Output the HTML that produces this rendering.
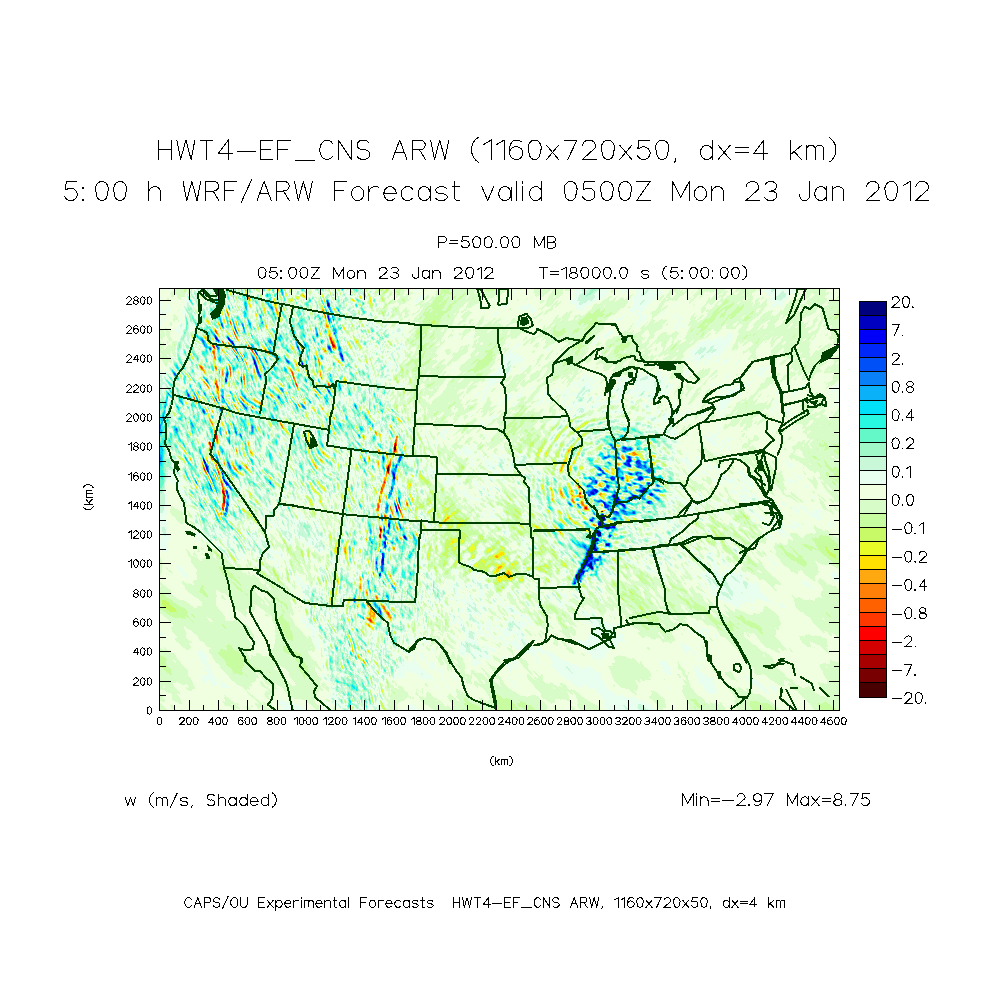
<!DOCTYPE html>
<html><head><meta charset="utf-8"><style>
html,body{margin:0;padding:0;background:#fff;width:1000px;height:1000px;overflow:hidden}
svg{display:block;position:absolute;left:0;top:0}
</style></head><body>
<canvas id="fld" width="680" height="422" style="position:absolute;left:160px;top:289px;width:680px;height:422px;background:#dcfcd0"></canvas>
<script>(function(){var c=document.getElementById('fld'),x=c.getContext('2d'),W=680,H=422;
var im=x.createImageData(W,H),d=im.data,P=[72,0,0,120,0,0,168,0,0,212,0,0,255,0,0,255,56,0,255,96,0,255,128,8,255,168,16,255,224,0,232,252,40,200,250,104,200,252,160,216,252,200,240,255,224,232,255,240,200,248,216,160,248,200,100,248,200,40,248,224,0,224,248,10,176,248,10,128,248,0,80,248,0,40,248,0,0,248,0,0,192,0,0,127],A='ABCDEFGHIJKLMNOPQRSTUVWXYZabcdefghijklmnopqrstuvwxyz0123456789+/',L={},i,p=0;for(i=0;i<64;i++)L[A.charAt(i)]=i;
var s='OGPBOAPAOCNJMCOANAMAOAQAOAPDQBPAQAPBOANBPARAQCPAQASAQAKBNCOERASAPAKBRASAQAPARASAPANAMBPASAQANAMAJANAPARATARANBQARAOALBMBNAPARASBPAOANAKAIALAPASATAQAOAPALAIAMASAWATAPALAMAPAQAOAMAKALANBOAQBOANBQASATASAQAPAOBNCOCPARBSARAPBRASARAOAMANAOAMBPAQAPAOANAOBMALAMAPASAUASAPAOANAMANAOBPARBSCRAQAPARBQAOANAMBNFOBQBNAMDLANCLBMANAODNDMCNCOBNAOIPCOFNAOLNCMINKMANNOBNBMBNDMINJOBNBOFPBOCNBOLNLOANDOCNIOBNFOBPIQDPBQCRFQBPJOBNAOBNAOGPEOHPLQBPEOBPEOJNBMCNDOGNAOJNaOENCOCNUOANCOEPEQEPTOKNTOHPAOLPAOENJMBNAOANBPAQAOAPAQAPCQAPDOBPAQARAQAPCQASAQAKAIANAOANAOANBPAOAQASARANAKAOARAQAPAQASAQAOAMANAPASARANBIALAQBSARAPAOAPAQAOAMCLAOAPAQASBPANALBJAMAPATBQAOAPALAIALASAWAUAPALBPCMALBNAPAOBPBOBPASATASARAQAPAOANDOAPBQBRAQBPAQARBPAMANBMBOAPAOANBPBNALAMAQARASAQAOBNAOCNBOARBSATASARAPAQAPAQAPAOANAMANAOCPBOAPBNAMALAMBLAMANBMALBMANAOCNDMCNFOCNAOFPBOFNAOLNDMHNZOBNIMGNMOHPBORNPOCNJOBNFODPGQBPAQERFQBPKOBNDOGPEOIPJQBPFOAPEOCPAOFNJOANBOCNBOJNZOFNBOCNUOBNBOEPFQDPUOJNTOHPAOQNLMBNAOANBQBOAPAQBPCQAOBPBOAQARAQBPAQAPBRAQALAHALAOAPBNAMAOBPASATAQALBQARAQAPAQBOANBQARBOBJAKAPAQASBQAPCOBNAMBOAPBQBPAOANBMAOAPARASAQAOAPANAKALATAVAUARAOALAOAPBMALAMANAPAOANAPARBOAPAQARAQARCPANAMBNAOAPEQBPBQBPANAOANBMANAOAPAOANAOAQAOANAMAOAPAQBPAOAPDNALAMAPARBSBQFOBMANAOAQARAQAOAPAOAMDNAOAMANAMBLBMANAOANBOCNAMDNEOCNBOEPBOSNDMINCMANVOBNKMANPOIPAOSNOOCNKOLPGQAPAQFRDQCPKOCNCOHPCOAPAOJPHQCPKOCPBOENNOBNBOJNHOANBOANEOCNFOANDOGNCOANPOIPGQBPIQBPLOINUOOPAOINOOAPAMANAQBOAPARAQBPAOBPAOAPAQCRAQBPAQBOAPBNAHAJAPARAQANALANAPBSATAQAMAKAPAQBOAPAQAPANAMAPARASAPAOAKBPAQARBQBOFNAOAPAOBPBQAPAQBPBQASAQAOAQARAMALARAUAVATAPALANAPBMBNAODPASARAPAOBNBPARBPANAMBNAOAPBOBPARAQBNAOAPBODNALAOAQAPANAOARAPBNAMAOBQAPFOAMBOARAQHRAQAPAOANAOAQBPBOANAMCNAOBNBMALAMBNAOBNCOBNAMDNDODNEOBPAOTNEMLNUOCNaOFPBOUNOODNKOKPIQFRDQCPKODNBOIPAONPGQCPKOBPCOFNDOBNKOFNAOCNHOFNAOFNEOANDOFNBODNNONPNQCPHOAPBOINVOANBOLPAOHNPPBNBQBPBRBQAPAOANAOCQARAPBQCRAPANBPAOAJAIAPARAQAOALAMAPBRASAQAOAKAMAQBOBQBOALANARATARAOAMAJANAPBQAPCOCPBOANBOBPBRASARASAQBOAQARAQATASANAKAOATAVATAOALBOCNAOAPAOAPBQARBPAOAMALAMAOAQBPANAMBNAPBOCPAQBPAMBOAQAOBPBOALAPAQBOBQARAPANALAOBQCPFNBOAQAOAPAQESBQAPANAMAOBPBNBMANBOAPAOANAMDOAPAOANAMBOCNBMCNDODNEOAPBOTNDMCNAMHNLMBNIOANZOGPBOCPAOTNLODNLOKPHQFRDQCPLOdPFQCPPOFNDODNIOJNHOMNEOBNCOFNBODNNOOPMQFPEOBPBOCNBOCNHOBNPOVNCOBNIOAPAQAOANAPARAQAPAQARAQBOANBOBRBPAOAPAQARAQAPAMBPAOAMAIANAQARAQAKAMAOAPARATARAOAKAMAQBPAOAPAQAPAMALARATBPAOAJAKAPANAQAPAOAPAOBPAQBOAMALANAOAPAQATAVATBSAPAMAOASATBRAOAKAMASAVATAOAMAKAMAOAQAOANAODQCPAMAJBKANAOBPAOAMANAOAPBNAOAPAOBQANAMALAOAPAOAPAQARAPALANAQARAQANAOARAPAOAMAOAPARBPAOBPAQDNAMANAOAPAQBPBQASBRAPAOALBOAPBOANCOAPBNBMANBOAPBOANAMANAODNAMCNCOCNEOCPAOFPAOMNDMCNBMBNDMANLMBNeOANDOHPAOCPAOUNEOANDOENLOLPFQGRDQCPLOZNAOCPFQCPPOFNDOENHOJNIOLNDOCNDODNDOCNFOANHOOPLQGPDOCPBOCNAODNHODNMOCPAOSNCOCNHOAPAQAPANBQBPBQCOANAMANAOAQARAPAOAPAQARAQAPANALAOAPAMAJAMAPARAQAKAMANAOAQASARAOAMALAQARAQANAOAQBOALAPASAUARAOAKAIAKANAQARAPBOBPARBOALBNAOAPASAUAVATASATAOAMAOATBRAPBLAMAQATBPAMAKAMAPAQAPANBOBMANAOCLAJBIAKANAOAPBNBPCOEPBOAKAMAOBQARBQANAMAQARAPAMANAQAPBNAOAQBRAPAOAPCRBQAOANAOAPAQAPAMBOAPARASBPANALBNAOAPAOBNBPAQAOAMBNAMANAPBOANCOCPAOANGOCNDOJPCODNBOGNCMBNBMBNQMBNDOBNYOBNCOENAOFPBOUNDOBNCOENLONPDQGRBQGPLOWNBOCPFQBPPOCNBOBNDOENGOKNEOCNBOKNCOBNFODNMOANIOANAOMPDOBPEQHPDOCPAOCNAODNHODNLODPBOSNCOCNHOAPAQARAOANAOARAQAPAQCPANAMANAOAPARAQAOBPAQBPAOALANAPANALBPAQAPAMALANAOBSBPAOAMAQASAQAMBQARBNBSATBQAOAIAHAMAOASARAPAOBQARBPAMBOAPBRATAUATARASAPANAOASBQAPBMALAOAPATARANAMANAQBPANCOAMALCMANALAKAJAIAMAOBPBOAPAQBPANAOCPARAOAKBOAQARBQBPAMAPCNBQARAQAOBQAPBQAPBOAPDOCPAQANALAKALAOAQASBQANBLAMANAPBNBOAPBOANAMBNAOAPAOANCOFNBOBNIOJPDOCNCOCNBOANCMFNJMBNDMCNDOBNQOANGOBNCOLPBOWNAODNBOFNEOANEOOPDQGRAQHPKOCNCODNAOKNCOCPXOCNCOBNDODNFONNCOCNBOKNCOBNFOCNZOSPCQKPDOKNIOCNLOEPAOGNBPBOJNAODNDOFPASARANBQARAQAPAQAPBOANCPAQBOBPAQARAQAPAMANARAQANAKAPAQBOAKAMAOBSATAQAPAOAPASAPAMALAPASARAPAOASARATASARAJAGAIAOARASAQAOBQASBQAMANAPBOAPARDSBQAOBQCPANALAMAOASBOBNAOCNAMAOAPAMAKCMAOBMALAKAMAOBQARAPBRBQANBOANAOARAPAMAJAOARCQAPBNAMANAOCQARAPAOBPAOAPARBPBNBOCPAQBPBLAJAKAOAQDPAOALAKANAPAQAOBPCOANAMALANCOANBOBPAODNAOCNHOBNAOGPEOBNDOBNEMHNDMANDMCNCMCNDOBNQOBNFOPPCOjNEOBNDOOPDQQPFOAPBODNCODNAOENAOENDOBPWODNCOBNFOBNFOLNAOBNBODNAOHNAOBNDOANCOANBOCNUOANEOINBOGPDQJPDOKNIOCNMOLNBOAPBOENBOINCOGRASAPAOBQDPAOCNBOAPBNBOAQASAQAOAMAOASBOAKAQARAQAPAKALAOBRATARAPCRAPANALAOARBSAPARAQATBRAMAGBMAPATARAPBQASARAPAMBPAQAPAOAPAQARATBRAPAMAKAMARCOAMALANAQATARAPAMDLBNAQAPALAJAKANAPAOCNAMANAOAQASAQBSARAPAOANAOANBRBOAKAMAQARBPAOAPAOAMANBPCRAPAOANAOAPAQARBQAPAOAMALAMAOBRCPANALBNAPCQAPANAKBNAPAQBPDOANALBMANBOBNAOAPAOBNBODNCMANEOANBOFPFOANDOCNDMHNDMBNDMBNCMCNEOANEMBNJOCNBOTPBOPNAOTNJOOPEQPPFOAPBODNCODNBODNDOBNDOCPVOENBOBNBOBNJOKNBOBNBODNAOHNBOANGOCNBOBNUOBNEOENBOANBOGPDQIPEOJNJOANROINBOBPAOFNBOKNAOCPBOBQATASAOCQDPAOAPAOANBPBNAMAOAQASAQANBPATBPAKAPARBOALAKAOAPAQASARAPAQAOAQBPAMANAPAQARAQARBSBRAPAJAGAKAPASBRAQARBQAPANAMAOARAQAPAQARBTAUARAOALAJAMARCPAMALANAQATASAPANALAKDMARBNALAMAOBNAOAQAOANBPARATASAQBPAQAPAOBNAMAPASAPAMALAPASATARAOAPBNAMANAQARAQARAQAPAMAOAQBRCQAOANAKAJAKAOAPASATARAQAOBPFNAKBMAOARASAQAODNAMALBMANAOFNCOCNDMCNEOFPFOANDOCNEMHNCMBNIMCNWOCNBOdNAOGNAOTNIOOPGQOPFOBPAOCNDODNCOCNEOANDOCPVOENBOBNCOANKOMNCONNIOCNFMANQOCNFOCNCOBNAODNAOBPFQGPEOINJOBNSOCNCOBNBOCPAOWPESAUARAOBPAQCPAODNAOAPAOAMAOAQARBOBPASAUAQAMAOAQATAQAOAKAMAPAOAQARAPBOAPARAQANAMANAPAQBRBSBRAQALAIAKAPARASARASARBQBPAMANAPARAQASAUASBTARAOALAKALAQBRAPANALANAQATARAPANAMALAKAJAKAMAPARAPDNAMAOAQAPAOBQARAUBQAOBQBPAOANAMANATASAPAJAOAVAXAUAPBQAOANAOAQARAQASARAOAMAPARAQARBQAPBNBKAJAKAOARATBRBQAPAOAPAOAPAOANAKAJAMAPASBQAOCNCLBMAOENBMANBOBNEMCNDOFPEOBNCODNEMHNBMCNHMCNWOjNAOWNDOBNHOBNAOMPFQKPBQBPFOENFOBNDOBNKOCPBOAPIQBPHOFNAOBNGOCNAOBNBOMNCONNIODNEMDNNOBNGOCNDOFNBOBPKQAPDOINKOBNKMANHOBNCOBNFPBOWPDQATBPAOBQARAQAPAOEPAQAPANBQARASAQAOBRAUASAPANAQATASAPAKALAPANAPARAQAOCRAPAOAMANAOAPBQBTAUASAPALAKAMAPARAQARATASARAQBOANAMAOARBTAVASAQASARAOAMAKALANAQARAQAOALAPARBQAPANAMBLAKAMAOANAQBPAQAPANAMANAPCQARASATBPAOBPARBOAMBOASATAOAJAMAVAZAVAPAQARAPAOBPAQARASARAOBPASARAQBPANAOAQAOANAKBOAPARASARBQARAPCOANAMAKAJALAPARASAQAOCNCMCODNAMBNDOANFMBNBOGPEOANDODNBOBNAMHNAMENGMCNWO7NDOBNHOBNBOBNAOIPJQGPIOFNMOANLOCPAOBPHQBPHOINEOXNBOONHOCNFMENJOANLOCNCOFNCOBPCOAPKOFNLOENJMANHOCNKPBOWPBQAPBRATARAOBPAQBPAODPAQARAQAOANAPARASARAOANAQAUAVASANAPATBPALAKAOAPANAPAQAPBOAQAPANDOBPAQAUAVATAPAKBOAPAQBPASATARAQBOANAMBOASAUBTARCOAMAKAJALAPARBPAMAOARAQARAQAPAMCNAOANAMAPASAQAPBOANAMAPAQARASCRBQAPAOAPARBOAMBOAPATAPAMALATAZAXASAPASAQAPAOBQARCPAQARBQAPAOBNBQBPAOBPAQBRAQARAQASBQBOANAMAKBLAOAPAQBPAODNAOANCOBNAMBNEOBNHOGPDOBNDOCNCOBNBMGNAMFNFMCNJOCNJOSNBOHPAOeNCOCNHOANBOBNBOIPIQGPGOHNaOFPGQBPHOJNDOXNBOONHOCNBOBNBMENEMANDOBNKOANAOBNEOCNCOGPKOENJOGNSOCNLPCOVPBQBOAPASATAQAOBQBPAODQARBQAPANAPARCOANAQAUAWATANAPATAUAPANAKAPAQAOBQBPANAPAOANAOFQAUAWAUAQAKAJANAOAQBPAQASBQBOAMALAMANARASAUAVASARBOAMAJAIAKAPARBQANAMAQARBQBOANFOASAQAOBPAOANAPARASATBRAPBQBPAOAPARAPANAMBOASBQALASAZAaAWAQCOCPAQARAQDRAQAOANAOCPAQBPBQARAPANAMANAPASAUARAPAOANAMALAKBMANAPAQBPCODNDMBNDOENFOHPAODNDOANIMGNBMENFMCNJOCNJOSNBOEPEOTPAOJNAOENGOANFOKPHQDPIODNAOCNaOFPGQBPGOKNDOKPBOLNAOPNBOANDOCNBOCNBMDNEMBNCOBNNOBNEOBNEOFPJOENJOHNRODNLPCOEPAONPAOBPAQBPAOAQASARAOBPARAPAOANAOBQARBQAOBPARAQBPAOAPAUAVASAOAQASAUAQAPALAOAQBNAPARAPAOBPANAOAPBOBNAQAUAVAUARAMAJAKAOAQBOAPAQARBQAPAMALBMAOARATAVATBSAPAMAJAIAKAOAQASAQAOALAPARCQAPAOAPBNAOANAOAQBOAPAQAPAOAPARASATBSAOBPAQAPAOBQARANALAMANAOASAQAMAQAYAbAXARAOAPANAPAQAPAQBRBQAPAQBOAMAOAPCQAPCTBPAMAKALAPASATAQAODMALAKALANAOAQARAPEOBNAMCNBOINBOHNAOFNOMHNAMENEMCNKOCNHOHPBOKNBODPGOSPDOMNGOANFOFPAOGPFQCPIOCNfOGPGQAPGOKNEOJPBORNAOJNBOCNBOCNBOCNBMCNEMDNIMANIOANEOBNFOEPKOCNLOCNEOBNNOGNKPBOFPBOMPBOAPAQCPBQBPAOAPAQBOANAOAPBQBPAOAPAQBPBQAPAQATAUASAPAOAQATARAQAMANAPATAPAOAQBOAPAQANBPAQAPBOAQATAVAUASAOAJBOAPAQAOAPAQBRAQAPAMALBMANAPAQAUAVAUATAQAOAJAIAKAOAQASAQAPALANARBQAPAOBQARAQAOANBOAPBQARBPAOAQBSATASAOAMAPAQAPANAOAQASAOAMBKALAPARAQAPAYAbAYARANAMAOAPAQBPARASBQAPAQBOAMAOAPDNBOASAUASAOAKALARBQAOBPCNALAKALANAPAQARAPAOAPCOBNAMBNAOKNAOONBOCNJMONDMCNLOCNGOEPAOBPBOQPGOPPHOLNGOANBOBNBOQPLOFNKOANUOGPNOLNDODNAOEPBORNAOJNBOINFMBNEMENIMBNHOANNODPEODPBODNSODNLOFNMPBOEPCOMPAQAPBQDPEOAQBPAOBPGQBPBRAQBSATARAPAMAOASBPAMANAPAVARAOAPARAPAQARAOAMBQCOAPASAVBRAQALAJAMAPBOAPAQAPAQARAQAOALAKAMAOANAPASAVCTAQAKAJAKAOAQATASAQAMALAPARAQAPAOBPARASAOANAMANAQAPARASBQANAOAPARASARAOAMANAPBOBQARAQANAMAJALANATASAPAVAYBRAOAMANAPAQARAQARASBQAPAQCNAOAPBQAPANAMAOARATASAOANAOASAQAOANAOAPAQAPANALBMAOAPAQBPAOENAMCNAOFNAOBNBOUNHMPNDMDNKOCNFOFPAOBPBOQPBOAPDONPJOLNBOBNBOBNCOANBOSPJOGNKOANTODNAOCPMOLNDOCNCOJPAOXNBOINFMBNCMGNFMANBMCNVOEPDODPBODNOOANDODNKODNPPBODPAOAPBONQBPAQARAQARAQAPANAOCPAQBOBPBOAPAQBPAQARAQBRBQARATARAPAKANAQASAOANAMAOAUBPBSAPBQAPAMALAOAQBPAQARAVBRAPANALAMAOCPARAQAPARAQBMAKALAMANBQATAVAXAVARAMAIAJANAQATAUAQANAJAMARAQAPAOANAOAQASAQAOANBQARAQASARBOAMAOAQARBOAMBPBOAPAQARAQANAMALAKANAUATAQAPAWBUAQAOAMAOAQATBRDQARBQAOBPAQCNAMAOAPARAQAOAPARASAQANCPCNAMALAMAOAPBOCNAOCNAMBNAOBPBOBNFOGNAOMNBOANDMBNCMLNDMDNIOENEOFPAONNAOFPBOCPAOMPMOBPBOGNBOGNBOBNAOTPJOFNfODNBOBPNOLNDOBNCOiNDOGNEMCNCMGNFMFNVOGPAOLNNOCNDOANKODNJMANGPBOCPBOAPCOMPAQCRDPANBOCPAQAPCQAOAPAQBPBSBRCQBSAQBKALANARAPAOALAOASAVAQAOARAQAOAPAQAOAMBPBQBRAUAVARAPAOANBOCPARAQAPARASAQANAKAJALANBOARAUAWBSAOAIBMAQASAUARAOAJALAQARAQAPANAMAOASBOANAOAQASAQBRATAQAMBPARBOANAMAOAPAOBQBPAMCJALAPATAQAOASAVBRAQALAKAQATAUATARAQAOARAQCPBQARAQBOBPAOAPAOAPAQARATASAPANBOBPAOANAMBOAPAOANCOANCMBNCOAPAOANDMBNBOFNBOFPAOFNAOBNCMBNDMKNDMDNIOFNAOfPAOJNAOFPAOBPCOAPFOAPDODNDOGNCOWPIOGNGMANUOJPOOKNDOANDOiNEOFNEMCNBMGNGMGNOOCNCOTNMOENOODNJMANGMAPBOBPBOCPBOJPAOBPAQARAQARDQAPANBOBPAQBPAQARAQAPAQBPBSATASARCQARAQBLAJAMAQBOAJANAQAUARAOAPAQANBQAPANAMAPARAPAQARASAVASAPAOCPBOAPARBQBSARAOAKAJALAPBOAQARAUAVATAQAJAHALAPAQATASAOALAKAOARAQAPAOANBRATAQAOBQASARAQARATARANALAOAQBNCOAQAOBQBPAOANAMAIBLATASAQAPAVBTAQANAJAMAQATAVASAQANAQBPBOAQARBQAPBQAPAOBPAOAPAQASATARAOEPAOANCOBNCOANHOAPBOANAMDNBOENCOFPAOENAOBNCMBNBMBNBMINEMDNHOENCOePAOJNBOHPBOCPCODPDOCNAOBNAOFNEOZPEOGNFMCNDMANOOJPGOAPGOKNEOANBOkNEOANAOBNFMCNBMBNBMCNGMGNOOCNDOTNGOANDOFNOODNRMAPBOBPCOCPAOGNAOBPBOAPBRDQDOAMANAOBQDRBPBQAPAQASATBSARASARAQBPALAJAMAPARAPAIAKAPARBOANAOANBQARANBQARAQAPASBTASAQAOCQBOBRATAQAPARASAQALAJAMAOARAPBRASAUATAPAMAHAJANAPARASAQAOALANAQBOCNAPARBOAPARASBQBSARAOAMANAPBNBOBPAOBPAQAPAOBNAIAGALASAUAQANARAVAUARAOALAKAOARAWATAPAOAPAQAPAOAPAQARAQAPBQARAQAPAOAPAMANAPARASBQBPAODNAMBOAPANAMANCMANBMBNAOAPCOANAMANBMANBODNGOHNBOANDMANBMBNCMINCMENIODNCOBNAOxPAODPBODPEOKNFOTNAOFPDOFNGMDNCMBNNOKPFOCPEOKNHOBPAOiNDOANIMDNAMBNCMBNGMGNOOCNDOHNBOGNBOANFOBNDOANBODNNOENQMBPAOAPEOCPAOKPAOAPBQARAQFPANAMAOBPAQCRASAPAOAPAQBRASAUBTBSAQBOAMAJALAOARAPAJAHAOAPAQAPANAMANBOAQAPAOAPAQARASAUATASBQAOBPAQBNAMAQATAQAOAQATARAMAKBNASBPAQBTBQAOAIBLAOAPASBPANBOCPBOBPAQCSBTARAQARBQAOANAOAPANDPAQAPAOAPAODKAGAJAPAVARALAOAWAVATAPANAJALAQATBQAPCOBPCQGPBMBOAPASATBRAQAPAOBPAOANBOBNDMFNAOAPCNEMANCOBNGOHNBOBNDMANAMCNBMPNKOBNCOCNCONPAOsPEOGNAOBNDONPAOFNBOPNGMENAMCNNOLPEODPDOINIOCPBOiNCOBNHMDNAMBNDMANGMGNLMBNBOCNCOFNEOGNIOBNHOCNNOENQMBPGOOPERBQDPARAOAMBOAPAQCRASAQAOAPAQBRASAUBTBSAQAPANAOAKBOAQAPALAGAKAOAPAOANCOANAPBOBPARATAUBSARAQAPAOAPAQAPAOALAOASAQAOAPATASAOAKAJAOARATAQAPAQASAUASAOAJAIAJAMAOASATARAOANAMANAPAQBOBNAOAQASCTASAPBRAQAPANAOAPAOAMCOAQBODPAQAOAHAFAMAVAUAPAMASAUBRAOALBNAPASBPCOEPAQFPBLBOBRATBRAQAPAOAPAQAPAOFNAMANAMALBMBOBQAPAOANIOANBOANDOHNBOBNDMFNAMPNLOBNBOBNGOWPBOiPBOGNBOBNCORNBOANCOONBMANDMINGMBNEOOPBODPDOINIOCPBOjNBOENEMGNDMBNFMGNLMBNCOANEODNFODPAOBNIOBNIOBNNOFNPMCPDOAPBOOPDOAPARDPAOAQBNAMANAOAQBRBSARAOBQBRBTAUATCQBPBLAKAPAQARAOAHAIANBOGPAOANAPAQASAUAVATARAQAPAOBPBOAKALAQARAQBSBRALAKAOAQATASAPAQASAVATANAKAIAJALAOARATASAQANCOAPAQAPAOANBPARASARATBQAOARBPAOBPAOALAMBOARAQAPEQBKAFAMAUAWAQANAQAVATASAOAPAMAKANAPASARAQAPAQAOAMAOAPCQCRAQCMAKAOAPARASBQAPDRAQAPAOANAOAPAOANAMANAMALBNBOAPAQAPAOBNJOCNCOENCOCNDMMNAMHNIOBNBOFNGOVPEOBPAOlNCOBNCORNFOONBMCNBMJNFMCNDOPPAOCPFOHNIOCPBOLPBOPNAOLNFMFNCMDNEMFNMMCNHOCNHOFNiOGNQMCPDOJNAOHPBQAOBQARCQAOAPAQAPANAOBQBRASBRAPAOAQCRASATBSBRASBPAOAKAPAQATAOAJAHAMANAOAPAQAPDOAPAMAOAPARAUBTARAQAPAOANAOAPAOAKAJAOARATASARASBOALAMAOARASARBSAUBOALAIAJALAOAPASATARAPAOANBPAQAPANDQASATASATAQAPARBOBPBOAMCOARAQBRASAQAPBQAMAGAKASAXATAPBUARBQAPAOAKAMAPARCTARAPAMBPDQARCQAPANALAOARBQAPBOAPBQARBPBOBPAOANCOAMALAMAOAPAQBPAOBMBNHOCNDOCNBODNEMMNAMGNDMANEOANBOFNGOVPEOjNAODNCOBNBOSNFOINAOENBMRNBMDNDOIPAOFPAOCPFOCPBOFNFOCPBOLPBOPNBOLNEMFNCMDNDMGNMMBNIOCNHOFNEOANcOGNAOANOMDPBOAPAOINCOGPBQAPANAPARDPAOAPBOANAOAPAQARATBQAPAOAPAQCRBSARASBTBRAPAMAOAPATAQAMAHANAOAQAPAQDRAQAPAOANAPARAUBTAQBOBNBOBMAJAMAQAUBSARATAQAMBOAPARASBRASATAQANAKCMAOARATASBQANAMAOAQBOBNBOARATASARBQARAPAOBQBPANCOAQARBTBRAPBRAPAIAHAPAXBSAOARAUASBQAPAOANAPAQBSAVATAPAMBPAQDRCPAOBNAPAQBOBPAOAPAQAPAQARAQAPAOANAOFNALAMAPAQCPAOANAMBNBOBNDOCNDOCNAODNFMTNDMBNHOENGOONAOGPAOBPAOoNCOQNBODNGOENFOBNCMRNAMENAOLPBOEPAODPBOBPHOENEOCPBOLPCOONBOGNCOCNEMENCMENCMHNHOANCMANJOCNIOANAOCNDOCNaOHNAOANMMANBMCNAPAOBPAOCPAOENDOGPARAQAOBRCSAQAOBPAOBPBQARATBQAOANAOAPCQARCTAUCSAQAOANAPATASAPAJAMAOARAPBRCTASAPBNAOAQAUATBRAQAOANCOBNAKAMAPATAWATAQARAPANBPAQBRASBQASATAQAMAKCNAPASATBQAOAMANAQASAPAOBNAOAQASARAQASARAQBPBQASAQAOANBOAQATASBTASAQBSARAJAGANAXAZATAOAPAWAUASAQAPAQAPCRBTAUAQAPAMANARBQBRBQAOBQAPDOEPCQBOANDOAPBOBMANAPENAMBNBOAPAOBNCOBNDOHNBOANBMANCMQNFMBNFOENGONNBOjNAOONBORNBODNHODNKMRNBMCNBOLPBOEPAOIPHOENCORPCOONCOANBOCNCOCNEMENDMDNDMANBMDNHOANBMCNBMANFOCNSOCNBOCNROKNAOBNLMANBMDNAOCPBOINDOFPARBOANAQARBSARAPCOANAPAQARBSBPANCOAPAOAQARBSATAUCTAQAPAMAOARAUARALBPARBPARBSAUATARAOAPAOAPASATASBQAOANCPBOAMBPARAVAUAPBNAMAPAQAPBQASBQASAUASAOAKAJAKANAOARASBRAPANAOAQASARAPBOBPARCSARAQARAPAQBSBPANBOASATAQARASATASARBQAKAGANAWAZAUARAQAVAUATAQBRCQBPAQATASAOANAMAPAREPAOAPARAPAOHPCQAPAOANAMBOAPCOAPBOCPAOBNDOAPCOANBOCNCOHNBOANBMBNCMPNGMANFOFNFONNCOiNBOLNDORNCOCNHOENCOBNEMNNFMBNCOLPCOKPAODPFOFNBOSPBODPDOHNEOCNCOCNEMFNCMBNBMANCMBNAMDNHOBNAMFNEODNSOCNBOCNROKNAODNIMBNBMDNBOCPBOHNEOBPBOCRASAPAOAPARBSBQAPAOBMANAQASARAQARAOAMBNAOAPAOAPASARASBTASAUBRAPAKANAQATASANAKAQARASAPAQBSATBSAOAPAQAPAQARBTARAPANBOAPBOAMANAPBTAUAQANCQARAPAOBQASARASAUASAPAKAJALAMBPARCPAOBPARASAQARAPANAOAPARASDRAQCRATAPANBPASBPBQAUBRAQAPAMAIAMATAZAWAUARATAUATARAQARASAUASAOCRASAPAOAMBQARASARAPBQCOANAOAPAOANBOCQAPBOBMBNAOAPAOBPBQANBPAOBNBODPCOANDOKNEMBNCMQNNOHNDONNCOJNBODNAOLNBOCNCOMNBOSNFOANGOENBOBNEMNNKOJPEOKPBOCPGOFNAOSPBODPEOGNFOBNCOCNCMANAMFNKMBNBMBNJOANAMFNEOENSOCNAOCNNOONBODNHMBNCMCNCPAOBPCOGNEOAPCOCQASAQAOAPARCSARAQAPAOAMBQASARAPAQANALBNBOAPAOARASBQBSAUAVASANAJAKAPATASAPAJAMASAUAPBNAQASATBRAPAQAOANAQAPATBQAPAOBPAQAPALAMAPAOASATARANAMANAPAQAPAOBPASBRATARAPALAKALCOAPAQASAQAPAOAPAQASBRAPAMANAPARASATBSBQAPAQARASAPAOBPARAQAPANARASATAQCPAKBRAYBVARASAWATASAQARATAUASAODRAQANBMAOARBQAOAQBPAOBNBOBNAODPAQAPAOBNBPAODPBOANBOBNAOCPAOBPBOCNCOFNAODNDMANEMPNNOINCODNCOGNDOINBOCNCOEPAOENCOBNDODNAOONAOLNGOANFOENBOBNDMINBMENJOGPAOCPDOLPBOCPFOFNBOHNBOBNAOMPCOHNEOBNBODNBMJNKMANQMDNEOFNDMANOOFNOONNDOCNLMBNEPBOAPCOGNBOCNAOAPBOCQASARAPBRBQASBRAQAOBMAOARBQAPANAKAJALANAPAQAOAQARASAQANARASAVATANAKAJAPASATASAJBQAUASAQAKANASARASBQBPAMAOAPASAVASAQAOBPAQBNBQAOASATASAPALAMAOAQAPAOANAOARASARBQAPAMALAKALAMANAPAQASARAPAOBQASBRAPAMANAPASATAUATASBRAQEPBOAPAOBNAQARBQBSARALAJAOAWAYAVASAQAVARDSBRAPAOBNAPAQAOBNBQBPDOBNAMANAOGPAQAPANBOAPBNAMANAOCNAOCNAODPAOGNBOBPBOBNAODNJMFLAMCLBMENAMANLOHNDOCNDOFNEOBNAOENBOBNDOKNIOTNAOBPAOINGOANGOCNIMJNAMFNCMBNDOGPAOCPBONPBOCPGOFNDODNHOLPCOINGOBNDMJNKMANQMDNEOENKOBNHOFNOONNEOCNCOANOPBOLNAOCNAOAPBOCPASBPBQCRASARAQAPAOANBQARAQAPAOAKAJBMAPARAQBRCLAMARAVAUAPAMAJAOARAUASAIAGAOATAUAQAKBRCTASAQAPALAMAPAQAVAUARAPAOAPAQBNBQAPASATAUARAMAKAOAQAPANAMAOAQASARAQAPBNALBMAOBPAQARBQAPAOAQASBQAPANAOAQASATBSARASBRAQAPBQARAQAOBNAOCQARASARBQAMAKANAUAXAUBPASAPAQARASAQCPCOANAPBOAPAMANAPBQAOCNAMALAMAOAPAODPBQAPAOBQAPAOAMALAMAOBNBOBNAOAPBODNCOCNBOBPBOGNIMJLDMENMOFNEODNCOGNDOGNCOBNDOLNHOTNAOMNZMVNDOGPAOCPAOUPBOAPCOFNEOCNHOMPCOHNGOBNDMJNKMANLOANMOENJOCNHOFNPOINAODNDOCNCOBNOPAOINBOHPBOCPASBQAPBQAPAQASATARAQAPAOANAOAQCOANAKAJALANARBQARAQASALAJAQAUAVASAPAKAMAPAUARAKAFALAQAVAQAKAJAPASAQASATASAQAMBQAPAUAVATAQAPDNBRAQARAUAWASAMAJANAQAOANAMANAPARBPAOAPAOANCPBQAPAQARAQAPCRBQAPBQASERBSBQAOANAQARAQANAOBPAOANAQARAUARAPBMAKAMARAVATAVAOAPCSBPFNAMANAPCNAMAPCOANAOANAMBNAPAOAPAOCPAQAPFNAMALAMANCOCNAOAPBODNAMANAOAPAODPCOFNAOFNDMHLDMDNNOFNCOGNBOGNEOENDOBNCOMNHOTNAOMNZMVNEOfPBOBPBODNAOANEOBNIOMPCOHNMMJNKMBNKOBNLOENJOCNHOGNUOCNAOENCOCNCOCNOPAOINBOHPCOBPASATAQAOAPBQAPAQATASAQAPCNAPBQBOAMAKBMAPARBSARAQANAIALASAXAVAPAMBOATASAOAGAIAOAVASAMAIAOATARAQAUAVARAOALAPBTAWAVARAPAOBPAMBRBSAUAVASANAJANAQAOBNAMANAPARAPAOAPAQAPBOAPAQARAPAQDPBQARAQCSAUASARASBRAQARBQAOANAPAQBOAPAQAOBMARASATARAOANALAJAKAPAUASARAPAOAQAPASARAPAOAPAOCNAMANAPDMANAOAPAOANBOANDOBPCQAPCQAPBOANGOBPAOCPAOBNBMBNAOAPAODPCOENBOFNDMHLDMDNNOENCOHNBOBNAOCNEOENEOANDOANBOINDOFNBOdNaMDNBMNNGObNAOBPEOENAOBNOOCNAOIPCOEPBOBNLMDNCMBNLMBNJOCNLOENIODNHOGNIOBNKOANCOENBODNCOCNOPAOINBOGPBQAPAOBPASBQAPFSATAQBPAQANBPAQARAQAOAMCOARAQASBQBJAIASAYAWAQAPCSATARAJAIANATAUAPAIAMATASAQATAWAUAPAKANARATAWAVARAQAOCMALAQASBTCQAJALAQAOANBMBNAQBOBRBQAPAQARBQCPBQARDQARASATBRASBRAQAPAQBPANBPAQDNAPANARASBQANBLAIAJALARBPARAPASAPAQBPBRAOAMANDPAQCNALAOAPBOANAPAQAOAMALANAOAPAQAPAQAPCQAPAODPAOANAMANAOAPBQAPAODNAMANBOBPBOCPDODNAOGNDMPNMOENCODNBOFNAOCNEODNPOFNCOINAOBNAOaNCOBNXMBNCMBNBMINGObNAOBPFODNAOBNOOCNBOHPCOEPBOBNLMENBMBNLMBNBOBNFODNBOCNGODNHOGNFOGNIOCNNOFNBOCNCOCNPPAOINBOGPAQBPAOBPASARAQAPEOAQATARAQCOANAPBRASAQAPBOANAPAQARASBQAMAIARAWAXASAOARBSATARANAIAOASAVAPAKALARBQBWAVAPAKAMASBUAVARAQAPAOBMAKAOATCSBRAJBPAOANCMANAQBPAOAQARAQBREQAOBRATBRBQARBSAUASBTARAPAOAPAQAPAMBOARBQARAPBNAPARBQANAMAKAHAIAJAPARAPAUASBPAOARCSAOALAMAOCPAQBPAOALAMAQAPBOAQARAOANALBOAPARBPKOANAMANAOAPAQBODNAMBNAOCPBOAPAOBPAOENAOGNCMNNBMBNMOKNBOFNAOCNAOBNBODNQOANAOCNCOINEODNBOCNAOKNAODNCOBNBMANVMANCMANDMHNHOaNAOBPBOAPCOCNBOBNOODNAOIPCODPCOBNBOANHMENBMBNMMANBOBNGOCNBOENEOENGOCNAODNGOENJOBNNOFNCOCNCOBNGOBNHPAOQPBQAPBOBPASARAQAPAOAPBOCRASAQDOAPAQBSATARASAQANAMAPBRASBRAKALASAXAUAOARATASBRBKALAQAWATAMAKAPAQAPBUAWAPAMBRBTAUASAQARAPAOANAKAMASATARASBQALAIANAPANAOBNAMAPAQAPAOAPARCQCSARAQAPAOARAUATASARAQBRBTCUARAPAOAPAQAPALAMAOAQCSAQAPANAOARAQBOANALAHBIANASARAUBSAQAOARASARBQAMAKANAOBPAQBOANALAMAPBQBRASAPANALAMANAPBQBPBQAPDQBPBOANAMAOAQARAPAODNDOAPAOCPCONNCMMNDMBNLOJNCOGNAOBNBOANCOCNTOBNCOJNEOCNBOPNAOCNCOBNBMANeMGNJOZNBOEPBOCNCOANQOLPCODPCOENHMJNOOCNGOANCOENFOFNEOCNBOCNHOCNKOBNEOBNHOENCODNBOCNBOBNBOCNHORPEOBQASARAQAPAOAPBOBNAQARAQBRASAQAPARAQASATBSBOAMBOAPASBQAMAJARAUAVAQAPASCQARANAKAPAWAVAQAJANAPBOARAWATAOALAQBSAUASAQASARAPAOAKALAQASARCQAOAJALAPAOBQAPAOAPAQAPAOAPAQBRAPAOAQARBQBPAQATAUATARAQCRASAUATBSAOBQAPBNAMAOAPBQAUASAOANAMARAPARAPBMAJAIAJAOASARBUATARAPAQATASBTAOAJAKANAOAPAQBNAMANAMANAPAQARAQBPANAOANBPDQBRAQAPCQBPBOBNAOAQAPAODNAOBNAOBPGOKNEMKNAMANDMCNKOJNCOGNAOCNFOBNTOBNCOGNAOBNFOBNCOCNAOKNBOBNGMBNdMDNNOZNAOEPAODNUOMPCODPBOFNGMJNOODNJOENGOENFOBNBODNHOANLOBNEOBNHOBNFOENBOFNBOCNIOENBOKPGQASARAQAPBOAPAODQAPAQASBRAQARASERBNALAKAOAPARAQAPAIALASATAQANAPARBQAPAQAKAOAUAXAPAJAKAPAOBQAWAUAPAMAOAPARASATAQARATARAPAMAKAOASARAPAQAPAOAKBOAQAPARASAQAPBOANAPBQBPAOAPAQCRAQBSAUBRAPAQCRATDPBQCOALANAOAPAQAVAUANAMALAPBRAQBPANALBOAQARBVAUBRAQASATAUASAPAKAJAMAOAPAQAPANAMANBMAOARBPAOAPCOBPAOCPARASARAQAPAOAPEQAPCOBPBOFPCQBPDOINEMKNDOANBMANFOANDOUNAOCNGOANJOBNIOANDOENOOPNGOANBMBNHMBNLMBNFMDNOOYNBOINVOLPCOLNDMANGMFNBMANLODNJODNGOENFOBNCOCNVOANWOENCOENBODNBOANIOBNBOIPFOAPAQARASARAPCOBPAOANBOBPARASBRATASBRAQASAUASAQALAJAIAOBPBLAKAOARAPANBQDRAKAJAQAXASALAJAOAPBQAUAVAQANBOAQARASARAQASARAQANALAOAQASAPCNAMALAMAPAQARATASAQAPAOANBOAPCOANAQBPAQBRATCRAPAQDRASBTARAOAQASARAQALBOAQAPAUAVAPAMAJAOAQDTAQAMALAKANAQASAVAWAVATAQARASBQAOANAKALAODNAMANCOAQBOANAQARAPAQCOAMANAPARASBRAPCOAPAQDOBPAQBPAOCPAOBPBQCPEOGNBOANBMKNDOANIOBNCORNFOBNQOBNIOANDOENQONNFOBNDMANGMCNJMDNEMCNPOHPAOPNBOKNSONPAONNBMBNHMDNCMANCOBNGOLNAOENGOENFOBNzOENCOFNAOGNKOANCOBNAOEPEOAPAQARDPCOBPBNBOCPARASBUBRBQBUBRAPAJAFAIAOANAOAPAKALAQAPANALAOAQDMAHAOAWBPAIAMAQCTAVARAOANBPARBQAOAQARAQANAMAOAPARAQAPAOANCMANAQBSATASARAPAOANAOBQBPANAPAQAOAPAQATCSBQAPAQAPBQARASBRAPBTARAQAMALAOARAPATAVARANAJANARAOAQARAUASAMAKAJAMAPASAVBWAUARAQAPAQARAPBNALAMANEMANAOCPAOBQASARCSAPAMALANAPASATASAQAOAPCQCPAOAPARAQAPAODPBOAPBQDPCOFNCOBNAMKNDOANIOCNCOENBOJNGOBNAOANMOCNROANROHNAODNFOBNDMCNEMDNIMENEMANPOHPDONNBODNAOGNEOBNJOOPAONNCMBNGMDNGOCNFORNHODN6OFNDONNKOBNEOEPDOBPAQARCQAPAOCNAPAQAPANCMANAPASATBUASARASARASAVATARALAFAGALAOBPANAMANAOBLBQAPCQAHAJASAXAQALAKAPAQBTAVASAPAMANAPARAPAQAOANARAQAOANAOAPAQBPBNAOAPAMALANAPAQATAUASAPAOCPARAQAPAOAPAQAOAPARATESAPDRBSBRAQAPARAQBOAMAOARAPARAVATAOAKANARAOARASAUATAMAJBLANARATAUAWAUARAPAOBQARAPBMDNEOAPAOANAOAPBRASARDNALBPARATASAQAPBQBPAOBPBQARAQAOEPEQCPDOENCOBNBMCLAMBNAMENBOBNBMANFOBNCOFNAOJNGOENLOCNKOANFOBNQODNAOCNBOCNFOCNDMFNAMFNGMENVOHPEOKNDODNBOFNEODNGOSNBOKNBMBNGMCNGOGNCOSN/NFODNFONNHOANDOANDOGPBOCPAQASBQCOANCOAQARAPANBMANAOAQASBTASBTASARAUAVATAQAIAFAJANAOBPANAOCMAJAMAPANAQBKAFAOAVBQAKANAOASBUATAQANAMANARAQAPAOANAPAQAPANAPBOAPCOANAQAOALBNAOARATBQAPAQBPAQARAQAPBQAPBRBSATAUBSAPAOAPAQARASCRBQAPDNAOAPBRAVAUAPALBPBQASBTAPAKAJALANAPATAWAVBRAPAOBQARAPBOAMALAMANAOCNAOAPAOANAOAPBQARAQDPALBNARAQBPBRBQAPANAMAOAQARAQAPAOAPBOBPAQAPGOGNCOCNBMBLBMANBMDNCOANBMANLOQNFOGNKOBNKOBNFOBNLOANCOCNCOHNFOBNAOANCMLNHMBNAMANMMANHOIPEOJNJOENFOENFOHNDOGNDOINKMANDMBNCOHNBOKPBOGNhOANiOCNGOMNNOANDOGPBOBPBQASARAQCPANAMANBQASARAOANCOANAOARATBSATBRASAUBTAOAHBLAOANAOANAOAPAOAPALAKAMAOAPARAPAFAKASAVAQANAMANARASBTARAOALAMASARAOAPANAPCOAPBOBPBOANAPAQANAKALANAPARAUARAPAQASAQCSAQBSAPAOARCTAUBSAQAOAPAQARASATBRBQAOANAOAQAPDRAVAWAQAMAJAOAQAPARCQAKAJBMAOATAXAVATAQAPDQAPAOBNAMBNAPBOANAOCPDOAPAQAPBRAPAOANAOAPAQAOBPARASAQAPAOANBRBQAPBQAPAOBPCOCPCOANAOINDMALBMHNFMBNJOFNAOGNBOANEOHNfOCNKOBNAOONFOANBOBNCMKNHMANNMDNGOIPEOJNKOCNGOFNEOGNFOENGOHNJMANDMBNCOBNBODNBOKPDOGNPMAN8OJNAOCNNOANDOGPAOCPBQARBQCPANALAMANAOARATASAOAPBOAMALAOASCTBRAQATAVAWARAPAIAJANAOANAMANAPBQBLAKANBRAQAIAGAOATASAPAOANAOARBSARAOALAMAQATAPAQAOAPAQBPDOBPAOANAOARAQAMALAMANAQAUASAQBSBRAQARCSAQANAPARBSBTARAQAPBQARASATAUASARAQAOAMAOAQERAWAXASAPAKAMAQAOAPARAQBKAIAJANAOASAVAUASAPCQAOBPAOCNCOAPAOANAOBPBQAPAOFRAQAPCQAOANAPBQARCPANBQARAQBRBPAOAPCOAPAOCPBOANBPBOBPBOANDMHNBMBNEMBNJOFNBOANAOBPAOBNAOANEOFPAOBNfOBNKOSNFOANAOBNDMJNVMENGOHPFOJNLOBNGOHNDOFNGODNGOINIMBNDMBNBOBNBOQPEOGNKMANBMBNnMANTOJNBOCNNOANDOGPAOBPBQARBQENALBMANAQAUBRAQBPAMAKALAMAQARATBRAQARAUAWAXARANAJANAPANAMBPAQARASARALAKAOAPARANAGALAPATAQBNAMAQELAMAOAUASAPAQAPARAQAPCQAOBPAOCPARAOALBNAPASATAQBTAVASAQARDQANAOARDSARBQAPAQASBTAUBRAPBMANAOAQARBQBVAXATAQALAKAOCQBPAJAHAJAMANAPARAVATAPDOCPAOBPAOANAOAPANAMAOBPBQBOBNBOAPBQAPARAQAPBOBPAOAQASARAPAQAOAPARBSARBPDOBPAOCPBOANAOAPAOBPCOANDMGNCMBNDMCNJOENDOBPAODNAOBNBOBPAOCPAOBNsOSNFOANJMFNWMDNCMANDOHPFOINHOBNLOINEODNROINOMBNBOBNBORPGODNHMBNAMANCMANLOANaMANROBNAOINBODNNOBNCOJPAQBRBQAPAQCPAMAKALANAPATAVATASARBOALAJBLAPASATARAQBRAWAZAWAQAKALAQAOANAMAOARATAWATAPAKAMAOARAPAHBNARBPAQAMANAQAPAQBOAMAOASATAQARAQBPBQAPCOAPCQBRAQAMALAMAPARASARASATAVAUARAQARAQARBPAOAQARAQBSBRAQCSATASATAUARAPBOANAOAPATBRAQAUAVASAQAMAKANAOANAQARAOAMAHAIAKANAOAQAUATARAPAQAPANBOAPDOBNAOBLAMAOAPAQAPAQAPANAMANAOAPAOAQCPAQCODQARAQBRAPAQASBRAQAPCOBPAOCPCOFPBOANBOANAMGNBMCNDMCNJOENBOANAOBPAOGNBOBPAOCPBOBNCOCNlOHNAOENBOCNFOANLMCNWMENCMANDOCPAOEPDOFNAOANJOBNFMBNFOGNEODNSOINNMBNBOBNBOKPBOEPGODNHMBNYOANCOANDOBNJMBNQOBNBONNMODNDOIPAQARBQAPBQCPANALBMAPARAUBTCSAMAJAIAJAMAQASBPAMAOATAaAZAUAOALAPCNBPATAXAYARAPAMAOAPAQANAGALAOARAPBOAKAQAPAQAPARAMAOAPATASARBQBPAQAPBQAPBQCRBQAPAMALAOAQASATAUBTAUASAQARCSARAPBQBRATBQAPAQBSATASARATARAOAPAQAOCTAUARCTARAPBMANAOANAPAQBOAHAFAHALAOBSAUARANAPAQANBPAQBPCOANBOAMALANAPCQAPANBOANBOAQBPBRASAQAPAODQASARBQCRBQAPAOBPCOANAOAPAOBPBOANBOCNBOANDMENAMCNDMCNBMANGOFNAOEPAOGNAOGPAOCNBOCNWMBNEOBNFOHNBODNHOANAOCNUOANOMFNCMANCOCPBOEPBOGNMOANFMBNHOANBOBNFOCNMOBNDOINSOANBOJPDODPGOENGMBNQOANGOANCOANDOCNJMANOMANBOANBONNNOENDOHQARCQAPBQBPBOANAMBNAQARATAUAVBUAQALAIAJALANASBNAKBQAYAaAXAQAOANAPAQAPANAOAQAVAZAXAQBMAPASAOAIBOAPBOAPAMANAQDOAMAPASBRDPDQBPAQARASATBSAPAOALAMAQASATAUAVATCQBRASBRAQAOAPARASATBQAPAQBRATASAQBRAPAOAQARAQAOARAVATARAQBPBQAPAOAPAOAMAQASAPAIAEAGAKAMANARATASAOBQAPANAQARAPAOAPCOCNALAMANBOAPAOANAOAPAMANAPERASARAQAPAOAMAOAQARBSARAPAOAPDOBPBOANAOBPAOBPAODNJMCNAMDNFMANBMANBOANEOSNBOJNAODNWMBNDODNCOANAOHNCOCNFOGNSODNHMANEMFNHOCPBOEPAOGNFMBNEOANSOCNDOENMOBNCOINUOCPBOFPEOCPHOENFMBNNMANJOBNBOANDOCNWOANBMANBOANBOONKOANBOENDOGPAQARCPCQBPAOBPANAMBNAQARATAUAWBTAPAMAJALANASBOAKAJAOATAZBVAPANBOAQAOBPAQAYAbAWARAPAOAQBNAHAKAOAPANAPBLAPBRAPAQAMAPAQARASARASARAPAOAQCRAPAQBSATAUAVAQAPANALAOASBTAVAUARASARAPARASBQBPBRASBTARAQAPBQARASARAQARAOANAQATARANAPAUBRAPAOCRASARBPANAPASAQAJAEAFAJAKAMANASAUAPAMAPAQAPBRAPANAOAPDOBLAKALAMBOAPAQAPBOBPFRBQBOBPARDQAOKNBOBPAOFNAMBNFMBNCMCNIMANBOANEOTNAONNAOANVMBNDOQNBODNFOGNBOBNNOENGMBNBMANBMFNHOCPBOJNIMDNWOCNCOFNMODNBOKNNOANAOEPBOFPFOBPIODNVMANJOBNFODNVOCNDOANBOQNBOBNFOINCOFPBQEPBQBPAOBPBNAMBNAPAQATAVAXAWATAPALBNARASAPANAKANARAVAYAZAVAQAJALAOAPAOBPASAaAYAWATAPBQAOAMAJAOAPAOANAPAOAMAPAQBPAOAMAQAPASDQAOAPAQAPASARAPAQASAVBWATAPAQAMBRASBUBRCPAQASARAPAQARBQCTBQAOBPBRASARAQAOANAQASBOANASAVARAPBOBSATAUASARAOAPARBNAGAEAIBLANASAWASANBQAPBRAQANAMAOAQARAQAPAOAMAKCMANAQARAQAPAQAPBQBOANAOAPAQAPAOAQARBQCPAQAPAOBNAMAOCNAOCNBOCNAODNAMBNCMCNDMCNIMANBOBNEOCNAOcNCOANVMANEOQNAOCNCOANDOFNAODNDOANHOENNMFNIOBPBOJNIMDNVOENBOFNNOCNBODNCOENFOBNDOGPDOEPRODNIOBNKMANFOFNEOENVOBNEOXNGOFNAOANAOBNEOAPAQFPCQAPAODPAOAMCOAPATAWAXAVASAOALAMAOATAOBNAOARAUBXAVASAMAFALAPCMAPATAYAZAYASAMAPAQANAMBOBNAOAPAMBOARAQBNAOAQARATASATASAOANAQBRASAQAPARAVAWBVARAQAPANAQASARBTARAQARAQAPARAQAPAQASBPAOAPASAUARANALAOAPARAUASAQAPCQARAQAOAPATASAQBPAOASAVAUATARAPBQARAPAIADAFAHAKAOATAVAUAOAMAPDQANALAMAQARCPANALAJBLAOARBQBRBQCNAMAODPARASARBQAOBPAQBPANALAMANBODNBOGNCMANBMCNSOANEOANAOBNBOcNCOBNZONPAOFNCOBNCOKNEOANFOGNNMENIOBPCOINIMBNYODNCOENKMANBODNBOCNDODNFOBNDOEPcOENHOANEOANFMANEOCNAODNDOENDOBNPOANFODPBORNHOBNAOCNBOCNEPAQARBQAPBQBPCQAPAOCPAQAOANAMBOAQAVAXAVAUAPAMAKAMBNALAOAQBPAQAUASATAPAHAFANARBMAIAPAUAZAaAVAQAOAPBOAMAPAQAOANAOAPAKAOAQASAQBOARBSATCPAMAPARAPASBQASATAWBVATAQBPARBPBRCSAQAPBQCRBPAOAPASAVASAOAKAMAPBTAUARASARAPBRBOAPARASAQARBPARAVATASAPCQARAPAJADBGAJAOASAUBPANAOAPCQAPALAKANAPARCOAMAJAKALAPAQDSBRAQAPAOANAOBNAOAQARBSARAQAOANAPAQBOBMALAMANAOAPAOCNBOAPDOANEMCNPMANHOBNDOcNCOBNCOBNVOMPBOENCOBNCOENAOFNJOMNIMENJOAPCOBNAOGNVMCNKOCNDODNBOANCOCNBMANBODNCOBNDOCNGOCNCOCPeOENCOBNCOANDODNDMBNDOCNAODNEODNDOCNYOBPAOSNIOANAOCNAODNEPARCQAOBQCPBQBPAOCQBOANAMBQASAWAVAUASANAKBLAKALAMASAQARANAOAQBRANAGAJAQARAPAHAIARAVAaAZARANAPDOARAQAOAPAQAMAKAOASCRAPARASBUATARAMANAOBRAUASARBTAVAUBTASARASAQAOBQASCQAPBQBPAOARAQAPBSAVATAPALAKAPAOARAUBTASAPAOAQARAOANAPARAPARATAQAPATASAQAOBPARBQALAFADAGAIAMAPATAUARAOANAPEMAKBOAQARASAPANALCMAPAOAPARATASAQAPBQAOANAPAOBPBQASARAPBOAQAPBOCMALAMAOAPBOBNBOAPAQAPAOBNEMBNCMANIMDNDMANCOCNCOeNBOANCOCNGMBNMODPBOFPCODNCOCNBODNCOGNHONNIMENIOAPCOBNDODNHMANGMBNCMDNLOANFOCNBOBNBOCNFOENAOBNAMANBOBNHOBNDOCPfOENCOBNAOCNCOFNCMANDOINDODNDOCNYOBPBOONAOCNEOBNBOANBODNAOBNBMANBPARASARAQAOANAPAQCPBQBPAOBQBOAPBOAPARAUAWAUBPANAKALAKAGALAPATBPAMBPARAPANAIAKARAPAMAGAJASAWAZAVAPAOBQBRASARAPBSARAKALAOATAUBRAQBRATAUARAOALAMAOAPAUBQASARASAUATAUAVARCOBQATBSAQBRAQAPAOAMAOARAQAPARAVAUAQAMAJANAPAQAVAWATBRAPCNAMAOAQAPAQATAQAOAPARAPANBPATASBOAJACAEAGAKAOATAUATAPAOAPAOAPCOAKAJAMAPAQARAQAOANAMALBNAOAPARASBQAOAPAQAPANAPBOCPAQBPBQBOANCOANALBNAPAQAPAODQBPBOANCOANCMDNCMANDMDNDMBNBODNBOZNBOCNGOCNFMBNEMANGODPBOGPDOBNCOINCOHNEOQNHMFNCMANDOBPBOBNDOENEMDNFMJNROCNBOHNEOENDMBNBOANNOCPgODNDOENCOGNGOKNCOCNEOBNZOBPAONNEOANCODNEOCNCOANBMANAOAQARASARAQAOANAOAQARBQAPAQARAQAOBPAQAOBQAPAOAPASAWAVAUASAPBMALAFAEAKATAXATAOALANAPARANALAHALAPAMALAIALARAXBQAPCRFTBNAGANAQAVAUBPBQARATARAPALBMAOARAUASARASAQASATASAVATAQARAPAOAQASATASARBSARAOBLBNAQAPBUAWARAOAKBPBUAWAUBTAPAOCMAOAPAQAOARBNBPBNBPAUAVAUARAKADABAEAIANASAUBQAPAOANAOAQAPBMAJALAOBQARAPAQAMALAKALAOBPAQCPDOAPBOANAMAOAPDQAPAOANCOBNALANAPARAQAOCPDQAPANBOCNBMBNDMBNAMFNCMCNBODNBODPAOSNDODNOMANFMANGOEPBOFPDOCNBOINEOFNDOQNBOCNDMJNDOGNCOCNAOCNCMCNFMLNQOCNBOINEODNDMBNPODPQQAPLOAPBODNEODNBOHNGOLNBOCNVOANKOJNBOCNFOBNAOFNDOCNIOAQARASARAQAPANBPARCPBRASAPAOANAOBNAPAQAOBQAUAVBUATASBPAHACAFAQAYAWATANALAQBPALAJAHAOANAMAKAIANAUAXATAQBPAQCRATASATAUAQAHAGANATAWAUARAOAPAQARASAPAOAKALAMAOASBQATARAPARAQATAUARCPBRATASARBTARAPAOAMAJAKANAQAOATAYAVAPAKAIAOAPASAVAUATAUAPANBPAMANAPDRAOAMANAOANBPAVAXBUAKAHABAEAGALARAVAWASAQAOAMANAQBPAOAKBMANAPARAQBOAMALAKAMAOBPBQBPBOAPCOANAMANAOAPCQAOANFOBNAPAQBOAPHOANAOBNFOANBMHNDMBNHOEPAOONHOCNVMBNFOMPDONNEOFNDOQNBOCNDMJNDOMNAODNBMCNEMMNROBNCOINEOCNDMCNOOEPOQCPKOAPBOENFOLNHOKNCOBNUOCNJOJNBOCNFOJNCOCNJPAQARASARAQAPBOBRCQAPARASARAOANDOAQAPAOBQAUAVAUBVBTAMAEADANASAYAWAUANALAPBLBIAJAOBPAIAHARAXAWARAQAOBPBQASATASARASAOAFAHANAVAWATAPAOAPARBQAOAMAKAJANAOASCUAPANAPAQATASAQASAQAPBRASATBSARAQBNAKAJAKANAOARAXBQALAHALAQARAUATARATAPANAOAPAOALAOBRAQCNAMCNAPAUAYAZAWANAHAFBGAJAPAVAXAVARAOAMANAPAQAPBMAKALANAOAQARAQBNAMAKBNBOAPAQBPFOANAOANAOAPAQAPAOBNAOBNBOAPCOAPDQBPAOAPDOCNCODNBMHNCMBNHOUNCOANDODNBOANRMBNFODNAOHPCOSNAOFNDOAPBOMNBODNDMINEOANAOKNAODNDMANBOANCMLNROBNBOFNAOFNBOCNDMCNOOEPEQBPBQBPDQCPKOBPBODNFOKNIOPNUOCNKOINBOCNGOJNDOBNJPARCQBPAQAPCRAQDSARAODNAMAOBPAOAPASATASATAXBUANAKAFAIARAVAXAUAQAKANCLAMAJALANARAQAGAJATAYATAQAOANAPCRASAQAPAQAPAKAEAIAQAXAUAQAPAQBRAQBOALAJBMARAUATASARANAMAPARBQARBOBQASBTBSAQARAQALAJBMAPBUAXATAOAHAJARAQASBQATARAOBQBMBOARASAQARAOAKAJAKAMAPASAXAZAXASAKAJAIAHAKAQAVAXAWASAQAOAMAOAQBPAOALBNAOAPARAQBOAMALBNAOBPCOBPBODPANAOAPAQAOANAOAPAOBNBPAQAPAOCPAQDPAOCPBOANDOENBMGNAMBNAMANHOVNBOANEOGNQMBNGOBNCOANBOBPDOLPAOONBOBPCOKNCODNDMDNBMCNHOJNBODNFOBNBMCNAMFNXOFNBOFNBOBNDMCNNOGPBOAPBQFPDQCPJOCPBODNFOJNIOPNIOBNJOCNMOKNDOBNCOJNBOANMPARASAQBPBRBPDQCRBOBPAQAPAMANAOBPAQASATAQBVAXAUANAJBLANAVBUAPAMAJANBOAMAOALANAPARANAGAMAVAXAQANAMAOAPBQARAQAOAPARAOAHAEANAVAXASAQCRCQAOAJAGAJAOAUBTASAQAMBQBPAQBOANAOAQBRATAUASARBOAKBMANAQARAWAVAPAJAIAPAOAQASAQATAUAQANAPBNAKAOAPATARBPAKAIAJBOARAVAXBUAOAIAKBMAQAVAWAVATARAOANBQARAPAOANAMANAOAPAQBPAOAMBNBOCNBOAPBOANAOAPCOBPAQAOBPAQAODPBODPAQBPAQAPAOANAOENBOFNEMCNAMBNJOINEOHNBOANFOGNOMCNOOBPCOgPCOLNBOCNFMBNDMBNHOKNBOBNGOBNCMINROCNCOCNAOBNCOFNAOBNEMBNNOCPBOBPBOAPBQGPCQCPAQDPFOBPBOENCOANAOJNIOPNIOCNZOJNEOANDOJNOOAPAQARAQAPCRASAQAPAOBPAQARCQAOAPCOBQDSAUASAQASAUARAKAIBNAOASAUASAOANAIAKAMAPARAOAPALAPASAQAIAHASAXARAOANBOBPARBPAOAQARAPAGBPAXBRAQBRASBRAOAMAHAGANARAVBSATAPALANAPAODNAOBNAPASAVAUASARBOALAMBQAPATAWARANAHALAOAPATASATAUAQAMAOAPBKAMAOASATAPBNAKAIAHALARBUAWAVAQAMALAOBPATAVBTARAPCQBPAOAPAOANAOAPCOANCOANAOBNAMANAOAPAOCPBQAPAOBPDQAPAOBPCOCPHOCNBOCNAOFNDMCNBMANKOHNEOINIOFNLMFNJOCNBOBPCOVNAOJPDOCNAOGNBOCNLMCNFOANAOINDOANDMBNBOANCMENCMANROCNGODNBOENBOANEMANFOBNGODPHQGPCQHPGOBPBOENAOMNBOANGOONIODNZOFNAOBNEOANDOBNBOENMOANCOAPAQARAQAPCQATASAPANBOAPAQASARBPAOERASATASATAUATAQBTAPAHAFAHANAOASAUASAOAMALAJALAOASARAPAOBPATAOAHAJASAVAPALANAOBQARASAQANAOARAPAKAFAJATAZATAQCSBQAPAOALAHAIARAVAXAVASBNAMAOBNAOBNBOANBQATAUASARCNALBOAQASAVAUASAIAJAOAPATBSATAQAMANAOAPAKBPARBPCKAIBJAPARBVAWATAQAPBOAPAQAVBUARAQARCQBPCNBOAPBOFNEPAOANAOAPEOAPCQCOANAOARAQAOANAOAPBQAPAOBPBODNBODNBOCNEMBNBMANKOINEOANAOFNJOENLMHNHOCNBOBPCOUNCOPNBOKNLMCNFOANBOGNEOBNCMBNBOBNCMENEOBNNOBNIOKNEOANHOBNGODPHQGPCQDPAQCPHOTNDOCNFOONHODNZOFNNOANCOGNKOANDPAQCPCQATBQAOAMBOAQASBRAQAOBNAOBQATFRAPARAQAIAFAGANAPARATASANAMANALAJANAQASAQBOAQBTAPAHALAVATAMAKAOAPAQASATASAOBQASAQAIAHAPAXBQAPBRAQBPAQBKAHAMAUAXAWAUATARANBOBPAOANBPANAMANAPASCRBQALBNARBUBSALAJAPBTBQASAPANBPANALAKAQBRAQAOAPANALAKALANAQARATAVATBRAPAOBQAUAWAVARBSCRAPDOAMANAPBOENCOANBOCPAQAPANAPAQAPEQBOANAPAQAOANAOAPAQAPBOBNAOBPBOBNDOBNCOBNDMANDMANFOANCOKNEOCNAOBNJOENEOBNFMBNAMENGODNAOBPDOCPAOQNBOPNBOKNLMDNHOGNDOCNCMBNBOBNDMDNFOANFMANHOANBOBNEOKNWOEPGQGPCQCPBQBPIOUNCODNFOONGOENROANGOENNOANCOINIOBNDPARBQAPCQASATAQAPANALBOARATASARAQAPANAOAPAQATAUATASATASARAPBRAKAGBNAQARASARANAMAOAPAMAJAPBRAQAPBQARASAPAIASAVAPAIAOAQARASATBPANAOASATAQAIAHASAYAUAPAOAPAQBRCQAIBRATAXBTBQAMANAQAPAOCPBMBNAOAQARBQBMALANASARAUBRAOALAPAQATBPARAPBNAPAMANAJANAQARAQAPCOAMALBPASARCQARAPANAOAQAVAYAXASAQBRATASARAPAOAPAOANBOAQAPCOCNAOCNBPENAPARAQAOCPAQAPAOBPBOBPAQBPAOBPANBOAPCOBNGOBNDMANDMBNKOJNDOCNMOENEOCNHMFNFODNAOBPHODPBOcNBOFNAOENLMCNHOGNDODNCMANBOBNEMCNMMBNGOANBOBNEOKNWOFPFQBPAQCPUOUNAOHNCOQNEOENQOCNHOCNOOANCOHNAOANEOANBOCNCPARBQAPCQBSARAQAOAMAKAMAPATBSAQBPAOBQASATBSCRAQAPARAPAIAHANAQBSBOANAOAQBMAKAPAOARAQCOASBMAKASATAPAIAPAUATCQANAOARAUARAMAHAKAVAXAPANAOAQARCSARAOAJAMATAUAXAVATAUAOAPARAQAOBPBQAOALBNAPDQAPAMANAQASAUBPBNAPARASATAQARAPBOAQAPANAJAKARDQBPBNBPAQBOBNAOAPAOANAQAVAYAZAVAQAOAPASATASAQAOAPBNBOAPAQAPAQAOBPAOANBOANAOAQAPAOAPBOAPARAQANBOIPBQBPAOAPBNBOBPBOBNDMANAOCNHMBNMOJNBOCNLOFNEOCNIMENBMANBOHPIOBPCOVNCODNBOFNAOFNLMCNGOFNEOENEOBNEMANCMENBMCNBMANIOCNFODNAOFNDOANCOBNNOGPAOAPCQAPCQAPDQAPPOdNEOONDOENROCNIOCNNOANCOHNBOANEOBNBOBNCPARASAQAPDQARDOALAKAPARASCRAQBPBRASATASARAQCPARAQAJAHAMAQBRATASAOBQBRANALAPBQBPBMAUATALANATARAKAJARAVATBRAOAPAQAUBRAKAIAQAVATANAMAQAREQAMAKANARAUAVBUATARBQAPCQASAQALAJAMAOAPAOBPAQANAMAOARAUAVAQBNAPARBUASARAOANAOARASAOAKAJAQARAUBRAQAPCOBPBNBLAMAOCPASAXAbAYAQANAOARATASARAQAPBOANBOAQBPAOAPAQAPANAMANAOAPCOBPEOANAOBNAOAPAOANAOAPCQBPDOANBOAPCOANBMCNAOBNEOANAMDNNONNAOANHOHNEOBNIMINBOGPAOAPMOBPBOQNDOCNCOMNNMANFOFNDODNAOBNDOBNIMKNAMBNHOCNGOCNBOBNBOANDOBNAODNOOHPJQBPJOAPEOdNFONNDOENROCNJOBNNOBNBOGNKOANBOAPAOANBOARCQAPERASBRANAKALARBSCQCOAPARASBRAPDQARAKAHAIAOARASBUARAPBQARBOAMAPCQAOBQAXAUAKASAUARAIAOAVASCPAOAPASAWAUARAJAIARAUASAQAPBSBRBQAPANALANARASAVAWAVAUATASAQAPAQARATARANAKALANAOCPARAPANBQATAVASAPAMAPAQARAVAUAQAOAMAOAQAUAQAMAJANARAUAVATAQAPCODNBLBMAOAPBQAWAaAZASAOBPARASBRAPCNBPEQBPAMALAMAOAPAOAPANBOAPAOENBMAODPBOBPAQBPAOAPAOANBOAPBOBNCMBNAOANDOBNBMDNBMANJOPNHOJNNMHNCOCPAODPNOBPBOQNDODNBOMNEMBNNOENEODNBOBNDOANIMBNBMJNIOBNIOANFOBNBOGNIOANGOGPJQCPJODPAOeNFOMNCOGNQOBNLOANNOFNBOCNOOAPBOANAOAQASBRAPBOBPAQASATASARALAKANAQARASATARAQAPAOBPARASARAPAODQALAGAHAOARATAUBSAQCRASBQAMAPCQAPBVAWAPALARAUAPAJATBSATAQAOBQAWAXATALAGALATAVAQAOAPAQAUARAQAPBRAOANAPBSAWBUAVAUARAQCTAUAPAMALANAOAPBOAQBOANAOAQAWATAOAMAOARAQATAUAQAPAMAOBUBQAJALARASAVAUARAPBQAODNBMALAMAOAPCUAYBTAQAOAPBRASARAQAPBOBPAOANAOAPAQAPAOANALAMAOBNDOAPAOBPAQAPAOANAMANAPCOBMANAPAQBPAOCNBPBOENIOANBMDNKOANAOQNGOKNMMHNDOGPROCPAONNCODNCOMNDMBNNODNFODNCOBNCOANMMJNDOANEOANPOJNIOCNFODPAOBPDOAPFQBPKOiNHOKNBONNAOBNHOBNbOENBOCNEOANKQBOANAOAQASBRAPAOCPBRATBRAOAKALAPAQARAUASAPAODQASBPAOBNBOALAHBNAQAUAVBSCQBSBRAOANAPBRASARAQAWASAMAQAVATAKAMAQARASAQANBPAUAZAVARAIBSAWAUAQAMAPAUBQAPBRASAPANBOATAWAVCTAQCSAVATAOANBOAPAOANBPAQANAOAPAVAUANALANARAPARAUARAPAMANBTAWASAKAJAOAQAVBRAPAOAQAOFNAMALBNAQAPASAWAYAVAQAPCQARBSAQAPDOAMANAOAPBOBMBNAOAMBNCOBPAQARAQAOAPANBPCOANCPBQBOBNBOAPBOANAOCNAOANIMENGMANBOSNGOKNNMINCOGPROAPCOMNCODNCOANAOKNEMBNNOCNGODNBOBNCOBNNMHNCOBNQOANDOINJOCNFOCPFOCPFQAPBOBPEOAPBOEPCOaNCOBNDOdNFOCNFODNSOHNGOBNJPAQAPAOANAPASATASAQANAOAPCQARASBPAMALANAPARATASAPAOANBOAPASATAQAOCNBLAJAIAMAPAUAVBTASATARAPAQASATAOANAPAQARATARAQAUBRAMASAWASAJAQARBPANBOASAZAXASALAIANAUAWAPAMANARAXARAPBQASBNALANARAUAVAUBTARAQCUAWATAQAPAOAPBMALAMAPAOBPATAVAOAMBSAQBTARAQAMBOASAVATALAHALAQASATAQAPBQAPANAOFMAKBNAOBUAYAWARAPAQBPAQARASARAQAPCOAMALANAOCNAMALANAOANALAOBNAOBPAQARBPCOAPAOENAPBQARAPANBOAPCOCNCOBNAMCNAMGNGMBNAOCNAOGNBOFNGOJNHMCNCMKNBOCNBOCPUOMNDODNBOMNEMBNOOBNGODNAODNSMENDODNEOANJOBNCOCNBOENIOCNFODPDOEPHOCPCOBPBOEPCOEPDOSNBOCNCOdNAOHNGOCNSOHNHOBNJPAQBPAOAPARASBRAOAPAQAPCQBSARAPANCQASARAPAOAMANAOAPARATARAOAPBOANALAKBNAOASAVBTASARBPBQAUASAOBSARASARAQBVAQANARAVASAKAJAOCNCQAWAZAVAQAIAKASAVATAQAMARAUAVAQAPBQARAQANAMAPAUBTCSARAQAPASAWAXAUARAPCMAKBNAPAOAPASAWARANALASBQARBPANBPARAUARANAHAKAQAPAQAPCQBNBOBQAPAOBMAKAJALAOASAWBRAPAQARAPAQBRBQBPBOANAMBNAOBNBLANAOANAMANAOCPARDQCPAOANAOCPAOCPARAPANBOAPCOANDOCMKNCOANBMCNGODNDOENGOJNHMQNCOBNAOEPTOJNAOCNCOLNBODNGMBNXOHNSMDNEODNEOBNIOBNCOCNDOGNDOCNHOEPBOCPFOAPCOCPBOCPBOEPDODPEOIPBOLNDOaNCOHNGOCNTOJNFOCNIOAQARAQAPBQASCPAOAQBPAOBPAQASAQAOANCQARAPAOANAMAOBQATASAOAPAQAPANALBMAOBRAUBSBQARAPAOAPBUARAQBRCQARASATASAMARAUAQAIAOANAOBNAOAPAUAaAXARAJAIANATAUAQANAMATAWATAQAPCQAPANBSAUASDRBQBVAYAXAUARAPBOAKAJAMAPANAPARAXAUAOALASAUAQAPAQAPBNAPAQATARAQAIBNBPAQAPCQAOANAOAPAQBPCKAIAKAMAPATBSAPBRAPBQBRAQAPDOANAMANAOANCKAMAOBNBOCQDRBQBPAOAMAOBPCOBPAQBOANAOAPBOBNCOBNBMJNFMDNGOCNDOENCOANBOKNHMBNBMMNDOHPFQBPKOAPAOMNBOKNDOCNHMDNNOCNDOHNSMDNDOENEODNDOENCOCNDOINBOCNEOBNAOJPBOFPBODPAOBPCOEPDODPEOIPBOMNCOaNDOHNFOCNTOCNAOGNEODNEOBNBOAQARCPBRATASARAOAPCOCPASBPBOANAOAQAOAMANBOAPAQARBOAPARAQAOALBMAPBQARATARBQBPANBPARATAQARAQBRCQASAQANARASAPAJAIANBOCPATAaAZATANAIAKASAUASAQALAOAUBRAPDOCQATARDQARAQBTAWAXAVATARAPBMAJAKANBPARAWAXARAMAQAUAQAPAQAPBNAQARATARAQAJAHAKANAOAQAPBOAPAOANAOBQASARAQAPANAKAJAKANAPAQARAPAOAQARAQDPAOBPAQAPAOANAOELAKAOAPAOAMAOBPAQBPAQEPBNBPDOCPAQAPAOANAOAPAOANCOBNAMDNBMDNGMDNHOBNDOENDOMNHMBNBMMNEOGPFQBPJOBPBOMNBOINFOBNHMDNOOCNCOHNaOENFOCNCOFNCODNCOJNAOCNDOVPBOFPDOFPBOEPEOIPBOMNCOaNDOHNGOBNUOANCOGNCOBNAODNAMANBOEQASCQAOAQASATARAOANAPAODPARASAQAOAQAPANBOAMBNAQARAQCOBRBQAMALBPBNAPARAQARAQBPAMANAMAOASATARAPAQARASARDQANAQASAOAHANBOAPBQATAZAaAVAQAJAKAPATAUAQANAMARATARAPBQAPBOBPATASAQAPBQBPAQARASAVBTASARAOAPAKAJALANAOARAWAZAUAMBTARAPAQBPANAQARATASAOALAHAJAPEOAPBOCQAUATAPAOAPAOALBKANAOAPAQAPAQASARAQBPBNBPGOBPANALAOAPAOALAOAPAQBPGQAPAOANAPBOAPCOBPAQAPAOCNCOANBMDNCMCNGMDNHOBNDOENDOMNHMANDMLNFOFPFQCPHORNBOJNPMCNOOENAOHNDOBNUOFNFOCNCOENCODNCONNDOFNBOOPBOEPDOGPAOEPDOKPAOMNBObNDOHNGOANZOHNBOBNBODNBMAOAPBOCQASATBRAOBQATASAPAODPCQARBPAQASAOALBMALANAQASARAQCOAQASARANAKBPAQAOBPBQBPBNAOAJANAPATARAQBRATASARAPARBOARASAOAJAKANAPAQCSAWAaAXAQALAKAMARAUATAQAMBSARAPBRAQBPAOBSBQAPAOBPAQAPBRASEQAOALAIAKANBQAVAZAUAMAJARBQBRAPAOAPAQAUATANALAHAKARAQAODPAQAOANAOAQAUATAQAOAPAQAPANAKALANAOAQARASATASAQAPBOANBPAOBPFQAOANBOBMANAPAQAPAOCPAQBPAQCOAPBOAPCOCQAPAOANGMDNEMBNCMFNHOCNEOANBOBNCOEPBOENIMANDMMNEOFPGQBPEOJPAOKNAOBNAOFNQMCNPONNBOENTOFNFOBNCOENCODNBOPNDODNEOMPBOGPCOePAOnNBOJNfOINCOANCOENBOAPBOCPASATAUATAQANAOARASAQAPANAOBPCQARAQCSARAMAIBKANAPASBQARBPAQASBPAKAJANAQAPAOBQAPBNAQBOALAIAMAQATASAQARATAUASAPARBQASBQAMAJAOAQASARAQBSAZBSAOAKBRAUAVAQAOANAQARAQAPAQASARAQBPAQARAQBPAOAPAQAOANAOAQBRATBSAOBJBNAOAPASAXATANAIAPARAQBRAQANAOAQAUATANAMAIAMASARAOANAOBPBOANAPAQASBRAPBSARAOAMAKANAPARBSATASAQAPCNALAMAPBOCPCRAQAOBPBNAMAOAPBNAOBPAQBPAQARBPCOAPCOANAOAQBPANAMANDMDNGMHNIOCNMOEPCODNOMLNEOFPHQAPBQAPBOJPBODNBODNAOBNBODNSMBNQOVNIOBNGOFNGOANCOENDOCNBOPNBOANCOBNFOMPAOoPAOePBOSNNMBNPOINHOFNAOAPDNAOAQATAUBRAOANAPASBQAOBNAOAPAQBRAPAOAQARASAPAIAGBKAPAQASARBSARBTBRAJAGAJAPAQAPANAPAOBMAQASAPAOAGALANATASBRATAUASAQASARDSAOAJAOARASARAOANAPAXAZAVAQAKBNARAWATAPBQARAOANAPAQATASARBQEPAQARAQAMALAMAPBSATASAQANALAKAMAPCUATAPAHANAQCRAQANAMAPATASAMBJANATBPAMANAOAPBOANAOAPAQARBQAPARBPANBOAPASATAQARASBQAPBNALBOAPAODPBQARAQAPBQAOAMANAOBNAOBPAQARAQBSARAQAPBOBPBOCPAQAPANAMBNMMGNJOCNKONNOMKNFOGPIQCPAOBNBOEPBOFNCOBNAOHNTMANROUNIOCNGOANBOCNJOFNCODNAOTNBOBNHOKPAOoPAOePBOTNMMBNOOGNBOANIOIQBPANAMAOARAUAVATAQAMBQASBQANBOAQARAQCNAPARASAPALAGAFAHAMAQARBQASATARASATASALAGAHAOAQBMDLAPAUARAPAHBLATAVAUASATBRBSARAQAPASATAQALAMARASARAOAKANAUAZAXAPAKBLARAVBQARATBOAKALAQATAVATBSAQBRBQARAUASAPALAKALAOAQATBRANBKAMAPAOANARASAOAHANAQBPAQAPAOALAPAQARANAMALAOATBQAMBOCMBNAOAPARAQBOAQARAQAOANAPAQARBPBQASBQAPBMALAOAPAOBPAOCPARBQAPBOANAMANAOCPBQARASARBQAPCOAPAOEPAQAPAOAMCNKMFNDOANGOBNCMBNGONNNMKNFOGPIQCPBOANBOEPBOBPBOBNCOKNCOBNhOONBOENHODNIOBNKOBNAODNBOGNBOCPBOLNBOANIO/OLPCOBPBOAPAOVNLMCNNOGNMOIQARBPANBPASAUBRAPAMANARATARAOANAOAPAQARAQBOBQARAQANAJAFAGAJAOAQBOARASAQARATBMAHAGANAQBMAKBLBOAUATAPAHAGAMATAWAUATASARAPAQARBPANASATARAOAKAQARAQAOAJAMARAYBRAMAJALAPASAWATAQASATARAMAKANASAUBTBRAQBTARBUBSAOAKAJBQARATASAPAMAKALAOBMAQARANAHAMAQARAPBOANALAOBRAOAMBNASATAQANBOBMAKALANAOAQARAQAOANBQBPAOAQARAQBNAPARAQARAQBPBOAPARAPAOAPBOAPBQARAQAPBOANAMANAOAPDQARASARAPGODPAQAPBOANAMALANJMGNDOANLMANGONNNMJNGOHPHQDPBOGPBOBPCOANDOKNAOENTMANKOHNAOBPAODNAOFNFOENIOANKOCNBODNAOFNCODPAOONIOEPAONNAODNBOwPHOQPAOENBOANHMDNOOFNNOIPARASBPANBPATBSAQANBPARBPAOBPAQARASAQAPAOAPAQBOALAIAGAIALANAPANAOAQAPAQATBOAJAHAMASAQAMAKAIALANAMATAVAPAIAFAOASAVAUASAQBOAPAQARAPALASCPAKAOAQAPAOAJBOAXAZAUAOAJAKANASAUBQARASARAQAMALAQAUBTASBRAQASBRAUAWAUAPANAJAHAJAQASBQALAKBNAOAMAOARANAIAKAQARAPAOANAMAKANAOASAPAMCQASAQAPBOANALAKAMAOAPAQBPBOAMANAQBPAQARAQAPAOAPARAQAOAPAQBPBQARAQAPBQAPCQCPBOANAMANAOAQBPAQARCQAPCQBPBOANBOAQBPBOANALBMANCMANDMGNYOONKMLNIOBNBOCPGQEPAOKPBOBNEOJNBODNEOBNLMBNKOHNBOAPAOMNEODNHOCNIOQNCOUNHOEPBOAPBOJNBOANEOvPIOVNAOCNEOANBMCNPOENEOANIOHPBQASAUASAOANBRASCQANAMAOAQBOCQARATASAPAOBPCNALAJAHAJALAPANAMAOCSATAOALAJANARASANAKAIAJAOAMASAVAQAKAGAOARAUATARAOAPAMAPBRAPALAPAQATAQALANAQAPBJAIAOAVAZAWAPAKBMARASATARAQASARAQARAOBSATASARBSARASBRAUAVAUAQANAMAIAHAMAPARAQAMBJALAPANBRAPAKAJAQARAPANAMALBNAOASARALAKBPARBQBNAMBLANAOAQEOALAMAPAQCRAQAPCRAQAPAOAPBQAPAQARBQBRBPDQAPBOBNCPAQGPAOAPAQBPAOANBOAPAQBPBOANAMALAMANBMBNDMENAMBNIOANMOGNAOCPBODNHMKNLOANAOEPFQEPBOJPBOBNFOFNAOBNBOENDOBNLMANLOCNAOENAOBPAOLNDOENHOCNIORNBOUNKOBPEOINJOENCOfPAOEPJOVNAOFNBOANCMBNSOCNDOANIOAPBOCPBOCPARAUBSAOANAOARAQARASAQAMBPBQAOAPAQARATBPAOCPCNBJAIAKANAOAMANAMBPARAOAMBOAQAUAOAKAHAJAPAOAUAWASAMAGAMARATARBNBLAOBQAPAKANAPASAQANAMAQBPAKAIANAUAYBRAMAJALAPASCQARDTAQAPASBQBRBPARAQASAUBSAOANAKAGAHAOAPAQAOANALBOANAMAQARAOAKAPAQAPANAMALBMAOASBKAJBOAQARBQANAMAPAOANAOAQDPAOANBPAQBPAQCPBQARAQAOBPAOBPARATARAQASBQAPCQAPDOANBOAQCPAQCOBPAQBPAOANBOAPBQAPAOANAMDNBMCNAOANAMDNBMCNGOBNMOANBOGPBOGNFMBNDMDNNOEPFQBPAQCPBOMNFOFNFODNDOCNKMANHOANDOBNBOeNBOGNIOBPBOWPDOKNBOANGOCPDOINKODNCOlPEOAPDOZNAOBNAOCNFOANGOANHOCNOOAPEQAPBOCPASAWAVASAOCPBSARAPAMALAOAQARAPAQARASBRAODPBQAOAMAIAJAMAOAMDNAQAOANBQBUAPAKAHAJARAQAVAYAUANAFAKAQASAQBNBKANAOAQANAKANAPASBPAMAQBPALAIAKARAXAYAVAQALAMAPASARDQARATCRCQAPAQARAQANAQBSATBRAPAOAHAFAKAMAPAQAPAQANAPANBOARAPAMAPARAPANAMCLAOARASALAKAIAMAPASAQAPAOAPAQARAPBQEOBPEQCPAOARASBPAOAPAMALANARASARBSATARAQAPAQBPEMANAOAPAQAPAOAQARAQAOBPDOEPBOANBMDNBMCOBNGMDNEOBNMOBNBOGPBOFNCOANIMBNFMANGOFPJQBPBOMNBOBNCOENFOENDOBNTOANEOANAOPPAOIPAOONHOBPBODPAORPEOJNKOCPDOHNKODNDOkPDOCPCOKNBOMNEOBNFOBNEOCNDOANAOENPPEQCOANAOBRAVAXAWARAOANBOAQASARAPALBNARASAQCRBOANAOBPBQAPANAKAJAMAOANAMANCPAOANAMARBTAPALAHAIAQASAWAYAVANAGAKAPARAOAQAOANALAMAOAQANAJAMAQASBRAMARBPANAKAJAPAVAXAWARAOANAQASAQBRCQATAUASBRBQAPBQARANAMAPARBSBRAOAJAFAHAMANAQBSAQARAQANBPBMAQASAQAOANCKAOBRANAKAIALAOAQAPANAQARBTARAPBQBPAQBPDQAPAOBPAQAPARATBRAOAQANALBPASARAQARATASAQARBQAPAQAPBOANBOBNAOBQARAQAOBPFOCPAOANBMANBMANBMCNAOBNHMCNDOCNLOBNBOONCOANMMENGODPPOLNCOCNBODNGOENDOBNVOANEOHPAOGPCOGPAOONIOAPBODPBOIPAOGPFOINKODPCOHNLOCNCOmPCOCPDOJNBOANCOINHOANDOBNEOCNDOHNAOINFPFQCOANAOAPATAXBUAQANAMBOARASAQANALBOASARAPAQBRAPANAOAPAOAPAQBOANALAMANAOFNCRCPALAHAIAPASAXAZAUAMAGALAPARANAQAPANAMBOASANAIALARASBRAMASBQBLAKAOATAWAXAUASAPARBQAPAQARASAQBTCSARAQAPAOAQARAQAMANAQBPAQASAQAOAGBNBPARATASBTAPANAOAPALAPARBOBPAOAKAMBQAOAKAHALAMANAOANAQASARASAUAQBRAPAOAPARAPBQCPAODPAQASATBRAQBNAMAOARDSBQBRBQAPBOANCOAMBOAPAQARBPAOAPAQAPDOANAOANCMBNAMBNCMBNAOCNBMBNBMDNDOFNHOBNBOENAOINCOANMMFNFOCPQOINBOANGODNIODNDOBNSOBNAOANDOIPBOGPCOFPBONNBOBNEOBPBOCPBOBPBODPDOEPFOJNKODPBOHNLOCNCONPCOENBOUPDOJNGOENAOBNHOBNCOBNEOCNDOSNFQBPEQARAPAOCRAVAXAWASAPAMALANAPARASAQAOALBPASAPBQBPAOANAPBOBQARAOBMBOAPAQBOAPBNAOAQARBNALAIAJAPASAXBSANAHAMAOAQAOAPAQAMBNAPASAOAIAJAQATBSANATAUASARALAKAMAPAVAXBSAQARASAPAOAQASARBPAQARATBSAQAPBQARBQAOBPAOANARASAOAHAGAOBQARATBSBRAOAPBKAMASARAPAQCMALAMAOBLAIALAMBNBPARBSAVASAQARAPANAOAQBPAQARBPAOAPAOCPAQASATASARBPCQARAQARAQARAQBRASAQAPAOBNAOANCMAOAQARBQAPBQDPBOANBMCNAMENEOCNFMDNCODNJOCNBOCNBOHNSMENFOCPROBNAODNKODNJODNCOCNHMANCOANEOANAOCNCOGPEOFPCODNAObPBOCPBOAPDOCPFOBPDOAPCOEPBOCNIOEPBOINKOCNCOCNBOIPCOFNAOUPEOINGOENDOBNEOCNAODNDOBNEOSNGQBPBQAPCRBQAOBPASAVAWATARAOALBOAQATBQAMAKANARBPAQBPAOBPAOBNAQATARAOBNAOARCQAPAOANBOARBMALCPATAWAXARALAIAOBQBPBMBNARAUANAHBPATBRALARAVAUARALAJALAOATAWAYATAQARASAQANAPASBRAQAPAQASATCQAPAQARCQAOAMANALAOASAPAKAFALAOARASATASARCQARAQANAKARBPAQARBPAMBNAOANAJBMBNAOBQASBUATAQARAQAMBOAQBRASBOAMANAPAQAPAOAPARASATARBPDQAPAQBPBQARATAQAOENBOANAOAQCPAQARAQAPEOANAMDNCMCNFOBNCMENDODNJOCNCOCNBOGNGOBNKMCNGODPHOBPGOBNCOBNLODNIODNBODNFMDNBOANHOBNDOGPEOFPBORPAOFPAOGPCOFPCOAPCQCPGOBPDODPCOBNHOFPAOENBOCNJODNCOCNBOIPDOcPCOHNHOENDODNBOINLOJPBOGNGQBPBQBPAOAPASBQAOBQATAVAUASAPAMBOARATBQAOAMAKAOASARBOAPBOBNALANAQAUBRBOBQARASAQAOANAKAOBQARAMALANAMAPAVCRANALAOBPARAPANAMALAOAUAVAMAHAGAOATBRAKAQAUBQALAJALAOAPAUAWAUAPAQASBOAPASATBRAOAPARASATAUATAQBRBSBQAMDRBOAFAHAOARATBRAQCRASBQANAQASAPAQASBQAOANBPAOAMAHALANAOCQASCTARAQBNAMAOAPARASBRAOAKAMAPAQAPAOAQBRASARASAQAPAOAPBQCPBQARASAQAOBPAOBNAOAPBOAQCPAQCPAOAPCOANAMALBNCOANAMANDOANGMDNEOCNKOBNHOENIOCNTODPIOBPCOBPAOBNCOBNLOENHODNBOCNBOBNBMENBOANCOBNCOCNCODNAOBPEOBPDOSPCOEPCOAPAOCPCOFPFQEPFOBPLOBNEONNBOCNJOENAODNBOJPCOIPBOaNJOFNCODNBODNAOFNJOKPBOFNHPAQBPAQBPBOAQATASAPAOAPARATAVATAPANAMAOASATASAQAOBLAMAPASARAQAOBPANBMALAPARAUBSBOBRASAQAMANAIAMAPAQARAOALAMAOAQAXAWATARAMBQAOBQBOAMBNATAXAOAHAGAOASATASALAPASAUAQAMAJALAPANASAUATAQAPASATARAPASAUASBPAOAPAQATBSARBSDRAOAMANAKAPASAPAHAGAOAQASCQAPAQARASAUAQARASBPBSBRAOBPARAPAOAIAKAODQARASATBRAOEPARATASAPANAJAKANAPCQARBSARASARAPAOCPBRAQAPAOAQARBPAOAPAOCPCOAPAOAPFNAOAPBOANAMALBMAOANAOANCOBNAOBMBNAOANBMCNFOCNBOBNOOFNIOCNUODPHOBPCOENDOBNKOFNGODNBOCNCOBNBMBNDOBNBOCNHODNAOBPFOAPEODPBOIPFOEPEOBPEOEPEQGPEOCPLOBNCOSNJOFNAOCNBOLPBOIPBOaNJOFNDOCNBODNAOFNKOTNGQCPBRBQAPAOARASARAPAOAPASATASAQAOANAOASATASAQAOANBKAPARATARANAOCNAOALAKAPARAVAWATAQANAQARBNAMAIAKAOAQASAOALAMAPARAYBSAQAMAOARAOAMAPARAPANAMANATAYAQAHAGAOASATASALAMAPAUAQAOAKALAPAOAPATASAQAOARAUATAQASAUASARAQAOAPAOAPARCSERAQANAMBOASARALAHAKAPAQARASAQAPBQATAVATARBSAPAOARASARAQAPAQATAQAOAMALAOCNAOAQASAUATARAOANAOBNAPBSARANALAKAJALAOBQASBRBQBSAPANBOAPBQARAPANAOAQARAQAPAQAPAOBPCOCPCOBPANBQBOANAMALBMANCPAOCNBOBMALAMANCMBNFOCNCOBNOOENBMANFOCNVOCPHOBPDODNDOBNKOANAODNFOCNCODNCOBNHOGNAOBNEODNAOBPCQAPBOAPEODPCODNBOBPFOEPEOBPDOEPFQFPGOBPBQAPIOQNBOINFOFNAOCNAOYPBONPAOLNIOFNDODNAODNBOFNCOBNDOVNFOAQCPBQASBPBOARASAQAPBQARBQAOBPARATARAQANBMBNAQATASAQAMAPCOAPAKBPASAXAVARANAPBQAOALAIBNAQATAPALBQARAXAZASAOAMAQBNALAOARASAPANBSAYASAKAHAOARATASALAMAPASARAPAMALAPBOARAQAPBQAUBRASAUASAQAPDNBQAPAQATASARDPANBLARATARAIBPAQBRBPBQASAVAUAQBRBPARBPAQAPAQAUASAOAPANBOBMALAPARAVAUASAPANDOAPARBNAKAJAIAKAOBQASBQDRAPANBOAPBQBPANBPARBPCOAPAQAPAODPAOAPAOCNBQAPAOANCMCNAOAPAOCNAOAPAOAMALAMANKOBNDOBNNOENBMBNEOCNWOCPGOBPDOCNEOBNKOANBOCNFOCNCOENBOBNGOHNAOCNEOGPBQBPAOBPDOBPDOENBOCPEOFPDOBPDOEPCQBPBQAPOQEPCOAPBOPNBONNBOENAOcPBONPBOKNIOFNCOXNCOVNFOBQCPCRASBPCRBQAOAPCQAPAOBQATARAPANDOAPAQATAQAOAPAQAPCNAIBPAUAXASAOANAPBOAKAIAGALAQASAOAMBQARAXAYARAMALARAOANAKANARASBPAOARAXATAKAHAOARATARANBPAQASAQAOAMAPAQAOAPAOBQBSATARBTASAQAPAQBPAOANBOBRASAQCRAQAOANBPATARAKAHAOARBQCPBRATAVAPAOAQARCSAOCPATAUAQAPBOBPALAJAMAQATAUATAQAOAMANAPAQCRAOAJAIBLAPBQARAQAPAQAPBOAPAOBPGOAPAQARAQAPBOAPAQAOBPAOBPAOGPBODMALBOBPAOANAOCPAOAMALAMANfOENBMBNEOCNJOBNFOCNBOCPLODNBOANBOBNGOANCOANCOANFOENBOENBOANFOJNAOCNEOBPBOCPEOBPDOBPDOENBODPEOFPCOBPDOEPNOBPGQFPBOAPBOQNAOONBODNBOZPDONPBOLNIOFNBOZNAOPNAODNGOCPAQDPBRATASAQAPAQARAQAOBPAOAPBOBQATASAPAMANAPAOCPARASAPAQASARAPAQAOALAHAJAPAVBPANAPBOAJAHAGAKAPAQANAMANAPARAVBRALAKAQANAMALAMARASAUASAPBVATAMAIAOARASAQAPAOAQAPASAQAOANAPARAPAOBNAQARAQARAQAPARBQAPAQASARAOAPAMALANAPARAQAPBRCOANBSATANAGALAQASAPAQCPAOARASAQANAQASCRAQAMALAOAQATARAPAQAPAOAQANAJBNAQAUATASAPANBPASBPARAPALAIAJAMARBPAQAPAOAPAOANBPAQAPBQAPAOCQAPBQARAQAPBOBQAPFOBMAOEPAOCPAMALAMAOAPBOANAPCOANAMALAMANUMBNIODNBMANGOANKOCNEOCNAODPKOENAOGNFOANCOANJOLNIOJNBOCNAOANBOBPCOAPFOBPEOBPCOENBODPCOCPAOEPAODPCOGPMOAPGQGPEOQNAONNBODNBOZPDODPAOEPAOBPCOLNIOyNAOCNHODQFPBSATASARAQCPANCOAPAOBPASBPAMAOARAQAPAOBPARAQARATBQAPBNAKAHAJAPAUASAOBPAOAKAEAFAJAPAQAOAMANAPARATBQAKAJAPANAMBLAOASATBOANATBOAHANAQASAQBPARAQASBPAOAPASAQAOANBPARAQBPAOAPARAQAPBRASAQAPAOALAKANAPARAPAOAQASBQANAOASAUAQAGBOARAQAPBQARAPANAQBOAQASAQATBQANAKALAPAQARAQBPAQARAQAJAGAJAOASATBRAOANAPATAUAQBPANAKALAOASARAPAOAPAOANCOAQBOBPBNAOBQBPAQCPBNBQCPAQAPCOAMANAPAOANBOFMANAPBOCPBOBNBMBNJOBNGMCNIOENUOCNCONPGOMNJOANHONNGODNBOGNAOENBOBPCOAPDODPIOMPAOJPBOCPCOIPUQEPEOCPBOLNBONNAODNCOEPBORPDODPBODPAOCPBOJNKOBNAOLPAOlNIOEQCPBQBOAQASATBSAQBPANDOAPCQBPAOBSBQBOAPBQARASATASAPBNAMAKAHALAQATAPAOCNAGAFAHAPAQAOALAMAPARAQBPALAJAOAPAMANALAMARASBOANASBPAIANAQASARBPARAPARASAQAPAQASARAPANAOAPAQAPCOBPBOBPAQBRAPANAKAJAOARBOAPASCOAPASAUARAIAEAKAOCPAQARASAOBPAOAQASCUARAQALAJANAOAQDTAUARAKAFAGANAQAUBSAPAOAQAUAVASAPAQAPANAMAPARBQANAOBNBOAQCOCPAOBNAOAQAPAQDOANAOARCQBPCOAMANAPAOANBOEPAOANAPCOBPBOANGMANFODNBMFNIOENUOCNCONPGOMNJOBNGOMNGOFNAONNBOAPCOAPCOFPHOEPBORPBOBPCOIPBOAPSQCPCOAPCOAPHOGNBODNBONNBOEPCOCPAOCPDOFPDODPCOBPBOCPBOJNJOCNAOLPBOFPAOHPBOUNAOANFODPBQBPCQBPBRASATASARBQAOANCOAPBOAPBOAPAOASAUAQAPAOANAPARBSATBQAPANCIAHAOASBNAOAQBMAFBMAOAPAKBOAQAOAPBKAJAOAQANBMAKAPAQARAOBRASAPAKAMAQASBRAQARAPBSARAPAQASBQAOBQARAPDOAPAQANALANAPAOARASAOANAJAKASARAQAPARATAUAQAOAPATBOAFAGANAOBPAQARASBQBOAPASBRATBRAPAIAKAPAOAQCTAXATAOAGAFAJAPAUBSAQAPARAUAWATAOARAQAPANAOARBQAOBPAMANAOAQCPBNAOCMANAPCQCNBOARASARAQBPCOAMANAPBOANAOAPBOAPAQAOBPFOENDMBNDODNCMDNJOFNUOBNCOANCOJPEONNLOCNEOLNFOWNBOAPBOCPCOBPLOFPCOOPHOIPAOBPRQBPDOBPBOAPBQAPEOGNCOCNCOMNAOFPBODPAOCPEOCPFODPDOAPCOCPAOKNIOCNAOcPDOVNBOANAOCPEQBPDQARAPBRASBRBQAPAOENBOBNAPBSAUAQAPAOANAPARCTAVARAPAOANAOBHAIAOASAOAPARASAOAGADAIAOAPAMAKAMAQAOCLAKAOARAPANBKAMAPAQANAPAQASAOAKALARBSAQARASAPAOARASAPBSBQAOBQARAPBQARAQAOAPAOALBNBOASARAPAOAKANARAQAPARATAVASANAPARATAPAIAGANAOAPAQAPAQARASATARAPBRAPARAQASAUAQALAJANAPAQARAQBWBOAIAFAIAPASAUATARAQASATAWAUAQBRAPAOBRBQAPAOAPANBOAPAQARAQAPANAOAPAOANBPCQAPBNAOAPARATASAQBPBQAPANBPCNAOBPEOAPDOHNCMCNCOENBMDNGOANAOGNTOBNHOIPEONNDOANBMANDOENCOGPCOBNEOYNAOBPAOCPCOBPEQAPJOCPBOLNAOCPHOHPAOBPXOCPDQBPEOFNCOCNFOBNAOGNAOPPEOCPBOBPBOEPGOPNHOfPEOFNAOONBOEPCOAPBQBPAOBPAQARBQBRBQBRBQAPBOANBMANAPANAPAQARATARAPBOBPAQBSAVASAPAODMAHAMAQBPARBPAHAEAHAOBQAMAOAQAPAOCMANAQAPANBLBPBNAPAQASANALBRAQARBQARBOAPARAPAOAQARAQAPAOAQARAQAPAQASBOBQANALAKALANAQATBSAOAMAOAPBQATAVAUAQAPBRBNAHAMAQCPBQARATASAQCOANAPBUBPAMALAOAQARAQAOASAWATANAGAHALARATAUASARASATAVBRAPAQAPBQARBQARAPBMBOBRASARAQAOGQARAQAOAPANBPARASBQBOAQARAPAOBPCNAOBPBOAPBOAPCOANBOFNCMBNDOENBMANGOBNBOGNTOBNHOIPEONNDOANGOOPCOCNDOBPAOANBOVPBOCPBOAPFQBPIOHPAOCNCOBNAOCPIOBNBOCPAOBPYOBPEQAPBOBPAOFNDODNHOENBOQPDOCPBOCPBODPGOPNHOLPAOSPEOFNBONNBOEPCOBPBQBPAOBPBQASARAQBRAQAPAQASBQAPAOANDPAQAOAQBRASAQBOANAOAPAOASATBPAQAOANAOBJBOARAPBQAOAJAGAHAOAQASAQBRAQAPCNAOAPBOANBLAOAPANAPARBOAMAKAQASAQBPAQASAPAOAQAPAOBPANCPAQBOARASATAQAOAQAPAMAKBLAOATAVAWATANBQAPAQASATASARAPCRAOAIAKAOASBRAPAOAQARATARBPAOALAMAOARAWATAQAMBRAQBNBUAWAQALAIAKARBTBRBTAUAWASAOAPBQBRASARBQAOAMBOBQARCQAOCPBOAQASAPAMAPANBPAQASBQBOAQARAQAOBPCOBNAOCPBOBPAOANAMANBOAPBOBNCMBNCOCNAOANOOGNIOANIOBNGOKPBOBPAODNBOGNCOBNHOCNAOJPDOBNDOBPAOBNAOLPAOIPBOGPEQCPIOGPAODNEOAPFQAPDOBNCOBPBOAPiOBPBOENEOENFODNDOHNAOGPDOBPDOBPCOBPIOONGOMPBORPEOGNAOONAOFPBOBPCQBPAOBQAPBRATARAQCPBRATARAPCOBNAPASARAPAQBTBRAOAMANAQBOASATARAQAPANAMANBKAPAQBOCKAHBOASATAUASARBQBPAQAOAPAODNBOAPARASAPAOAMAKAOATAPAQBPARBPAQAPAOAPAQANALAKANAOANBQASATBPAQBOAMAKBLAQAVAWAVATAOBPARAQARAQDPARAQALAJAOARATASBPANAPASBRBNBKBOATAWASAQAMAOAQAOAKAMAQAWAUAPALAKANARASATARAPASAUAVASAOBPAQCSBQBOAMBPAOAQARCQAOBPAQAPBRASAPAMAPAOAMAOAQARASAPBOAQARBOBPDOANAOINAMBNAOAPBOANAMBNCMANBOBNGOBNAOBNEOGNOOGNEOLPBOBPBOBNCOHNBOBNLOCPBOEPBOENDOAPBOMPCOEPFOJPBQCPCQBPBOBPAOJNEOBPEQBPDOCNBOAPlOCPAOFNFOCNFOBPAOANEOGNBOFPCOCPDOCPMOONEOPPAOQPEOePCOBPCQBPAOBQARAPBSATARAQBOBQASBQCPCRAUATAPBQASAUASAOAMANARAQAOAPARASARBNAMANAOAMAPAQBOBNAKAIAHAOASAUAVATAQARBQBRAQAPANAOAPCNAPAQATBQAPAMALAMAQARAQBPAQASAQCPAQARAQAMAKAJALANAMANAPARAUASBRAPAOAMAKAJANARAVAWASAPANAPAQDOAQCRBOALAKAPARATASBPANAQASAQARAPAMANAJAKAPAUAVASAPAMANAMBKAOAUAXAUARALBPAQASARAPASAUATASAPAOAPBQBSATARAQAPANAMAOAPAQARCPAOAPAQBPBQASAPAMAPBNAOAQCPAOANAQBSAQAOAPBQAPAOANBOCNAODNALBNAOAPBOAMCNCMANAOBNDOANDODNBMANAOGNOOHNDOLPCOAPBOCNBOHNAOCNGOANDODPAOLNDOBPAOGPAOEPCOGPEOIPBQCPBQDPAOEPAOENGOBPEQBPDOFPAQAPjOCPAOFNBOBNCOENCOBPAOBNCOANAOFNCOFPBOCPDOCPNOONDOPPCOLPAOAPFOePCOBPDQBPANBPATARAQBUATARAQAPBQASARAQERASAVATAQAPARBSATAQAKANASATAQAOARBTASAPAOCMAPAQASAPBNAJAIAJANARAUAVAUAPBRBQASAUARAPAOBRAPAOAQAPASAUASAPANBLAOARAPAQCSBQBRBSATAPALAIAJAKAMANAOAQASATAUBQAOBMAKAJAPASAVAUARAMANAOASAQBOBRAQARASAPBMANAPARASBRAOAPARAQAPAQAOANBIAJAQAUAVARAOALBMCQAXBRANAKAMAQBRAQARASARBQAPBOAPAQASAUARAQBOANAOAQBRAQBPBQARAQAPCSAPAMAOAQBOAQCPANBQARASARAPBQBPAOANBOCNBOCNALBNAOCNAMBNFOBNAMANAOANMOFNOOENAOBNDOLPCOBPBOBNBOLNFODNBODPAOLNEOAPAOCPBOAPCODPCOCPAODPDODPAODPBQCPBQBPAQBPAODPAOGNAOEPOOCPAQAPFOAPCOAPCQBPEOAPHQAPFOBPAOFNBOBNEODNBOENCOHNCOFPAOEPCODPNONNCORPCOEPAODPBOAPFOePCOAPBOBPBQBPAOAMAOASAUASARASAUASAQAPAQAPARBPAQCRASBUAWARAQARAQBTBPAKAQAUARAQAOAQAUBSAPAOBLANAPATASAPAOAKAHAJANAPATAUBPANAPAQBRAVATAQAOANARAQARAPAQARAUATARAOBMBOAQBRAQARASARAQARASBTASAPALAKBLAKALAMAQARATAUASAQAOAPAMAJALAQASAUAQAMAKAOASBQBPARDPAOAQANAOBQARCPAQAPBOBPAOBJALAQAVAUAOBLAMAOBQAUAXAUAPALBOAQDRBQARAQAOCQASAUASAQBPAOBQFPAQARBPAQAPASAQANAOAQARAOAPDNBRBTARAQCPAOANAMBOCNFLBNAOANCMANCMBNBOANAMANBOANLOGNNODNCOBNCOIPBOAPCOBPBOQNAOANCOJPBOKNEOEPFOCPCODPBOCPDOCPCOCPBQCPBQAPEOQPFOAPCOAPEOCPAQAPFOBPBOBPBQBPBOEPGQCPHOFNAOCNEOCNBOFNCOANAOFNCOLPBODPOOENAOGNCORPCOKPAOBPEORNBOLPBOBPAOCPBQCOANBSAUAWARBSBRAQDRAQAPBQBRASATAXAVARBPANASAVAQAJALASBPAOAPASAWAUAQAPBMAKAQATAUAQAOALAIBOAPASAUBPAMAOAPCTAUASANAOAQASARAOAQBUBSAQAPBLAMAQASBRBSARAQBRATAUATAPBOANAMALAKBLAOARATBSARAPAQAMAKAMAPASARAPAKAOAQASAQBRDSAPANAQBOANAOAQARASARAQAOCNAPARBNAJANARAUASAPAOAMAPAQAPARAVBQAPAMANAPCQARBPAQARAPAOBPATAUATAQCPBQBPCQCRBPCRAQANAOARATAPAOAPCOBRASBQDPAOANCOCNFMALANAOANGMCNCMANBOANDMANFOGNOOBNDOCNBOIPBOBPAOCPBOWPBOGPBOKNEOBPAOCPLOHPDOCPEOAPBQCPBQBPCOGNBOHPGOFPEOBPCOBPCOBPBOBPBQARAQAPAODPIQBPHOFNAOCNFOBNBODPAOANFOENCOLPBOCPGQAPIOLNDOCNAONPBOOPDORNCOKPAOCPAOCPCQCPANBSATAVAWARBSARAPCRCQAOBQARASATAXAYAUARAOAMAPAVAUAOAIAQASAQAOANAQAVBRAPAQAPALAMAQAUASAPANAKAIAOAQATAUATAOANCMAOAPATBMBNASARAOANAQATAVATASAQAPANAMAOATASAQARCQAPAQARATAUARAOAPARBQANAKAIAJANARASATBSBRAMALAOAQASAQAMALAQARAQAPAQARASARBQANAPARAPAMAOAQARASBQAPAOBNAOARAUASALAJAPARASARAPAOAQATAQAOARAVATAPAOANAOBPAQARAQAPBRAPAOAPBSATBRAPCQCPAOAPARBQARBOAPDNAOASAUAQAOAQAOANAOAPAQBRAPBQAPAOANDOCNBMBNBMANAOANCOANDMCNQOGNUOCNAOJPCOEPBOVPEOEPCOJNEOBPAODPKOHPEOCPHQBPBQBPBOBNBOCPAOANCOEPBOBPDOFPFOBPAODPBOBPFQARAQAPBOBPJQAPIOGNAOCNEOBNCOCPAOANFOFNAOMPBOCPFQBPDOBPCOLNDOCNAOfPCORNCOKPAOCPBOBPEQCOBTCUAVASARAQAOBPARASCOAMAOAQARASAVAZAWARAQAKALASAVARAJALAQARANBOASAVASAQCOAMAOARASAQARAMAIAMARAVBUAOANAMANAKALANARATAOAKAOAQARAQAKAOAQAUAVAUASAQAPAMANAQATAQAPARASAQAPBQARATASAOBRATASAQAOAJAHAJAOASARATAUAVASAQAMBOASARAPALAPAQBPBQARAQARAQAOANARBNBRAQARASAQAOAPBOAPAQAUAVAQAKBQAPAQARAQARAUASANAQATAUARAQANAOCQARAQAOBPAQAPAQAPAQARASARAPCQCPANAOARBQARAQANAOAPAOAPANBRATARAOARAOANAQBPAOAQAPAOAPBOANFOANBMBNBMANAOBNAOBNCMDNIOCNEOFNUOCNAOJPCOEPCOUPFODPDOINEOBPBODPJODNDOAPBQAPAODPDOAPBQBPCQAPCOBNAOBPBOGPDOJNAOCPEOKPEQCPFQCPIOBPDOKNEOCNBOCPAOBNEOFNAOLPDOAPGQBPDOCPBOKNEOCNBOGNAOXPBOSNAOCNCOJPBODPDQARAQAPAOATAUAQASAUBSAPANBOAQATASBRANBPAOAPAUAXAWATAQAMAIAMATAUAPAJAPBNALANAOASATARAQARATANAKAOATBSALAIAJAQAUAXATAPANAMANAMALANAQASARAKBNARBLAJAPASAVAWAUARAPAOANAOAQBOAPARBQAOAPAQASARAOANAQAWAVASAPAOAIBLAOAQARAVAXAVARAOANAQASAUARAMANAPARAOAMAOAQBRASAOALAOATAPAMAPARAQARAQAOAPAQAPAOAQARAUATAPAKAMAOANARATASAUATAOAMARATASAQAPAOAPAOAPAQBPAOBQAPAQAPAOAPAQBPAOAPBQBPAOBQARDNBOAPBOANARATASAPARAOAMAPAQAOBPAOANAOCNAOBNCOANHOENCMDNEOCNAOCNCOFNVOCNAOJPBOFPCOMPAOFPGODPDODNBODNDOBPBODPCOBPEODNBOANAOBPDOCPBODPBQBPGODPCODPFOHNDOCPDOMPGOAPEQBPHODPCOMNDODNAOENEOFNBOKPCOCPLOPNEOCNBOGNAOnNBOGNCOKPBODPDQARBQBTAVAOBSAUATAQAOAMANAPATBSATARANCOASAUCTAQAIAHAPAWASAKALAOBKALAMAPASBRCQAJAMASAVARALAGAJAPASAXAWAPANCPAOBPATASAMAIANARBOAIAJAQASAWBRAPARAOANEPARBPCQBNAMAOATAVATASAPANAKALAMANAQAUAXBSARAOAPAQAUASAPANAPARAPAKALAOAQAPARAPANAMAQBLANARASAQARAPAOAQCPAQBTASAOALAMBPAUATCQAMAPAQASBRAOAPAOBPAQAPAOBPAOAPBOCPEQBPAOBPARASCOANAPAQAPAOANAQARASARBPAMAPAQAODNBODNFOBNEOAPAOBNCMDNBOAMBNAOGNBOFNVODNAOQPEOBNBOGPAOGPFOEPCOBNEOCNEOBPAOEPBOKNBOBNAOBPHOEPAQHPAODPAQBPAOCPFOHNDODPCOJNBOAPFOCPIQBPEOSNDOINEOFNBOLPBOCPMOONEODNAOvNBOFNEOJPBOEPCQBRBQBUBPCSATARAOANBOASAUATAUATAOANAOANAOARBTAUAQAKAGANAVBNAJAOAQAMAKALAMAQATASARAQATAMAHAQAWAVAOAHAJAPASAUAXARAOANBQARAPANATAUARAKALAPATAPALAHAJAPATAWAUAQARBNALAMAKBOBQARAQAPBQAOAMAOAQATBSBPAOAMBLAOARAVAWAUARAQAOARASATAPANAOASAQAOAKAMAPCQANCOAMALAQATBQBOAPARAQAPAOAQBTAPANAMANBTAVATBSAOAMAPAQASAPBOBPEODPAOANBOAQAPCQBPBOAPARASCPANAPAQBOAMAQBSARCOAPCOBNCOCNCOANCOBNEOAPAOANCMENAOBNAMANBOENBOENXOVPDOBNCOEPBODPAOBPGOEPBOBNFOBNEOIPAOONAOFPDOFPAQAPBQEPAOBPBQCPAOBPFOENAOBNDOEPCOCNAOFNAOBPBODNAODPCOAPCQAPFORNFOHNDOYPNOKNBOBNEORNBOGPAOYNBOENEOQPDRDQARAUATAPAQAPBRBQAOANAOARAVAUBTAPANAPAOAMANAPARATBPAGAJATAWAQAIAMAPBLCOASBRAPARBIAJASAXAPAKAHAPASAUAVATAOALAOAPAQAPAOASAVASAOAJAOATBPAJAGAKAPATAVATASARAQAMALAJAIAKAOBQEOANBPARCTARAOAQAPAMALAQASAUBSBPBRATAQAOBPASAPANALAOCQAOBNALCNARASATAQBOAQCPAOAPARBOBNAOARATAUATASAPAMAOBQAPBOBPEOBPAOAPAOANBOAPAQAPCQAPDRATASARAQAPBRAQAOAMAPBRASARASARAQAPBOEPAOANCOBNCOBNDOCNCMBNBMBOCNFOINZOANAOHNAOCNDOCPCOCNCOEPAOGPGOHNDMANBOCNEOENAOBPBOFPBOCNAOBNBOEPDOFPDQBRBQAPFQBPCOBPDOANBOIPAODPDOCNCOFPAOENBOHPGOAPAOSNEOHNEOXPNOINAOANBOBNEOCNBONNBOBPAOjNCOBNCOOPDRETAUASAPEQARAPAOAPARAVBUASAQANBOBNBOASATAQAJAHAQAVATAMAKAPBOAMCQATASAPAOARALAHARAXATALAHAQASAUBVAPALBNAPBMAPAUBQAKALAQAUATAQAIAGAKAQATAUBTARAQANALAIBJALAPAQAPBQBNBPAQARAQARASARAQATAOAKAMAQASAUATASARAOARASBOAMAOARASAPANDPBNAPAMAKAMANAPAQATAUAQAPAQARAQBOBPARAPBQAOARASAVAUARAQANAMAPBQAOAPAOAPAQAPDOAPCOANCPAQAPAOAPAQBPAQBRATASAQAPAQBRAQAPANAPBRASARDPBOANAOAPCOANAODNCOBNEOBNCMANEOBNAMANFOGNcOFNBOBNEODPBODNCOMPGOGNGOCNEOENBOAPCOEPCOBNBOBNBOEPBOHPDQARCQAPCOAPAQCPAODPBOGPIOAPEOFNBOCPCOCNFOFPDOMPAOJNEOHNDOZPLOINLOBNBONNBOBPBOjNBOCNCONPERBSARBUBQAOAPAQAPBQARAQAPBRATAVBTAQANALANAOBNAOAQASBNAHALAUAWARAMALANBPANAMANASATAPANAPAOAIALASAVAOAMANATAVAUAVASAPAKAMAOAPAMANARATAQAOAJAOASAVAUAPAHAIAMAQASAUCRAQAPALAJAIBKAMANAOAPAQAOAMAOAQARAQBSBRASBMAKANARATAUATBQAPATASAPAMALAPASBPANBMAPAQAOAPBLAKAMAOAPARAVAUAQBRAQBPAOAPAQDPAQATAUAVAQBNALAOBPDQARAQAOAPBOAPAQAPAOANAOBPAQAPCQAPAQBRBSARAPANAPAQARAQBOAPBRASARCSAPAOAPAOANAQCOANAODMANCOANIMBNDOCMBNFOFNcOFNCOANEODPAOENEOKPDOAPBOKNDOANFOANEOBPDOBPAOBPCOANBOBNCOCPCOHPAQAPCQDPCOBQBPBOBNAOBPAOGPEQCPGOHNAOBPAQBPBOANFOFPAOHNBOFPBOFPBOBNAOBNAOHNDOZPLOHNCOBNMOJNAOCNAOBPDOBNAOjNEOMPERDSAVBPAOAPASAPBQARBPBRBTAVAUAQAOALAKAOCPAQASATARAJAIARAWAUASANALANBPAMANAQARAQAMAOAQALAJAQAUBQAMASAUDRAOAKANAPAQAKAQBRANAJAKAPAUAWATAPAJAKBOARAUBVATARAPALAKAJAIAHAIAMAPBNAMAOAQARBQARBSAVATAPAKALAQASATAUATASAOAPATARAOALANAPATARAQAMBOARAQAPARANAIAKAOAQBTAVARAPARAQBPAOBPAQETCSAPAOALAOAPBQAPBRBQAPEQAPAOANAOAPAOAQBPDQARASAQARAQAOANAOAPASARAQAPCQASBQATBRAPCMAOAQBPAODNAMANBOANGOANAMBNAOBNCPAOANAMBNGODNQOANDMBNEOENCONPAOBNFOIPCOBPBOFPAODNJOBNCODPDOBPAOBPCOANBOBNDOCPCOGPAQAPJOBPAQAPAOCNBOBPDOBPFQCPGOKPBQBPBOANCOLNAODNCONPAOONCOFPAOENCOMPIOHNDOBNCMANIOINBOCNBOBPCOmNGONPCSARBSBUBPAOAQASARAPBQASARAPBRBTAVASAOAMAKAMANBQASATBRAMAKARAVAUAQARANCOANCQBPAOARAQAKAJARAUARAPAOARASARASAVARAKALAPARAOAKANAPBNAIANAPAUAXATAQALAJAIAPAQARATAUBSAPBNAKAHBJANAPANAMAOAQARASAQCRAUBRANALANASBTBQAPANARBPAOAMAPAQAUASAPAJAMAQATBRAQAJBOAQARAQASARAPAQARAQAPAODPAQARAQARATARASAPBLAMAQANAPBQARASAQAOAPDQAPAOBNAPBRATARAQAPAOAPARBPBQAOANBPASARAQAPAQAPDRATAUASAQAPAQANAOAPAQAPBOCNAMANBOANIMANAOBNDPBOANJOCNPOANDMBNFOENBOFNDOEPAOANFOIPCOCPAOFPDOANIODNBODPDOFPAOBNBOBNEOCPCOFPBQAPEOBPAODPBOHPNOAPFOFPAOFPCQAPAOANBOCPEOAPBOBNAODNBOCNAOZNCOMNCOMPEOAPBOHNIMBNHOCNIOBNBOCPBOZNBOANDOFNHONPCTASARASATAUBRAPARCPAOAPASBRAQAPBQAUATAQAOAMALANBQAUATBSAQAMAPATAUAQBPAOBNAOAMALANAPARAQARBPALAOARBPAMAPDUATAPAJAPASARALAJALAPAMALBPAQAWAXATASAMAIAKAQANAOASATAUATAQAPAQALAIAJALANAOANBQASBQBRBSAUARAQAMALAQATARASARAQANBRAQAOAPANAQASAVATALAHAOASAVBRANAKANARBQAPCQARAQAPBNAMBOAQARAQAPASARCQAMAKAOANAPARASAQARAQAOAPAQBPBOANAPAOBQARAUBQBNBPAQAOANAOBNBPASARAQAPAQBOANBQARAUATARAQARANAOAQDOBNAMCNFMANFOCNCOAPAOBNJOANUMBNIOBNBOFNDOGNGOHPCOCPAOFPDOANIOJPDOJNAOBNEOCPCOFPHOBPAODPBOEPJOGNBOSPDOANBOANAOBPHOKNAOHPAOEPCOJNAOBPAOKNCOHPBODPHOHNSOANJOBNCOdNHOENIONPCTASAQARAUAVATARAPASAQAPBNAOARATASARAPANAPARASAQAPAQAOANAOAQAUATDOAPATAUASAPAQAOAPAOAPANBKAPARASARCQAOARBPALBNAOANAQAVAQANAMASBPAIALANAPANAMALAOASAXAWASBNALAOANALAMAQAUAVATARCNALAKAMANCQASBQBRBQATBQAPALANARAQBSAPBNAOAQAPAQBOARATAVAQAIBQAUAWAVAQAMANAQARAPAOANAMAPAQAPCOAMALANAPARAQAOAPAQBRAPAOAJAKAOBRASARAQBPAQARAQAPBOANAPBOAQARAVAWATAQAOAMAOAQAOANCOANAOASARAQAOARASAQAMBOARASCQBOANAQDOANBMDNAOANBOAMALAMANAOFNCOAPAOCNcMBNKOENHOHNFOENBOAPCOJPBOCNCMBNAMBNBOCNBOUNCOFPAOFPBOAPBOAPCOCPAOIPKOBNCOANAMBNFOANBOBPAOANEOCNEOBNAOBPEQBPBOCPAOBPAOBNAOANBOBNAOBPAOEPDOLPBODPAOENCOHPBODPHOINiODPBOWNKOBNMOFPAOCPBOBTASARASAVBRAQBSAQAOCNAQAUAVASARAOAMARAQAPBQASARAQAPASATASATBQAPASATAUAQARAOAMAOAPAQAMALAMAQASAQARCPAQASAQALAHALAMCUAVARANAQASAQALAHALAOAQAPALAKAQAVAXAVASATAPBNAIBNAPAUBSAUBRAPANBOANAOAQASBQBRASARASAUASAQANALAOAQAPARAQAPBNAQAPBRAQAPATAVASANAHAKASAWAXAVAQAOAPAQAPAOANAMBOAPBQAOANALBOAPAQAOBQCPAOAMAJAMANAQASARAPBQARASARAQAPAOANAPARAOAPARATAXAUARAPALAMAQAOAMBNAOBPASAQAPAOARATARAMBOAQARBSARAQAOANAPAQCOANBMBLAMANAODNAMBNAOBNAOCNBOAPBOCNbMBNBOBNGOENEMANCOGNGOCNCOCPBONNCMBNAMCNGOSNDOLPCOBPAOAPCOCPFODPCQAPGOANGMANCMBNEOAPAOANEOAPAOANBMBNBOANCODPBQCPBODPBOANBOMPDOQPBOENCOHPBODPIOBNBODNKMANXOCPCOGPAOONAOANIOANMOFPAODPAOCTASCUAVAPBRASAQAOBNBPASAVAUARASANBQAOBPASATAQAPARASARBSBPARATAUASARBLBOARAQAOALAOAQARAPARASAQBVARAOAHAGALCPAWAUARANARBPAJBLAPBQALAMASAVAXAWATARCKAFAJANAQARBTAWAUAQASAQBOANAQARCQARASATASAUATAQAPAMBPBQBPAQAPAOAQAPAQARAQARAUAVAPANAKAOAUAWBTAQAPAQAPAOANAKALAMAPAQBPAOANAJAKANAPAOBPAQAPBOAPALAKANAOARASAQAPAQARASARBPBOBQAPBRAQAVBRAQALBPAOAMBOBPBSAQAOBQATARANAMAPAQARAQDOANAOBQBOBNAMBLAMAOAPAOCNDOCNAOCNAOAPBODNDOANUMBNBOCNIOCNCMCNBOHNLOPNJMCNEOUNCOGNCOBPDOCPCOCPHOBPDQAPEOBNKMCNDOCNEOAPAOANBMDNDOEPBQBPDOENCOKPDORPAOGNBOHPAOEPIOBNBODNjOCPCOMPCOJNUOANAOEPAOHNATASARASATBPAOARATAQAOCNAPARATAUATARAQAOARAPANAOARASARAPAQASAQCRAQBTCUATAOAJAMAPASAOANAMAQBOAQASARAQAVBOAKAGAJALAKANATAWASAOAPASAQAOAIALAMAQARAPALAQAUAWAXATARAPARAPAKAJAKAOARAOAQAUAVASCTAQAOAPARBQCTAUBTAUARAPAOANAOAPDQBPAOAPAQARCUBRAOAQAOAQATAVBQAPAQAPAOANALAJAMAOAPAQARAPAOALAIAMAOAPAOBPBNBPBLAMAOBRBPBRBSBQAPAOBPARAQCSAVASAQANALAOBNBOAMAOAPASAQANAOAPASARAOAMAPAQARDQAPAMBNAOAQBPAOAMDOAPAOANAOANAMBNCOANAOAPAOANAOAPAOCNAOBNCOANBMANRMANBOCNBOBNFOBNCMCNCOENNOONLMBNBMBNAOFNAONNBMANAOFNCOBPDOBPDOCPBQDPCOCPEOENEOFNAMBNDODNDOAPAOBNCMBNEOCNAOBPGOENBOGNAOCPDOZNCOBPAOKPHOINeOANCOCPCOMPCOJNOOBNCOBNAONNBSARBSATASAPAOASAUARAOBPAOAQBSAUASAQBPAQBNBOAQARAPAQASAQAOAPAQARAPARBTAVAWATAKAJAPARAQAOALANAPCRAQARAUAXASAOAJAKAMALBQAVAUAQAMAQBOAMAIAMAPATARAOBTBVATARAPARATAPAMBNAOCQATBSBTBQAPAQARAQCSATCUARAPAOBPEQCOBPARBQASAUASAPARBQARBSARAOAPBOCKAJAMAPAQARAQAOBJAKAOAPBOANAOANAMAOAQAOANAOANAQASAPAOAQASCRAPAOANAOAQASARAQBTBRAPALAOAPAOBPALAKAQASARANBPARBOAMAQARASDQAOBMALANAPASBOANBMBOAPAOANCMBNDOJNAOANBMANAOBNWOCNAOCNFOANDMANDOENAOCNJOKPAOCNCOANFOANAMBNBMBNAOENCOFNCOENGOCNCOCPBOBPDOCPBQAPAQDPCOKNDOBPFOANDOBPBOFPBOANAOBNHOCNCOAPFOMNBOCPBQAPAOOPAOJNBOBPAONPCOKNDOANZOCNAOCPBOEPAOHPCOKNMOHNCOMNBRCSAUASAPBSATARAPANAOBQARBTASAQBPCOANBOARAQAPASBOBPARAOBRASAWAYAVAOAIALAPARAOAMAJAPCRAQARASAWBPAOANAOAMALAOARAUARAMANAQAPAOALAKAOASARBOBSATBQAPAQAVATAPBQBNAMAOAPASATDRAQBRAQAPAQASDTARAPBQCOAPCQAPBMAOAQARAQARATASAQBRASARAOAPCOAPAOAQAPANAJAKAPARASAQAOBNAKANAPAOANCMBOAQAPBOBPARAMBQATBSARAPANCPASBRAQARATASAQAMAOAQAPAOAPAMAJAMAPASAOANAPAQBPAMANAQASAUATARAPANCMBOAQATARAOBMBOAPAOANCMBNCOBNAOENBOANAOCNBOBNXOFNNOFNAOCNJOHNBODNDOBNAOBNBOANBMANCMANAOENCOFNCOBPBOBNAMANEOCNAOEPAOBPDODPAQAPBQDPCOBNBOANBOCNDOAPEQCPAOCPKOJNBMANAOCNCOAPEOGPAOBNBOBNAOCPHOKPBOINBOQPCODPBOENDOANOMBNEOANCOGPBONPDOKNLOHNDOLNCQARBTAVASAOAPASBRAPAMANAOAPARBSBQARAOCNCOAQBPAQASAPAOAPARAQANAQARAVAZAXATAKAJAOARAPANAIALAPAQBRAPASATAVASAOBQAPANALAPASARAPAKAPBOBKALAQARAQBNAQASBQAPBSAUAQARATAUAQAMANAPAQASATASBRAQBRBPBRASAQBRBPBQCPBQAPDNAMAOARBQASBQAPAQARASAOALANBPCRAPBLAJAOARASARAPAOAQAMBOBNAMANBLANAPDOAPAQANAKAPASBRBPANCOAQASBQBSBQAPBSARAQAOBKAJAPARAPANAPAQCMALAOARATAUAQANCOBNAMAPARASARAPANALANAQAPANAMANBMANBOCNAOCNAOANBOANAOCNBOANGOANBMBNMOENMOGNAOCNGOBNAOCNAODNBOCNFOANAOCNAOBNAMANCMANBOBNFOENCOBPBOCNGOLPDOCPDQEPBOBNFODNBOAPAQBPAQEPAOBPBQBPEQAPAOENBOAPBOBNBODNBOLPCOBNCOBPAOCPJOFPCOJNBOQPBODPCODNDOBNNMENBOANCOHPAONPDOKNLOHNEOKNDQARASAUAVASAPBSBQBMALAMANAQARASCRAPANDOBQBPAQASAQAOAQARASAOBSATAXBUAPAJAOAPAQANAKAJAPBQASAQARBTASAOANARBNALANAPASAQAMBPBOANAJAOAQAPAQAOBRCPAOAPATASARASAUBQAPAOAPASBRCQAPARASAQAPBRAQAPAQARAQAPBQCPAQAPAOAPBNAMANAPASAQBRAQAPAQBPAQALAMBNAPAOAQARAPBKAMARASBQAPCNAMANAMBOBLANAOAPBQAPAOAPAQAMBQARCPAODPARASARCSARCTARBQBLAJAMAPAQANAPARAQBOALAMAPAQATAPAMBOAQAPAOBPAQBRBPANAMAPBNAMANFOENBOANAOFNBOBNHMBNDOBNGOANBOBNLOHNBOCNAOANDOBNAOBNBODNBOBNDMANDOENAMBNBMBNBOBNOOGNBOANDOMPBODPDQAPAQBPAOBNGOBPAOEPAQAPCQCPBOAPCQAPEQAPAOCNEOBPBOKNEODPDOFPBOEPBQBPDOEPDOINCOBPBORPBOFNCOBNNMENBOBNBOMPAOJPCOKNLODNBOBNEOGNBOBNEQARATAVAUARAPAQASARAQBNALBMAOAQARASATARASAPANBOCPAQAPAQASAQAPAQASARBPAQARAUAWAUATAMALANAQAPAOALAOAPBRAQAOAQBSAOBPASAPALAKAOARBOAMAQAPANAMCPAOAQBOAQARBPAOBRBQASATCSAPANAPASARAQETASAQAPAQBPAQARAQAOAPAQARAQAPBQAPBQAOAMANAOAQARAPAQEOBMALANAMAOBPARAPAQANALAPASBRAPDNAKALAMANAOAMBOAPAQBPAOAPAQAPANAPAQBRAQAOAPAOAPAOAPASBRCTARAQASARASBQAOAKBPBOAPARAPCOAMANAQARAPANBPEQAPCRBPBOAPAOANBOANDOBNBOBNAOHNBOANGMCNDOCNJOANKOEPBOJNDOCNCODNAOCNDMANEOBNCMCNAMCNBOANOOKNDOGNBOEPAOCPHOBNIOAPCOCPIOBPBOBPGOBNGOCPEOCPCOANEOCPAOBPBOANBOBPDODPBQAPDOFPDOCNAOENBOBPCOQPBOFNDOANOMBNHOENBOFPBOIPCOEPBODNMOCNIOKNFRBUAVATARAPAQASARAQBPAMALAMBPBQASATASARAPANAOANAOAPARAQBRCQASBRAQAPAQARATASBPAKANAQARAPAOANAOBQAPAMAOANARBPAMARAPALAKAMAPASAPAOAPAQANBMANAOANAPARAPBRAQBOANAPAQAOAQARASBTBNAMAQARAPBQCSAUASAPBRBQARAPAOAPAQARAQAPBQAPDNBPAOAPBOAQCRAPANAMALANBOBNAQBPAOANBQARBQAPAQAPBLAJAMANAOAMBOAQARBQAPBQAPANAOAQASAQBNAOAPBOAPARBQASBTARAOARBTBRAQAMAKAOAPAOAQBPCNAPAOAPAQAPAOAPAQGOBRAQARAQAPAOAPAOENAOCNBOBNAOAPBOCNDOANGMCNCOCNKOANJOEPBOKNCOCNCOHNJOBNCMGNJMBNFOLNCOCPCOBNEOEPBQAPDOBNAMCNFOAPDOBPBOBPCOBNAOLNCMBNDOEPDOCPCONNCOAPAQAPCOBPIOCPBOAPEOBNAODNCOAPCOHNAOHPBOCNGOBNXOENCOEPAOKPAOFPBODNMOBNKOKNFSBUAWATAQAPARASARAQCNALAMAOAPCRATASARBOCPAQDSBRAQASBQAPCRBQCJANAQATARBNAOANAPBLAJAMAPASAQAMBQAMAKALAOASARAPAQARAPANAOBPAOBRBPAQARBPAOANAOANAOAQBSCQALANARAQAPBRAQASAUBRAPARASARAQAPAOAPBQCPAQBPCOANAQBPAOANAOAQBSARAOAMAKAMANAOCPAQAPBNAMANAPAQBPAQCNAJAKANBMBNAQASARAQBPAQBNAOAPATASAQAOAMAPDRBQASATARBNAOARATAUASAQAOALBPDOCNAOAPBQAPAOAPARCQAPASARAQAOBQBRAPAOAPBODNBOBNBODPBOCNBMANHMBNBOENJOCNCMANBODNCOAPBOANAOINCODNBOBPBOAPBOBNEOBNCOANCMHNIMCNGOCNAOFNDOCPCOANFOCPCQBPAOCNAMDNAOBNCOBPCOCPAOFNBMANBOHNDMCNBONPBODPBOBPAOENAMANAOAPAQAPNOBPCOBPEOANBOCNCOBPBOHNDOEPBOCNGOBNJOBNLOENFOUPBOCNAOANUOBNFOGNGSBVAWATAQAPASARAQDOANAOAQAPAQARASATASARASAQAPBQARAPBQATBRAQARATAQAOBPAQBOBQAKALAQATAUARAOANBPBLAHAKANASARAPALAPAOALBOARATAQBTAQAOAPAQARAPAOARBPAQARASAQAPAOBNBPBRBQBMAKAPARAOAPARASBUAVATAPAQASARAQBPAOBPAOBPAQCPAOCPARAQANAMANAQBRASAPANAKBOAPBOAPAQAPBNBLAOAPAQAPBRBQALAKANAMCKAOARASARAQAPBQANBPASAUARAQANBOAPBQCPASARAQANAMARASAUBRAQALBPBOENBOAPAQBPAQARASBQAPAQASARBNAMAPAQBPAQBPAOANAOANBOBNBOINBMBNKODNCMANCOBNAOCNFODNDOAPAOANAOINCOHPEOBNEOBNGMGNDMANEMCNHOBNCOENCOBPDOBNDOEPBQAPAOANAMDLAMBNAPBOKPAOENBMDNBODNFMCNBOJNDOEPJOANBMANAOAPNOEPAOBPFOANAOCNCOMNCOFPAODNFOCNIOBNKOGNFODNAOLNAOCPAOCNAOANTODNFOGNGTBVBSAPARASARAQDPAOBQBRASATBSAQASATAQBRASAQAOAQARATAQARBSAQAOBPAQARAOANAPALAJAPARAUASAPANAOBPANAIAJANAPASAQANBPANAMANAQASAQAPASBPARASBQAOAQASAQAOAQASARAQAPAOANAMAOAPAQASAPAOBKANARAPAOARATASATAVBQAPASAQBRAQAOCNBOAQDPAOBPARBQANBPAQAPARBOAMAKAMAPAQAPBQAPBOANAMBOAPBOARASAQAOAMAOANBMAIAJAQASARAQAPDNAPARAUATAPBNAOAQBRBPBQARAPBMAQBUAVATAQAOALANAOBPBOANCOAQARBQARBSARAQAPAQASATARBLBNAPAQCPAOANBMBNAOANBOBPAOCNBOBNAMBNGOCNBOBNCMBNBOGNEODNDOAPAOUPDODNDODNFMFNCMANAMENAMCNHOBNFOBNCODPBOBNBOHPCOAMALAMENAOAPGODNAOCNDMFNCOAPAOANEOBNCOHPBOBNHOAPHQBPANBOBPJQBPCOHPEOFNCOMNCOJNFOCNIOCNHOINFOCNBOMNAOINSODNIODNHUBVAUARAPARATARAQDPAOBQARATAUBTARAPAQAUASAQARASARAPBQASARBSBRAPCQASAPANAPANAIALAPASARAPANAOBPAOALAKAOAMARBPAMAQBNBPARAQAPARASAQARATBRAPARATAQAOBSATASARAPAOANAOAQBSAPANAOAMBQBOAPATBSAUAVATAPARBPARBPANDMANAQARBQANAOAPAQARAQAPANBQAOAPARAPANAMALAPAQBPAQAPAOAPAOANAMANBOBPASATARAMAPANAPAMAKAIANARCPAOAPBNAPARAUATAQAPAOBQCRAPCRAQAPAMANARATAUBRBOAMBNAPBOANAOCQASARCQARCPARASATARBOAKAJAOAPARBPAOANBMALANBODPAOBNCOBNAMCNBOBNBOCNFMBNBOGNEOFNBOHNBOMPDOCNEODNGMENEMINIOBNJODPCOANBOAPCOGNAMALAMANCOCPGOBNAMBNDMANBMBLAMBNAODPBOKPAODNAOBPAOBNBMANFOAPEQEPAOCPBOAPIQAPCOHPDOGNBONNBOKNEODNIOANJOINFOBNCOVNBOANdOCNIUAVAUATAPBSAUASARAQDPAOAPARASATAUATARAQBSARAPARASBQAOAPAQARASCRAPARCSARAPAQAOAIBOAPAQAOANBOAPBNALAOANAQARAPANAPASAQAOAPAQBOAPASARAQATAUATARASATARANBRAUATASAQAPAOBQARASARAOAPAOANAPAQAOANARATASBUBRAQARAOAPARAQAOANAOANALBNARASAQAOBPBQBPAOANAPAOANAPBNBMBPARAPAQBOAPAQAPAMBNAOCRAUARANAOAPAQAPAMAKANARCPAOBNAMAOAQATBRAQAPCQBRAQAPAQCPANBRBTCSAQAOAMALAOAPBOBPAOAQASARCQDPARATAUASAQBMAJBOAPARAQAOCMALAMANAPBOCNEOBNAMBNCOBNBOBNFMBNCOGNEOAPBOCNAOHNDOLPBOBNHOCNIMCNEMFNBMANCMANEOBNJODPCOANBOAPEOANBMCLAMANAOAPIODNAMBLBMJNAOBPFQCPDOBPBODNBODNIOAPFQDPDOCPFOBPFOGPDOHNAOaNEODNIOANJOINFOCNBOZNdOBNJTAVBSAOAPATAUATARAQFPBRBSATASAQAPARAQANAOARAUARAPAQBRATBRBPARASARATBQARAQAJAHALANAPANBMAOAPBOALAOBQARAPANBRBQBPBOAPASARAQARAUBTCRANAMARATBSARAPBOAPARCQCOBPAOAMAOASBRASAUASAQASAOAMAPCOANBLAKAMAOARBPAOCPBOANCOANBOANBOALAPAQBPARAOAPARAQANAMANBOAPBTARAOANARCNAOAPARBQAPANAMALAKANAQARASBRAQBPAOAPARBPAQDOANAPARBTCRAOBMBPCQAPCRAQARASAQAPAQAOAPBTAUARAQBPALAJAKAOAQARAQAOBNALAMANAPAQAOBNFOBNAMANDOBNAOCNFMBNBOANAOHNBOBPBOKNEOEPAOEPCOANDOANCOBNBMANHMCNEMDNDMANAMENBOBNJOCPDOANAMANAOAPAQBPBOAMBLCMAOAQHPAOBNCMBLDMCNCODPAQBPBQERAQCPBOBPAOENBOCNHOCPAOCPBQCPEOCPFOCPDOHPCOkNCOENIOBNKOGNEOgNLODNZTAUAVARANAQATASCQERAQAPARAQBRBQAPAQBMBRAUATARBQBSBRAQCSBTAUARAQARAMAIBLANBMBNAPBOALAMAOAQATAPAOAMANARBSAPAOAPBRASAQARATAUBTASARAMBQASBTARAQAPCRFPAOBNAMALAOASARASBTASARAOAKALAQAPBOAMAOALBMAOARAQAOANBOBNAOANBOBNAOANAMAOANBPARAPAQAPAOARBPANAMBOAQAOARBQANAQBSAQAOAQASARBQAOBMALBPAQARASBRAQAPBOAQARAQEPAOBQBSATAUATAPAOBLAOAQDPAQAPBQARBPCOBQATASAQARAPANALAJALAOARBPAOANBMANAOAPBOANAMANAOBNAOBNGODNFMANGOFNBOAPAOLNFOFPAOINCOBNFMANBOANEMCNBMANBMENCMANBMDNCOBNDOANCODPENAMANAOAPBQBPAOANAMALBKALAOAQCRBQCPAOANAMALCMFNCOAPAQKRDQDPEOLPFOENBOBPDOAPDOFPBOIPBOEPAOtNHOCNKOCNAOBNDOhNLODNaSAVBQANARASDRAPCQARCQARAQEPARANALAQATAVASARBQARAPARAPAQBRASBTASAQARAQAKAHAJAMDNAOCLAKAOAPASARAPANALANARATARAOBQARDSATAUATASARAMBQASARASARAQAPCRBQBRASAQAOCMAKAMAQASDTARAQAKAIANAPBQANBOANAMANAOAPAOANAMANDOANBOCNAMANAPANAPARAPBQAOAPASAQANBMAOAQBRBQAMANARASBPAQASBTBQAPBNAMANAQBSBRAQCOBRBQDPAOBPAQASBUAVARAQAOBPAQCRAPCOAQAPARAPAOAPAOANBQARAQARAPANAMBLANAPARAQAOANEPBOANAMANAOBNAOBNFODNOOENBOMNGOFPBOHNCOCNDMBNGMDNAMBNCMDNGMANEOCNGODPEOANAMANAPFOANAMBLBNAPBQDPCOANALAKCLANAOANAOEPAQARASBRAQBPDQBRAQARAQAPFQBPCOCPFQBRBQBPCOCNAMBNAOBPCOBPCOGPCOEPBOzNIOBNKOCNBOANDOhNMODNBOANXTAVAUAQAPARBSCRAOCPARCQBRBQDRAPAMAPAUAWAUARASARBNAOAPAQARBSARASBQARASANAIAHAMBNBMAOBNALAJANAOARATAQBMAKAMATAUAPAOANAQARASBRASATAUASARAMAKAOARASCQBOAPARBPBRASARAPCMAKBNASCRASATAQAMAHAJAOAPARAPANAOAQAPAOAMBOBMBNAOANAOANBODNAOAPAOAQCPBOBRBOAMBOAPAQBRAPAMALAPARATAPAQBSATAUATAPARBOBRCSBRAQBPANAQARCQARAPAOCQASATCSBPBQARAQCPAQAPCQBPAOBPANBOAQBSAQAMANCMAPBQAPAOANAOANAOAPAQAOANAMAOCNBOANDOFNAOANJOHNAOLNAMBNEOEPDOFNDOENKMDNAMCNCMDNLOGNCODPEOANAMBNAPDOCNAMCNBOAPBQAPCOANAMALAKAJAKALAOAPCQCPBQARASBRAQAPAOEPFOBNCODPBODPEQARASARBQAPEOBNDOAPCOCPCOFPCOdPAOaNIOBNEOANFOBNBOANCOjNLODNRMANIVBTAQARASARBSAQBPAOAPBRAQCPAQASBRBQARAQANAPATAVBSCQANBPAQBRCQARBSBQAKAHAKANBOANBPANBJAKAOAPASCPAKAJARAVASAOAMAPARBTASARASAUATASAOAKAOARAUATASARAPAOAPAQASAPBQARBQCNAKBMARASBRBTARAPAIAHAKAQCOAPAQARAQAMALAMAOANAMANAODNBOBPAOAPDQBOAPAOANAPARAPANALANAPAQBRAPAMAJAMARAUARAQAPARATAUBRBSARAQARCSBTARAQBNAOARBSAQARAOANAPAOAPASATASARASAUASAPAQBPCQBPAQAPAQARAQAOAMBNAOAPBQARAQAMANAOBNAOBPBOANAODPAOANBOCNFOHNDOBNDOJPCOENBOANAMBNEOAPAOEPDODNCOHNIMDNAMDNCMCNLOGNBMANAOINAMCOAPAQAPCOANBMANAOEPAODNAMALAKCMAOAQCRCQDRBQAPBNDODPCODNGOANCOCPCQARCQBPAQDPCOANBOAPCOANBOBPCOCPAQBPCOENAOJNBOIPAOXNBOANIOCNCOCNFOENBOkNAOENEODNRMANJWAUASARASBQARASAQAPAQCRASAQCPAOAQASBRAQARBOBSAUAWAUASBQBOAPAQCRAQAPAQARBSARAOAJBOBPAOANAQAOBKAJANAPARATBRAMAJANAUATAPANAOARBSATASBUATASAQAMAOARAVBTASARAOANAOASAQAOAQARBQCPALAKAMAOAQARBQASARAPALAGAIANAQAPAOAPARCPANALAMANBOBPBQAOANBPAQAOARAQAPBQAPAOCNAOARAQANAKAMAPAQBSARAPAJAKARATBRAPBTBVATARASARAQARASDTASARBNAMARBSARBPAMAOAPBRAQAPARBVATAPAQBPCQAPBQARAQARAQAPALAKANBPCRAQAOANAPBOANAOAPCOBPAODNBOCNEOINCOCNCOJPEOCNBOANBMBNCOAPCOANAODPDOBNCOINGMENAMDNCMCNLOGNAMBNBOHNAMALAMANAPAQCPAOAMCNBOAPAODNBOANALAKCLANAOAQBRDQBPCOGNBODPAQAPCQAPCOANCOANDOAPEQCPDQFRAQAPAOGNBOAPCOCPAQBPCQAPAOBNAOJNCOGPBOGNAOJPBODNLODNCOCNFOyNCODNIOANTWATBSATARAQARASAQBRASATAUATARAQASAQAOAPASBRAQBSAPAOARAUAVBSARCQBRBPAQBPBQBRASAQALAJANAPCNARAQAPANAKAMAPAQATBRAOALAMATAUARAQAOARAQARASARASATCRAMAOAQAVAWAUATARAOALAMARASAPBQARAQDOALBNAPBSARCQAPAIAHAKANAQANAPASBRAQAPAMBNAOAPDQAPANAMAOARAPAQARAPAOAQAPAOCNAOAQARAOAKALAOAQBSBQALAJANARAUASARAPARATAUATARCQBSATASARATBRBNALAOARATBSBNBPAQCLAOARAVATAQAPEQCPAQBRAQAPBJBOAQARAOAQBPAOAPBOBNAPDOAPBNFOBNDOJNCOBNBOOPBOCNDMBNDPCOANCODPCOANBOMNAOBNBMJNBMCNJMANAOEPAOANAMCNAOENCMBLAMANAPAQARAQBPANALCNAOAPDOANCMALBKBLANAPAQARBQDPBOBNCOBPDOBPBQARBQBRDQAPCQAPCOCPAQFPAOCPAQBPCQARBQBPAOANAOLPCQCPBOANBOENBOCNBOFPCORPBOENEOCNBOFNBOCNFOzNCOBNfWATDRAQERASATAUBTARASARAOBQARBQBSAQAPARAUCTARBSARBSARAQAPAQAPAOAQARASATASANAKAMAPCOARATAQBMALAPBSATARAQAMBSAVAUASANAQARAQASAQASBUATBNAOAQAVAXAVATBOALBPASAQAPAQCPAQARAQANAMAOAPAOAQARAQARAQBMAHAJALANAOBSBRAQBOANBOAQBPAQBPANAMAOARAQAPARAPAOAPBOFRAQAMAKAMAQBSATARAOAJALARAUATARAQBTCRBQCSCRASATASARAOAKALARATAUATBPANAQAPAQARALBQASBPAOAPBOAPAQCOAQARBQAPBLAIANAOARAPBQAPBOCPANAOAPBQBPBNFOBNAOMNCOLPAOGPAOCNCMCNBOBPAOANDOFPAOANBOJNAOANBOBNCMDNBMDNAMCNOOENAMCNAODNCMBLAMANAPAQARBQAPANAMAKBLANAPBQAPBNAMBLBKALBMANAPAQARBQAPBOBNCOANBOBPAQARBQAPCRHSARESCRBQBREQCPAOBPCOBPAQEPAOANBOAPBOJPAQCPAOBNBOENBOBNBOGPBOSPAOENEOPNFOOPBOUNAOMNlWATCSARBQAPAQBPARASAUAVAWATASBOBPAQARBQASAQAPAQATDSAPARASARDOAPBOAPAQASATBQALAKAOAPAQBSAVASARAOAMAOAPASATARBNAMASAVBTANAOARASARAPAQASAUATBOBQAVAWAUASATAQAMAKAMARBQBPCQARBQANAOAPANBRCQCKAIAKALAMAPASATASAQAPBOBPARBPAQBPAOAMAOAQBNARAPAOBPBOAPBQAPAQARAOAKAMAPAQARATBRAKBQATAUASBQARASATASAQAPAQBRBSARBSATAQBLAKAPASAVBTASAOAQAPAQBMAJAMASARAPAOAPAOCQARAQAPBQDPAOAJALAOAPAQAOAPAQBNAOBPAOANAOAPAQCPAOANFOGPAOHNCOIPCOJNDMCNAODNDOCNBODNAOLNCOANDMCNBMGNBOANKMBNAODNBMBNBOENAMALBMANAPAQBRAQAPANAMALCMAOAPAQBPAOANAMALAKAJAKAMANAPBQARBQAPAOANAMBNAOCPEQARCQCRDSARGSATBUBTASBRBSDRBQAPBOEPEQBPAOCPDODPBOBPBQBPBOBNAOENBOBNBObPAOCPAOCNCOQNCOaPAOINCOONBOANiVAUATBSARBQAPCOAQASAUAWAXAVASATAQAOBQBRAQBPBQATASATASBPAQATARAQARASAPANAPCQASAUATBMAJAMAPAQARATAVASBQAMBPARAUASAQAPANAQAUAWATAOALAPATAQCTBSBOAPBUAWAUARATASAOAKALAPARAQBPDRASARAOBPANBQARAQDPAKCLAOATBSARAPAOAPAQCRAQCPAOANBPAQAMARAQAOBPDQARAQBSAQAMANAOAQARATBRANALANARATASBRAPARASBRAQAPAQBRDQASARAQAOAKAMARAUAVAUATAQBPAQAPAOAKALAQARAPAOEQARBPAOAQDRAOANALAOBPCQAPANAMAOAPBNBOAPARBQAOANEOAPAOANAOCPBOINBOBPAOCPAOAPCOJNDMCNBOBNDOENAORNHMBNCMGNAOANEMBNDMCNBOBNGODNBMALAMANAOAPAQBPBNAMALBMANAOBPCOANAMALAKAJAKALAOAPAQEPAOANBMBNAPBQDPBQARBSARBQDRDQCRASBTAUCTASARCSATCSARBQAPAOANDOCPPQBPCQBPDOFNFObPAOCPBOCNAORNDOZPAODNCOBNDORNiVBUASARCQBPAOBPASAUAVAWAVASATASAQAPCQARAPANAOAQASATASBRAQBTARAPAQARAQANAPAQAPBRATAUATANAIAKAPAQASAUBSARBNAKAOAQAWAUAQARAPBTAWATAPAMAQASBRAPASATASBQCUAWAUARASATAPALAKANARCQAPCRCPANAOBNAOAQBPBRBOALAKBMARAUASARAPAOAPARBQARBQBPBODLAPARAOBPBQAOARASBQARBOANAOAPAQASATBRAMALAQARASARBQAPARASARAQAPBQDRAPAQASAQARAMALARATAUATASARAQAPARAPBLAMAOBMALAOANBOAQASARAPDQBSARAPAMALANAOAQAPBQAOALANAPAQANAMAOAPAQCOANAOBNBOAPAOANAOCPCOPPDOJNEMBNGOENCOQNGMCNBMHNAOANBMANBMDNCMANIOBNEOANAMCNAOAPBQAPAOBMALBMANAOAPAODNAMBLAKBMANAPAQDPAOANCMANAOAPAQBRDQAPBQARCQAPCQDPANBOAQARCTAUATASARESATCSARBQAPBODPCQAPDQBPCOCPBQFPGODNFOePBOZNAOYPAODNDOBNCORNEOANcOAVBTASARBSAQAPAQAPAOBRATAUAVBSARASARAPCQARAQAMBQASAUASBRBPARASAQAPAQBOBRAQAPAQATAVATAPAHAIANAQARAUAVASAPARAOAJAKAPAVAWARBQAPATAXAVATAOARBSARAPAQASCQASARAUAWAUARAQASARANALAMAQASBRAPAQAPAQARAPAOANBOCPCOAQASAQAOALAJAKAOATBSAQAOAPARBQASARAPBOAPAOAPAOBKAOAQAPAOBPARAPASATBRCPAOBPAQARATAUARANAKANAQARDPAQARASAQARAQERAPAOAQASARBMAPASCRBQAOAQBPANAOAPANALAIALAMANAOBSAQBPAOAPARAQARATAQAOAKAMANAPAQAPAQAPALAMAPBNAMANAPBQARAQAOCNBOAPANBODPBOANBOKPFOAPBOFNCOANAMANBOANEOFNBOBPAOONGMBNBMHNAOANFMDNLOCNIOCPCOANAMALBMANAOAPBOANAMDLBMANAOAPCQAPBOANAMCNAOAQBRFQBPDODPBQBPANAMALAMANAOBPARASBRHSERBQBPBQLPBOFPAQCPHOENEOFPAOXPBOUNBOgNDOBNCORNDODNaOBVBSARASBRAQAPARBQAOAQATAUAVAUARAQARBPBQARCMAKAMAQAUATASARBPBSARAPCOBRBOAQASAUATAQAHAFAKAPAQATAVASAOAPBJAIAPAUAXASARBQASAWBSAQASARCPBRBSAQATBVBUARAQBRAPANAMAOASATARAQCPBOBNBPBOAPCOAPASARAQAOAKAJALAQATASAQAOBRASARASBPAOCPAQAPAOAKANAPBOBPARAPARATBRCQAPCQBSATARAPAKBPAQARASARAQAOAQBRASBQDRAQAOBRASARAQAPARASARAQBPAOAQARAPBQBOALAHAIAMANAMAOAPAQAPBOAPAQBPATBPAMALAOBQBPAOANBPBOAMBPCQBPBOANAMANAOGPAOCNAODPAOBNBOAPFOBPBOENBOCNAMANAOBNDOFNBOSNEMCNBMENAMBNKMANAMBNDMANFOBNEMBNAOAPFNAMALBMANAOAPBOBNALDMANAOBPAQAPAOCNAMBLAMBNAPAQARFQDPAOBNAMBNAOAPAQBPAOBNAMCNBOAQARASARFQDRASATASARBQAPAQARAQHRBQAPAOANAODPAQCPIOANHOJNBOIPCOFPCO3NDOANCOSNDOCNbOBVAUASARASBRAPBRATASAQBSATAUBRAPAQASARAPBQASBPAKBQATASARCQAPARBPCOAPARASAOBRASATAQAJAFAHANAOASAVATAOANAPAMAIAOASAVATAQARAPAQAUAWASARATAUAQARAPBQARBQATBUBTASAQAPAQBOANAOARAUASAQBRAPAOANAMANBPAQAPAQBPCRASARAQAMAKBOARASAQAPAOAQASARCPAOANAOAPARBOAJANAPCOAPARAPAQASAUARCQAPAQCRBSARAQAMAJANAQBSARAQAPAOAQBSATARAQDRAPAOAPARASAQBRBPCOBQBPAOAPCOAIBKALAJANAPDOBQAPBSAUAQBMAOANAPARAQAOBPCOAMALANAOBPAQBPAOANAMBOGPAOCNBOENCPEOJNBODNBOCNCOaNFMBNBMALAMBNBMCNMMCNBMBNFOCNDMBNAOAPDOBMAKALAMAOAPDOANAMALDNAOAPAQCPAOANALDMBNAOAPAQBRCQCPDOANEOAPAQBRDQAPAOEQERBQCPAQCRASBRAQAPCOEPCQARBQAPAOEPMOANCOBNDOCPAOENAOJPBOCPAOBPDOWNBOeNCOBNBOVNBOBNbOCUATARBSBRAQAPARATBRAQATCUASAQAPARBQAPAQASATASAMAKAPARBQBRBQCPCOAPAQATAQANAPASATAQAMAFBKANAPAUBPAMANAPALANAPATASAQBOBRAVATBVAWASAQAPBQARBPASBTASBRBPBQAPAOAPAQAUASAQAPASARAOANALANBPAQARCQAPCRCNAMALAMAPARBPAOAQATASARBQAOAMANAPASARAOAJANAPDOAQAPBSAUARBQBPAQCRAQARBQBLBQAPAQARAQAPAOAPAQASCQDRAPANAPBSAUASARAPAMALAOANAOAPEQAPARALAIAKALAJBPAOBPBNAPBOAPATASAQANAMANAOARASAOANAPBQAPAMALANAOANAOAQCPAOALAMANAOAPAOEPAOBNBOENBOAPDOJNAOINAOONCOAPAODPAOENJMALBMANCMCNCOBNBOANDMFNDMANCODNCMBNAOBPAQAPAOAMAKBLANAPAQBPAOANAMENBOAPAQBPAOANALAKBLAMANAOBPBQEPBOHPDQBRDSBRBSARAQAPAODPBQBPAQFRCQAPAOCNCOBPCQARCQAPAOBPEOCPBQAPBOBNCOCNCOBPAONPAOEPBOBPCOXNCOhNCOXNhTASERAQBRATBRAQASATASATBQAPAQARAPAOAPASATASAQALAOARBPBQASAQAPCOAPAOAPAQATARANAOARASARAPAGAEAIAMBRAUAQANAMAQAOAPBSARAPBOBRATASARATAXAUAPAOAQAPARBQCSAQCRAQAPBRAQAPBSBQAPASATAPANAMBOBRBSBQBPCQARAPANBMANAPARAQAPAQATBRBQAOALAMAPASBPAJANAQAPCOAPCSATASAQCPAQCRBQARBQAPAMAOAPBQBPBOAQARASBQAPAQBRBNBPAQAVBQAPAKAJALANAOAPAOAPCRBSAPAKALAMAJBPAOBPBNAOBMAOASATAQBNAMAJAPASAQANAPAQBOANAMANDPARBPANAMBNAOAPBOBNAOAPBOBNBODNAOBPEOHNAOINAOPNCOAPAODPAODNEOANBOBNAMALAMBNDMANDOBNBOBNBMGNCMCNCOCNFOAPAQBOAMAKBLANAOAQCOANAMALAMANAOFPCOAMALAKALAMANAOAPHOCNCOBPAQAREQBRBQCRASATAUBSARAPAOANDOAPAQARDQCRCQAPBQAPAOBPAQBPCRASBRAQAPBODNAOCPDOINCOFNAOIPBODPCOAPCOYNBOJNCONNAOCNAOCNBOZNgSERAQCRATBRCSARASAUARAPBQAOANAPAQATBSAOBQBPCRAQAOBPAOAPCQASBPAOARASARAQAHAEAHANALAOASARANAMAQCRATARAPAQBOARBPAQASAVAWARANARAPAQASAQAPBQAPANAPARBQAPARCPAQARAPBRATARAOANAMAOAPAQARASATARAPBOBPAQBOANCOARCQASAUASBQAPALAMAPASBPAKANAQBPAOBPCRASBRAPEQARBQCRBOAMANAPDOAPBQARASAQAPAQCSAPAMAOAPATAVASAPAKAIAKANBPAOAPAQBRATBSANBOALAKAPBOAPBOBNAKAOAQATARAQAMAHBLASARAPBQBPANAMBNAMBOAQARAQAOANAMBNAOAPAOBNAOBPAOBNDOFPDOQNBOONDOCPBOENGOCNAMCNAMBNJOBNEMDNFMCNBOCNEOAPAQAPBNALAKBMAOAPAQAPBOANAMBNAOAPCOENAMBLAMBNAOAPAQCPBOBNEOCPAQARATBSDRAQBPCQATAUAVCTASAQAPAOANCOAQASCRAQAPCQBPBQARBPBQARBQAPBRASBRAQBPCOANCOAPEOaPCODPFOYNCOBNAOGNDOPNAONNAOQNgRASDRAQBRBTBRAQARDTBPAOAPBOAPAQASCQAPAQCPAOAPBODPAQAPAQBRBPAQASARAQAJAEAGANAMANAQBNAMAPASBTAUAQAPAQBPAQBOAPAQATAWARANARBPARBQAPAQAOANAPAQARBQARASARAQAPAQAOBQATARAOANAOAQDRASBPBOANAOAPAQBOBNAOARASARAPAQAUBSAQAPAMBPASARAPAKANAQBPAOAPDRBSARAPFQARAQAPBQARBNAMAOAPCOAPCQASARAPBQBRBOANAPARAUATAPALAIAJAOANAPAOAPAQBSAUBSAQAPBMALAPDQAPAOANAKAMAPARBQANAGAHALARASAQAPAQBPAOANCMALAOAPAQBPAOAMALAMAOAPBOANBOAPAOCNCOBPAOEPCOANAOHNAODNCOENDOGNAOBNBOAPBODNBMANEOCNAMANCMANKOANFMDNFMCNAOBNFOAPAQBPAOAMALAKALANAPCOCNDOAPAQBPBNBMALBMANAOCPAQDPBOANAMANBOAPBQDSATBSERAQDRASATBUAVBUASARAQCPAOAPAQARBQAOBNBOBPAQARCQBRASBRAQBRDQEPAOANBOAPFOZPDOCPEODPAOCPBODPCOCPAOJNAOGNEONNBONNCOONgRASATASATASARBSCTARAPAQDTAUARAPCOAPAQARDQEMAPAOEPARAPBQARCQATASAPALAFAGAMAOANAOAQAOANAOASAUCQAPAQBPAQBPAOAPARAUATAPARASAQBRAQAPAQAOANAOAQARASARDQAPBOBQASARAPAOAPARDPAQARAPAOBNBOBQAPAOANAOARASBPBSAUASARAQAOANAPASAQAOAKAOAQBPAOAPAOBPASARBQAPEOAPAQBPAOAPARBQANAMAPBQAOBPCRASAQAOANAQBRAQAOAPAQASARAOANAJAKAODPAQARBUBSAQAPBNALAPDQAPAOANALBPBQAPAMAHAJAPARCQCPAODMAKAMAOAPAQBOANALBNAOAPAOBNAOFNBOAPBOEPCOBNAOKNBOFNDOKNBOAPBOCNNOANOMCNCMDNDMDNAOBNBMBNBOBPAQBOANALAKALANAOAPBOBNBOCNAOAPAQARAQAPAOALAKBLANAOAPDQEPAOANCOAPAQARISCTASATASCTASAQBRATAUBTASARBSARAQAOAPAQARAPAOANEPASCRCSATBSARAQARFQDPAOBPBQBPFOFPAORPIOBPCOIPDOBPBOCNAOHNAODNFOMNAOONCORNeRASATCSARBSATASBRAQAOBPAQASAUATAQBPAOBPARDQARAQARAQAMBOANAOCPAQBPAQBRASARAUATAPANAGAFALAQAPAOAPAOANBRAUAVBQBRAQEPAQBSATAQBRAQAPBQAPBOBPAQBSBRBQAPDOBQARAPBRBSCPBQAPAOBNDPAQAOANAOAQATASAPAOAQATASAQARAPCSAQANAKAPAQBPAOAPDSARASAQAPAOAPCOBPDOAPARAQAPAMANAPAQAPAOAPCQARBQANAOAQARBPAOAPDOALBOAPAOAPBQARASATBSAQAPBOALAPFOANAOAMAPAOCIAGAJAPARDQBPANAOAPAOANALAMAOBQBPAOAMALAMAOAPBOBNAOENBOAPBOEPBOCNAOJNBOFNEOJNBOGNAMBNIOHNFOBNAMDNBMENCMENAOANBMDNAOAPAQBPAOAMAKBMAOAPBOCNBOEPAQARBPANALAKALANBOAPBQBPCQBPAOCPAQCRASCTASARDSATBUBTASCRAPAOAPAQASATAUATASCRAQAPBRASBQAPAOBNAOAPASCTARBSATCRAQFRCQBPFQBPEOZPGOCPCOHPDOBPAOFNAOGNBOCNFOcNBOTNBOANDMANVRASATCSARBTAUASBRAQAPANAMAPASATAUASARAQANAOAPARBQARAQASARBQANAKAOANAOAPAOBPAQAPAQAPBRBUBQAOAHAGAKAPAQAOCNBPATAVAWARCQDRAPARAQBSARAQARAQANAMAPCOBPARAQARASARBQAPCODPBQARBSATBRAPAQAPAOCNCOAPANBOAQATBQANAOASBQBRAQAPASAQAMAJAQASARAPAOBPBOARBSARAPAOAPDOBPBQAOAPAQBPBNAOAQBPAOAPBQARBQAPAOAQBSAQAPENAMANAPBOAPAQBRASCRAPAOBPALAMAPCQBOANAPBQAOBNAGBJAPBRAQARBPBOBPAOANALBNBOAQBOANAMBOBPBOANAOBPBOCPCOTNCOENEOTNAMANJOINEOBNAMKNBMENEMALAMBNAPDOANALBMAOAPBOBNCODPAQBRAQBNALBMAOEPGODPAQBRAQCRASATBSBRAQARATDSARAQBPBOAMANAPASAUATASARBQBPBRASATBSAQBPBQARBSBQAPARASATBSARBQAPBQARCQBPDQDPBOdPKOCPBOCPCOSNJOiNAOINBOCNBOCNDMANDMANQSBTAUATASARBSATBRBQAPAOAMBRASATBSARANBOAQARAPARBTASAQBOAKAMAOBQAPAOAPCQANAIAOARAUAVARAOAIAGAKAOAQAPAOANBOBRAVAWASARBQBRAQARDOAPASARASAQAMALANAPBNAOAQASAQBSARBQAOEPANBOAQASCTAUASAPAOGNBPAOANAOAQASAUARANAOARASAQBRBQASAQAMAJAQAUATAQANAOAQAPAOAQASATASAPANAOAPBQAOANAPBQAPGOAPAQAPAOAPBQBRAQCPBRASARAPAOBPAOAMANAQBPBQBRBSARAQAPAOBPAMALAPCQARAPAOAPAQBPAOAMAGBKAPANAPAQARBQAOCPAOBMALAMANBPAQAPAOANAMANAOAPBOANBOAPBOCPBOUNBOENAMBNBOCNBOONLOJNEOCNCMNNDMCLBMANAPCOANAMALAMANAPBOBNBMANAOCPAQBRAQAPANAMALAMAPDOANCODNAMANAOAPAQBRASARAPBQARASDRAQBRASBRCQAPBQAPANAMAOAQASATASARAQAPAOCQASATCSARAQFOAMBOAQASBTASBRAQCRASBRAQAPEQEPAODNAOPNBOFPIOEPBOCPCOLNAOFNEOgNAOLNAOBNCOBNCOBNJMANQSBTAUATASBRASATASBRAQCNALANARBSATASAPAMANAOAQAPAQATASBQBPAMALAOBQBOBPCIADAHAPATAVASANAKAHAJAOAPBOANAOCPATAWASAQARAQBSARBSAQARANAMARASBPALAJAMAOAPAOANAQASAQAPARASAQBPANAOCPANAMANAQASCTAUASAQAOCPAOAPAQAPAOBPAOAPARASAUARAOBQASARAPAQARBTAQAMAKAQAVBQAMAPAQAPCSATBQAOANAPDOBQCPBOAPBOAPEOAPAQARBQARASAQAPBRATARAOANBOCQBPAQBRAQARBQAPBQBPBMAOAPBQARAPAOAQARBQAOAKAEAGAOAQAOANAQASATAQANAOAPBOBNAMBNBPAQAPAOBMBOBPAOANBOAPBOCPBOFNAOAPAOJNCODPAOANDODNDOCNBOCNBOCNJOBNAOBNBODNIOANBMILBMBNCMANAMCLBMAODNAMCOAPCOANAMCNAOAPCQCPANAMALAMAOAQDPAOAMCNCMALAMAOAPAQBRCPAOAPAQARBSATASARDQAOAPASATASAQBRAQAPAOAPAQARBQAPAOBNAOAQATESARAQAPBOANALAKBLAOARASDRBQCRCQAPFQDPCOTNAOIPFOEPBOAPBOVNCOtNGOBNDOANMMBNNTESBRBSBREQAMBOAQARATAUARANAMANAPCSATASARAQBOAMAOBQASAQAPCOAIADAEAPASAVATAMALAIAKAPBOANAMAODRAVASAQCRATASARASARBNALAPATAUAQAMAIAKAOAPAOANAQASARAPARASAQAPBNAOCPAQAMBPARASCTASAQAPAODPAQBOAPCRCTASAPBQARBPBQASAUAQAMAKARAUAVARALAPAQAPAQAOASATAUASAPANAOAPCOBPAQARAPBNAOAPAOAPBOBPAOAPBRDSBPCSAUAQAPALAMAOAPARAQAPAQBRAQDPAOARASAQARAOAPAQAPBQBOAPARBQAPAGACAGAPAQBNAOASATAQAMANAPCOBMBOBPBOBNBMANAOBPAOANAOAPBODPAOFNAOJNDOFNCOANBOAPAOCNCOBNBODNNODNEOANDOBNBMANDMGLDMANFMBLBMANAODNAMBNAPAQAPAOBMALBMANAPBQDPANALBMANAPAQARAQCOAMFLBMAOAPAQARBQBOANBPAQARASBTAUBTASAPANAMAQATBQAPAQARBPAOBQCODPARATAUATCSAQAPBOBNAMALAKALANAPBQBRCQAPBQARBQBPMOJPBORPFOBPBOBPCORNGOfNBOLNKOBNIMBNCMCNMTBSATBSBRCSARAQARASBRAPANAMANAQARAUASAPAMANAPAQAPARATASARAQBOANAOAPAQATASAQAPBOAKAFADAOARAVAUAOANAKAMAQAPAOANAMANAOAPAOAPASARAQARAQBSBQASARAQAOALANARAUARAOAIAKAOAPAOANAPASARAPAQASARAOAPAODPARAPANAOAQARCTASAQAPDOBQBPCQARCSBQBRBSAPBQASAUARANAKARAUBRALAOAQCNAPASAUBQAOANAOAPCOAPBQARAPANAOAPAOAPCOBPAOAPAQASBQARASAQAPCTBQANALAOAPARAQAPBQCPAQBPAOARATASBRBQAOAPAOAPCRCQAFACAFAPARAQAPAOAQARAPAMANAOAPCOANAMAOAPCOANEODNAOBPBNBOAPAOANBODNAOHNEOJNBOBPBODNGOBNCOANGOBNAOCNJOBNBMCNDMANAMCLAKALBNGMALAKALANAOCNBMBNAPAQCOANALAKALAMANAPAQCPAOANAMALBNAPAQBRAQAPAOANCMENCOAQARBQAOANAMBNAPARCTAVAWBUARANALBMCNAPAQBPAOBQCOANAOAPARATCUATASARAPAOANAMANAOBNAMBNBOBPAQARBQAPAOAPAQARCQDPAOLPAOZPFOAPAOCPCOKNAOENGOfNBOLNGOANDOBNIMCNAMDNFMENBUATASDRFQBSATASAQAPAMALAOAQATAUAQAOBPCQASCQAPDQBTBRAPDIAEALARAVBQANBOASARAPAOANAMAOAPCQAPBSAQAPAQARAPARBPAOAMANAQATASAPAJBNAOCPARBPBSBPAOCPCQARAQAOAPAQCRBPCQBOBPAQBPBQARDSARAPAQARASARAPAQARAUARANAKAQATBRAMAOAPAQBMANARATAVASAOBNAOAPBOBPBRAQAOBPCQAPAOCPAQARASBQAPASARAQAPBQATASAQAMANAOAQBPCQBPBOAMAPBSATBRAQBPAQAPDRCPADABAFAPARAPAQAPAQAPANAMBNAOAPAQAOBNAOAPBQAOANAMANDOCNBOBPAOANAOAPAOANBODNBODPBNKOIPCOBNEMANCOANBOANGOGNAOBNHOANCMCNFMBLAKALAMANFMBLBMANAOCNALBMAOAPAQCPANALAKALAMANAPAQARAQAOAMALCMAOAQARAQBPANAMBOBNAMANAOBPAOANAOAPCOAMALAMBNAOAPCQASAWAXAVATARAOAKDMAPARASAQAOAPAQARAQAPANBPARATCSBQAPAOANAMCNAOAPAOAMCNBPAQARBPAOBPBQARCQCPAOoPEOCPCOQNGOCNAOcNAOKNHOBNEOANIMINEMGUBTASBRFSAQBRATBQAPANALAMAOAQAUARAQBPBOAPASCRAPBRCQASATARAQAOAPBJAFBQAUAVASANAOAQATBQAPAOANAOAPDOAPASARAOBPBQARAPAOAMANAQATBQALAJANAOCPAQBPBRASAQAOCPARAPBRASAQAPAQAPBQBPCRAQAOANAPAQBPAOAQCRAQARBPBRASBQBRATARANAKAOATBQAMAOAPAQBMALAQASAUATAQANBOAPCOANAOAPAQAOBPCQBPAOBPAQARASARAQANARBSAQAPBRCPAOBQAPDQAPCMAKANAQBSAUARAQAPBQBPCRCNACABAJAPARAQDOAKALAMANBPAQAPBNBOAPAQAOANAMANFOANCOAPAOANAOBNCODNCOBPBOANKOAPCOFPCOANCMCNAOANAOCNFOINBOBNDMBNEMDNFMALBMBNEMBLBMANAODMALBNAOAPAQBPBNALBMANAOAPAQCOALAJAKALAOAPARBQAOANAMALAMANAODPAQBPAOCNBMALBMAOAPCOAMALAOASAVAWAUATAQAMAJBKANARAUAWAVATARBSCRAOANAOAQARASCRAPAOEPAQBPANAMALAMANAOAQARBPAOANBOAPAQARDQAPAOANAOaNBONPAOBPCODPAOMNHOANCObNAOINKOANEOBNIMDNAMDNEMFUAVATASARAQERASARAQBSATARAPBMALBPASATAQARAQAPAOAPARASCQAPASCQARASARAPAOBNAJAHAFAPASATASAOBQATAUATAQAPAOBPBOAPAOBQASAOAMBPAQARAQAPALANAQATBPAMAKAMAPAOBPAQCPAQARAQAOCPARBPBRASARAQAPCQAPCRBPANAOAQAOANAOAQERBQBRASBRAPAQASARAOAKANASATARANAOAPARAQANAKANARASATARAPANAOAPDNAMAODPAQAPDOCQASBRAQANAQARASBPBNARBQAPAOAPAQAOAPBQAPCNAKAMAPAOAQATBRAQAPAQARAQAPAQARAQAPAIAABJAOARBQAPARANAJAKANCOAQAPBNAMAOAPAQAOANAMANAOANAMANFODNAOANDOBNDOENJOAPDOGPBOBNAMCNAOFNEOFPCOANCOANJMDNDOANBMBNGMBLCMAODMALBMAOAPENAMCNAOAPDOAMAKAJAKANAPARASARAPANALBMANAOAPDQDPAOBNAMALCMAPARASARAPANAMBQAUAXBUASAQAOANAOAQATAWAYCWAUBVBUASAOANAOARATCSAQAPBRASERAPANAMBNBOAPCOANAMBNAOAQARCQAPAODPBOWNCOPPCODPCOKNEOBNFOkNROBNMMDNGMDUAVAUASARBPBQCRBQBRBSAQAPBMALBQASARCPANAOAQARASATARAPARATASARAQARAPBNAMBHBGAOARASARAPCSAUBSAQAPDOAPAOANAPASAPALAKAPAQARAQBKALARATBQAMAKAMAPAOANAPAQGOCPARBPAOAQARCQAPBQBPBQARAQAPAOAQANALAMAPAQDRBQBRASBRAPAQASAQAOALANARATARANBPASARAQAKBPARDPAODPBMALAOANAOAPAQBPDOANAQASATARAPAOAPARBTARAQAMAKAQARATARAPBOAPAOAPBQBOAMCNAPAQARASAPBQCPAQASARAPAHAABJAMAQARBQBNAJAKANCOAPAQAPANAMANAOAPBNCOANAMANCMBNBOCNAOANJOCNAOCNCOBNBOAPEOCPAOCPBOANBMBNAOFNAOANBOCNBOCPCOBNEMANCMGNDOBNAMCNBOBNBMBLBKALANAOAPAOANALBMANAOFNAMBNAPAQBPAOANAMALAKAJALAOAQASBRAPAMAKALANAPAQEPEOANAMALDMAOARATBRAQAPBQATAWAXBVATASARBSATAWAYBZAXAWBXAYAWAUAQAOAPASAVAUATASBRBSATBSARCQAOANAMANAOENBMCNAOAQEPBOaNDONPAOBPAODPBOLNAOCNAOBNGObNBOFNSOANEMANGMDNHMCUAVBTASARAQAPDQARAQBRCQAPCMAKAMARCSAQAOBPARBTASAQARAUATARAPCOANAMALAGBIAPARASARAPAOANASATAUBRAQAPAQBPCMANAQARAMAIAOAQARAQBLAKARATBRAOAJALAOBNAOAQBRCQAPAOCPARCOAPAQARCPCQAPAQBRBQAOAPANALBPAQCRCQAPAQBSARAQBSAQANAKAMAQATARAOAMAPASATARAMAKAMAQAPARBQAPCOAPAQAOALBOBNAPARAQAPCOAMAOARATASAPBQBRBSAQAOAJAKASAVAUARAPAOBNAOAPAQBPAOBLAJAMAQAPARAPAOAPCQASATASAOAIAABHAMAPARASARAQAOAKBNBOCPAOBMANBPBNCOANAMANHODNKOBNAOCNBOFPFOBPAOFNEOENBOENDOGNEMBNCMGNBOCNAMCNBOCNAMALAKBLANAODMALBMANAODNBMALAMANAPARBPANALAJCLANAPARASBQAOALAKAMAPARDQAPBODNBMBLBMANBOAQASARASDRASAUAWAXAWAUASCTAVAWAXFYAXAUAQAOBRAVBUASBRASAUBSAPANAMAOCNCOAPCOBNBMBNAOBPAQBPCOVNBOBNFOLPBOGPBOQNJOaNBOGNCODNQMANFMDNIMCUBVAUASARAQAPAOCPAQBPARDQAPCKAJAOARBSARAOBPAQARBSAQARAUBQAOCNCLAGAFAJAQARASAQAOANALAPATAUAVATAQAPAQCPAOANAMAOARAOAHAKAQASAQAPAMAKAOARATASAOAKBMAOANBPAQBRBQAPAOCPARBSAQAPBQBSARAPDQCRBPBOAMALAOAQAREQAPAQCRCSARAOAKAMAQATARAPAMAPAQATBQALAKAMAPBQARAQBPAOBPAQAMAKALAOANBRASAPAOAPAOANBQARASAPBQCRASBQAKAJALASAWAUARAODPAQARAPBQAMAHBOAPAQAPAOBPBQASAUATAPAIACAEAHAMAOARASARAQBLBNAOCNAOCNAMANAPBOANBOANAMANAOCNAMANCOAPAOANAMANDMANEOBNCODPBOBPGOAPBOJNAOKNDOGNCMANEOANAMFNAODNAMCNDOBNALAKBLANAOBNAMALCNBOCNBMBLAMAOAPARAQAPANAKAIBKANAPAQASBRAQANALBNAQARBQBPBOCNDMBNBOBNAMANAOAQARASBQAOANAPASAVAXAVARAQARAUAVAWBVAWEUASAOAMALAMAOAQARAQAOBQASATASAOAMALBNAOBNBOAPBQBPAOBNDOBPEOBNDOQNJODPAOFPCOFPBORNIOcNAOGNBOENWMANIMCNAMBUCTASARAQAPBOCPCQARAQASARAQAPBOAJAKAPAQASBPDQBRCUBRAOANEMAKAGAIAQARCOAMAJANASAUAVAUARAPARAQCOANCQBIAJAPASARAOANAKAMAPASBPAMAIAKAMANBOAQEPAOBPBRASCPCQARBQAPAOBPAQCRAQBPAOAMANAQARBSARAQAPAOAPARAQARBSBTAQAKALAPATASARAMANAPATAUASANAKAJALAOAPAQBRAQAOBPAQAPALBMBNAPASARAOAPBOANAMAQASAQAPCQCRAPANAKAJARAUAVASAPAOAPAOAQARASBQBOAIAGAKAOAPCLAMAPAQASATBMAHAEAGAHAJAOAPAQARASAQAMALANAOAPAOANAOAPAOANAMANAPBOANBOANAMANAOAPBOANAMANBOAPAOANAMBNNOAPFOBPJOANCOAPBOBNBOINCOJNBMBNDOBNBMALBMANAOAPAOBNAMBNCMBNAOANALAKBMANAOBNALAKALAMANAOBNCMBLAMANAOAPAQAPAOAMAJAIAJALAPAQARCQAOALBMAOAQCPBOANFOBNBOAQARAQAOANAMANAQASBRAOALCPAUAXAWARAOAPASAVAXBWAUBTASARAPANALAKALAMBLBMALBMAPARBPAOANBPAQAPAOANBOAPAQCPAOBNDOBPAQAPCOANDORNDOBNDOKPBOZNJOiNBOGNfMFUAVAUATASARAQAPDODPARAQARASARAQAPBNAJALARASAUARAQARAOAPCQARATAVASAPANFMAGBMARBSAPANAIAKARATAVATASAPARAQCOCNAPBKAJAOASBPAOALBPASATAQANAIBKAOANBPAQAPCOCPAQARASBTARAPAOAPAQARAQAPAOAMAOAQBPAQBRAQAPANAOAQARBSBQAPBOARBQBRATBQAKBPASATAQANAMAPARAUATARAMAJAIAKAOAPBQARAPAOAPARAQAOAMANAMALAOAQARAPAOAPAOAPAMANARAQAOAPGRAMAKAMAQAUATAQAPCQARASCQBJAGAJAOAPCKAJAMAQARATBMAHBIAJBOAPBSATAPAOAMANAOAPAOANBOAPANALANAOAPAOANBOANAMBOBPBOANAMANAOCNAMCNKMANBOAPFOAPKNCOAPBOCNBOINBOKNAMCNCODNALBMANAOCNBMANEMDLBMANAOBNALAKBLANAOCNBMBLBMAOAPDNALAJBKANAPARASARAQAOALAKALANAQARBQAPAOANAMCNCOBNAMAOARATBRAPANAMAPASATAQANALBMAPATAXBTAPANAPARATAUBSAQAOBNAKAIAHBJALAMALAKAMDNAPAQDRDQAPAOANAOAPAQBPBOANBMBNAOAPAQBPCOANCOGPBOJNCOBNFODPAOEPAOUNAOENJOhNBOHNEMANaMDUCTASARAQAPFOANAOAQBRCQAPAQAOALAKAOASATASAQASAPAOBPBQASAUATAQAOANBMBNAMAGAHAOATASBRAOAIAJAQARAUARASAQASARAQARAOCNAOBLAJAPARATAQAPALBQARASARANAKAIAJANAOANAOAPBOEPARBSBUATAQAOBPAQBPAOALAMAPAQAPAQBRAQAPAOAPAQARAQARASARAPBOAPARBQBSBPALAKAOARASAQAPAMANAPATAUASAPALAIAJALAOBPAQAPAOAPASBQAOBNALAMAPCOAPAQAPAOALAPAQAOCPAOBPBRAQANAMAPASBPBQCRCSARAQAMAIAJAOAQARAPALAIAJAQARASATAMAIBLBKANAPAOASATAQAPAMALAOAPBNBOAPAMALANAOCNBOANAMBNAOEMANAODMCNDOANFMANBOAPEOCPGOAPBOANAOCPAOCNCOBPBOENBOJNBMCNCOAPBOANCODNAMBNBOCNAMALCMANAOCMAKAJAKAMAOAPCOANAMALCMAOAQAPBOAMAKBLAMAPARASBRAQAMAKAJAKAOARDPAOANAMCNDOCPASAUAVAUAQANAMAOARASARAOANBOAQASAUAWBSAPANBPAQARAQANAKAIAJBIAHCJAKALAKBNAOCPAQARBQARDSARAQAOANAOAPEOBNAMANAOBPBQAPCOANCODPCOLNBODNFOBPBORPAOFNAOGNIOMNAOQNDOHNhMDVAUBTARBQAPBQBPCOANBPAQBRAQAPARBOAMANAQASBRASARAOCPAQBSATASAPANBMBNBHAKAOAVATCPAJAIAOAQASARASARASARAQASAPAOBNAOANAMAJANAPASARAPALAKAOAQASARAOAMAJBMAQAPAOCNBOANAOAPARASARASAUBSAOANAOAPAQAPBMALAOAQBPBQAPBNAPAQARAQAPASARAPCOAQARAQAPARBQANAKAMAPASBQAMALAPAQASATARAOALAJBLAMAOAPDRATAQAPCOAMANAODQBOANBPAOCPBOBNAPATARAPCQAPAOAPAQBRFOAJAKAOASATAPAMAIBOARASBLAIAMANAOANBPBRASAQAPAMAKANAPBOCPAMALANAPBOANAMAOBNAMANAOENAMANAOCMBNDOCNIOBPCODPEOCPBODPBOCNAMANAOAPAOBPBODNAODPCODNBMCNBOAPBOCPCOANAMCOAPBOANAMALAKBNAOAPBOAMAKCMAOAPDOAMALAKALANAPAQBPANALAKALAMAOAQARASBRAPAMAJBLAPARASARAQAPAOANDMANBOBPAQASAUDRAOANAOARATBRAQDPAQATAVAUAQAMALANAPARBPAMAIAJBIBHCIAKCLANAPBQARAQAPANAMBNAOAPAQBPAOANBOAPBQAPBOANBODPCOCNCOCPBONNBOCNFOCPBOBNCOLPBOBNEOFNJOLNBOQNCOBNAOFNhMBNAVBUATARAQCPBQEPANCOAQBPARATAQAOANBQBRASBOBNAQDSATAPANBMBNBJAIAMAQAVAUBRAMAIANAPAQAPARBSARAPATAQAOAPAMAOANBKANAPARASAPANAKAMAQARASAPAMALAKAMAQARAPAOBNAMAOBNAOAQASARASAUBTAPANAOAPAQCOALAMAPDQAOANCPAQBOAQARAQAPBOAPARBPBRAPAOAKALAPARASAQAOALANAPAQASATAPANAMAKAJAKAMAPCQBTASAPDOAMAODPARAOFPAOBPAOAMALARASAPCQAPAMANAQAPAQARDSAQALAMAPATAUAQAOAIBNARBOAKAIANAOAPAOAPARATBSAQAPAMAKAMAPBOAPAOBNAMANAPBOANAMAOANBMBNAOENBOCNAMANEOBNAMANHODPAOCPDOEPAODPBOCNCODPDOFPDOCPBOANFOAPFQAPAOAMALAMANAOAPCNALAKBNAPBOANAMALAKALAMANAOAPCOAMALAKALANAPARAQAOAMAKBLANAPAQARASBQAOAMALBNAPARASARAPAOCNBOANAOBPBQARASAUATBUATAQAPAQATAWAVATASBTASAQBSATASANAJAIAKAOASAUBSAQANALAJAIBJAKBJAKALCNAPARAQAOAMAKBJCKANAPBOANAMANAPAQDPAOCPBOCPAOHPAOQNBOANHOFNDOKPCOANHOCNDOANFOJNCOONGOGNkVBUATARAQBPCQBRCQAPAMALBMAPAOAQATBPBMBPAQASBQAOANAPAQBOARAUASANAMALANCJAFALAOATBVATAOAJANAPBNAQARASARAPATARAOAPANBOANALANAPAOARAQAPALBPBSARAOANAMBPASARAPAOBMANAPAOANAPARCUBTARAOBPBQCNALAOAPENAMBNAPAQAOBQBPCOAQARAPBRAQANALBMAQASARAQAMALAOBQASBPANBKAJAKANAOAPBQASBPAOAPAQBOCPAOBQAPAOCNAOAPBOAPBNAJAPASAQDPAKBPCQDSBPAOAQAVAWASAPAJAIANARBMAKAIANBOBQAVAXBSAQAOANALAMAOAPAOAPBOBNAPAODMAOBNAMBNAOENBOCNCOANCOBNBMANDOANCOHPBOFPBOBPCOBNAOCNBOCPCOAPAODPCODPCOBNEOAPBQEPANAMBNAOBPBOAMALBNAODMALBMANAMANBOCMALCNAPAQARAPALAKBLANAPAQARCPAMALANAOAPBQARAQAPEOAPGQCSATAUAVBUBVAXAWAVAUBVFSANAICLARAVAXAYAXAVASAQAPBQASARAPALAKALBNAPAQARAOAMALAKALAKAJBLAOAPAQAPAOBPAQDPEQAPAOCPAOGPBOHPCOFNBOANCOANFODNCOLPCOANHOBNLOINBOPNJOENHMDNOOCNFWAVAUASARAQDPBQARDPAOAMALBMAOBSAVASAPANAKALAOARASAQAPBOAQBMAQAUAVAOAMAKANAOANAJADAKAMAOASAWAVAPAKAMAQAOALAOARASBPARBOAPAODNBPAOAPARAPANALAMAPAQATARAPBNAOARASAQAPBNBQAPANAOAQCTAUATASAPAOAPCQARAQANBPBQBPANAMBNAOAQAPAOBPAQAPAQAOBRAQAPARAQAOANALBOARASARAPALBMANAPASARAQAOBKBMANCQARASAPAOBQCPCNAOBPAOAPAOAMBPBOBPANAJAMARASBQAPAOAJAIAOBPDQARBQAPBWAYAUAQAKAIAMAQAPAMAKBOANAMAOARAXCTAPAOBMBOAPAOBPAOAPBQAPAOCNAOAPANAMBNAOCNBOFNBOBNCOANBMBNBOBNFOFNAOCPAOLPBOANBODPBOAPIODPCOBPAOBNBOAPCQARAQBOANAMANAOBPAOANAMALBMANAOBNBMBOBNAMBNBMENAOAPAQAPAMAJBKANAPAQDOALAKANAQBPFQARASBRCQBPAOANCPASAUAVAXAYAXAWAVAUATCUAWAXAYCWAQAJAHAIAJAOAUAXAZBXAVASAQBTAUBSAOALAKALANAPAQCOANBOANAMALAMAOAQERCQBPCQDPAOCPAOFPCOHPCOCNDOBNJOENBOLPBOBNIOANLOZNLODNHMDNOOBNFWAVAUASARAQEPAQCRBQAOBLDNAQAVAUARAOAKAJANAPASARAPAQAOAQAPALAMATAYARAMAJAMAOBMAFAHALANARAUAWASAOALAQAPALANARATASAQCPBOAPBOFQBNCMAOASATASAPAOCQARAQBPANAPARAOANAOAPBSAUATASAQAPDQBRAPAOAPCRAQAPANAMBOAPAQAOANAOAQAPCNAPAQAPARBPAOAMALAMAPASBPANALAKAMANAQARCPAOAMBNAMALANARBQAOBPAQCPBNBOCPBNAMAPBOBPANALBRASAUARAPAOAJAHANAPAQBOAPBQARAQAPBVAYAVAQALAJAMAPAKALAMAOAPAMBOAUAYAXAUASAPANAPANAMAOAPBOCPAQARAQAOBNBPBOANAMANAOCNBOBNAOCNBOBNEMBNBOANIOCNAMBOAPDOENAOCPDOEPAOBPBOBPAQAPFOANBOBPFOANAOAPCQDPAOANAODNAMFNAOANAMANAOAPBOANAMENAOEPAOAMAJBKAMAPAQCOANAKBNAQARAPAOCPAQBSATCSBRAQBOALBMAOARAUAWCVATARAQBRASATBVBWAXBVAPAIAHAIANASAVAXAYAXAUAQANBPASAUATAQAMAKBLANAPAQARAQAPBQCODQDRDQBPAQEPAOANAOAPBODPBQAPAOIPCOCNBODNJOHPAOMNJOANGOBNCOZNCOANTMCNQOBNDWAVAUASAREQGPAOCMBKBOASAVATAOANAIAKAOARBPBOAPBMAKARAZAVANAJAKAPBNAIAFAKANAQASAWAUAPALAPAQALBQATBRAPAODQARAPAOAPAOCPAQAOCLANAQAUBSAPAOCRBQBNAOARAPAOBPBRATBSAQAPCOAPBQARAPBQAPARAQAPAOAMBOAPAQBNAOAQAPBQAOBPAQBSARAPAOALAKAOASATASAPANAKAIALANAQBSBPCOAMALBPARAQAOANAOAQDOFPBOAMAOAQAOCNAMAKAOASAVATAPAOAKAIAMAPARBNAPANAMAOAQAPBUAYAVAQAMAKAMAOAIAKAMAQAPAMBOAVAYAXATARAPAOBPANAOAPCOCQARBQAOAMBPBOBNBOFNAOBPAOANBOBNEMBNAOBNJOANBMANBOAPDOCNCOBPBOBPBOCPAOCPAOBPBQBPBQAPAOANCOAPGOBPBQDPAOGNALCMANBMANBMANAOAPAQAPAOAMALBMBNAOAPCOANAMALAJBLAMANAPAQAPAOALAKALANAPAQBOANBOAPARASATAUATCRAPAOANAMALAMAOAPASAUATARAQAPANBOAQARATBRCSAUAVATANAJBOATAWAYAZBVAPAKAJAMASAVBTAPAMAKALBNAQATBRAQARASBQAOANAMANAOAPAQBRDQBPBQCOANBOAPKOHPCOINKOHPBOLNIOANHOBNBOUPAOENAOCNVMCNOODNAVBUASARAQARDQDPBOANBOAPANAMAKALAPAUBQANALAJAOAQASAQAPAQAOBNAJAPAYAZAQALAIAPBNAMAJBMANASAXAVAQAOBPAKALAQATAUASAPANCOAQATARAOAPAOANAOAPAQBOAPAMALAPASAVAUAPBOANAPASARBPANARBODQASCQBPBOAPBOAQARAPBQARAQAPBNAMANAQBRAOANAQBPAQBOBQBRASARAPALAJAKAQATBRAPAMAJAIALAOAPARATASAPAQBPALBMAQBPAOBPBQBOGPAOANBPDNAOALAMARAWAUAPAOAKAJALAQASARAOAPALAKALAPBQATAXAUAQAOAKALANAIAJANAQAPANBSAWAYAWASARAPEOAPDOBQARASARAPAMALAOAPCOANBOENAOAPBOANAMANAOBNGOANPOCPDOANCOBPAODPCOBPBOEPBQCPDOANBOBPEQAPDQARAQAPAOHNAMALBMANCMDNAOAPAQAPANALAKALAMANAOAQCPANAKAJBKALANAOAPAQAPANAKALAMAOBPAQAPANBOAPAQARASAUCTAQAOALBMANDOAQARAPAOCMBOAQARBQAOCQARASAQANBQAWAZDXATAOAMAPAUAYBXAUARAQAOBPASAUATBRDQANALDNAOAPEQBPCQBOANCOAPJOFPFOINKOHPBOKNJOANGOCNAOVPAOINbMANLOCVBUASARAQARDQCPBOBNBOBQAOAMAKAOARAUATAPAOALANAOASARAPAQAOBNAKALAVAbAVAOAIAMAQBOALAKAMAKASAWBRAQAOBKBQARAVAUAQAOALBPAQATASAPAOAQAMBNAPELAMARAUBRAOAPAOBRASAQAPANAPARAPAOCPASCQAPAQAPAOBPAOAPARAQAOAQARAQAPBOANBPAQARAQAOAPARAQBRAPAOAQBRASBQANAKAJAOARASBRAPALAJBMANAPASATARCPANALBOAQAPAOCPBQAPANBPBOENAOAPAQBOBNAMARAUAVARAOAKBMAQARASAQAPALAJBOBRATAVATAQAPALAKAJAHAKARBPAOANATAWAXASARBPAQBPAOCPCNBQARASARAPANAMAOAPCOANBOENBOAPBNBMANAOBNEOBNEMANIOEPAOLPDOBPCOANAOAPDQBPDODPHQGOANBOAPBOANBMALBMANAOBNAMDNAOAPBOAMALAKALAMAOAPARAQBNAJAIAJAKAMAOAPCOALAJALANAOAPDOBPAQCRASATBSAPAMALCMANBMANAOAQCSBQANAMANAOFPAOAPAQCSAXAZCYAVATARASAUAYAZAYAXAWAUATAVEUASAQAPAOANAMBLAKALBMANEOBPGOANCOCPHOGPDOJNKOIPAOKNIOBNGOKNBOLPBOKNYMBNMOAVAUATASARDSARBQAPCOBNBOBPAQANALAMAPASAUATAOANAMAPARBPAQAPAOANAKAJASAaAZAQALAKAQARAPBOAKAJAMAVAXATARAQAOAKAIANARAWBSAQALAKANAQATBQAPAQAOALBNAOBPAQAOALAOATAUASAQAOAPAOAQASAQAPANAOAQAPBOCRASARBPAQBOBPBOAQBOBQBODNAOAQARBPBRBQARAQAPAQCRATARAPAKAJAKARBSBQAPALAKALANBQASDQAOANALANAQAPAMAODPBNBOAQAODPAOANAPAQARAPAOAPAOAPARAUATAPALAMAPBQARBOALAJAIANAOARATAUASAQAPAMAKAIAGAKASATAPAQAPATAVAWARBSAPAQARAQAOCPCOAMAOARASARAPANBPDOANAOCNAOCNAOBPAOANAMANAOBNEOENBMCNFOFPAOHNAOBPJODPAQEPAOEPJQFPAOCPBOBNAMDNBOBNAMCNBOCNALAKBMAOAPAQBPAMAKAIAJALAOAPAQBPAMAJBLAOAPCOANBOAPAQDRASATASAQANAMBLAMANBMANAOAQARASAUAWAVASAOANBMALCMANBOARATAUAWAXAYBXATARAPBSAVAYDWATBVAXBWATAQANALAKAJBKALAMBNCMCNBOCPCOAPCOANCOCPHOHPCOMNHOSNKOBNGOCNCODNBOMPCOJNYMBNMVAUATASBRAQARDQAPCOBNAOCPBOANALAPAQAUBSAPAMAPARASAPBQAPAOALAIAOAXAZAUAQAKAOAQARBPAKBJATAXAVAQARAPALAHAMARAUAXAVAQAMAJALAQASAUASAQCMAKALANAMAOARAPAMBRATBRAPBOAQASAQAOANBPDOBQASARBQBRAOBPBOAPBOANAOAQAOANAOCNAPAQDSBRCPAQDSATAQANAJBMAQARASARAPBMCOBQARASATASAPBNBPANAMAPCOCMALAOAQAPANBOAPBNBPASAQAPAQARAQARATBPAMAOAQAPAQAPAQAPAOAJAIAMAOAQASATARAQAOALAJAHAGAKASAUARBSATBSARBSAQARBQAPAOBPCOAMANAQASARAPAOBPBOBNAOCNBOHNAMBNAOANEOFNBMCNEOANBOAPBOEPAOBNBOCPBOAPDOAPCOBPAQEPAODPCQAPBQAPCQEPCOBPDOANAMBNCODNAMCNAOCNALAKBLANAPAQBNAKAJBKANAPAQCOALAJAKAMANAPCOANAMANAPCQBSATCRAPAOENCPARASCUAWAVASAQAOAMAKAIAHAIAJAKANARAVAYBXAYAZAXARAPAOBQATAXBYBXATARATAVAWAUASAPALAJAIBJBMAOAPCOANALBMANAOBPDOBPCOANBOEPGOCPAOEPBODPAOHNGOTNKOANOOCNBOLPDOKNGOANGMBNFMBNMUBTASARGQAPAOIPBOANBQASATAUARAPAOARATAQAOAQAPAOANAIAJATAZAXAUANAMAPARCOAJAHAOAXBSARBOAIALASATAWBRAOAJBPARATBSBRAPAMAKBLBRAQAOANAOATASARAQAPCSARAOANBOAPDOAPARAQDRAQAOAQBOAPBOANBOBNBPAOANAOAPBQBRASBRAQAPBRAPBRATASAOAKAIAKANAPASARBPBOANBOAPAQARASATAQAOAPBOANAKAOARAQAOANCLANAPBMANBOBNALAOASARAQBRDSAPANAOAQAPAQAPAOBPAKAIAMAOAQATASARAOALAKAIAFAGALASAVASARAWAVAUASARBSARBSARAQAPANAOAPCMANAPARBPAOBPBOBNBOBNBOINAMANCOCNAOGNAMENEOBPCOAPBOCNBOEPFOAPFQARAQAPCOANBOBPBQBPEQEPBOBPBQBPBOANAMANCODNBMCNAOANBMAKBLANAOAPAOAMAJAIAKANAOAQARAQAPANAMBNAOAPBOBNDOBPBQARASCTARDQBPAOBPAQARCSAUBTARAQAOAMAJAHBIAKAMAPATAWAZAYBZBVARAQBSATAVAXDWATBVBTARAQAOAMAKAJBKAOAQCPBNAMALCNAOCPAODPCOHPFOJPAODPBOHNDOYNBOBNTODNAOLPFOJNGOANGMBNFMBNLUBTASARFQBPAOJPAQAOANAQARASATBRAOASATARAOAPBNAOAJAGAQAYAZAVASAMAPBRBOAIAHALAVAXATAQARAQAKBRASAWAXAUAQAJAIALAQASAUBVAUAQAPALAJAIAKAOARAPBOAQARAPARAQAPBQARAPAOCPAODPAQDRBQAOAQARAPBQAOANBOBNAMAOAPAOANAOCQASATBRAQAPAOAQAPAOAQARASAQANAJAIALAPBQARBQAPCOAPBQARASARAPCOANAKANARBOANBOAMANAPBNAMANAOBNAKAOAQASARAQARAQBRBPAOBQBSAQAOBPAMAJAMAPAQATBQAMAJAIAEAFAHAOAUAWAUAVAYAUATASARBSCRASARAQAOAPDLANAPARBPAOANAODNBPAOANAMAOJNDOFNBOCNBMBLAMBNCODPEOBNDODPBQAPIQBRAQAPAOAPAOBNBOAPBQBPHQBPAOCPAQDPBOANBOBNAODNDMANAOANAMALAKAMAOAPAOANAKAIBLAOAPAQBOALBMAOAQCPBNAMBNAOEPAQARASBTAUCTASBRBQBSCRASATBSARCQAOAMAJBNAQARBTAVAXAYBZAYATAQBSAUAVAWAXCWCXAWAUASARBQAOALAKALAOARASAQAPAOANAMBLBMANAOFNBOAPAOENAOEPDOFNAOCPAOCPCOCPCOBNCOFPAOBNCORNTOPPFOKNOMBNDMDNKTCSARGQAPDOBNBOAPCQBOAPARBSATASARBSATAPAOAPANBKAGALAWAZAYAWAOANAPAQARAPAJCTAYAVARAQBNAMAQATAUAXAWAQAMAIAJANAQASAVAXAWATAQAPALAJAHANAQBOARAQAPCRAQAPBRAPAOAPDODPAQAPAQARCPBRAQAPAQBOANAOBNAMANAPAOEPASATBRAQAPAOBPAOBQASBPAMAIAJAMAOBPARCPBQAPANAPBRBOBQAOBLAMARBPAOANAOANAOAPBOANBOBMAKBOARASARAQAPAQBPBQANAQBUASAOBPANAKAMAPAQATAUARANAIAGABAFAIAPATAVATAWAYATAPARAQBRASBPASBRAPBQAPAOAMANAOAQBPBODNCPBOANBOJNDOFNCOBNAMBLCMANAOFPBOBPAOANFOAPKOBPAQARBQAOGPCQAPAOBPHOCPAQBRAQAPBOJNHMALBNAOAPAOAMAJAIAJAMAOAQAPAOAMAJAKANAQARCQAOAMALAKALAOAPAOANBPBQCRAUAVCUATASAQBRASAUBTASARCQBRASBRAQAOAPASATBSBTAVAXAZAYATAOANAPATAWAXAYAXAWBVAWAXBVATASBTASAQAOBPARATBRAPAOANAMCNAOBPAOENBOJPAOBPDOFNAOBPBOCPBOCPDOBNBOJNBOSNKMBNFOQPDONNNMBNDMDNJTCSARBQCRCQAPCOANAMBOAPBQBRAOBQARBTBSARBSAQAOBNAMBGAHASAaAZAVAQAMAPAQARBNAIBOAXAWASAQAPBMAPASATAXAWATAPAIAHAJAOARAUAXBVASAQAOALAHAIAPCQATAPAOBQBPEQBPAQAPAOANAOAPAQAPBRBSAPBQAPBQBPAOBPAOALAMAOCPAOCRATBSAQAPAOCPAOAPBSARAOAJAIALANAOBQARASAQAPBQAOBPAQBNBPBNALAMARBPAOEPAQAOANDMALAJANAPASARBPDOARAOBQATBPAOAPAOALAMAPBTAVASAPAHAEAAAFAKAPASATASAWAXASANAQDSARAPARASBQDPANBOAQBPDNDOAPCNBOCPEOCNCOGNCOANAMBLCMANAODNAOBPAOFNBMANBOAPFQBPBOCPAQCPAODPGOCPFOANBOBPBQBPCOGNFOANBMCNAODLAIAJALANAPBOANAKAJAKANASATBSAQAOAMAKCMAOAPAOCPCOBQAUAVAWAXAWATAPAMBOARATBSAPANAMANAOAPARAUAVBTARBSATCRCSATARANALBOATAWAXCWAVBWAXAWAUCWBVATASCTAUATASAQAPBOAPDQBPAODNCOHPBOCPBOCNAOFPBOBPCOCPDOMNCONNAODNJMCNFORPCOJNAOCNTMDNBMDNCTBSBRBQDRBQBPBOANAMBNAPAQARBSAPANAQARASBTASBRBQAOCMBGAFAQAaBVASAOBRCPAJAIALAWAVATARAOBNAOAQASAVAWAUAPALAHBKAQATAVAXAVATASAQAOAJAIALAPAOARASBOBPAQAPCOAPAQASARAQBPAOBPBOAPARBSARAOAQBOAPAQBPDNAMBOAPCNAOAPARATASAQAPAOBPCNAOARASAQANAJAKAMBOAQARCPBQBPCQAOANAOAPANAMBQBPAOAPAOAPAOAQBOAMANCMALBMAOARAQARBQAOCRAOANAQASBRAPCMBPANASAVAUAPAHAABFAOARATAUAVAWAVAPAMAQBPAOARBPARASARAQBRBQAOBPAQBPDNDOAPCOEPFODNBOFNEMBLCNBODNBODNAOAPAOANFOAPFQBPAODPAQBPBOCPDOBPBOCPAOAPCOANCOCPAQBPAOHNCMCNAOANAMALBNAPBOANAKAIAJANAPCNAKAJBLAOARATBSARAOAMAKCMAOAPAQAPCOANBMALAOATAVAWAYAXASALAJAKAMAQASATAQAMAKAJAKAMAPATAXBWATAREQAOALBNAOAMALCMAQASATAUAVFUAWCXBWATBSATDSARAQAPAQCPAQCPAODNBOCNAODPBODPBOJPBOBPBOEPCOMNBOINAODNBOCNKMBNGORPAOPNTMDNAMENBTBSBRBQJPAOANAMBOAQARASARAQANAPAQASFQAPBNAPANAMAJAEAJAXAbAWASAQAOAQATBQAMAGAJAPAVAUASAQAODRATAVAUASAOAJAHBMASATAUATASATASARAOAKAJALAOAPATASAQAOAPBQAPBNBQASCRAQAPAOAPCOAQARCQBRAPAOBQAPAQBPBNALANAQCOAPAOAQASBQAPANAOAPARAQANALAOASBOANAMBLAMAQARAQBPCQAPCQAOANAOAPAOAMBPAQAPAOAPCOAQARAPANAOANCMCNAPAOARBSAOBNAOBNAQBSBPAOAPANAMAOBQATAVAQAKAABFAPASAUBWBUANAKAOAQAOANAQARIQAPAOAQARAQAOBPBOANCOAPEOCPHOCNBOFNAMANBMENAOGNBOBNAOFNDOBPGOEPAQBPCOCPBOANBOKNCOCPAQAPAOAPBOENDMALAMANAOANAMALANAQBOAMAJAIAKAOAQBPAMAJAIAJALAOAQASATASAQAPANALAMBOBPAQAPAOBMALBMCOAUAWAYAaAWARANALAKALAOARBPALAJBKAOASAWAXAWAUASAQAPAOCNAKAJBLGMANAPARATCUAVAWAXBWBXAWATARDSBRAQBPAQDPBQAPBOAPAOBNAOCNCOCPBOBNAOMPBOAPCOBPAOCPBOHNBOCNAOINAODNCOCNJMCNGOiNTMJNATCSARBQBPCQFPAOANBOAQBSATARANAOAPARASARASCRAPBMARAPANBGBTAbAXAQARBPAUBTANAHAIALAUCSAOAPBOBSAUCQAOAJAHAJAOARASARAQARATASAQAOAKAJAMAOARASAQBPBQARAOANALANASBTASARAQAPCOCPAQCRCQANAOAPBQBPBNALAOARBQAPBOARASAQAPAOANAQARASAQALANAQASARAOAPANAMBPARAQAPAOBPGNAOAPAOAMBOAQAPAOAPCOAQBPAOAPAOANCMBNAOANAPARATAQANAMBNAOAQAPAQARAQAOAQANALANAPAOARAUARALAABGAPAUAVCWATANAKAMAPAOANAQARIQAPBRASAQANBQBPANCOBPFOAPIOCNAOFNBMENCOHNBOBNAOCPBODNAODPEOCPCQAPDOCPAOANCOAPAODNAODNCOCPFODNCOANAMCNBMBNAPAQAOALAIBKANAPAQAPAMAJCLANAPARASARAPANEOENAMCLAMANAOBPATAVAYBXATAPALAJBNAQAPAMAKAJAKAMARAVAWAVBTASAQAPAOAPBOAMALGMDNAQASATAVAXEWCTAQAPFOAPAQFPEOAPAOBNAOCNCOBPCOJPBOGPBOPNCOHPBOHNCOCNJMBNHOiNTMJTCSARBQBPGQBRAPAOCPAQASAUARAPANAPARASAQBSBRAQAPAMAOAQBNAJAFALAXAYASARATAQAPATAUAPALAFAJAOAVBUARAPARAQAOAQASAUBTAPBKAIALANAQAPAOAPASAUASAQAOAKBMAQARAQCPBSAQANAMBOASBTASARAPCOEPBQASARAQAPAOANAOAPBQAPAOAMANAQARAQCOAQARBOAPAOAQARASARANALAOAQARBPBNBPARAQAPAOCPAOAPAQCPBQAPANBOAPAQAPDOAQBPAOAPAOBNAOANCOCRAUASAOANAMALANAPCQBOAPBMANAQAOAQATAQAIACABAIAQAVAWBVBTANALAMAOANAOAQARCQDRAQCPASBPAMALAPARAPAOANBOAPEQAPFOAPEOBNCOENAMENAOENAODNBOCNAOCPDOBNCOBPFOCPGOANAOAPAOAMBOAPBOINCPBOBPBQBPAOBPAOAMBNAOANAMENAOAPBOALAJBLAMAOAPBMAKAJALAMANAOAQARAQAOAMBOBNEOBNALAMCOAQBPAOAPASAVAXAWARAMAJBKAOAPAMAKBLANARAUAVDUATBSBTASAQAOANCQASATAUATASARAPBQARATAVAXCWAVAUCRAOANBOAPAOANBPAQBRDQAPBOCPBODNCOCPBOKPCOOPBOAPAOENCOEPEOHNCOCNIMCNHODNBOUNAOINDOANMMCNAMETCSARAQBPHQBRBPAOCPAQAUATAQANAQBSARAPARASARBQAOALAQARAPAOAHBRAXAUARATAUAOAQATBMAEAIALAWAVBSAPARASAPAOASATAUAVATAQBKAJAKALAOANBQATBRAQAOALBOAQAPAQASAQAPARASAOANAMBOASDRAQBPAOCNAOAPBRASAQBPAOANAPCQAPANBQARAQCPBRBPDRASARAQAMBOAQASAQBOBQCPAOFPARCQCPAOANAOAQBPCOBQAPDOANAOCNAOCQASATAQANAOALAMANAPAOAQBOBPAQAOAPBQASAPAHAFACAIAQAUAXAYAWAUAQANAMANAMANAOAQBSBQAPCQAPBQAPASBPAMALAOAQBPAOCPBOBPAQAPEOCPENDOFMBLAMANCODNBOBNAODPAOEPDOANDOBPEOFPDOEMCOAPAOGPBOANBOAPBOAPBQCPAOBPANAMBNAOANAMBLAMANAOAPAQAPAMAKBMANCOAMALAKALAMANBPAQBNALAMANAQBOBNBOAPBNAMANAMANAQARBPBQATAXAYAVARANAKBLANALAJAKALAPASAVAWAUBVBTASATBUAVBTARAQBSAVAWAXBWBUARAPAOAQASAVAXBVASARBTASAPAOANAOAPAOANAMANAOAPAQAREPAODPBODNCOBPBOBPAOHPDOOPDOENCODPFOHNCODNHMBNCMBNDOBNCOVNAOINBOCNGMBNEMANAMDLATDSARAQBPDOCPAQBRAQAPAOBNAQASAUAQANAOAPASARAOAPASARCPALAOAQARAPALAHALAUAVARASAUAQALAQAUANAHBKATAZAVATAQBTAQANAOASAUAVAUBRAPALAKAJAKAMBOARASBRAPAOAMBQAPAQASBQBSAQANAOAMBOASAQARASBRAPAOCNAMAOAPBRBQAPBNBPDOANAQARAPAQCPAQCPAQBRBQBPAMBOASARAQAPCQARAQAPAOBNAMBPBRBQBRAQAOANAOAPAQBPDQAPCOBNAPCOBPAOAQBSBOBMALAMAOCPAOBPAQARAQAPAQASAOAHAIAFAIAQATAXAbAXAUANAMANBMBOAQBSBRAPBNAOAPDRAQANAMALANAPAQAPAOANAOAPCOAPGOCPENDOFNALCMANAOFNDODPCODPDOANCOBPAOAPCONNBMCOAPAODPAOBPCOANAOAPEQCOANAOAPAOAMBNAOANALCMAOAPCNAMBNAOBNBMALBMANCOBPANALAMANAPASBRAPAOBPAQAPAMCNAPASAUBTAUBWAXAYAWATARAOAMBKAJBKAOASAUAVAUATBVATARBSATAWAYBXAVAUBWAYAXAWBXAWATAOAMAOAQASATAUASAQAOAPAQBPAOCPBNAMANCOAQARDQAOANCPCODNBOGPDOFPDOMPDOFNCODPFOHNAOJNDMANDMBNHOKPBOINBONNFMCNEMELATCSBRAQBPEOCPAQCPAOANAMANAQAUASAPANAPARASAQAOARASCQANAMAQARBQAJAIAPAVAUARATBKAOATARAIAGALARAYAUATARAPARASANAMARASATAUCQAOANALAJAKAMAOAQARBSARAPAOANAPCRASAQCRAPAOAPAMBOAQAPARASBQANAOCMBOBQCPBOANAOAPBQAPANAPARAPAOAQARAQEPAQARBQAPAQANAMAOAQBPAQAPCRASARAPBOAMALAMAPBQCRBPAOANAPAQBPAOAPAQBOAPBOBNAOAPBOBPANAPBRASAQAOBMALAMAODPAOAQARAQAPAQARAKAHAKBIANARAWAbAZATAMALAOANALAMANAPBRBQAOBMBNAOAPAQARAPANALCNAOAPBOANAPDOAPEOFPBOBNCOAPBOBNBLCMAOGNAMANAOBNBOAPEODPBOCNBOAPBOBPBOBNAOCNCODNBMCNAODPBQAPBQBPANBOAPEQAPBOANAPBOANBOBMALBMANAODNAOAPCOANAMALBMANFMALBNAOAQATBRAPAOBPAQAOANAOAPARASAVAXCWATASATAVBUASAQAOANAKAJALAPASAUAVAUATBUATAPAMAOAQATAWAYBWAVAUAWAYAWAUBVAUASAOALAMAPAQAPAOBNBOAPAOANAOAPAQBPANAMANBOBPAQARDPANDOAPBOAPBOANBOFPEOFPDOGPAODPDONPGOINAOHNIMBNGOKPCOINAONNFMCNEMFSATBSBRAQBPEOANBPCQBPANAMALAPATBOAMAPAQATARAOAPARASATARAPAMAQBSARAOAJAMATAVARBUAMAIAPAUAMAJALAOAUAVASAQAPAQASAPALANASARASATAVATAPAOBMALBOAQCRASAQAPAOBPBQASBPDQCNBMAOBRASARAOANAOAPAMALANAOAPEOANBPBQAPAOAPASAPAOAPARCQAPBRDQAPCNAOAQBPAQAPBOAPASBRAQAPAOAMBOAQAPBQCPANBOAPAQAOCQBOBPAOBNBPBOCNAOAPAQASAQAPAOBMALANAOANAOAPCQBPCJAIALANAKAMAQAVAbAZASALAMANBMBNAOBQARAPAOCMAKANAPAQARAPANALAKALAMANAPBOANAOAPAQBPAOAPAQAPBOCPBOBPBOBNBOAPCOANAMBLAMANAOAPBOCNEOBNBOBPDOEPAOAPAOCPBOBPBOCNAOBNBOBNAOCNFOCPBQBPBQBPANAMANAPFOBNAOAQBOCPAOANAMANBOBNBOAPAQCPAOAMALBMANAODNAMALBNAOAPASBQAOCPAQBPBQASATAUAWAXAWAUARAOBRAUBSCRBQBSAVCUBTASARAOAJAIAKANAQASATBSCVAWAVAUCSAQAPBQBOAMALAMAOAQARAQAOAPASATBRAOANCOAQCRAQARBPAOANCOBPAOBPBOANBOAPCOBPEOPPJOBNAONPDOINAOHNIMANBOANEOLPCOBPAOSNFMDNDMFSATBSARBQBPFNBOAPBQBPAOAMALANARAUARAOAMAPASBOCRATARAQAOBQARATASALAIAPAWAUAQASAQAHAPATAQAJBOAVAYASAQAOAQARASALBPARAQASAUBRAPBOAPANAOAPARAQAPARBPEQARASARAPAOBQASARBOAMAKANAPASBQAOANAPAOAMBOBPAOAPAOAPAOANAOAPBQAPAOARAQAOBQARASARAQAPARATARBQAPEQARAQAPBOANAPAQARASARBQAPAOAPBQAPAQCPAMALAOBPANAOBQBPBOBPAOANAPBOANAOANBPBQCPAOANAKALANBPAQEPBOAJAIANAQANAMAQAUAbAaATAJALANBMANDPBOEKAMAPAQARAPANALAKBLAMANAPAOANBPBQAPAOBPCOCPBOBPDOCPAQAPAOBNAMBNBOBPBOANHOANBOCPDODPDOEPCOBNEOBNCOBNGOAPAQBRBQDOAMBOAPEOANAOAPBQBPAOBPBOANFOAPAQARBQAPANAMALAMANAOAPAQAPAOANBPBOAPARASARAQBRASDRAQARDSBQAPAOAPASAUAVATBUAWAXAWAUAVAWAXAWAVAUCTAPAJCKAJAKALAMANBOAQAUAWAXAYAXAVAUBVBUASAPAOAPASAVAWAUASBTAUBTAQANAMANAOAQARDQBPBOANBOFPAOBNAOAPDOAPEOGNAOIPAOBPGOPPFOGNBOHNLOANDOMPFOKNAOFNGMDNDMESATBSARBQBPFOANBOBPDNALAMAQAUATAOAMAPAQATAQAOAMAOARBQAPAOAQAPASATAQAJAOATAWARBSAJBQASAIAJAPAXAYATAQAPBSBOAJAMARAPAQASATASAQAPAOAPBQBRBPAQARAQAPAQAPAQARCSAQAOBPASATARBNALAJANAPASARAPDOAMANAPDOFPAQAPAOAQARAOBPARASBQAPAQASBRAQAPBQBPBQBPBOANBQBRCQCPAOBPARBQBOALANAOBNAOBPAQAPBNAOAPAOANAOAQAOANDPEOBMBLAMBPAQCPCNAJCQARAPAOAQASAbAaAVAJBOBNDMAOCNAOCNBPCOANAMALAKBLAMANDOBPAQAOANAOAPCOBPIOBPCOBNDODPAOANIOANDOAPDOBPFOEPCOANFOBNCOCNAOBNDPAQBRBQAPBOANBOAPAQAPCOANBPAQARBQAPAOBQARAQAOANCMANAOAQARCPAOANAMCNAOAPAQAOBPARBPAOASAUBTASAUAWAVATAUAVASAPAOANAMANAOANAMANAQATAVDXAYBXBUATAVAWCXAYAWASAMAJBKBJCLANBPATAXAZAaBYAVAUAVBUBTASATAVAWCUATBUCTAPANBOAPARASBRAQAPBOMNBOCPAOHNAOCNDOKPBQAPCOEPAOKPFOFNCOHNPOOPCOBPAOINBOCNKMCNEMCSATBSARAQBPHNBOBPBOAPBMALAOARAUASAPAMAOASATAOAMALAPAQAPCQAPBTASALAJAOAWAUASBOAIAQATALAJAOAVAYAUARAPBSATAQAKBOAQAPBRASAQAPCQARCSARAQEPBRBQARBOAPAOARATBSAQANAKBOAQFOBNAOAPDOAPAODPBOAPAQAPANAOAQASBQAOAPARDQDOBQBPCNAMAOAQAPAQBSARBQANBQBSARAQAPANAOBPANCPCOANBPAOCQAOANDQBOANAOBNAMEOAQBRAQAPBMAIBKARBQAPBSAZAaAVAJBOCNCMAPAOANBOANCOAPCOANAMALBKBLAMANCOBPAQAPANBOAPBODPBQAPEOAPBOEPAOFNGOBNAOBNCOBPAOBPHOFPCOANEOCNBOGNDOAPAQARBQAOANAMANAPBQBPAOANBMAOAQARBQAPAOANAPARASAQAOANBMBNAPARCQAPANBMBNAOCNBPARBOAMAPAUAVAUATAUAWAXAVAUAVBRAOANAMBNBMBNAPAQARASATAXAZAYCTAPAOARATAVAYAZAXATAOAJBKALAKALAMAOARASBVAYAZBaAZAVARAOANAMANAPARASAVAXCUARASATAUCRAOANBPAQARASBRAQAPAOANBOHNBOANBOKNBOCNDOAPBOHPBQAPDOBPCOFPAODPFOFNAOBNCOENPODPBOIPBOFNBODNCOCNGMANDMCNDMBSBTASARAQAPIOANAOBPBOBPANAMBQATBPANAOAQATASAOAKAOAPBOAPARBPASATAQAIAOAUAWAUATARAJALARBIAKAOAYBSAQAPASAUASANAKAMAPBOAPARBOBPAQARCSBRCQBPBRBQAPARAQAPCSATBSBMAKAMAOAQAPAQBRAQAOBNAOAPAQBPEOCNAOAQBNBPARASAQAOAPARBQARBQCNAMAOAQDPANBOAPCRASARAQAMBPBRASARAPBOAPAQAOANBOBPBNBOAPAOAPCNCMAQBPANDMBNAMBOAPAQDOALAIAHAKAQEVAXBRAJAIAOBPAOANBMAPAOAMBNAMBNAOAPCOANAMCLDMCNAOBPBOANBOAPAODPBQAPFOFPCODNAMDNBOENEOAPBOCPBQAPDOANDOAPAQAPAOANEOBNBOENAOBNDOAPAQARAQAOAMALAMAPAQBRBPANAMBNAPARCPAOANAOAQATASAPAOANCMANAQARBQBOANFMAKALANAPBOANAOAQASBRAQASAVAXAVCTARAQAPAOAPAQBPANBLAKALAPATAYBZAXASANALAMAQATAWAXAVARANAJAIAKAOAPCRAUAVBWAYAZBYAXAUAPALAKALBMBPARATAVBTARAQBSATBRAQAOBPAQARASBRAQAPAOANDOFNFOCPAOFNCOANEOAPDOGPBQAPIOBNBOAPCOCPBOAPCOINCOGNEMANGODPCOBPBOMNCOBNCODNAOANKMDNAMBSDRAQAPBOBPFOBPDOAPBNAMAPAQATASAPAMAOASAVAPALBPAQAOBQASAQAPATAQAKAJAPAWAUBSAOAKARAQAJAIAMAWAaAVASAPAQATBQANAMANAPBOAPASAPAOBQARAQBRASBRBQBPAOAQARAQAPBQBPBQASATAUATASAMBNAMAOAPAQARBQAOBNAOAPAQAPAQBPBOEQAPAOAMANARASAQAOAPAQAPCRASBQANAMALAOAQARASAPCOCPAQARAQBNAMANAPBQARAQAPBQARAQAOEPANAMAOBPCOBNCQARAPANEMANCPDRBOAMAGAIAKARAQAPAQARAVAWBQAMAJAOAPBOAMANBQAOAMALAMDOAQAODNAMDLDMANAOCPAOBNBOFPHODPFOCNAMCNCOBPBOANBOANCOAPBODQBPAOAPBNDOAPAQAPBOBNDOBNBOAPBOBNAOBNBMANAOAPAQBPAMALAMAOAPAQARASARAOAMALANAPARASAQAPAOANAOAQASATARAOENAOAPAQCPAOCNBMALAJBMAOBPAQAPAOANAOBNBPATAWCYAWAUARAQBSATAUCRANAMANARAUAWBVATARAOANAOAQATAUBRALAIAHAJAOASARAQBRASATBVAWBUASARAPAMALAKALBMAPARASATCSAQCRBQAPCQARASARCQAPBOBNGOBNFOCPBOENIOAPHOCPLOBNBOAPDOEPBOJNCOGNDMBNGOCPCOCPBOMNHOFNLMCNAMASDRAQAPBOBPLOBPAOANBQARASAPANBQAVAUAOAKAOARAPAOAPARBQASATAPAIAPAVAUATBQAMAOAPAIAGALASAZAYAWARAPARATARAPANBOAQAOBRAQANAOAPARAQAPAQASEQAPAOBQBPBQBPBQARASATAVAUAQAOANAMALAOAPAQARBQAPAOANAOAQBRASAQBOANBOBQAPBMALAQARAQAPAOAPANBOAPASATAQAPAMALBQBRBPEOAPCQANCOCQBPBQARBOCNAOAPAOAMAOBPAQAPAOBNAMANARBQAPANAOBNBOCPAOCQASANAIAFAIANASAQAPBRAVAWAVAQAOALAOAPCNCPANALBMALAMBNAPAODNAMDLEMANAOBPAOBNCOEPHODPFOANCMALAMANCOBPCOENBOAPBODQBPAOAPAOANDOAPDOBNGOAPAQBPANCOBNBOAPBQAPANAMBNAPBQBRAPAMBNAQARASARAPANBOAQARASBPAOENAOCPCQCOANAMAKAJALANBQBPAOANBOCPATAWCYBVARAOBQARAUAXAZAXAVASFTAUAVBSAQAOAPARASARAOAKAIAJAMAQASBQAPAOCPAQARAPANBOCNAOCQATAUCTBSARBQBPAOBPARASBRAQDPCOANHOCNFOAPBOGNFOAPIOCPKOCNAOBPDODPBOLNAOHNDMBNDOEPDOBPCOMNGODNAOBNHMBNBMBNBSDQAPBODPLOBPAOANAPAQARAQANAMAOATAWAQAMAOAQARAPBRBSARAUAQAJAKARAVATASARAQAPAQAJAFAJAOAUAZBWAQBRBQAOANAOAPBOAQARAOBPARBPBSATASCTAQAPBOBQCRBPAOARAQASAVAWASARAPAMALAMANAPAQARCOCPAQBTASAQAPANAMBOAPAQAPANALAMAQAPAQBPBMALAOARASBQAOALAKAMAQARCQAPAQAPBOBPAQAPBOANAMAOAPARAQBPARBOGMANAOAPARAPANAOANAMANARASAQBPBOCPBOAPAOCPARANAHAEAGAOAQARAOAPARAUAVBQAOANAOBPBNBOBNAMALAMALAMANBOANAOANDMDLDMANBOENCODPGOFPEOANBMCNDOBPDOENAOAPBOEPBODNDOAPCOFNCOAPAQARAQAOANAMANAOEPBOANAMANAOAPFNAMANAQASCQANAMANAQARCQAOANBOENAMANAPAQASBQAOANALBMBNAQASBQAPANAOAQARASAVAWAVAWAYAZAUAOALCMAOASAWAXAWAVBUBSARASAUAWAXAWASANALAMAOAQARBPAOANAPASAUAVAUASAQAPBOAMALDPATAWCTAQBSATBSARBQBPCOCPARASARAQAPAQCPBOCNAMBNDOBNGOAPAOHNEOFPDOEPDOCPCOFPDOCPCOBNAORNDMANDOEPDOCPBONNGOCNKMCNCMANASDQAPBODPAOAPKOEQAPARAOANAMAOAVATAQAOAPASARAQBRASBUAVAPAIASAVATASARAPARASAOAGBKAPAYAZBUAQAPDOANAOAPBQARAPAOAPBRAQAOARATARAQARATBQBPANAOAQARAQASAQANAPARAQATAWAUARBNALBMBPBQARAQAOAPBQBSATASAPAOAMBNAOAQAPBLBOBQARAQAPANAKAMAOARASARAQAMAKALANAQARAQDPBOANAOAQDNALAMAPAQARAQAPAQARAPAODPAOAMANAOAPARAQANAOANALANARASARAPAQBPANAOAPCQAOANBOAPANAHAGAIAOAPARAOAPASAUAVBRAPAOBPCOBPAOANAMAKALAKAMANCMANCOANAMELCMBNAOENDOCPFOHPAQAPBOANBMANEOCPDOHPBOEPAOENDOAPBOGNAOCQARBPAOAMBNAOGNCPAQBPAOANCMANAPARATASAQANALANAQARBQAPANAMBNAOBPAOANALAKAMAPARASAQAPANALBMANBPASATBSAQBSAUAVAWAVAUAVAWAXASAMAIAJAKAJAKAMARAUATASATBUATCUAVAWBTANALAMBPARAUAVBTARBUAXAYAXAVAUATARAOALDPAUAYAZAYATAOALAMAQASBRAOANHOAPARASARAPCQAPBODNGOBNGODNAOENDOGPCOHPBOCPCOFPDOBPCOBNBORNIODPBOVNFODNKMCNCMASCRAQAPBOGPJODPAOAPCNALANAQAUAQAPAQARASARBSATBSAWASAJAMATAUASARAPAQASAQAHAFAMANARAYAaAYASAQAOANCODQARAQAOBPAQBOAPASARAQBSATASARAQANAMAQARDNBPARBUAVATASAPANALAMALAMAOBRASAQAPAQCRASBRAPANAMBOAPAQAPAOALAMAOBRCOAKBOBSBQAPAMAKALAMAPDQCOANAOAQARAQAPAOALBOAPARAQBPAQAPAOBPAQARAPANCPARBOBNAMANAQASBQDOANAPCQAPANAMAOBIAGAHANAQAOAQAPBSAUAVAUARAPAOBPCQAPCOANAKAJBMAOANBMBNBOANBMCNAMALAMDNAOENEOAPFODNAOCPDOBNCOBNBOCPDOBNAOBPAODPAOKNCOHPBODPAQCOANAMBNAOCPBNAMBOAPAQARAQAOANALBMAOAPARASBRANAMANAPARBQAOANAMBNAOAPAQAPANALAKBNAQARBPAMALAKALAMBPARATAUASARATAUAVBUATBUBSAOAJAIBKALAKALAPAUAVATASBRAQBRATDSAQAMBNAPARATAVAXBWAUASATAVBUATAUAVAUARAOAMANAQATAWAXAVASANAKALANASAVBSAOANBMBLBMANBPARBQAPAOAPEODNCMANBOBNKOCPAOBNBOIPCOIPAOCPBOBPAOEPHOANBORNIOEPAOWNEODNDOANGMBNDSCRAQAPAOHPFOHPANAMAPBOAMAJAOARCPARASBRASATBSAVAWAOAKATAVATARAQAPARAQAIAFAJAOBWBXAWARAQANAMBODPARAQAPAOBPAQAOANAQARAQARBSCRAQANBRBSARAPANBPAQARATAUATAQAOANAMALBNBPASARAPDRDQAOAMBNAOAPAQAPAMALANAPAQASBPAMALAMAOAQASARAQAOAMAKALAMAPAOAPARCPANBPARBPAOALBNAOAQCPDOAPAQASAQANBOAPAQARAOBNAMAOAPARASAQDPALAOAPAOAPBOANCHAGAHAOARAPAQBPASAVAUARAQAPBOAPCQCPAOAMAKBJAMAOANBMBNAOANFOANAMDNEOBNBMANBOBPEODNAODPBOHNCOCPDODPAODPBOFNAODNCODNBOBPBOANAOCPCOANAMBNAOBPBOAMBNAPBQBPAMALAKALAOAQBRBQAOAMANAPAQARAQAPANALAMANAPBQBPAMAKBMAOAQARAPALAJCHAJAOAQARATBUAXCWAUARAOANAOBMAJAIBJALCPAWAYAXAVATASAQAOAPASCRCQAOAPARATASBUAXBVASAPAOAPCRAVAXBVASARASATAUBTASAPAMBOARAWAYAXAUARAQAPANAMALAMCOAPAQBPAOCPDOCNDMBNBOANJODPAOGPAOEPAOKPAOGPBODPGOBNBOJNAOGNHOUPCOENDOFNCOBNLSBRBQAPAOIPEOCNBOANBOAPAMBPCKBOARBOASATBSBTAUASATAXASAKAPAVATASARAQBPAKAFAIARAOAQARAVAXAVAQAPAMBNAODQBPBOAPBOANAOAQAPAQARDSARAQAMANARAQARAQAPAOBPAQARATAUASAOCLBMBOARASAQAPBOAQARAQARBPAOANAMANAOAQBPAMBNAQASBQANALBNAOAQBRAPANALAKBMANAPARASARAPAOANAPARASAPAOAMALANAOAPARAQAPBOANBQBTARANBOAPAQBPAOANALAOAQARCQAPAQAPAOAMAOBNAQAPANAMALAHAGAIAPAQAPAQARBVBUAOAPBQAOCPAQCPANALAKALBMAOANEOBNBOENAMCNEOBNCMANBOGNBOKPAODNCOEPAOBPEODPBOBPBODPAOANDODNBOMNAMBNAOAPCNAMANAOAPAQBPANAKBLANAQARAQAPAOANBOAPBQBPANALAMAOAQBRASARANAKAJALANAPBOAMALAJAGACADALAOBQASAVAYAXBWBUAPALBMANAMAJAIBKAMAPASAXAZAYAWAUATASARBTAVBUASCRBTAVATAPAOAQASBPALDMAQATAWBVATASERBQAOBPARATAWBVATBSAPAMDNBPAQBPAOANBOAPAQBPAOANDOANAMBNMOGNAODPAOQPAOGPCODPDODNAOFNBOCNAOGNHOTPCOFNCOGNCOBNKSBRBQAPAOIPFOCMBOCPANALANAPBNAJAMAPARAPBUBSBTAUATASAWAUAMALATAVATASAQARBNAHBJAOBTASAWAXATAQAPANAOAPEQAPBOAPBOANBOBPAQCPAQASARAPAMAOAQCPCOANAQARATASAPAOCMCLAQARBQAOBPAQAPAQASAQANAOANCQARAPAOANAMAPARASARANAMAKAMAPAOAPARBNAMALAKBLAOAPASARAPAOCQASAQAOAMALANAPBQDOAMALAOARATASAOCPAQBPBOALAOAQBRAQBPAQBOALBOANAPBNAMAGAHBLAPAQAPAQARBXAWAUANAOAPARAPBOBPBQBNAMAKALBMAOANBODPAOANAOCPAOANAMBNFOCNBMBNCODNBMANAOONDOCPAOCPEODPDOAPAQAPAOENDODNEOKNBOAPCNAMANAOAPAQCOALAKALANAQARAQAPAMAKALAPAQDOAMALBNAQASDPALAJAKANAPAOANAPAOAKAHADAEAMAQAPAOAQASAUBTAUAVAWATAOALBNAPAQAOAMBPAUAVAWAYAXAUASARASBRASAVAYBXAUATCUAWAVAPAJAKALAMDLAKAMAQAUAWDVAUASAQAPDOBPAQBRBQCRBOAMCNBOAPCOANBOBPAQBPAOANCOBNBMBNLOFNCOJNBOHPBOGPCOFPAOKNCOCNAOGNHOTPCOENCOGNCOCNJRCQBPAOIPGOAPANAMANAOAPCMALAPAQBLAKAOAQARAOAUBRASBTAUATAWBQAKATAVAUATARCOAIAFAIASAPAQAPATAXAWASAQBPBQCPDODNAOBNAOAQDPAQASAQAOANAOAQBRCOAMAOAQARBQAOAPAOANBMALANARBQAPANAOAPCRAQANAPAOAMANAPAQBPAOAMAOAQARBPANAKALANAOAPARASAPANBLAJAKAMAPARBQAPCQARAQAOAMALANAPBQCRAOAMAKAMAQATBPAOBPFNAOAQDPAOAPARAOANAKAMANAOAQANAMAFAGAIAMAPBOAPAQARAXBTAMBOARBPAOBPCQANAMAKALAMANAOCNAMAOBPDOBPAOCMANFODNAMALAMANAOCNCMCONNDODPBOCPBQAPAOBNAOAPDOBPAQBPBOBNEODNEOAPBODNAOBPAOAPDNCPBQCPAMAJAKANAQARASAQANAJBNARBQAPAOAMAKBMAQATBSBQANAKAJAMAOAPBQBMAJAIAKANAQAOAPAQBRASARBTAVBTAQAOBQASATBSATAWAXAVAUAVATAQAPAQARBPAQASAVAWAVATASATAVAWAVARALAJALAMCNCOARATAUAVAXAYAaAZAWATAQAPCRFQAOAMANAQARAQAOAMCNAOAPBOANBOCPBQBPAOANBOCNBMBNLODNDOJNCOHPAOGPDORNCOKNGOcNBOHNCOCNIRCQBPAOJPINBOAPARAQAOANAOAQARAQALANAPAQAPATAUARAPARASATBUAXASAKAOAUBTASARAQANAGAFAJATASAPCVAWAUARAQARAQBRAQAPBOCNBOANAOAPAOANAQARAQBPBQARAOAPAOAPAQARASARAQAMBPAQBPAOAPBNAOANALAMAPAQBPAOANAOAPBQBOBQAOBPAQBPAQAOBQARBQANALAKBMAOAQARBPAOANAKAJAKAOAPAQBPCQARAQAPANAMANAPAQAPBQARAOANAKALAQASBPAOBPCOAPAQANBQBPAQAPAOBPBNALAJANAOARAPALAFBKANAPBOAPARBWAXAQANAKAOAQASAQAPAOAPAOBQAPAMBKAMANAPCNAMAOBPBQBPANAOAPAOBNAMANFOCMALBMANAODNBMBNBOAPCOCPAOAPAOLPCOBPBQAPAOANAOAPEOBPAQBPAOBNFODNDOAPEOBNAOAPAQDPAOANBPAQCPBNALAKAMAPARASARAOAKAIALAQASBQAOALAJBLAPASAUATASAQANAMAKAJAMAQARCOALAJAKAMANALAOAQBSATASATAUAWAYAZBWASAQARATAUAWAXAYAZAYAUASARAPANAOARASAQANALAMAPARASARBTAVAUASAPAMALBMBPATAUATAUAVBWAXAZAaBXAVAUATARBTAVAWAVDTAQAPAQATBRAOANCOCPAOANBODPAQBPAOANBOCNBMBNCOANBOANEOCNEOINCOCPBOAPAOHPFOMNBOENCOINDOANBOmNCOCNHRCQAPBOKPGQAPANAOBRASARAPCRBPANAOAQBRATASANAQARASARAUAVBPAKASAVATBSAQANAEAFAIAVAXASAOANARAUBTARAQARBQBPAOEMBNBOAPANAOARBQAPCQAPAOAPAOAPARASATAQAOAMAOAPCOAPBOBPAMBNAPCOANAOAPAQCOANAPBOAPBQAPBQAOAQARASARAOBLAKBNAOAPARBPAOAMAKBMAPDQCRAQAPAOANBOAQBPAQASAQAPAKBOARASAPAOBPCOBQANAOAQARAPCODNAMAJALAOARAQAKAHAGAOEPARAUAXAVAQAOAKAOAPATASAPAOAPDOAMANALAMAOAPAQBNALANAPBQARAQBOANAPAOBNAMCNBOENALBMANAODNBMBNBOBPCOCPCOLPAQAPAOBPCOANBOAPBOEPAQBPAOANBMANDOBPAOANDOAPAQCPBOBPARDQAOCPAQARBQAOANAMALBOAQARBQALAJAKAOASATARAPAMAJAIAKAOARATAUATAQANALAKAIAJANASATBRANAKBMANAPCRATAVCWAYBZAaBYATAQARATAVAXAYAZBXAUASARAQBSAUASANAKCNARATBUAWBUASARCPAOAPATAWAXBYAaCbBaAYAVAUAVAUASARAUAWAXCYAWAUASBTAUATAQAPAOANBOBPBOANBOEPBOBNAOCNCMANAOBNCOENBOCNDOJNCOBPFODPIOANAOJNCOENCOCNAOENCOpNEOANHRBQBPBOLPFQBPAOBQASATARAPBRASARAPAOAQCSBPANARASARBSAUAQALARAVARASBRANADACAGAVAYAXAPAOAPARASATASAQBRBPCOANAOCMALAMAODQARBPBOAPFRBSARAPBOBPBOBPBOCNBOAPAOBNAOAPAQBPAOANAOAPAOAPAQAPCQAPAOAPASARAQAOANAKAJALAOBPARBPAOAMALANAPAQAPAQDRAQAPBOANBOAPBQASARAPAMAJANARBOBPAQAOAPBOAQAOBQARAQAPAOCNBMBKBOAQAPAHAGAHANAOBNAOAPASAVAWAUAQAOALAMANATAUARAOBPAQAPAOAMANAMANAOBQBOAMBPBQARBQAOANAOAPAOANALAKALANCOBNCMCNDOBNFOAPDOBPCOBNAOIPAQARAQAOBPCOANAOBPAOFPAQAPAOANBMBNDOAPBOANDPBQCPAOBPAQARCQAPAOAPAQBRASARAPANAMALAMANAPARBQANAKBNAQASBQAMAJAHAIAMAQASAUATARANALAJAIBKAPARATBOAKAJAMANAPARASAUAVAWBXAYDZAaAYAVAQAPARASBUAVAWBVAUCTAUAWAVARALAKBMAQATAVAWBXAWAUBTARANALBNASAUAVAXAaAbEYAWAUCSAPBRATAUCWAVAUATDSAQBPGOANCODPBOGNCODNBOENBOBNBOLNCOCPFODPCOBPDOANAOJNCODNDOHNCObNBOHPAODNMRBQBPBOMPFRAQAOANAPARATBQCSBQAPBRAPAQATAQANARASBQARBSAPBTBRASARANAEABAHATAYBRAPBRBSBRAQBRAPAOAPAOANAODMAKAMAOBPAQARBQAPAOBPERBQARAQAPAQAOANBOBPBOAPAODPANDPARAQAOBNBOBPAQBOBPAQAOAPARASARAPAOAMAKBLAMAOAQARAQAOBNBOAQDPAQCOAPAOANDQBSARAPAOAKALARAQAOANAPAQAOBPFRAQAPAOBPAOAMANAMBJAOAPBHAGAJANAOBNBQAWAVBQARAOALBOATAUASAPBQCOAMANAMBPDOANAMAOAPAQARBPAOANBPAOANALAKALAMANBOANAMANCMBNEOANFOBPDOBPCOLPAQBPAOBPCOCPBOCNBOAPCOANAMCNEOAPAOANCOAPAQCPAOBPBQCPBOAPAQCRASARAPAMALAMANAPARBQAOALAKANAPARASARAOAKAIAHAKAPASATAUASAPALAKAJAKALAPARATASANAHAGALAOAQATAVAXAWCYAZAaAZAXAYAZAWASANALANAOANBPARASCTAUCWAXAWASAPAQARDSATCUAVBSANAKALBNAOARATAVAYAaBZAYAWAUCVBRAOBPAQCRATCSARCQFPCOBNCONNBOAPAOBNAOENCOBNAOFNAOFNBODPEOEPBODPCODPAOGNCOBNAOANCOINBOFNBOUNBOHPAODNIOANBQARAQBPCOMPCOAPAQBPAMBPARATASARAQEPARAPBSARAPAQASBRAOBSAQAOAQATAQARBOAHABAEARAXAYASAPBRASARASBRAQARAQAOCNAOAPCNAKBNAOAPAQARCQAPAOAPEQARAQFNAMAOEPBOENBMAOARBPANCOBPDOBQAPBQARBQAOBNAMALAKAMAOAQBPAOAPBOAPARAQBPDOAPAQAOANALAMAPARASARAPAQALBQBPANAQBOBPBOBPCQBOBPAOANBMANALANAPBIAGAKAMBOANBQAWCQBPANALANATCQEPANBLAMAQAPAQAPANAOAMANAPBQCOBNBOANAMALBMANCMANDMANHOANDOCPIOKPAQCPAOBPCOCPAOCNBOBPAOCNAMCNDMANAOBNCOAQCPAOBPDOBPCQARAQAPAQARAQANALBNAQARBQAOALAKAMAPAQARBPALAIAHAJANARATAUATAQANAJBLAMANAQATASAMAEADAJAPARASATAVBWBYAZAaBYAXAVAQAMAJAHAIAKCLAOAPDRATAUAVAWAXAWAUAVBTAPANAMANAOAPAQATAWBTAOALCMAOARASBUAVBUATASAUAXAYAZAWATAQAPCOANAOAPAQAPEOCPDODNBOQPCOANAOENCOBNAOENBOFNBODPEOEPBOEPBOCPBOHNAOCNAOANCOHNCOFNCOTNAONNHOBNAQEPBOMPBOCQARAQANALBPAQASARBPAQCPAQBPAQASAOAQASCQAPBQANAPASAQCOALAEACAMAVAXAUAQAPAQASARASCRAQARAPAOBNBPCOALAKALANAPBQARCQAOBPAQBPAQFRAQAPAMBODPBOBPAOANAOANCQARAQAOANCOAPBOFPBQARAQAPAOCNAKBNAOAPBOBPAOAPARAQAPAODNAPAQAPANALBOARATARAQBNALAOAQBNAPAQAOBPBOANAPAOAPAQBNAOAPAOBNAMAOANAMAOANAKAJAOBMCOAUAWBVAQAOAQAPAMANASCQCPAQBOAMALAKAOAQCNDOBPAQBOBNFLBMCNBOANCMANBOBNCOBNDOEPGOENAODPBQAPBOBPBQAPAOBPAOJPAOANAMBNDMBNAOBNCOAPAQBPAOAPCOANAMAOAPAQBRBQAPAQBPAMALANAQARCPAKAJALAPAQDNAJAIBLAPASAUATASAPAKAIAJALANAPAQAOAKAFAGALAOAPAQAPBTAXCYBZAXAUATAPALAHBIAJCKAMAPAOANBQAUAYBXAWAUASARASARAOAMENAPATAWAXAVATAQANAOAQAUBTASATAUATARBTAXAaBZAWAUARAPAOANALAKBLAMBNAOBNDOAPCODNBOGPAOHPAQAPBOANAODNDOANBODNCOFNAOHPAOEPCOEPCOLNAOENBOINCOENDOVNAOLNHOANAQEPCOLPCOANAOAQBPANALBPAQARBQCPCQAPBRAQAPARASARBPAOAPANAPARAQBPAOALAGACAFATAXBRAPAQASARBSBRAQCOANBMAOAPBOAMALBMAPCQARCQAOAPBQEOAPBQBPANBOAPAOBPENAMANAOCPARAQAPAOANBOBPAOANAOANAMBOBPAQARAPAOBPAOAMAKALANAPBOANAPAOAPARAQAPAOCNBOAPAOANALAKANAQASBQBOAMANAPAQAOAQARAOANAPBOALAOBPAQBNBOAPBOAMANAOANBJAKBOAPALBKANAUAWAVASAQAOAQBNBSATBQBRAPARAPAQANAMAKAMAPBQAOANAMANBOBPBOCMANDMALAKALAMANBOANKOBNDOFPGOENAODPAQAPAODPAQBPAODNAODNBOAPBOAMALAMANDMBNAOBNCOAPAQCPCOAMBNAPAQBRCQAPCOAMANAQASARBQALAJAKANAPAQAPBOALAIBKANAQATAUASAQANAJAHAJALBKAJAIAHAJAKAJAKAMANAMAQAXAYAXATDRAQAPANAKAIAJALAMAKAJAMAQARAQARAUAXAbBaAYAUAQAODNAOBNCOARAVAYAaBZAXAVAUAWAYAXAVAUBTAQAOBSAXAYAXAWAVATARAQAOANALAKAJAKALAMANAOBNCOBPCODNBOPPAQAPAOBNAOENCOANCOCNCOENBOHPEOAPCODPDOGNAOKNAOJNFOANDOVNBOKNIQEPCOLPDOBPAQAPAQANALAMAQARBQAPARAQAPBOAPDOAQASBRAQAPCNAOAQBPAOALAFBEARAXAYASAPAQARBQARASARAQCPANBMAOAPAOBMBLAMANAQAPBQARASARAPBQFPAOAPDNBOAPAOANAPCQAPBLAMAPBOAPAQCOANAMANAOAPBOBNALBMAOBQARAQAOBPBOALBNAOAPAOANAOCQBPAODMANAPAOANALAKAMAPASBRAQBNAMBOAPAQARAPAOBPAOAMAOCQARAOANBPAQAPANBPBNAHAJALAOAQAMAKAIAMAUAWAUARBPBOAMAOATCQAPAQAOAPBQAPANAKBOBQAPANALAMANBOAPBOCMBNCMALAKBMANBOANFMCNBOANEOIPEOJPCOANBOAPFOANCOCNBOAPBNAMALAMANDMBNAOBNAMBNAOAQARAQBPBNAMBOAQBRBSARAQAPAOANBOARASBQAPANAKBNAPAQAPAOBMAKAIAJALAOARAUBQAOALAJCKAJAIBHAGAJAIBJAMAPAQATAVATAPANBOANAOAPAQAOAKAJBLAMBOARAUAVAUAWAYAaBbAaAZATAQANAMBOAPAQBPARATAUAWAYAbDYAWBXAYAXAVAUASAPALAKALAPASAUBVAUBSAQAPAOAMBLAMBNAOAPAOEPEOCNBOOPDOBNAODNHODNBOENBOHPIOCPEOdNFOANDOPPBODNBOKNHQEPBOMPEOBPBQBOAMAOARBQAPARBQAPBMANAPAOANAPASBRAQAPCLAOAQAPCLAEBGAQAWAXASAPAQARAQBPAQARAQAPBQAOANBOAPAOBMALANAMBNAPAOAPAQASBQFRAQAPAOBPBODPAOAMAOAPBQBPAMBPEQBPANCOBPBOBLCNBPARBPAOAPAOBMALAMANAPAOANDPAQAPAOBPBNBOCLAKAMAPARBSAQARAOAMALAMAPAQBPBOBNALANAOAPAQARAOAMBPAQAPANAOAPAQANAGAJAMAOAQAOALAIANAVBRAQASAPBNAKAPAVAUATAQAPBOANAPAQARAOALAKALAOAQAPAMAKALAMAOBPAODMDNAMBLBMANHMDNDMANBOBNCOCNAOCPDOBPBOGPAOBNBOAPFNAMANBOBNBOBPBNALBNEMANAOCNAMBNAOAQARBQAPAOANBOAPAQBRCQAPAOANBOARASATARAOAMALBNAPAQBPAOANALAKAJAKANAPASATARANAKDOAQAOANAIAFAIBJALAOARASARAQAPANAMBNBOAPARAQANAKBJALAOARATAUAWAVAUAVAYAZAaCYASANAKBNARASBTAWAZAaCbBaAZAWAUASAUAVAWAVATARAOALBKALAMAOASAVAWBVATARAPAOBNAMANBOAPGQAPDOCNBOBPAOGPBOCPCOCNAODNEMANBOINCOHPGOAPJOMPBORNCOBNCOOPCOENBOJNGQEPBOMPCQAPBOAPBQCOANAOARAQAPAQASAQBPANALAOBNAOAQASBRAQAPBLANAPDMAEBIARAUAWASAPBRAQAPBOAPAQAOBPBOCPBOBMBNBMANAOAPBRASAQBRAQAPAQBRAQAOFPDNAMAPAOAPAQAPAOANAOAPCOAQBPANEPCOANALCMANAQARAPAODNALAMANAOAPAOBNBOAQAPAOBPBOANAOCMALAMAPAQARASARBQAOAKALAPBQAPBOANBMANAOBQARAOAMBOAQAPANAOAPAQANAGAKAQCOANAJALATBRAQARAQAPAOAJAPAWAVASAQAPBOAMAOAPASAQAOAKAJANAOAPAMAKAMANBOCNCLCMANAMFNFMGNJOBNCODPIOBNBOAPBNAMANAODPBOANCOBNCOBPAOANALBNCOANBODNAMBNAPAQARBQAPBOBPBQBRCQAOANBOARASATASAPAKAJALAOAPAQCPAOANAMALBOAPAQARAQANAJAIAJAMAQASATASAQAMAKALAMANAQASAUASAOALAKANAPAQBPBQARAQAMAKBLAPARASATAUBTBWAZCaBVAQAMAKAMAQATAUAVAXAZAbBaAZAaAZAWASAQAPARAUAWCTARAPALBKALAMAOASAVAWAXAWAUARAPAOANBMANAOBPGQAPDOAPAOBNAOBPAOFPCOCPBOBPAOANBOCNEMANBOBPBODNDOHPFOBPDQCPCOHPAOCPCOSNCOANCOOPBOCNAOBNBOJNFQEPBONPBQCPAOAPBQBPBNAPAQAPBTARBPBLBOANBPASDRAPANAJAOAPCMAEADAIAUATAUARAPBQARAPBOAMAOBNAOAPAODPCOAMANAOAMALAMAOBQARBQBRAQAPAQARBPAOBNAOBQDOAMAODPBODPAOBQAPAOBNCOAPAQBOAMBLAKAMAPARAQAPAOANBMALAMANAODNBOAPBOANAOAPAOBNAPBNAMAOAPCRAQCPALAKANAOAPBQAOAMANCOBQARAPAMBOAQAPAOAPAQAPAKAFAIAQCPAOALBPAQDPAQAOAIAPAVAWARAPDLAMAOASBQAKAJALANAOAMALAMAOANBOANCMALCMDNBMCNFMANBMDNIOBNDODPDOAPDOANCOAPAOANDODPAOANFMANBOAPAOAMALAMANAODNAODNAMANAOAQARAQCPBOBPBQBRBQAOBNAOAQATBSAQALAIAKANAQBRBQAPAOBNBOARBQAOAMAIAHAJANARAUAVATAQANAMALBMAQATBSAPALAJANASAUATARAQARATAUASAOALBNAPAQARASAUAVBWAZAaAZBaAYAVASAQBRATBUAWAXCWAUAVBTAQAOBPARAUAVAWAVATASARAPAMALAMBOARAUAVAWAVASAQAOCNCOAPEOBPIOFPAODPCOCPAOCPAOANBODNCMBNBOAPDOANGOFPGOBPCQDPDOEPDOAPCOTNCOBNCOJNBOFNBOBNBODNCOBNFQEPBOOPBQBPEQBPAOAMAPAQAPASBPAQARAQAKANAOANAOAQASATASAUASAOAJANAPCMAEACAIAUAVATAPDQBPBMALANBMANAOEPARAQAPANAOANALBMAOBQARAQBRAQAPBRBQAODNAQARBQAPANAOAPAOANAOAPAODPBNAPBODNAOBPAQAPAOAMALAKALANAQBPBOANALAKAMANAOAPAOBNAMAOAPBOANAOAPAODPANAMAPAQBPARAQCPAMAJALAPCRAQAMCNAOBPAQAPANAMAOAPAOBPAQAPAJAGAHAPARAQBPAQAMAOAPCQBSAPAHAOAVAWAQAOCQALAKAOARASAPAMAJAKANBMALAMAOANBOANCMALDNAMANDMCNEMANAMFNCMANBODNAMBNAPBODPBOCPCOANDOBNFODNEMCNAOAPAOAMCNAOCNBODNCPAQEPAOCPBQBRAQAPAOANAOAPARATASAQAMAJBMAQARCQBPAODRASARAPANAIAGAIANAQATAUBQALAKCNATAUBSAQANAKALARAVEWAXAYAVAQANAMAOAQARASBTAUAVAYAaBZAXBWAUHTARBQAPBQARAQAPBQBRASBTDUATARANAMBOARATAUBTASAQBPAOANBOBPAQBPAOBNAOCPFOFPBOCPBODPAOBPBOANBOENEOBPDNBOANFOEPFOCPCQBPSOUNBOBNCOINCOFNBOBNBODNCOANFQEPBOOPBQCOAPAOAPAQARAQAPANAMAQBRASAOAPARBOALAOCPARATBUBQANALAOAQAOAMAEACAHAVAWATAPAOAPBOAQBPAOAMCNCOBNBOAQASARAPAOBMAKALANAOAPAQDRAPAOAQASAQAOEPARASARAQAOBPAOANBPBOBPCOBPAOAPBOEQBOANALAKBMAPAQAPCNAMAJAKAOBPAOCMANAPBOANBOEPAOANAQARAQAPAQCRAPAOAKALAPCRBMBLAMAOBPAQAPANBOAQAPAOAPAQAPAKAHBQARAQARAQASAOBPAOBPAQATAPAIAKATAYAQAMANAOAQAMAJANAPASARAOAKBNAMBLAMANGMCLBMANAOANDMCNCMENBMBNEODNEOAPBOJPBOANCOBNFOANFOANBMCNAOCNAMBNAOAPAOANCOCNCPAQDPAOCPBQDPAOCPAQASATARAOALAJALAOARDQAPBOCQASATARAOALAHAGAJAOBNAPBKAHAIAKAOARATBRAPAMALBOASAUAVAWAXBWAXAYAXATAQBSAUAVATASBUAXAaCZAWAUARAQARATAUBVAUASAPAOANAOBNAPAQDRASARAQARAUAXAZAYAXAWARANAMANAPARASATCSARAQAPAOANAOBPAQCPAOANDOAPGOEPBOHPAOANAOAPBOANAOGNCOCPCOANAOCNBMANBOEPEOFPEOBPNOGPAONNBOBNCOAPAOGNBOFNCOBNAOENCOANCOANAQEPBOMNAOCPAQBPAOBPAQARCPANAOARASARAQAMAQATAQALANAOAPAOARASATBUATAOALAOAQAOAMAEACAHAWAXAVAPAOBPAOBQBOANGOANCPARASARAQAOBLBMANAOAPAQCRAQAOBRAQAOBPAOCRATASAQBOAPAOANBPBOBPBOCPAOBPBOAPANBPAQAPAOAMAKBMANAPDOANAKBNAODNCPBOBNBOAPAOBPBOAQARAQAPAQEPAMALAOAPAOARATAOANAMBOBPCOBPAQAPAOBPANAJAIBPARAPARBTARAOANCOAPAVARAKAIAQAXATANAMAOAQAOAHAJANARASAQALAKANAMBLBMANBMBNCMBLAKAMAOBNDMALAMANCMALBMANBMENDOCNAOBNBOBPBOENAOJNBMANBOCNBMCNBOBNAMDNAOBNCOAPBOANDOBNBOAPFOBPCQARBQAOBPAQBSCQANALBNAPARASARAQAPAQAPAOANAPATAVAUASAOAKAHBNAPAOAMALAKAGAHAIANARATAUARAOALBNAPAQASBUAVAUASBVAZBWATBWAYAXAVATAUAWAYAaAbBZAWATAPAOAPARAUAVBUASAQAPBOANAPASBRCSDVAZBXAWBUAQAOBPAQARASBTASARAQAPGQARAQAPAOANDOAPGODPDOEPBOBNAOAPBOCPAOAPCOENAOAPCOANAODNAMANBOEPDODPAOIPJOAPBOGPCONNAOCNAOQNDOHNBOCNAOBQEPBOSPBOCPAQARASARAPBRASATAQAMBQASAQAMAQDRASATAUATARAOANAPAOAHAEBMAWAZAVAQAPAOEQAPANBPAOANCOANCOAQARDOBLBMANAOAPBQBRAPAOAQBOBPAOCPASATARAQAPAOBNBOAPAOANAPCOHPAOANBPBOANALAKALANAOAPDNAMAKAMAPANAOCNAOBPAOBNAMANAPAODPAQARAQAPAOANAPBRAPAOAMBOBRATARAOANAMAOAPFQARAQAPAOANAIAHAKAOBQAPAQASAUBQAMAOAMANBWAVAOAGAOAVAUANAMAOAQAOAHAGANAPATAQAOAKAMELAMCLANAOAMALBMALAMAOBNDMCNCLBMANBMFNAOBNCOENBOBPAOINDOAPAOANBMBNBOCNAMENAOANAMBLBMANAOANCOAPBOANEOBNBOAPBOCPEQBRAQAPAOBQARASBRAQAPANAMBNAPARASARAQCPAOBRAVAXAVASANALAJAMARATARANAJAHAGAIANARAUAVAUAQAMALAOARASARASCQANAMAPAWAZAXAVAUBVAWAVAUBVAWAYAZAaBZAYAWATAQARATAUETASBRASATBSARCQCSAVAYBWAVBSARCQCRASBRAQAPAOAPAQAPDQBPAOANEOAPCOAPCODPAQAPCOANAOAPCOANBOAPBOCPAOAPCOENBOAPAOFNEODPAOBPBOBPCOIPIOBPBOFPDOiNDOPQEPBOPNCOFPBRASARAOAQARAUATAPALAQASAQANAOARCQARATAUATASAPAOBNAGAFBOAVAZAXAQAPAQAPANBOAPAQAOANAOAPBOANAOCNBPBQARASAQANBMBNAOCPAQARAPAOAPAQAOGRATASAQAPBOANBOBNAMAOAPCOANAOBNAOCPANBOAPAOANALBKANAOCPCOALBNAOANAOCNAOAPAOBNAMBPBNAOANAPAQASARAPBLANAPARAQAPAOANBOAQAUATAPAOAMANAPEQARCQAPANAHAGAJAQCPBSAVBSALAOAMBNAVAXAPAFAHARAVANAMAOAQANAHAGALAOASARAPAMALAMBNAMALDMANBMALBMANCOANBMANCMBNAMALAMBNBMCLBMANBOANCOCNAOBNBOBPAOANBOBPAOBNDOAPBOBNAMBNAOCNAMBNAMCNAOANAMENBMBNAPCOANEOCNAOCNBOAPFQARAQAOBPAQARASARAPBOANCOAPARCQCOANAPASAWAXAVAQAOAMBRAWBSANAIAGAHAKAOAPARATASAOAMANAPARASDPALAJAKAQAZBXAWAVATDUBVAWDXAZAaAZAWATASBRBSAUBTASATBSARAQCRAPANAOAPBRATERDQBRASCRAQAOBQBPAOCPBOANBMANCOAPCOAPEOBPAQAPBOANBOAPBOANDOGPBOENCOHNFOBPBOBPAOBPDOBNBOEPHOBPCOFPDOKPAOWNDOOQDPCOCNAOMNIPAOARASARAPARAUAVASANAMAQASAPANASCRAOARAUATASBOBMAGAFAGAPAWBXAQAPCOAMBOARAQAOANAOAPAOFMBOBQARBPAOBNAMANAOCQARAQAPDOFPASBQAPCNAOAPAQANALBPCOANAOBNBOBPAOANAODMALBNAOAPAOBPBOANALAMANCOBNAOAQAPAOANAMBPAQAOBMAOAQARBQAPAKALAOAPAQCPAMAOBTAUARAQAMBPBQAPCRASBRAQANAHAFAIAPARAPCRAVAWAVAKAMBNBTAYAUAHAEAOAUAOANAOAPANAJAGAJAOARBOAPAOAMBNBLEMANBMBNAOANDMBNAOBNAMALBNFMALBMBNHOANBOBNBOBPAOBNAOAPBOBNDOAPAOCNAMBNAOCNDMBNDMINAPBOANAMANFOBNAOANCOAPAQCPBQBPAOAPARBSARAQAOAPAOBNBOAPAQDPAOANBPASAVBTAOAMANAQATAWAUAQALAIAHAIAKAJALAPASAPAMALAKANARATASARBMAIBOAXAZAYCWAUATAUAVBWCTASBVAZAaAZAVARAPAOBPARASEQAOANAOAQARAQAOANAPAQAPAQCRASBRAQDRBSCRAPAOBPBOANCOCNAMBNCOAPAQAPCQAPCOBPDOANBOCNEOBPBOJNCOGNGOAPLOANCOEPGOCPBOGPDOKPAOCPAOJPAOGNDOOQDPCODNBOHPBOBNCOBNAMDOAQARAPAQARAVAUAPAMAQARAPCTASARAOANATBSCOAMAGBIAPAWBSAQAPDOAMALAPASAQAOFPBOBMALANAOAQARAQAPCNBODQBPDODPBOAQARAQAPCOBQARAPAMAKAMAPAOAPAOBPANCOCNAOAPAOBNAMBNAPBOANAOAPBOAMBNCOAPANAOAQBOANAMBPAQAPAOAMAPAQARBQAPAKBNAPBQBRAOANAOARAUATARAPAMAPBQBOBRASBRAQAOAHAFAHAOARAPAOAPARAVAXAUAKAIAMANALAQAYBLADALASAQAMBOANBJAKANAOAQAPCNALAMBLEMANBOANCOANAMALBMANAOBNAMALAMCNCMALBMDNKOANDOAPAOANBOENDOAPAOCNAMBNAOGNBMBNAMJNAOAPAOANAMANGOANDOAPAQDPCOBPARASATASARAPBOAPAOCPAQAPDOCPAQASATBOAKALAOASAUAWAUAPAMAJAHAGBJANARAQAMAIAGAJAOAQBPCLBQAWAZAYBXAWBVAUDVBUAQAPARAVAZBWASAPANAMANAOAPAQARCQAOANBQASATARAPAQBRAQAPAQARASATARAPBQBRBSCRAPAOANAOAPBOANCOBNGOAPAQAPCQAPBOANAOAPDOANBOANGOBPBODNBODNCOBPBOCNFOBPFOAPCOCNCOEPGOCPBOOPCODPEOJPAOGNDOHNAOEQDPCODNCOHPBOHNAMCOAPAQBRASAUATAOANAPAQAPAOARASATAQALAOASBRATARAMAEAGANASAXAWAQBOAPAQAPAOBMANARASAPAOANBOBQCOBMBOANAQEPANBPBOAPAQAPDOEPCQBOAPBOBRATAQAOALBOEPAOANBOCNAOAPAOBNAMBOAPBOANAOAPBOBMBNBOAPAOAPARAQAOANAMBOAQAPBNAOAQARCPALAJAMAPBQCPANAPBSATAQARAOBPAQBPAOAPARBQBOAHAFAIAOAQAPAOAQAUAWAXATALAGAMANAMAOAWAZAPADAFAPASAMAKANAMANAMALAKAPBQBPAMALHMANBODNAMALCMANEMBLAMCLBMFNKOANDOCNDOENBOAPBOAPAOANCOCPAODNBMNOCNBOBNBMANAOCNCOAPAQDPAOBNAOAQATAUATASARAPDOCPAQAPAOBNAOAPAQCRAQAOAMALAMARATAUAVATAPALAGADAEAIANARBNAJAHAJANARAOAMBNAOBRAVAZBYAWAUBTASARBSARASATASAQBTAWAYAXAUARAPAOAMALAMANAPARASARAOANBQATAUATARAQBPBOAPARASCQAOAPAQDRCQAPAOANAOAPBOANEOBNCOBPHOANBOBPBOBNGOANCOAPBOCNDOBNEOAPBOCNFOBPFOAPBODNBOGPFOBPCOLNAOBPCODPEOQNDODNAOCNBOCPAQDPBOENDONPBOAPAOAMBNAOAQBNAQASAUARAPBQBPAOASBRANAKAQARBTBJAFBQAWAXAWARAPAOBQAPAOCPAQASAPANALBOAPBQBPAOBNDPAQDOANAOAQAOBPHOBPBOAPAQAPCNAOAQATASAPANAMANBOCPBNCODQAOBNALAMANAPCOFNAMCOCPAQBOANBMANAPCNAOAQBRBQANAJALAPAQCPAQANAOAPARASAQARAPAOAQAPAQAPANAOAQARAPAOAKAGBMAOAQAPAOAPAVAWBSANAGAJANAMAOAUAZATAGADANASAPAKBLAMAQANALANAOARAQAOALAKALAMGNBODMALDMBNDMCLAKALCMHNIOANFOANEOKPBOEPBOCNCMILAMDNAOANBOAPAOANEOEPAQDPAOBNBOAQATAUATASAQAPAOEPAQBPAOANBOAQARAQAPAOAPAOANAMANARASBRAPAKAGADBGAKAOARBOALBPASARAPANAMANAOBQATAUAWBUAWAVAQAOBNBPASAUATASATAVAWBUASBRAPANAMANAOAQARAQAPANAOAQASATASAQAOANDOAQASBRBQAPDOAPBQAPCOBPCOANEOCNAOCPGOANCOCPAOBNFOBNCOAPBOBNFOANEOFNEOBPGOAPAOCPAOANBOGPDOBPDOMNAOBPDOCPEOQNDOGNCOCQDPBODNHOLPENBPBQANBQASBPCRAPBQARATAPAKALAQBRATALAGAEAOAXBWARAQAPAOAQBOCPAQATARANAKAJALAOAPAOAPAQAPCOAMBNAOAQARAQBNAOAPBNAOAPHOBQAPBQBPAQAOANAPARATAQANBOEPAQAOANDOBQAPANAOAMALAMAOAPBOCNAOAPANAMCNAOCPCNBOANAOAPBNAOAPAQARASAQAPALBOARAQAPBQAOBPBRAQCPAQAPAQAPAOBPAQAPAMAIAGAHAOBQAOBPAUAVAWASANAIAHALAMAOARAZAWANAEAJAQARANAJALAMAPARANALAPAQARANAKBLANCMANBMBNAOBNAMALAKAMENDMBLAKBLCMDNBMALBMANBOBNDOANCMBNAOANEOKPBOINDMGLCMCNEOAPAOANEOAPEQBPBOBNAMALANAQATBSARAQAPAOANCOAPAQBPANAMAOAPARBQAPBQAOANAMANAPAQAPAMAKAIAHAGAHAIALAPASBRANAOARASARAQAOBPBOANAQAVAYAVAXAZAWAQANAMALAMAPATAVDUASARBSCRAQFOANBQASBQAOANAOANBOBPARASARAQAPEOANAOAPBOAPAOCQBPAOANDOGPGOANCODPAOBNEOCNCOAPCOANBMANJODNFOCPBQBPBOGNBOGPCOCPDOOPEOEPCOKPBODNDOBNAODNCOBQDPCOCNIOLPEOAPAOAQAPAMANAPASAQBPARBPANARATASANAIAOAPARBNAJAHAMAWAXAVARBQAPAQARAPAOBPAQASATAPALAJAKAMANAOANAOAQBPBNALAMANAPAQARAQAPANAOAPAOANAPAQAPBQAPDOAPBOAPAQCPANBQASARAOANAOFPAOANEOAPBNCLBNAOAPBOBNAOAPAOANAMBNCODNBOANAOCNAOAPBRASARAQAMALAMAPAQAPAQAPBQAPAOAPBQARAOAQBRAQAOBPAQBMAIAHBOAPBNAOAQAUAVBSANALAHAJALAOAPAZAYAOAGAFANARAOANALAMAPASAPAKAMAQBNAJALANAOENCOBMBLAKALANCMCNCMALAKBLDMFLAKALAMBNAODNCOANAMCNAOCNDOCPAOFPAQAPAOHNAMCNAMGLCMCNEOCNEOAPHOANBMALAKANAQASBRAQAPAOAMALBNAPBQBOAMBPAQARAQAPBQAPANALBOAQBMALBKENARAUATAPBOAPCOALAJAKAIAMAPAQAUAVAWAXAZAVARAQAPAOAPASAVAWAXAYAWATARAQARASBTAUATBRAQBPAOBPARBQAOBPDQAPBRASAQAPAOCPBOENAOCPAQBOBNDOGPGOANBOEPAOANFOCNCOAPDOANAMANJOBNGODPBQCPAOGNBOMPCOPPDOFPCOFPCOAPCOFNEODNCOAQCPDOCNLOENBOFPAOBPAQBOAMAPAQBPAOAPASAQAPBRATAPAJBPAQAPAMBKANATAXAVAQARASAQBSARAOANAOAQASATARAPAKAJALAMCOAPAQBPAOAMBNAOAPAQARAPAODNAOAQEPBQAOBPCQBPBOANAOARBOANAOFPAOCNAMANAOCNBOALAKAMANAOAPBOANBOBNAMBNCOBNAMANBOENAOCQARAQBOAMALANAQAPAQAOAPAQBOCQARAPBQARBOBPAQBNALAJALAOAPCOARAUAVAUASAOANAHAIALANAQAYBSALAFALAOAPAOANBOARASANALAPBNAKAMANAOCQAPANAMANAOANALAKBLAMAOBNAMALAMANCMALFMDLGMANAOENDMANCOAPAOBNCOCPBOFPCOGNAMBLAMBNAMELDMBNDOANAOBNAMANAOANBOBPGOANBMAKALAOAQARBQAPAOAMAKAJALAOAPAQBOANAMAOAPAQAPAOBPBOAMAKALAPARAQAOAMBNCMBQAUBSAQAOBNBKADAAAIANAOAQAOAQATAVAWAXAYAXAYBVASBUAWBXCVAUATDVAXAWAUASARCPCRBQBRATBSARAQCRASAQAOANAOAPAQBPBOANAMBNAOBPAQAPAOANDOLPCOANBOBNBOCNFOCNCOAPDOANLOBNAMCNBOEPBQBPBOGNBOLPDOPPDOFPCOEPHOGNDOENAOAQCPDOCNMOENBOFNBPBQAPANAOAPAQAPANAPARBPAOAQASARANAIAMAOAKAIANATASATAUBPAQASARBTASAPANAOAPARATASAPAOAMALDMAOAPAQBOANCOAPAQARAQAPAOBPAOBQARCQAPAOAPBOAPAQAPAQBPBOCPARAPAOANBOCPAOAPAOBNAMANBOBNAMANAMAKALANAOAPBOANBOCNCOCPANAMANAOENAMAOCQARAPAQAOBNAMAPBOCQBOANAPAQARAPAOAPARASAPAOAPARAQAOAMALANBPBQAMAPAUAVATAQAPANAJAHAMAOAQAUAXAUANAGAIANAPBOANAOAQARAQAMBOBMBNAOAPBQBOANBOAMAKBMBNAOBNBLAMBNAMALAMALDMANAMBLAKBLCMDNAODNBMBNAOBNBOHPBODPCOIPAOANAMALBMILCMANCOCNBMCNAOANDOAPCQAPBOANAMALBMAPAQARAQAPAOANALAJBMAOAQBOAMBNAPCOANBPBOALAJAMAQATBQAOAPAQAPAOBQARAVAUARAPBNALBIAKAPBQARAQBTAXBWAXCYBWATBUAVAWCVAUAVDWAYAXAVATASDPCQBRBSCRBQBRCPAOANAOAPAQCPAOANAMANAOCPBOANDOMPCOENBOBNGOFPEOANLOANBMCNBOEPCQAPBOGNBOHPBOBPDOBPAOLPDOGPCOBPBOAPDODPAOGNBOGPHOCNLOENBOCPBOBMANAPAQAPBOAQBPAOANAQARAPCRATAPAJBNAIAHALAUAWAXAUARAOAPASBRATBRAPAOAPAQARASARAQANBMALCMAPAQCNCOBPARBPBOAPBOAPAQBRBPAOAPBOAPAQDPAODPAQBOANBOCPDOBNDOBMCLBMANAPBOANCOAPANBOANAODMBNAOAPBOBMANAOBQARAPBOCNBPAOCQBOANAPAQBPAMAPARASAPBQARBQANAKAMANAQASAQAMALAQASAPAOAPAOAMAHALAPAQARAVBOAJAHANAMAPBOBQBPAOANCMBNAOAPAQCPAOANBMALBNCOBNAMALBMANBMCLCMANAMALAKCLBMBNAMCNBOBNEOCNDOCPDODPDOANCOCPCOANAMALBMDLAMDLCNAOENAMBLCNAOBNBMANAOAPAQCPAOANAMBNAOAQDPANAMALAKALANAPARAQAMALAMAOAQBPAOANAPCNAJAKAOASAUASAQCPAOAPAQARAVAWARANALBNARAUAVATARAQARAOBQASAUAVAWCXCUASBUAVAWCVAUAVCWAXBVASARAQBRAQAPDQFRFPAOANBOAQARAQAPAOANCOBNBOBNEOHPAODPBOENCOBNGOFPDOCNMMDNAOFPFOFNCOFPDOCPBOBPBOWPCOAPGODPBOGNBOFPHOCNLOENAMANAOBPDMBOAQBPBQCPAMAPAQAPAOBQAUARAMAIAKAJAIAKATAWAVBOALAOAQASARASATARAQAOAPAQCRBPANBLCKANAPBRAPANBOAPAOAQARAQAPBOAQBPAQCRAQAOBPAOAPAQARBQAPAOBNAOAPAQARAPAOAMANAOBPFNDOAPANAMCLAMANAOAPAOANCOAPAOANAOEPANAMANAOAPBOBMBOBRBPBOCNBPBOANAPBNBPAQBPAMAQARBPBQARBQAPAKAJANAQAUAQANAIAJANBOAQATAOAIAKAOAQBTAVAQAMAHAJAMAOCPAQAPAOBPANAMBNBOAPAQCPBOANAMANAMBNBOANBMALBMBNAOANAMALAKALAMCKCLAMCNDMCNDOANBODNAMANAOBPEOEPCOANDOBPDOANAMFLBMDLBMAOAPBOCMCLAKALANAOBNBMBNAPARBQAPAOANAMANAOAPAQCPAOAMALBMANAPAQARAOALBNAQARBQAPDOANAMBOARASAQAPAQAPANAMAOAQASAWAUAPALAMAOATAYAaAXAOALAMBKBMAPARATAVAWDUASARBTAVBWAVAUGTARAPAOAPBQIPBQASBRCQAPAOCQARAQAPAOFNCOANDODNAOEPAODPBOFNBOANCOBNDOAPBOBPCOENBOANIMBLAMANCOEPEOFNCOEPCQAPAOHPAOWPJOEPBONPFOFNKOENAMBNAOAPBQBOAMAOARBQAPAQBRAQANAPCOANAPATBPAJBOALAOARAUAWASAPALAMAPAQARASATASAQAPBQDRAQAOAMDKALANAPBQAOANBOBPAQBPBOAQARAQAPCQBPAOCPAQBRBQAPAOANAOAPBRBPANAMBOBPBOAPBOANAOCQAOAMDNAODNCOAPBNBOBNBPAOAMBNAPBOCMAOAPARBOAPBOCNAOAPAOBPBNBPAQAPBNAPARAQAPBQARBQBLAJANAQAVATAPAGBJAMAPATAWARAKAJANAPAQARAUASAMAJAIANAPAOBPAQAOANAOAPAOAMCNAPEQBPANDMBOCNBMALBMANAOANAMAKBLCKALDMENCMCNGOCNAMBNAPDOFPEOANBMANAOBPAQAPAOANEMBLDMEOAPAQAPBOANAMBLCMANAOBNBMBNAQARBQAOANCOAPBQAPAQAOANAMBNAOAQBRAQAMAKAMAOAQARBQAPEOAMALAMAOCPAQAPANCPAQASCOANASAXAYAXAQAFAIANALAKALANAPARATAUAVDTARAPBQARATCSARFQAPAOBQARBQARGQCRBQARAQAPEQBPAOAPDOBNAMANEODNBOEPAOCPCOCNAOENAMANAOBNCOBPBOBPBOFNAOCNAMBNAMBNBMALBMANCOFPFOENAOAPAOCPCQBPAOLNAOSPIOUPFOHNIOFNAMBOBPAQBPANAOARASARAPAOAQCPAOAPAOANBPARAUAQALAJANARAQARBUATARANAMAOAPBRATBRAPBQFPANALAMANALBMANAOAPAOBNAOAPAOAPAQAPBOBQBPDQAPAODPAQEPAOANAOAPAQARAQAOAMALANAOAPBOAPBOANCOAQBNAMANAMANAODNDPBOANBOANBOBNAMANAOAPAOBPANAMAPARBPCOEPDOANAOAPARAPAOANAOARBQCRBQARANAIAMAQAWAVAQAFAEAJAMAPATAXATAOAJAKAPCTASANAMAHALAQAPAOAPAQAPAOBQAOANAKALAOAQBPDQBOANBOAMBNAOBNBMALAKAMANAOANALAKCJBKAMCLBMENBMDNDOBNAOANBMBNAOAPAQAPAODPBOAPEOANBMANAOBPCOANBOBNAMCLCMBNBOBPDOANAMBLBMANAOCNDOAQARBPANAMANAOAPAQAPCOANAMALANAPAQARAQBNAKBNAPARCQAPBQAPBNALAKAMANAOBQDRAPANAPASATARBUAWAaAbAWALAMAQBNAMAPAQASBTCUBTARAPANAMBOAPAQBPAOAPCQBPAOBPARDSARBSDRAPAQFPBQCPDQAPAODNBMANCOAPBOANCOIPAQAPAOBNAOAPBOCNAMBNAOANCOLPAOANAOBNAMILBMBNBOFPFOGPAOCPCQBPAOgPHOTPFOINIOFNCOBPAQAPAOBQASBRAPAQCPCOANAOANARAUATAPAJALASCRCQAPAOBPCRASBRAQAPAQBPAQBPANAMALAMANALAMCPAODPAOBPDOAPAQAPGOANAOAPCQDPAOBPBRAQAPANAMBOBPDOANDPAQAOANAOANBPBOCNAMANAPBOANBOANCOANCOAPAOAPCMAOAPARAPBODPAOAPBQAPAOBPAQARAPANAOBRCQBRBQARAOAJAKAPAXAWANAGAEAKANAPATAWAUAPALAKAOBPASARAOANAIAKARBPAOAQAPAOBQBMAKBNAPBQAPAOAPAQBPAOCMALAMAOCNAMALBMANBMALAKBIBJALAMCLDMENAMFOCNGOAPCOCPDOAPEOBNAMANAOENBOBNAMDLCMANBODPAOCNAMBLAMANAOAPBOANBOBPAQCOAMBOAPAQBPAOBNAMCPAQARBQANAKAJAKANAQARDQARBPAOAMALAKAMAOBPAQARATAWBSAQARATAUATAXAbCaARAOASAUASAPARATAVAWAVATARASATAUASAPANALCNBOBNAMBNAOAPAOCPAQASDRCTASCQAPDQAPDQBPBQDOFNCOCPBOANBOJQBPAOBNAOAPBOBNAMALAMANAOANCOKPAOBNDMFNAMBLBMBNAOHPEOFPBOCPCQBPAOgPHOSPFOJNHOIPCQAPAOANAPARATASBQBPENBMARATAUAQALAKAPATCRAQBPFQARDQCOAPAQAPANAMCNAMCLANAOANAOBPBOCPAQAPBQBPBOBPAQAPAOBPEQARAQAPEQAPAOANAMAOBPDODNAOAPBOCNAPBOANAOBNBOAPAOANCOANBOANCOAPAOAPARAQANBOAQBPAOANAOBPAQBPAQBOBQARBPANAOAQARCQARCQCKBPAWBLAHAFAKANAQAUAVATAOBKALAOBQBNBKALARBQAPAQAPAOCPAOALBMANAOAPBOAPAQBPCOANALBNAOBNAMDNBLBKAJAIBKAMELGMBNAMALCNAOCNEOEPAODPBOEPCOBNAMANCOANBMANAOBNAMANAMBLBMBNBOGNCMBNAOAPAQAPAOANBOAPAQBPAOANAMANAPAQCOANAMBLAMANAQASCQAMAIBLAOAPAQERAQAPAOAMAKBLANAPASATAUAXAYAWATASCRAUAZAbCVARAQARATAUBWAYBXAVATASATAVAUARAPANALCMANCMAKBLAMAOCPAQBRASBQCRASCRAQAPEOCPAQBPAQDPAOANAOAPBOANCOBPAQAPAOANBOIPAQCPAOBPCNCMALAMANAOENAOKNBMANAMCNBMBNBMALAMBNAOIPDOFPCOCPBQBPAODNAOdPFOSPFOJNIOHPBQBPAOAMAPARATBSBRAPEOANAMAOASAVATAQAKAMASBTBQAPEOBPARAQDRAQAOBPBOANFMAKALANBOBPBODPAQAPBQAPBOCQAPAOANAOAPBOBPAQCPGOANAOAPEODNBOAPBOAPAOAPCNBOANCOBNDOCNEOAPASARAPANAOAPAQAPAOANAOANAOAQBPAQBOBQASARAPAOBQARCQBRAQCRALAJAPAVAXAOAKAFAIANATAVAUATAQBLAKAPBRAPANAOBNARASAQCOANCOBNALAMCOAPAOAPEQAPANALBMANGMBLAKAIBJAKALEMBLHMALCMANBOCNEOJPAOGPBOANAMBNDMCNDMGNCOBNDOANFOAQARAPANBOAPAQBPAOBNBPARBQAPAOAMALAKALAMAOASATBSAQALAJBMAOCPAOBPBOBNAMALAKALAQAUAXCVAUARAQBRBSAVAbCYARANALAPATAUAVAWAXAWAUASARASAUAWAUARAOANALAKBLAMANBMAKBLAMAOBPDQEPAQARCQBPEOCPAQCRAQBPAOCPCOANDOAPAQAPAOGNBOCPAQCPAOBPBOANBMCNBODNBOKNAMFNFMCNBOAPCODPBOAPBOEPCODPBQBPAODNAOePDOSPGOJNHOHPBQARAQAPAMANAQASATASARASAQAOBPCOBMASATAUARANALAPASBTBPANBOAPAOCQBPAOBQARAPANBPAOANBOCNBLAKALANBOBPBOCPDQAPCNAOAPAQAPAOBPAQAOCPAQBPAQBPDOBPAQAPEOAPBODPBOCQAPAOANAOBNHOCNCOAMANAOASBQANBOAQAPAOAMAOANAOAPAQCPAOBQASARAOCRDQAPAQCPAQALAJAPASAVAPAKAHAIANAVBUATARAQALAJAPAQASAPAMAOAPBRASAQBRAPAMDOBNCMANAPAOAPEQAPANAMALBMBOBNCMALAKAJAIAJALFMDLAMALBKBLDMANDOBNGOTNDMFNDMGNCOANBMBNDOANCOAQBOANBOAPARBPAOCPARASARAQAPAOAMAKCMAPASATBSAQAMAKBMANAMANAMANBODPAOCQAVAZAbAYAVASAQAPARATBUAVAZAaAXAVAQANAKAJAMAPAQARAUBSARAQBSATBSAPAMALAKAJAKAMANAOAPANAMBNAOHPBQBPAQBRAQBPEODPAQDPCOBPCOANFPDOCNCMANAOCPBQAPBOBPBNCMCNCODNAOGPAOCNAMBNBMANFMBNCOAPDODPBOBPCOCPBOEPBQAPBOjPBOTPGOKNGODNCOAPBRCPANAMAPARASBQARBOANAPEMANARAUBRAMANARAQASAUARAOALAMAPBOBPBOANCQBOANAODPCOANBKBMANAOCPAOANAODPEOCPBOBPARAPAOBPAQBOAPAQAPEOAPAQAPEOAPAQAPAOCPAQAPAOBPAQAOANBOCNFOENAOAMBOARASAQBNAOAPBNBOAMANAPAQCPBOAPARBOANAPARASARBQANAPDQAMAKAOAQARAPALBKANAVAWAUATASAPANAJAOAQATAQAMAOAPARASBQBRAOAMBNCPBOBMBNAOAPCOAPCOANALCNAOCNBMALAJAIAJALCMALCMFLAKCLCMDNBOCNGOCNEOLNDMCNBMBNBMENAMBNBOBNAMCNDOANCOAPAOANCOAQARAQAPANBPARASBRAQBPANAKAJAKAMAPASDQAMAKBLAMALAMANAOBPARASATASAQCRAUAYAXATARCTAWAYAZAYBVAPAOANALAKAJBLAMAOAQASARAOANBPAQCPANAMBLBMAOAPAQBPAODNFOAPBQBPBQCPFOCPBQCPDOAPCOANGOAPCOBNBMCNDOAPCOCPAOANBMDNAMANAOKPBOCNIMANBMBNCOBPBOIPCOFPAOBPCQAPAOJPBOKPAOXPBOHPGOLNDOGNDPAQARBPAOAMAOARASBQBRAQANBPAOAPAQAPAMAQASATARAPANAPAQBTBPANALAMAPAOBPBOANBMANAQBOEPAQAPAOANBMALBNAOENBOANAOBPDOANAOAPBOCRAQAOBPBQAOBQBPFQDPAQAPBQAPBOCQBOCPAOANBOCNBMANAOANBOFNALAOAQARAQBPAOAPBNAOBMBOAPBQBPCQBOAMAOARATARBQANAOBPCMALAPBQAPALBKANAVAYAVASBQAOAIAMAQAUATAOBPARASBQCOANAMANAOBPAQAPAOBMANBODPDOANAMCNAOBNBMAKAJBKALCMCLAMFKDLAMCLBMANLOCNFOMNCMANDMELBMANBMBNAOCNAMCNDOANHOBPAQBOANBPARASBRDNAKAJAKAMAQASDPAMAKAJAKBLAMANAOAPARATAVAUASARBQARBSARAQARASAUAXAbBaAZAXAQAMDLAKBMANAPAQAPAMALBNAOAPCOANBMCNAOAPARBQAPAOCNAMCNAOBPAQCPBQCPGOBPBQAPBOAPCOAPBOANCOANBMANAOFNAMDNDOINBMCNAMBNBOHNAOAPCOCNGMBNAMCNDOLPBOFPBOAPFOJPBOAPAOHPBOWPBOHPGOMNCOHNBMANAPAQCOANBQARBQCRANBPCQBNBQASBRAPAOAPBRATASAOAMALAMAPAOAPBNFQAPAODPAQBOANAOBMALAMAODPANEOCPCOAPAQAPAOCQARAPAOAPAQBPAOBQAPAQAPDQARAQCRAQAPAQBPBOBPAQAPDOANCPAOANAMANEPAOANAODMBPAQCPCOANAOBNAMANAPAOAQDPCOANBRATASBQAMANBPCMAKAPBQBKALAKAPAXAZAVARATARBIAKARAVBQAOAPARBSAPCNAMANAOAQAPCQBOBNAMANAODPAQBPANBMBNCMBLGMJLAKCLBMCLAMBNMOCNCORNFMELBMANDOCNAMFNEMBLAMANBOAPBQAPANAMANAPARASDTASAOAKAJAKANAQASARASBPAMAKAJAKBLAMANAOBQATAVAUATARAQAOANALBMAOAPATAZAbCZAYAXAUASAQAOBMBOAPBQAPAMALAKALANAOENBMANAOBPAQCPCOANAMDNAOBPAQCPCQBPCOBPBOBPDOBPAQAPBQAPAOANBOBNDOENBMALAMBNDOBNEOBNBMCNAMCNAOANBODNCPCOENDMBNBMBNFOOPBOBPEQAPBOKPEOCNAOCPBOSPBOBPBOGPHOWNDPDOANBPAQARAQDPANAPAQAPAQARAPANAQBRBSAQAOAPAQASATARAPAMALANAOAPAOANAMANAOANBOAPBOCPDNAOCMBNCOAPAOANDODPBOAPCOCPAQBOAPAQBPANBPEQBPAQARAQBRBQDPAOBPAQBPCOANCPBNGPAOANAOBPAOANAMAOAPAQCPCOCNAMANAOAPBQARAQAPAOCNAOAQATAUASARALBNAPAQAPANAKANAPAQARAMBKARAZBSAPASATASAKAJAQATAXATAOAPARAQBPBOANAMAOAQARAQAPBQARBPAOALAMAODPBQBOBNAMANBMAKBLAMANBMBLBMBLBMANBMALAKCLBMALBMDNMOCNBODNDODPAOANBODNCMBNAMBNAMALCMANDOCNAMBLCMANEMALBMBNAOAPCOAMALAMAOAQASATCUASAOALAKALANAPARBSARAPANALEMANCQASAUBSAQAOALAJAGAIAKAMAQAZAbDWAXAYAWAVASAQAPAQARASARAQAOANALCMAOAPAOANAOBNBOBPAQEPCOANBMCNAOBPAQBPAOAPEODPBOCPBOBPAQBPBQAPAOANAOCNDOENAMALAMBNEOBNIMDNAMBNDOCNBMANAPCODNEMANCMBNFOANBOCPDOEPBOBPDQBPBOFPAODPEOCNAOBPBOSPCOBPBOFPHOWNAOANBOAPDNBOAQARAQDRAOBRAPAQARAQANAPAQBRASBQAPAQARASATASAQANAMANAPAOANCOBNAOAPCOCPCOBPBOANDOAPAOANAOBNBODPAOBPAQAPAOCPAQAPBQBPAOANAOAPDQBPAQARAQARFQBOCPAQAPDOANBOAPAOANBOBNBOBNAOEMANAPBQBPEOANAMANAOAPAQBRAQAPAOBNBOAQATAUATARAMALANAPAQBNAJALAMAPASARAPAKARAZAaATAPARATBMAJANARAWAVAQCPCOANBOBQARAQBPAQBRAQAOAMALAMAOCPCQAPAOBNCMAJBLANAOBNAMALBMALAKALANCMALAKBLCMALBMENBOCNMOAPAOCNDODNCOCNBMFNCLAKBMANGMALCKBLAMBNCLAKALAMBNAOAPCNALBMAOAQATAUBTBRAOAMALAMAOAPAQBRCPAOANAMALAKALAMANAPARASATBRAQANAKAIAGAHAJAOAWAbDYAVAYCVAUATAUAWAXAVARAPANBMCOAQAPAOAPAQAPAOCPAQBPGOANCMBNAOAPBQBPAOBPCODPCODPDQEPAOCPAOBNCOENAMDNEOANBMENCMCNBMBNJOAPCOBNAOANIMANAMDNEOCPDODPCOBPDQBPAOFPCOBPEONNAOMPBOJPHOYNAOBPDOANAPBRBQAPAQARAQAOARAQCRAPBRAQARBTASAPAQARBSATBQANAMAOBNCOBNAOAPCOANAOAPBOCPCOANDPBNAOAPAOBNBOBPAOBPCOCPCOAQBPBNAOAPBOAPAQFRASAREQAPAOBPAQAPDOBNAOCNBOCNBOANAOENAMAOAPAQBPEOANAMANBOAQBRAQAPAOAPANBPAQASAUATARANALANAPARAPAOAIAJALAPATAUAPAKAQAYAaATAPAQAUASAOAIAJAQAVAWASARASAPANBOCPAOAPARAQDPARASAQANALBNAOBPBOAPBOANBOANAMAKBMAODNAMALAKCLAMANBMALAKALDMHNBODNEOCNBMANAOAPBOCNAMANCOBNCOCNBMFNCMALAKALAMANBMCNAMBLBKAJBKALAMANCLAKALAMANAOBQBOAMAKBMAPARATAUBTASAQAOANBOAPAQBPAQARASARAPAOANAMAKALANAPARASBTBSARAQAOALAKALAOASAXAbCaAXAZAbBZBXBZAbAZAUAQANCOBPAQCPAQARAQAOCPAQBOCPCOANDMBNAOAPAQBPBOBPBODPDOANAOAPEQEPBOAPCOINBMCNEOANBMFNBMCNBMBNJOAPBOBNNMCNBOANCOBPDOEPBOBPHOEPFOBPCOMNBOMPBOIPBQCPCOYNBOAPCOBNAPAQARBQAPBQARAPAQARAPBQAPBRETARDQASAUASAPAOAMANDOBNBOAPAOBNBPBOCPCOBMBNAOAPAOBPAOCNAOAPBOCPCOCPBOAPAQAPBOBPEQFRFQBOBPAQBPBOAPBNBOCNAOCNAOANAOBPAOANAOBNBPCQAPBOBNAOANAOBNAPAQARAQAPAOAPANAMAOAQARATBQANALAOAPARAPBHAGALAPATAWAPALAPAVAZATAPAQAUASAOAIAHANASAXAUASATAQAMALAPAOAQBOANAQARAQCPARATARAOAMALAMAOBPBOCNAMANAOBNALBNBOBNBMALAKBLAMBNBLDMINAMANCODNDODNBMANAOAPBOBNAMCNCOANCOBNBMBLCMBNAOANBLAKALANBMDNBMCKAJBKALAMANAOANALAKAMANBOAPAQBOALAJAKAMAPARAUBTARAQAOBNAOAPAQCOAPAQASAQAPBOAMALAMAPARASCTBUATBRAPAOAQARATAXAZBYBaAbDZAYAZAbAaAWARAOCPCQCPBQBPAOCQARAPANBODNBOFPEOCPBOCPDODQCPBQBPIOCPAOFNBMCNAOENAMDLAMANFMDNDMBNCOCNDODNCMBNCMCNAOBNBOCPDODPCOBPGOEPGOBPCOFPAOENCOMPAOIPBQCPCOYNBOBPBOAPAOAPAQARASARAQAPBQCSAQAPDQARASARDQARBQBTAUARAQANAMBNCOBNBPBNCOAPAOCPBOBNBMBNAPAOANAPDOCPAOANAOAPBQAPAOBPBOAPAQAPBOBPFQFRCQDPAOAPBQAPAOCPAOAMANAOAPANAOENBOAPAOANBOBNAPFOANAMANAPCNAOAPAQBPAOCMANAQARATAUARANALAOBSAQBHAEAHANAUAXAQANAPAUAXASAPAQAUATAOAJAHAKASAWAVAUASBNALANAPAQARAPAOBQERASARAPAOALAMANAPBOBNFOANAMANBOBNCMALCMFLCMINBMANDOBNDOENDOCNCMALAMANBOBNBOCNAMCLCMBNDMALAMANBMDNDMALAJAKALBNAOBMALBNAOBPBQBOAKAIAJAMAQASAUBSAQAPANBMAOAPDNAOAQARAQAPBOAMALAMANAPAQAPAQARASATBUATASBTARASBTAUAWAYAbCYAWBVAWAXAVATAQAPAQBRBQBPDQBPAOBPARBPANAMANBOBNAOAPAQBPBOLPDODPBQBPAOAPCOAPCODPAOAPCOANAOENAMCNAOENAMFNAODNAMALAMBNDMBNBOCNEOENBMBNDMANAOCNBOKPBOCPAQAPAOIPBOCPAOCPBOGPAODNEOUPBQDPBOgPAQBRCQAPBQCRAQAPBOAPBQARASARAQBPARBQAPAQASBRAQANALAMANBOBNBPAQAOAMANAOAPAOCPBOANCMBNAOAPAOCPBOENBOAPBQAPFQAPCOAPAQAPBQAPAQEPAQARBQDPAOBPAQBPAOBPAOAMBNAPAOFNBOBPAOBNAOANAPFOANCPAQBODPCOBMBOARATAVASAOAKAPAOARBQAHAAADALAWAYARAQARAUBQAPAQATAUAPANAIAJARATAUBTARAPAOANAOAPARAPBNAOAPBQARASARAQAPANBMANAOAPAOBNAMANCOCNCOCMCLAMELBMMNBMBNFOANCOENIMALAMBNAOAPAOCPAOANBMHNDMALAMANBMCNAOBNCLAKALBMANAOBLBMAOAPCQARAQANAJAIAJANAQARATBRAPANAMCOAPAQAPAOANAOAQARAQAOBNALAKBLAMCOAPARASAUAWBVAUASARAQASAQARASAVAXAVASARATAUBTAUBSAREQBPFQAPAOBQARAQANAMBNAOAPBOAPAQCPBOBNBOHPDOBPCQCOBPBOCPAOGPCOANAOBPCOANAMANAOAPCOANAMCNAMBNBODNAMDNDMBNAOCNAMCNBOENAMCNAOANDOMPBOAPCOAPBQAPAOIPAOQPAODNGORPBQDPBORPBOIPAODPAQBRBQAPCQDPBOBPBQARCQAPBRAQAPBQAPARBPAMAKAMAOBPANBOAQBNAMAOAPFOANCMALAMANAOAPAOCPBODNCOAPAQBPIOAPAQAPBQAPAQEPBRCQCPBOAPAQARAPAOAPCNAMANAPBNBOCNAMAOBPAOBNAOANAPBQBPBOANBOAPARBPAOBMANAOAPBOAMAKALARATAVAUAQALAOBQARAQAKABADAKAVAXASATAVAWATAQAMAPAQATASAOAMAKAOATASATBRAQBPAOAQBRAQAPANBPAQARBQAODNBOAPAOANIOANBOBNAMILCMQNAMCNAOBNCOFNBMANEMBNBPGNAMANEMBLAMBNBMDNBMCNAOCNAMENAOBNALBNAPAQARAQARBPAMAJAIAJANAQARASARAQAOAMALBNAOAQCPBQARBPANBMALAJBKBLBNAQARAUAYAbBXAWATASBQAPCSARAOAPATAVAUASDQAPAQAPAOCPCQBPCOBPAQAPAOANAMANAOAPAQAPGOCNBOHPBQBPBQEPAOBPBODNBOCNAOBPAOANBOBPCOANCPBQAPAOANALBMANBMBNAOCNBMCNBOBNAMBNAOBNBMCNEOANBMBNAOBNDOGNAOEPAOBPHOeNHOBNCOMPAQDPBOSPBOHPBOANBPAQCRAQBPBQDPBOBPBOAQBRAQBPAQBPCOBRBPALAKANAPBOCQARAPAMANAPDQAPAOANCMCNAOAPBOINCOAQFPAQAPCOAPAQAPBQHPAQARBQAPAQBPAOAPAQCPBQAPAOAMANAOAPANCOBNCOAPBOANBOAPBRBPBNCPAQASARAQAPANAMBOBPAOANAKBQASAVAUAQAMANAOAPAQBNAEAFAKATAWASAUAWBTARANAMAQARATARAPAMBRAQARATARAQARAQAPARDQAMALAOAQAPAQAPANAOAPAOBNBPAOANBOAPAOANAMANBOANFMJLAMUNAOCNBOFNBMANHOAPAQCPCOANAMANCOANAMALCMMNBOANBMANBOAPBOAMALBNAQARASCRAPANAJAIAKAMAPAQARBPBNAMBNAPBQDRCOAMANBMALAKCLAMAPARATAYAbCZAVARAQCPANAPAQAPAQASAUATAQBRAQAPAOANCMCNAOAPAQBPCOBPBOANCOAPDOKPAOFPAQARCPBQBPEOAPBODNBOCNBOAPAOANBOCPBOANBOAPAQBPAOAMALBMANBMBNKOBNAMBNAOCNBMCNDOANBMBNAOBNDOFNBOEPAOBPHOeNMOLPBQCPBOTPCOEPCOBNAOAPAQCRAQAPEQAPCOAPBOAPAQEPAQAPAOAPAOANAOARBOALBOAPBOBPARAQAOAMAPDQBOANAOBNAMCNAPBOJNAMANAPAQEPAQBPBOBQAPCQGPAQBRBPBQBPAOAPAQFPANBOAPAOANAMAOANDOAQAPBMBNAOAPARASARAPAMANAOAQARASARAQBOAMBPAODLAJAOASAVAUAQCOAPAQARAOAGAHALASAUASAVAWAXATARAQAMAPBRASAQBOARAPARATASARAQCRASCRANAKAMAPAOAPAOANAOAQAPAOANBPAOANBPAQAOAMCOANFMFNBMANBMELCMONAOBNCOCNHOFPBQAPDOBNFMALDMMNBOANDOAQBPANALBMAOAQASATCRAPANAKAIAKAMAOAQEPAOANAOAPBQARBQBRBOBPAQAPANAMALAMALAMAPASAWAbESAPBSARANAOARATAUBSAQANAOAPAOBNAMDLBMANAOAPAQBPAOBPAQAPAOANCOGNCOBPCOAPBOBNBOBQARASBRAPIOBPAOCNCOBNCOBNBOGNBOAPCOANAMALBNBMCNMMCNAODNBMBNBMANDMBNAOBNDOFNBOEPAOBPCOAPCOeNNOJPCQCPBObPENBPAQFPEQAPEOBQCPAQDPAOCNAPARAQAOAKAMAPEQASAPAOBQEPAOCNBMALAMAOAPBODPAOANAOCMBOAQEPBQBPAOBPAQAPBQARAQFPAQARBPAOAPAQBPBQCRBQAPAOANAOCNAMANDOBQCNALAMANAOAPASATAQALAMAOAQARASARAQAPAOBMAPBOCNAJAOAPAUATAPARBOAPAQBLAGAJAPAUATASBUAXATASARAPAOAQERBPARATBRAQAPAOAPASBTASAQAKBMAODPAQBPAOAMAOAPAOANAOAPAOAMBNAOANEMCLAMCNFMCLFMMNFOCNCOBNCOGPAQAPDOBNBMBNCMALDMCNBMBLBMENAOANCOAQARBPANALBNAPARASATBSARAPAMAJBKANAPAQCRASARAPCOBPAQBPBQARAPAQASBRAQAPANBLAMAPAUAYAbDVATARBQAPBRAUATASARANALAMANAOCNAMANBMBNAOAPBQCOBPAQBPAOANCOBNAMBNEOAPAQBPAOAPBOANBOBPARASBRAPIOCPAOCNBOAPBOANAOCNBOCNDMANAPBOCNAMALAMANBMALAMCNJMDNAOBPAOANAMCNBMANDMBNFODPBOGPAOCPBOCPCOCNGOMNCOBNPOIPCQCPCOaPFNAOAPAQAPAQCPBQAPBQAPCQBPAOAPAQBPBQCPDNBPARAQAOALANAOBPCRBPBQAPAQCPAODNBMALAMAOAPAOANBODNAOBNAMANAPAQDPBQCPAOBPCQDRAQERBQAOBQCPBQBRBQAPAODNAMALANAOANBOAPAQCOALBNAOBRATARALBOAQARCPBOAPAOAPAQAOCMBPBSARAPARAQAOBQANAFAEAKARAWAVASAQARATBSARAQBPAQDRBQATAVAUARAQANAMANARBTAUARAMAIAKAOBPAOAPAQBPAOAMANAPBOANCMANBOANBMANBMHNEMBLGMQNBODNCOBNCOGPCOAPAOANDMCNBMALCMANEMENBMBNDOAPAQARAQAOAMALAMAOAPARASATASARAQAOALAKBMAOAQDRASBQAPAOANBPAQAPAOAPAQARAQARASATBSARAOANAMAOARAVAZAbCUBTAQAOAQBRAWAVATASANAKBLAMAOAPBOBPAOBPAQBRBQBPAOBPAQBOANAMANBOANAMCNCOBPAQARAQAPAOAPBOEPARBQAPAOBPEOEPAOFPBOINDMBNAPAOANDLBMANAMBLAMBNBOANFMFNAOAPBOANAMBNCMANDMBNEOBPEOGPAOCPBOCPCOBNHOHNYOJPCQBPCOaPGOAPAQBPAQIPCQAPAOAPBQDPDQBPANBPARAPAMBNAODPARAQAPEQBOANAOCNBMALANAPBNCOFNAMBPBQBPCQCPAOCPBQJRAQBOBPAQBPBQAPAQARAQAPAOANAPAOANALBMAOANBOAPAQDMALANAPAOAPASARAOALAPAQBRBPBOAPCOBPAOAMANAPBRAQAPARBQBPALADACAKASAXBTAPAOBRASARAQARDQCRAPATAWAXATAQANALBOARASAVASAPAKAJAMAPAQAPBQAPBOANAOAPBOANAMBNBOCMCNAMINBMDLHMDNGMALCMANAOBNGOBNFOBNAOAPBOCNAMBNAMCNAOBMDNFMDNCMBNDOAPAQARAPANALAMANAOAQARASBQAPBNALBMAOAPBQCRASBQAOBNBPAQAPBQARDTAUAVAUASAQCSAVAXAbCVASARAQAOAPAQAUAZAYAWATAPAMAKAMANAOAQASARAQARBQCRCQBPAOANAOAPAQAPANAMANBOCNEOAPBQARBQAPEODPAQBPAOCPBOGPBOEPBOCNBOBNEMDNAOBNCMALBMGNIMFNAOBPAOANAMBNAOANAMANFMBNBOBPGOJPBOCPCOANIOFNOMCNBMANGOHPIOaPBOBPEQAPAQAPAQAPAQARBQBOAPCQAPAOAPCQBPAOAPAQBSAQAPAMANAQARAPAMBOBPAOAPBQAPAQAPCQBOANAOBPAOANBMBOAPANDOFMBOAPBQBPBQCPAOBNAPCQAPBQIPAOBQBPEQBPBOAPBNAKBMAOANBOAPAQDPANAOAPAOBQARAQANAPAQBPAQBPDRAPAMAPAOAMANAOARASAQALAQASARBOAMAEACAJAQAWAYAXASANALAQDRBSBRANALAMAPAQAXAaAXARAPAMAJALAPAQAVAUAQANAKALAOAPCQAPBOENEMAOCNAMENBMENAMELIMANDOANBOANAMALDMANAOANHOBNCMBNDOAPBOANBMBNCMBOCNBMANAOBNFOANAOANBMBNDOAPAQBOANAMANAOAPAQASBQAOBPANALAMAOAPDQBRASBQAOBNAOAQDRDSAUAVAWDVASAQASAXBWAUAQAOAPAOAPARAVAZAYATASBPANAOAQBRATAUATASARBQDRAQBPBOCPBOANBOBPBOFPBQBRBQAPFOCPAQAPBOBPBOBNBODPDOCPBOCNBOBNDMENAOANDMALBMGNIMFNBOCNAMANAOANAMCNFMANBOCPFOJPBOCPCOANIODNOMJNFOFPIOaPBOCPDQBPBQAPAQBSARBPANAPCQAOBPAOAPAQBOBPAQASBQAOAMANAQBPAMBOAPAOBPBQAPCOAPAQAPAOCPBOBNAMANAOBNDOENAMANAOBPAQAPCQBPAOBNAOAPBQAPDQCPAQBPAQAPAOAPAQAPGOAPDNALAKALANBMAOBPAOAQCPAOAPBOAQCPBQARAOBQAOAPBQARAQANAOBLAOAQAUATAQALAPATARBQANAGADAJAPAUAWAYAWAOAMAQAPBRASARASATASAOAJBKAPAVAaBVAPBKBMAQAUAVATAQAMALAMAPCQAPBOBNAOBNBOANAMBNBOANAMDNCMBLBMELIMALAMANCOENAMALBKALAMANAOANBMDNCOBNBMDNDOBNCMBNAOANAMANAOAPBOANBOCNEODNBMBNDOBPBOANCOAQARASARAPAOBPANAMANAQBPBQBRBSBRAOANAMAOAQARGSAUAVAXAaAbAaAWATASATASARATAOALAMAOAQBTAWATAQARATASARBSCTCSARAPEQEPAOAPCODPCQAPCOBPBQAPBQARAQAPFOANAOAPAQBPAOBPAOBNCOCPAQAPCOCPBOBNCOBNDMDNCOCNAMALBMBNBMCNJMENCOBNAMANAOANAMBNGMANCOCPDOKPBODPAOBNIOCNKMANCMKNGODPIOaPBODPDQAPEQARBQAPANBPAOAPBOAPCQBPAOAPAQBSBPAMBNAQAPAOALANAPAQAPDQAPBOBPDOAPDOANAMAOBNDOFNAMBOBPAQAPAQAPCOBNBOAPAQAPCOAPAQBPEQAPCQAPEOCPAQAPAOAMALAMANAMALANAOBMAOARAQBPAOBPAOAPAQAPAQARBQAOAPAOBQARBQAPAOALAJANAQAUBRAOBTAQCNAKAIALAPARATAXBSAPDSBRASAVAUAQAMAIBNARAXAaAXASAOAMALAMAQATAVAUARAOAMBPEQAPAOANAOANEMCNEMCNAMCLGKALHMDNCODNAMBLAKALAMANDMGNAOBNBMALBMANAMBNBOBNBMBNBMBOAPAQAPAOBNAOAPAOBNCOAPCOANBMCNCOBPBODPAQARBQAODNAMAOAQAPBQARBSARASBQAOANAMAOAQARCSARCSAUAWAaAbCZBVAQASBPAMBOAPANAQASARBSATASCTASDRAQAPAOAMANAOAPBQEPHQFPCOAPEQBPFOBNAOAQCPCOBNDOCPEODPAOANAMBNAOCNBMFNBOBNBMALBMBNBMBNBOENFMCNCOBNBOBNJMANCODPCOTNSMBNAMPNIPJOaPBOBNAOAPDQEPCRAQBNAMANAOBPAOBPAQAPCOAPCQATARAPAMANAOAQBNAMAPAQAPDQBPAOANAOAPJNBOANEOFMCOAPBQBPCOANDOAPDOBQCPEQAPBQBPDOCPBOBMALAMANBMBNBLANARBSAQANBOAMANAQCRCPAOCPARBQAPAQAMAIANAPAUAVASCTAQAPBNALBNAQBSAXAWAUARAPAOAPASAQAPATAUAWARAQALAJALARASAWAXATAPAOANAOAQASAUBTARAMBOAPBQAPAQAPAOANAOANEMBNAOANFMBLAMBLBKALAKDLHMDNHMBLDMCNBMGNDMBLBMANBMANBOBNBMBNDOAPAQAPBOCPAOANAMBNAOAPBOANBMFNAOBPCODQARBPAODNBPAQAPAQASATASDRAQAOANBPAQBRBSBRASATAWAZAbEYATESARAOAMBPBQARBQBRBQDPAOANBMALANAPAQFPBQCPAQCRBQAPFOCPBQCPFOANBPAQARAQAPBOBNAOANBOEPCOEPAOANAMBNAOAPAOANAMCNBMCNAOBNBMALBMANFOAPBOENDMCNCOBNBOCNEOANGODPBOONBOCNSMTNHPGOBPBOaPAOBNBOBPCQAPAQBPBOAQCOAMBOAPAOCPAQBPAOAPDOARASAQAOAMAOAPAQBNBPAQAPAOBPAQBPAOBPCQAPGNDOBNBOCPAOANALBNAOAPAQBPCOBNCOBPAOAPAOBPAQBPGOAPAQAPBQBOCPBOBNAMBNBMCLAKALAQASATASAOANAOALBPAQARBSBRAPAOCPAQAPCNAKAMAQATAUATBSBRAQAPANAKALAQASBTAWARDSAQATAQANASAUAVATARAQALANASARBTASAQCPAQASATAUBSAOANAOBPCQBOANDOANAMANAMANAOBNAMANAOANAMALCMALBKELEKALBMCNAMBNAOANBMHLAMCNDMHNBMENEOBNHOAQBPCODMCNAOCNBMGNAOAPCOBNBPARCPAOBPAOCQBPARATAUASCTASAQAPCQAPAQCRBSAUAWAaAbEYAVATAUATAVAWAUASAOAMBOBPBOANBOCPCOAMCLAMAOAQBRAQAPDQDPAQARBSARAQAPBOFPAQDPAODPBOCPAQCOCNAOGNBOHPAOANAMBOAPBOAMALAMANCMCOAPAOBNAMALAMANCODPCOFNCMCNCOBNAOAPBOCNIOFPAOONDOANTMUNFPGOePAOCNAOEQAPEOBPCMBNAPBOBPAQBPAOBPAQAPAOBRBPANAMAPAQBPANAPAQBPANAPAQARAPAOBPCQDPBQBPAMBOCNCOCPAOAMALAMAOAPFOBNDOAPAODPBQAPDQAPGQBPANAOBPAOBNAMBNCMBKAJALAQASATASAOANALAKALAPAQASARASATASARAPAOAPGLAOARBTAVAUATASARBPALAJALARAUAVAXAWAOAKAQARATAUATBNAPATCSARAOAPATASAQBPAQDRASBTAUASAPANAOCPBQAPANBMANAOBNDOCMBNAOANAMALAKALDJBKCLEKBLANCMANCOANAMBLCMELAMBNBOBNAMANAMCLBMANDMCNEODNEOAPFOCNAMCOCNBMHOAPCOANAMBOAQASBRAPEOAPAQAPBRAUBSBTBSARDQAPAOBPAQARATAYAbDYAVATAUBTARASAUBTAQANAMANAPAOBNAMALBNBOBPBNAMEPARCQBPCQCPBQARCQAPAOBNEOAPAQARAQAPAOANBOBPAOCPBQAPAOCNBOGNCOINAMANAOCNAMALAMBNAMCNAPBOBNALBMANBOEPBOANEOBNBMCNDOBPDOBNHOVNZMUNEPGOjNAOBNAOAPAQAPDOANAPCOAMBOAPBOAPAQBPAOBPAQAPAOBPARBPAMANAOAQAPAOBQARAPAOBQARAQAOBPDQCPCQBNAMANAOCNDOAPAOANALBNAPBOAPCOBNDOFPGQBPDQEOANAODNAMANAOBNBLAKBMAPASBRAOANAKALAMAPAQASARASAUASBQAOBPDOAPANARASCWAUASBRASARAMAKALAQAUAXAZAYAOAHANAPASAVAWAUARAPARASATBSAPAQATBRAQAPBQBOARASBTAUARAPAOAQAOBPCOANAMBOANAPANAMANAOCNAMBNCMALAKALCKAJAKBLGKALAMANAOANGMALDMANCMCNDOBNCMALCMANAOBNAMDNDOAPBOBNDOAPCODNAOBNAMBNEMCNBMCNAOAPBOANAMALAMAPASATBRAQBPDQBPBSAUBSBUBSCTBQAOBNAOAQATAYAbCYAVBSARATBQAPASAUATASBRBQAOANAMALCMAOBPCOANAMANDPARCQCPBQBPAOBPAQBPBOANCMANBOAPAQARBQAOANAMANAOBPAODPBOANEOFNDOAPAOBNAOANBOANCOCNAMALAMFNAPBOANAMALAMANAOANAOBPBOCNAMBNCOBNBMENBOBPAQAPBOBNGOVNaMUNDPGOmNBOAPEOCPCNAMANAOAPCQBPAOCPAQAPCQARAPAOAMAOAPAQAPANAQARAPAOBQBRAQAOBPCQAPAQBPAOAQBPAMBOCNEOBNAMALAMAODPBOCNDOBNAOAPHQBPBQAPBQBRAQAPAOENAMBOAPANAMAKALAMAOBRBQANBKAMAOAPAQARAQARAUASBQAOCNAPAODQASATARATAVASBTBRAMAIALAQAUAWAZBPAIAKAPAQATAVATBSAQARASCPAQASATARBPBQAOANAPARATAUBRAPBQAOCNAOANAMCNBOANCODNAMDLEKCLAMDLFMANBOANCMCLDMANAOBNDOCNBOANBMBLCMANAOBNBMCNAOEPBOANAMBNAOAPCOANBODPAOANGMBNCMBNAOAPCOANAMBNAQASATBSARAQAPBQBRAQAPBRAUBTBUBTBUBTAQAPBOAQATAWAbCYAWAYAUAQAOAPANAMAQAVAXBYAXAUARAOANBMCNAPAQDPAOANAOEPAQEPEOANBOAPAOANGOBPBQCPAOAMBNAOAPBOGNEOANBOCNCOAPBOANBOANAOCNBOCNAMFNBOAPBNBMCOBNAOBPBOANBMCNCOBNAMFNBOBPCOBNAODNBOINBOBNCOFNaMVNCPGOmNAMANAOAPCOAPAOBPBOBNAMANAOAPBQCPAOBPCQCRBPANBOAPBOBRAQAPCRCPEQDPAOAPARAPANALANAOANIOAMBNAOANBOAPBOBNDOBNBOAPGQBPBQAPBQEPAOANAOBNAMBOAPAOAMALAMAOAPAOAQBOAMBKANAOAPAQCRATASARAQAPAOCPAOBPAOAQASATAQARASBRASATARAMAIALARAVBXAZARALANAPAOAQASDPBRASARAQARASBRASAQAPBOANAOAQASAUATARAPAQAPAOBNAMANCMBNAMAOANDOAPAOANBMCLDKCLAMELAMDNCOANAOBNALAKALDMANAOCNCOBPAOANDMDLAMBNAOBNBMBNBOHNAMBNAOAPCOANCOBPDOANEMCNBOANCPAQBPAOBNBOAQARATASBRAQAPAQARCPCRATAUBVBUBVCUASARBSAUAXAZAbBZATASAPAMALBMALAPAWAbBaAYAUARAPAOFPAQARCQAPAOBPCOBPEQAPAOENAMANAOBNAOCPKOANBOBPBOANDOANIOBNCOAPBOANCOCPAOANAODNBMDNBOAPBOANAMCNAOEPAOBNAMCNGMANFODPBOQNHODNOMANAMCNIMVNBPHOlNAMBOBPIOBNBOBPAQCPCOBPAQARBQASARAPANAOAPBOBQARAPBQCSARAPDQEOAPAQBOAMBOANKMBNCOAPBOBNDOBNBOAPBOAPBOAPDQHRAQAOBNAOANBMANBOALAKANAPCQAPAMBKBOAPARAQDRBQBPHOARASERCSAQAMAIALAQATAUAXAYAVAQAPCQARAQAPARAOBRASARBSCRDPAOANAPAQARAUASAQCPAOANAMALANDMCOBNBMANAOAPAOANAMCLHMGNHOANAMAKCLCMAOAPBOBNCOBPAOANAMDLAMANAMDNGOINCOAPCOCNAOAPBQCPAOANAMANBLCNAOCNBOAQCPBOANBOAPARASBRBQBRASARAQAPAOAPARATAUBVBUAVAWCUASATAUAWAYAaAbBaATAPALCKALAMAQAVAZAaBXAUATARAOANAOAPCQBRASBRBPCQBOANAOAPBOBPBOFNBOAPDQBRAQBPBOBNAOAPBOCPAODNAMANBODNCMBNAOBNBOBPBOANCOFPAODNBMBNAOENAMBLAMANCOFNBMBNAOANKOEPAOQNDMCNUMFNGMVNBPHOmMALAMAOBPFQAPBOBNBOBPAQBPDOBPARBQARASAQANAMAPEQBPAQDSAQAPDQDPAOAPAQAPAOAMANHMANCMBNBMANAPBOBMBNBOBNBOAPAOFPBQGPAQARAQAPAOCNFKBNAQDOAMALAJAKAOAQATARAPAOAQBPAQAPAOAPGOAPARBSAUASAQARBSAQALAIAMAPARASAXAYAVAPBRAPBLBMAQAOANARASCTASBRAQBRAQANAOAQBRATARAPAQARAPAOAMBLANAOCMALAMAOBNAMALANAOAPBOANAMBLBKALFMBLBMANAOENDMALAKDLAMANAOBPBOBNDOBNAMALCMBNBMALAKALAMANAOBNBOJNAOCPBOBPEQARBQAPAOANAMCLBMANAOCNAMAOAQCPBOANAOAPBQARCQBRASBRAQAPBQARASATAUAVCWAXAWAVAUBVAYAZAbCZAVARANBOANBOARAUCVAWAUATARAPANAMAOBPBQBRDQAPBQCOHPGOAPAQASBRCSARAQAPAOBNCOAPEODNBMANAOAPAOBNBMCNBOCNBOCNAMBNAOEPCODNDOENAMBLAMANCOGNAMANAOBNHOHPAONNDMANAMDNGMANMMINDMHLAMLNBPHOdNAOBNAOFMBNAOBPBOBPAQCPAOBNCOAQCPCOCQARAPAQASARAPAMANAPCOAPAQDPBRBQAPAOBPAQCPCQAPAOANBOANAOCNBMANAOANAMALAMCNAOAPAOANAMCNBOBNAOAPAOBNAODPBQCPAQAPCQBPAOBPAOANBMANAMAJBOAQARCOAMAJAIAKAOARAUASAOALANAQAOAPBOBPCQAPBOAQARAQARATASAQASBTAPALAKAOAPAQAUAXBSAOAQASAQAPAJAIAJAPAOANAQASBTBSBRAQBRAQAOAPAQBRASARAOAPAQBOAMCNAOAPANALBMAOBNALBNAPCOANAMBLAKALBMCLAKBLBMBNAOFNAMALBKFMANAOANAOAPCOANBMELCMBNCLAKBLAMANAOCNBOGPAOCNAOBPCQBPCQARBPAOANAMALAMBLBMANDMANAPARAQAPCODPAQARBQCRASBRAPCQARASBTBUAVAXBVAUAVAXAYAZAbCYAWAVASAQAOANAOAPAQCPARASBRAQAOAMCNAOBPCQARBQBPBQARAQAOGPFQDSCQBRBQAPAOCNBOAPAQBPCOANFOAPCOANBMBNCODNEMBNAOBNBOAPCOAPBOBNBOENAMENCPFOANAMANAOBNGOHPBONNDMANAMDNGMANNMHNCMHLBMKNBPIOcNAOBNBOENAMBNAOEPBQCPBOBNBPBQCPBOBPARAPBRBPAOAMAPAQBOBPAQARAQAPAOAPARBQAPAOBPBQAPEOBNAOANAODNCOBNALBMBNBOBNBMBNCOCPAOANAMAOAPBOCPBQAPCOAPAQBPAOBPBNAOANBLAJBOARASBQAOALAIBKANAQAUATAOAKAMAQAOAPBOAMANAPBQBPBQARAPARATASAQASATASAMAKALAPBQATASAUARAPASBRAQAKAIAHAOAPANAPARASBTARASARAPBQBOAQBSBTAPAMAPDNDOBNALBMANBOALBNAPBOBNBMALCMDLAKBLBMANCOBPBOANALCKELAMAODPCOANAMALBKALAMALCMFKCLAMAOAPAOBNAONPCQARAQAPAOAPARASARAOANAMALAMDLAMBNBMBNAPAQAPDOBPCQERASBRAQAPBQCRCSATAVAWBVAWAYAaAZAbCaAXBVAQALAKBMANBOBPAQCPANAMDNCOANAOAPAQAPBOBPAQBPBODPCQKPCQBPBOEPAQBPCOANAMANCOCPCOANAMCNBOBPBOAMCNEOANAMANAOBPBOAPCOANAOENAMFNBOAPAQAPDOANAMANAOCNFOWNGMCNHMANIMANEMHNBMHLAMLNAPHORNAOKNAOBNCODNAMCNDOBPBQCPBOANAMANAPAQARBQAPAOBPAQAPAOAPARBPAMANAQCOBQARAQBOAPAQARBQAOBPJNAOGNBOBNALBMBNBOCNAMENAOAPBNAMBNAOAPAOCPCQBPAOAPBQAPAOBQAPAOAPANBKAJAKAOAQARASAQAPAKAIBLANAQAUATAOAJALAPAOAQAOANALBPBQARBPARBQARATASAPASAUASAKBOATAQDTAQARATBQAPAMAIBNAPANAPAQARBTARCPAOAPBOAQASAUASBOANAPCOANDOBMALBMBNAOAMALAMAOAPAOANCMALCMCLBKBLAMANDODNAMALCKELANAOEPBOANAMALAKCLCMFLCKALAMANAOAPAOANBOENBODPAOBPCQARAQAOAPBQBPANAMALBMCLBMBNAMALBNAPEQAPEQCPAQARASARBQBPAQFRASAUAWBYAZAbAaAZCbBWATAPAKEMANAOBPAQBPAOANAMCNAMBNAMCODNAOBPDOCPAQBPFOHPAQBPBOBPDQBPCOAMBNBODPCOANAMCNAOBPCOAMCNDOBNCOBPBOBPAOBNAOENAMFNBOAQCPCOAMBNAOENDODNAORNGMCNHMANOMCNCMBNAMHLBMLOBPFORNBOJNBOGPAOANAMCNDOAPCQARBQBOAMBOAPAQARBQAPAOBQBOBQARAPAOANAPAQBOANAQBRAQAOAPBRBQAPAOBPIOBPAOCPBNBOBNAMALAMBNCOBNDMALAMAOAPBNAMBNBOCNAOAPBQBPAOAPDOAPCQBNBKAJAKANAPAQARAPBMAIBKANAPATBOAKALAOBQAOANAKBOAQAPARASAQARCSATARAPARASAPAKAJAQAVASAQAPAOARAPBTASAQAOAPAMAKANAPANAPAQARBSARAQBOBPAQCTAUARBNBPCOANAOANBOANAMALBMBNBMCNAOCNBMALDMBLEMANCOBNAMELBKDLAMANAOAPCOCNAMALAKDLAMBNCMALGMBNBOBNAOANIOAPBOBPAOAPAQARAPAOENBMALAMJLBNAOCPAQBPBQEPCQARASARBQHRASAVAYAaAbCXAUAYAbAaAWATAQANAMBLCMANCPAQBPAOANHLCMANAOBNBOBPCOBPAQARAQAPAODNAMBNDOBPAQDPKOANCOEPCOANAMBNAOBPDOANAMANAOGNBOBPAOENBOBNAOBNAMFNBPAQARAQAPBOANAMBNAOFNBODNBOLNAOENGMCNGMBNOMBNEMANAMGLCMKOCPEOSNBOENAOBNCODNAOBPAOANCMANAMBNBOAPDRBPBNAMBOAPAQARAQAPAOBPAQAPAOAPARAQAOANAOBPAOANAOAPAQBPAOAPARBQBOAPBOAPHOAPBOBPBOANAOBNBMDNHMALBNAPBNAMALAMANAOCNAOCPAQAPAOBPCOAPAOAPARBOANAKAJBNAPARBPBNAIAHAKANAPATASANALBOBQAOANAKBOAQAPAQASCQARATBRAOAQBNALBSAWATASARAPAQAOAPARASAPAOAPBNAOCPAQARBTARAQAPAOAMAOASBRATBSARANBPDNAOANDLAKAMANDMCNAOBNBMBLDMDLCMANAODMALBMANBMALAKBLCMBOAPDOANAMBLAKCLAMANDMBLAKDLAMENCMANAMBNAOBNDOAPCOCPAQBNAMANAMELBMCNBMELBNCOAPAQARAQAPAQDPAOBPAQARASBRAQGRASAUAYAbDaAVCUATASARAQAPAQARAQANAMBNBOAPAQARAQAPAOFNBMAKBLANAOBNBOBPAQBPAOAPAQBPAOANDMCNAOCPBQARCQAPAOBPBOAPDOBNCOFPBOANAMBNAOAPEOANBOKPBODNBOCNAOBNAMFNAOAPAQBPAOCNAMBNAOAPAODNAOENCOBNBOFNBODNHMCNGMBNXMGLCMJOaNCODNAOJNAODNDMCNAOCPCQBPAOAMCOAPAQARAPAOCPBOBQARAPAOENBPDOAPARBQBPCOAPHOAPGODNAMDNAMANFMALBNAPBOAMALAMAOANFOBPBODPAOCPARASAQAOALAKAJAMAOARAQAOCJAHAJANAOATASAOAMBOBRAOANALBPAQBRBSBQBTBRAOAPAQANBOAQATASAUBRAPANAPAQAPAOBPBOAPAOBPAQBRBQBPANAMAPATCRCSAQAOBPBOCNCMALAKAMAOBNBMBNAOBNBMBLDMELBMBNAOCNAMALAMBNCMALCMDNAOAPCOANAMBLDMAOCNAMBLBKAJDLAMCLAMBNAMBNAMANAOAPAOCNBOAPAQAPAOANAOCNALAMBLCMBLAMBNDMELAMANCOAQARBQAPARBQBODPASATBSARAQCRCTAWAYAbDZATARAQAPAOAPAQARBUAWAUAPAOEPBQARAQBPGOAMAKBMANAPAOEPAQBOCPBOANHOAPAQDRDQAOANAOAPAOBPCOGNCOBPBOANAMBNAOGNAOGPGOCNCOBNBOBNAMFNAOAPAQAPAODNAMANAOGNAOCNEOANCOGNAOCNHMENFMBNXMFLEMHObNBOCNCOFNAOBNBOCNEMALAMANAOEPAQBPANAMBNAOAPAQBPAOBPCOAPAQBOCNAOANBPCOBPAQARAQDPBQBPAOAPDOBPFODNCMENFLBMAOAPAOAMALAMAOANAMANEOAPCOCPAOCPARASAQAPAMALAKALANAQBOCLAIAJANAOASBOAMANAOBQAOANCPAQBRASBTAQBSATARAOAPAQAOAPBQBTAYAXAUAPAMAPAQAOANAOAPAQAPAQANBQCSBQBPANAMAQASATAUASARBSAQAOBPBOANAOBNBMAKBMANAOANCMANAOANBMALEMBNAMDLBMBNBMDNAOEMALBMDNAOBPAQAPAOANAMBLAMANBOBNAMBLAKBJEKAMANAMDNFOAPBOANAOBNAOAQBPANAMCNAMALAMBLAKALAMDNCOANAMBLBMBNCOAPAQARBPBRBQAPAOBNAOAPASATBRCQARASATAUAYAbDaAVAPBNCOAPARASAVAYAWAQAPHQHRAQBPAMALAMANAOAPCOCPCNBODNBOEPAQARBQGPAOCPAOBPBOCPDOANDODNAMBNAOFNBOAPAOEPAQBPCOCNCOHNAMANAMCNBPBOBNFOFNAODNIOJNEMANCMFNEMBNXMFLEMGObNCOBNCOGNEOBNCOBNAMALAMANAOEPAQBPAMALAMAOBPAQAPAOBPDOAPCOBNAOANBPAODPBQBPBQAPBQCPBOEPDQAPAOBPAOANAOANAMENEMBLAMANAPAOAMALANAOBMCNDOFPANCOAQASARAPAOAMALBNAQBNAOBMAJAKANAOARBOAMANAOBPAOBNBPAQBRASCRAQARASARAOBRAQESAYBVAPAMAPAQAOAMAOAQDNBRCTASARAQAPAMAOASBUBSAQAPASARAOBPBOANBOBNALAKALAMANAOANAOBNDMBLFMBNAMELBMDNBOBPBOBNAMALCMANAOBNAOAPCNBMBNEMALAKBJGKAMANBMBNBOENAOAPAOFPAQAPAMAKBMANBMDLBMBNCODNAMALCMBNAOBPAQDPBQARBPAOANCPASATASARESAUAXAaAbCaAXAPAOANAMBOARAQBSAUATAQEPGQCRAQARCQAPANAMANAOAPBOCNBOCNCODPAQIPDQCPAOBPBOBPAOCPAQCPAOANDOCNBMANEOBNCOAPAOBPIOCNBOAPBOFNDMBNBOAPAOANGOFNAODNDOANCOCPAOENGMANBMHNDMBNXMFLFMEObNCOCNCOGNEOANCOCMALBNFPBQAPANALBMAOAPAQAPAOBPDOBPAOENBPBOCPIQCPCOGPAQAPAODNAOBNBMDNDMBLAMAOAPAOAMALANAOAPANAMCNDOCNAOAPANAMBOAQASARAPAOAMALAMAOAPBNAOCJAKANAOARAQAOALANAPBOCNBPAQBRDQBRASAQAOBQCRAQAOAPAYBVAPANAPAQAOAMAOAQARCNAPARASARASARAQAPAOANAQATAUBSBQAPARBPAOAPBOANBOAPANALAKBMANCOCNAMELEMCNBMCLEMANBOBPCOANAMAKBLAMAOFPAOBNDMCLBKAJAIAJEKALCMCNAOAPBOCNAMBNAOBPEOANAMALAKALANCMANCMBNDOAPAOCNAMALCMBOAPBQBPCOAPAQARAQAOANAMBNAPASATARAQCRASAUAXAZAbCaAYARAOANBOAQATBPAOAQBPAQARASAQAOBPBOBNAOBPBQEPAOANAMANAOENDOANCOCPBQBRBQDPBOAPEQAPBQAPAOGQARBQAPAOANCOCNDOFNDOAPKOANDOAPBOHNCMBNBOAPAOBNGOGPAOBNDOBNBOBPBOENJMHNDMCNWMFLFMDOcNEOBNAOHNHOCNAMCNEOAPAQBOAMALBMAOAQBPAOBPCOFPAOBNAOAPAOBNAPDOCPBQDPBOGPDOFNCMCNFLBOAPBNALAMAOAPAOAMCNHOAPANAMBOAQARAQAPAOAMALAMAOAQAPAOBPAOALBNAOAQBOALANAPBODNAPAQAPARAQAPAOANAQARASAPANAOARBTARAQAMANAXAZAVAPANAPAQANALAOAQARCPBRASARASARAPAQAPAOARATAUBSAQAPBRBQAPAOAPANAMANAOAPANALCMANDOBNBMALAMELCMBNCMANAMALDMANAOAPAOBPBOANALAKBLANAOAPAODNFMALDKAJAICJBKALAMALEMANAOAPCOANBMALBNAPDQAOAMDLBMANGMANBOCPBOBNBMALBMBNAPAQBPBODPAQARAQAOAMALBNAQASBRAPBQASAWAYAZBbBaAXATAQAPBQATAXBRAODPARBQAOANAOCNAMDNAOAPEOANCOCNBOANCOANBOBPEQEPBOBNAOBPCQEPAOFPAQARBQAPAOANCOBNDOAPDOBNDOAPBQCPBOAPCOANCOBPBOBNCOAPAOANAMDNAOBPBOANDMANBODNAOFNCOFPBOENJMHNCMENWMFLDMDOdNEOANAOHNIOBNBMCNEOAPAQAPAOALCNAPAQAPAOCPCOEPBOFNAQBPAOBNBOBQBPAQAPAQAPAOGPDOFNCMBNFMBOAPBOAMBOAPAOANAMANDMANDOBNBMAOAPARAQAOBNALAMAPAQAPAOBPBLAKAMAOARBOAMBQAPAOEPAQAPARAQAOANBRBSAPANAPARATAUARAQANAPAZBUAPAOAQBOALANAPARCQAPARBSBQAOAQARAQARATAVATARAQAOAPARAQAPAQAPBNAMANAPBNALAKBNAOANFOANAMALAMDLBMANGMALDMANAOAPBOCNAMALAKBLANAPCOBNAMCNBMALAKCLBKAJAIBJAKALAMCLAKBLAMANAOAPCOANBMALBNAOAPCOANAMELAMANAOCNAOANDOCPCOBNBMAKALAMANAOAPAQAPAOEPBQARAQAOAMALAMAOAQARBQCTAXAZCbBaAZAWATASARASAVAYAXAUAQAPAOAPAQAPAQBPANAMANDMALCNAOBPDOANCOBNCOANBOBNAOAPMOANDPDQEPANBODPAQARAQAPAOBNAOCNBMBNAOAPAQBPBOANCOBPAQDPAOFNAOBPCOBNDOBNAMENAOCPAOANDMANBODNAOVNKMGNAMENYMFLCMDNAOdNGOENLOANCMBNFPCOANALAKALAOAQBPAOEPAOGNBOBNAOAPAQAPAOBNCOAPAQAPFOFPBOAPAOFNCMBNGMAOAPBOANBOAPBOANEMANAOANBOBNCOBQAPAOANBMBPAQAOCPBMAKALAOARASAPANAMAPBOCPAOAPAQAPARAQANAMBRBSAPANAPARAUBRAQANASAZBRAOAPAQARAPALANAOAQARBQBRBSBQAOAPASDTASAQAPBQBPAOAPCNAMANAPAQANALCNAOBNAMBNBOANAMHNBOBNBOANAMBLDMAOAPCOAMBLAMALBMAOAPCOANAMGLAKALEKDLAMCNAMAKCMBNAODNEMANAOAPANAMBNBMCLAMANAPAOBNBOANAMANBODPAOBNCLBMANBOAPAQAOANDOAPAQARBQAOANCPAQARCSAUAaAbAZDaAZAVCUAVBWBUASAQARAQBPBQAPANALBMANBMBLBMANAOAPEOANCOBNAMANAOANAODPBQAPAOGPAOBNDOAPAQBPBQCPAOANBOBPCQBPAOGNBMBNAPBQCPAOANBOCPAQDPBOGPCOBNBMANBOBNAMDNDOAPAOANCMBNAOENAOKPAOJNKMMNYMGLBMCNAOdNHOCNNOANCMANFOAPCOANALAKAMAOAQBPAODPAOBNAODNCOANBPBOCNCOBPGOCPAOFPCOANFMBNFMANAOAPAOANAMAOAPBODNBMBOBNAOBNCOBQAPBOANAMALAOAQAPAOBPBNALAKAOARATAPAOAMAPAOAPAOAPCQBPAQAPANALBRBSAOALAPASAVAUARAQAOAVAaAZARAOAPARBPAMANAOAPAQARBQARDQANAPARBSCRAQAOBQAPBOCPANBOAPAQAOAMALBNDMANFMFNCOCNCMALDMANAODNAMALAMANAOBPAOAPCNALCMALGMBLCMALCMBNCMAKBLAMANAOCNCOCNDMCNAOANAMALBMAOAPBOBNCMANBOANDOANEMBNBMANAPBNDOAPAQARASARAPAOCPBQARATAVAYAbCZBYBXAWBXAYAZAXAVAWAVATASATASAQBPAQBOALAKBLANCMDNAPCQAPBOBNAOCNCOFPAQAPAOKNCOAPAQCPEOANCOAPBOBPCOBPCOBNAMCNAOAPAQCPAOEPCQCPBOFPAQBPAOANBMANCOANBMCNEOAPAOANAMDNAOENBOJPBOINKMMNYMKNBOcNIOBNZOAPBOBMALBOAPDOFMANAOENBMANAPAOENAOHPBOBPBOENAOAPBOANAMANEMBNBOANBMANAOAPAOBNBPCOCNBMBOENBMANAPENBLAOAQAPAOAPAQBOAMALANAQASAPBMAOBPBQAPBQBOAPBNAMAKAPAQASANAKAPASAVATAQAPAOAWAaAZARAOAPARBPANAOCPARASAQCRBQANAOAPBRBSARAPAOBQAPBOANBPAOCPBOANAMBNDMANAOBNAMELAMCNAOENAMALEMAOENCOAPAQBPCOANALBKBLEMCLBMCNCMCNDMAKALAMAOCNAMCNAOCNBMDNBOANDPEOAMBNBOBNBMCNFMBNAMALAMAOANAMBNBOAPARASBQAPBQDRATAXAaAbCZAYAWDXCYAXAUAVAUASBTASARAQARAQBPANALAKBMANAOBNEOAPAQCPBOENAODPAOANAOAPBOANBOFPBOEPAQBPBOBPBOBNAOBPBOFPDOBNBMANAOBPAQBPAOFPCQCPBOEPBQBPAOANIMBNFOBNBMDNAOENBOJPBOHNMMLNZMINBOcNiMANBOAPBOBMBNAOJNBOANAOAPBOANAMANAPAOANCOANBOHPAOBPBOENBOAPAOANAMCNDMBNBOANBMAOAPAOANCOAPAOBPBOANCOENDQAPDOBMANAPBOBQBPANALANAQASAQAPANAMAOBPAQAPBQBNAODJAOAPASAMAJAPATAXATAQANAPAXAZAYAQAOAQASBPAOEQASARAQAPAQARAQANAODQASARAPAOAPAQAPAOBNBPCOENFMANAOBNAMELBMBNAPBOCNALAKALCMAOCNAODPGOANALDKCLBMELBMANCOANAMCNDMALAMANAOANAMALCMANAOBNBMFNBOAPCQCPAOAMCNAOCNAMALBMANAOBNCMCLBMANBMBNCOAQASARAQAPAQASBRBTAWAZAbCYAXCWBYAWATASCUBRAQASBRAQARBQBPANAMALBNAOAPAOANEOAPAQBPCODNAODPBOANAOAPAOBNBOBPAOBPDOAPAOBPBQAPBOBPBOMPAQAPBOBNDOBPAQAPAOIPAQAPCODPCQBPAOBNGOANLMENBOCNCOJPBOHNOMJNIOBNOMHNBOcNjMANBOAPAOBNCOKNDPBOEPANAMALANAOANAOKPBOENBOAPBNAMBNFMBNAOANBMAOAPAOANCOEPBNAOANAODPANAMANBQBPAOAPAOBMANAPBOBQBPAOALBQBRAPBLANAOAPDQBPAOBPAOAKANAQBMAKAPAUAYATAQANAPAXAZAYAQAPBSBQAPCOBPARBQAPBRBNAOAPAOBPAQARAPAOAPAQAPAOBNBPCOENCMBNAMANBOANAMELAKALAMANAOAPBOBMALAKALBMANBOBNAOBPHOAMALFKBLAMFLBMCNBOANALBMCNAOANAMDLBKBLAMANAOBNAMFNBOAQEPAOANFOBNAMALAMANBOBNEMBLAKAMBNAMANDOAQARBPBRATCUAXAaAbBaAWBZBVAUAXAVAQAOAQASAUAVASAPBQARBQARAQBPBNAMCNAPBOANFPCOAPDOANBOCPCOANAOCNCOAPEQBPAOCNAOAPAQAPBOBPAOJNCOAPAQAPAODNCOBPCODNAODPCOBNAOCPDQAPAOBNBOBNBOBNBOBNGMFNBOCNCOJPCOFNPMJNIOBNOMGNBOdNmODNBOKNBMANAOAPBODPAOAMALAMANDOJPAOFNAOBPAOAMBNCOANBMBNAOANDOBNBOGPAOHNAMBNAPAQAOBPBOGPAQAPAOAMALAOAQBPBLAOBPAOCPAQAPANAOAPAOALAMAQAPAMAKAOAUAYAUAQALAOAWAYBRAOBRASAQAPDOAPAQDOARBNBPEQAPAOAQARAPAOBNBPFOBNCMBNFMDLDMANAOAPAOBMALCMANAOANEOBPGNALAKALIMDLGMANCLAKBLAMANAOBMALAKCLBKALAMANAOBNALCMBNBOBPBQCOANCOANBMBNBMALAMANEMANCMBLAKBLAMANGPARAQAPAQASAUAWAXBZAaBYAXAYAbAaAWAUAWAVARAOAQATAUAVATAPAOAPAQARAQAPAQCPBNAMBNAOBPAOANAMANBMANAOAPAOCPCOANAODPCODNCOAPAQBPBQCPAOBNBOAPAQBPAOINBOBNBOBPCODNCOBPEOANBOCPCOBNBOCPFOFNBOFNEMCNAMDNHOJPCOFNPMINIODNNMFNBOOPAOONmOCNEOFNAOANBMANAOAPAOBPDOANALBNEOEPBOBPAOFNAOBPAOAMCNBOANCMAOCNCOANCODNAOEPAODNAOANAMANAOAQAOBPAQAPAOANAOANAOCPBOANALANAPCOANBOANBMANAPAQAPAOAPAQAOAMBQAPAMALAPATAWATAQALAOAWAYBSAPAOAPBQDPAOAPAQASARAQAOAQBNBPBQCPAOAPARASAPANAMBNAOBPAQCPAOAMENEMELCMBNBOBNALBKALANAOBNAMCNBOAPDQAPANALAKBLHMCLGKBLBMALBKAJAKAMANCMALAKAJAKALCMBNAOBNALCNDOCPCOBNEMALCNAMCNCMANEMALBKBLAMANFMANAPAQAPBQAUAZAaAYBZBYAZAbCWAUAVAUASAQARAUCTAQAOBPAQBPAOAPDOANEOBNAMBNBMBNAOANBOAPCOFPCOGPBQCPBQAPAOCNAOBPAQBPAOBNAOENBOCNBOAPGOANCOBPEOANBOBPDOBNBOBPGOFNAOGNIMDNFOLPCOFNQMGNJOENAOANLMDNCOMPDONNjMANBOCNEOENBOANBOANAODQAPBOBNAMANFODPCOAPAOBNAODNAOAPAOANAMBNFMANAOCNGOCNAODPCOCNAMANCOAPAOBPAQBPAOBNAOFNAMBPCOANBPAMDPBOBQARAPANALANAOAMBPASAVATARAMAQAWAXAVARAPCOAPAQBRAQAPAQBRBQANAPAQAOBPBRASARAPAOBRATAQAMALBMAOBPAQCOBLAMDNAMANCMELBMANCOBNAMALCMAOAPAOAMALCMBNAOAPDOAMAKCLHMBLAKBLAMCLBKDJBKCMANBMCLAKBLAMCNCOBNAMBNAOBNDOBNDMELAKBLAMDNBMBNEMALBKBLAMANAOANCMBNAPBOAPATAaAbBZBYBaAbCVAUARASBQARATARCQAPAOENBOAPCOANBMANDMCOANAMBNDOAPCOBPAOBPBQAPCOCPDQBPEOCNAOBQBPAOANCODNBODNBOEPCOANCOBPAQBPAOBNBOAPEOJPCOMNKMCNFOLPBOGNRMDNKOONEMCNBOOPDOMNZMBNIMBNAOCNDOENBOANBOCNBOAPBOENBMANAMANEOAPDOBNAODNAOAPBOAMBNDOANBMANAOBNGOCNBOCPDOBNAMAOANAOBPAOBPAQBPAOCPBOCNDOFPAMBLAMAOAPAOBQARAPAOALANAOAMALAQATAVASAPANAUAXBVARAPAQAPBOAPARASAQBRCQBOAPAQAOBQAPARASBQAPAOARASARANALAKALAMAOAPAQBPANBMENALAMANDMCLAMANAOCNBMCLBMANAOANAMALCMCNAODNAMALAKCLJKALAMANCMBLAKAJAICJAKALAMBNAMALBMALAKBMENAOAPBOANJMDLBMALDKBLAMCNAOANALAMAOANDMBLCMANAOBNCMBNAOBPASAYAbBaAXAUAWAXAbCYAUARBUBSAQAPAQARAQAPAOCNBMCNAPBOBNBMCNBMALANAOANAMBNDOFPAOBPAQCPBOCPAQAPEOBPAOCNAOBPDOANCODNBOBPBOGPCOANDOAPAQBPAOBNAOAPFOJPCOCPAOHNLMCNFOLPBOHNRMANMOPNHODNAOJPEOMNXMDNIMBNBOBNCOFNBOENAMANAOAPAOCPAOBNAMBNAMANCMANAOAPBQAPAOFNBPBOANAMANDOANEOBNDMANAOCNBOCPAQBPBOBMANAOAPBOBNAPAQBPAOAPBQAPAOCNCOANAODPBNAMCOAPANAOAPAQBPANAOANAMALAOASAWATAQAMAUAXBVASAQCPAOBQATARBSBRAPCQARAPBQCSATARAQAOAQARBPANALAKALANAOAPCNBMANAMANCLBMANAOANAMANAMBNBOCNAMALAMCLAMANCMCLAMCNBOANAMDKALMMANAOBNBMALAJAICJAKALAMBLAMBLGMDNAOAPAQBOAMBLBMBNAMCLFMDLAKALBMBNAOBNAMANAOANFMALAMANAOBNFOAQARAUAWAaAbAZAVASARATAXAbBaAVAQBUAVASAOANAOAQCPBOBNBMALAMANAPBOBNCMDLAMANAOANAMDNBOHPBQCPAODPGOENBOCPBOANDOAPAOBNAOBPCOGPCOANDOAPDOBNAOAPFOJPCOBPBOENEMDNNOFPBOPNdORNFODNBOIPFOMNWMGNGMBNBOANDOFNAOENAMBNAODPCOANAMANDMCOCPBOENAMAOAPBOBMANJOBNFOCNCOBQCPCOALAMAPCOBNBPAQAPAOAPAQARAQAPAOBNAMANAOANAODPBNCMANAPANAOAPAQBPAOBNAMBNASAVAWAQAMASAXBVASARBPAOAPAOAQASCTBQAPAOBQARAQESBRAQAPAQBPBOANALAMANAOBPAOBNAMANELBMANAOBNBMBNFMBNCMANGMCNBMCLBMFLIMANAODMALAKAJAIAJBKALAMCLJMCNBOAPAQBOAMAKBLAMBNBMCKCLCMBNAMALCMANCOBMALAMANCODNAMBNAOBNAODPASAUAVAWAZAbAXATARBVBXAbBWAQBSATARAOAMBOAPAQCPBOANBLBMAOAPAOBNGMCOBNCMBNDOFPAQDPAODPFOENCOGNBOAPBOANBOBPCOANAOINCOBPDODPFOKPAOCPBODNFMDNNOFPBOPNcOTNDOENAOJPEONNWMGNGMBNFOFNAOBPAOCNBMBNAOCPCOANEMALAMANAOBPBOENAMANAOAQAPAOANAMANJOBNDODNBMANAOAQDPAQAOAMALAOAPCOANAMAOAQAPAOAPAQARBPBOANAMANCODPBOBNBOAPANAOAPDOCMANBSAUAWAPAOASAWAXAVASARBOANAPBRASATCSAQAOCQASARAQARAQBRASARBQARAQAPAOENAOANAODMANBOBPAMALAMANAODMCNBMCNBOAPAODNAOANDMANCMALDMANAOBNAMALCMALEMANAOCNAMAKAJCKALAMBNBMALAKCLBMCLBMANBOBPBOBMAKBLAMANAOCNAMBKBLDMANCMDODNAMALANAOCPDNFOAPCRAUAWAXBZAYAUASBTAUASATAXAYAVARBSBRAPANAMANAOAQDPBOBNAMBNAOCNBODNBMANBOBNIOEPCQBPCOCPFODNDOIPCOANBOBPBOLNCOAPAOCPAOCPCOAPBOEPCODPAOHNHMCNNOFPBOPNbOUNCOFNCOHPDONNXMGNNOIPBODNAMCNAOBPCOANDMALBMANAOBPAOENAMBOAQBPANAMANBOANDMANAOCNDOENAMANAPBQEPAOAMANAPCOBMBPAQAOAPBRAQCPAOANCOEPDOBPCQBPAOENBPASARAVAPAQARAWAXAVASARBOANAOAPARASATCSAQAOCQATASARBQARASARDSAQAPBOCPAOEPAOAMBOBPBNAMALANBOAPAOANCMENAOAPEOFNBMANBMALAKALAMANAOAPBOANAMELDMANAOBNAMALAKAJCKAMANDMAKAJCLAMANBMBLAMANCOCNBMALBMANAOBPCOANAMALDKALAMANBMDNAOBNBMALAMAOAPEQAPAOANAMCNAOAPAQASAXAZBaBXAWAVAWBTAQBSAUATARASATASARAQAPANBOAPAQBRAQBPCNAMANAOCNCODNDOCNFMANBOBNAOBPHODPDODNEOEPAOCPBOBNBOCPAOLNBOAPBOCPFOCPAODPDOMNIMBNDOCNGOFPAOPNJOBNPOVNBOGNCOGPEOMNXMHNMOFNAOBPBOEMENBPBOBNDLBMANBOAPBOEMALAOAPAQAPBNAMANAOBNDMANAOCNBOGNBPBQAPAQDOBNAPAOAQAPAOAMALANAQAPCRAQAPEOCPAOANAOAPDOBQCRAQAPAOAMAOCKALAPAQBUAQARASAVAWAUATASAQANALANAQARASAUATASARAQAOCQATBSARAPARASETARAPBOANBPAOAPBOAPCNBOBPCMALAMANAOAPBOANBMALBMANBOAPFOBNAOBNAMELBMANAOAPBQAPAOANCMBLCMBNCMALAKBJBKAMANAOBNAMALAKAJAIAJAKAMANDMCNBOBNAMBNAOANAOAPAODPBOANAMDLAKALBMCNCOBNAMDNAPBOAPBQBOANCMANAOAPARATAXAaDbAYAVCSAPAOAQARBSAUBRAPCOANAOBPAQBRAQAPBQAPAOANBPAOANAMBNAODNCOCNFMCNAOANBOBPBOBPDOEPCODNEOBNAOFPBOANCOHPAOIPCOBPGOCPAODPEOAPAOFPBOBNCOBNDMBNCODNGOWNGOENPOLPCOFNBOHNBOHPEOKNZMHNMOBNAOBNBOEPBOANBMDNBOAPAOANAMANBMALBNCPBOEMALANAOAQBPANAMAODNEOCNCOGNAOAPCQDPBNAOBQBPANALAMAPCQARAQAPDQAPAOBPAOCPAQBPAOBPAREPALAPAOBLAIANAPBSCUASBTCQAOALBPARASAUASARAQAPBOAPARATCRAPAQARATAUASBTASAPBOAMANAPAOAPDQBOBPDOANAMBNAOAPBOANAMCLAMANBOAPBOAPCOANBOBNAMALBMANAMBOAPAOAPCQAPAOBNAMALCMANAOANCMAKAJBKALAMANAOCNALAKAJBIBJALAMANAOBNBMANBOBNCOAPAQBPCOCPBOANEMALBMDNBOCMCNAOBPBOAPAQBPANEOAPASAVAYAaAZCbAWAQAPAQBPAOAQAPBRATAUARAPAOBNBOCPAQDPAQBPAOANAOAPAOANAMBNAOCNCOCNGMCNEOAPBOCPCOEPAOFNEOIPAOANCOHPBODPBOBPCOCPGOBPBOCPIODPCOCNAODNIOCNGOYNDOENPOLPDOENAOENAOENAOHPFOINZMJNNOBNBOEPBOANDMALBNBOAPAOANAMANAMALBMANBOAPAOANAOCMALAMAOAQBOBNAOENFOBNCOHPEQCPANBOAQARAPAOALBNAPBRBQAPDQBOGQARAOCPASARCSAPALAPCNAHALAOCTAXAYAQARAQATAUAPBLAKAMARASATASAQAPBQAPBRATASATARAOAPAQASAVATCSAPAOBMBOCQBPARBPAOAPAQAPBNBMANCOBNBMENBOBPAOBPAOBNEMDNBOBPAOBPDOBNBMBNAOBPAOANAMBKCLAMCNAOBNALAJAIDJAKALAMANKOBPAQARAQCPAOKMGNBOBNAMBNAOBPCOBPBOANDOAQATAXAZBYCZASAOBNAPBQARAQBSATAUASAQAOCNBOCPAQCPBQBPAOANAOCNAMBNAOBNDOBNGMDNEOAPAOEPAOEPAOGNEOJNDOAPBOGPKOBPBQAPDOCPBOCPIOBPEOHNSOZNBOFNMONPFOCNAOUPEOJNZMJNNOBNAOCNAOBPBOANCMBLAMANBOBNDMALBMANBPAOANAOCNAMALANAQBOBNAOAPAOFNAOANAOBNCOHPBQAPANAPBQAPAOAMAOAPARAQAPAMALAMAPBRBQAPAQEPAOCNBOAPAQAOANAOAPATAQAPBRAQANAQAPAQAOAIAKAMANAOASAaAYARANAPASAVASAPALAJAKAPASBQAPAOAPAQAPBSATCRAOAPBRAUBTBRAPAOBNAMAOCPAQBRBQAPBQAPBOANAMANDOANBMDNCOHNDMDNBOBPBODPBOFPDOANAMINBMALAKAJAIAHBIBKALAMBNEMBNBOBPBQCPDOANBOBPCOCNAMENBOCNCOAPEODNAMBNAPATAYAaAZBYAZAXAWAQBPANBQATAUATASATAUBSAQAPAOBNBOAPAOBPAQCPBQBPAOANAOCNAMBNFOCNBMBNBMENBMANBOIPBOAPBOANCOBNBOANCOFNBOBNDOAPBOGPKOBPAQBPDOBPCOCPIOAPEOAPCOFNROhNMOMPIOWPEOINaMINQOBNCOBPBOANCMDNGMALCMANAOBNBOBNAMBOAPAQAOBNAOAPBOHNAOANCODNAODPAQBOANAOAQBOALANAOAQARAPANALBOAPARASARAPAQEPAOBPAOAMANAPAQAOANAOBUARAOBPCQAPARAPAKBNAMAOARAaAXATANAOBUATAPAOAJAIAMAQASAQAOCQAPBRATCRAPBQARATBSATARAPANBOANAOANAOCQARBQAPEOANAMANAOANLOBNBPBOANEMCNAODPBOJPFOAMCNCMCLAMALBKAJCIAHAIAJAKBLAMCNCMCNBOAPFODNCOBPAODPAOANAMBNDOFPEOANCOANAMANAQAWAbCZBXAVAUASARAPAMANAQATBSCTBSAQAOANDOBPIQAPBOEMCNFOCNAMGNBMCNCOIPDOANDOBNEOGNCOANDOAPBOCNAOBPEQBPEOAPIOAPBOCPCQAPHQBPAOBPCOHNPOhNJONPJOXPDOINbMINQOANDOCPAOANCMCNDOBNBMBLAMANAOBNBOBNAMBOAPBODPCOGNAOANDOBNAOBNBOAPAQBPAMAOAQARAOAMBOAQARAQAPALBNAPARASBPAQBRAQBPAOCPANAMAPBOALBOAUASAOANAOAPAQAPBRAPAOALAMBNARAVBPANAMAOASATAQAPALAIAKAPAQAPAOANAOAQAPAQBTCSAQBRASCRASAQAPAOANAOFNAPARBQBPCOAPAOANFOANLOAPBOANDMANCOCPDOJPENAMBNAOCMALAKFJDIAHAJAKCLAMCNBMALBMANBOAPCOHNBODNBOAPAOANAMANEOHPAOANAMCNAOANAOARAXAbDYAWATASBQAPANBOAQBRAQAPAQASBRAPANEOAPCOBPCOAPDODNAMALAMANEODNAMFNBMDNBOCNAOEPEOANAMBNAOANFOCNBOANHOBPBOBNCOAPEQBPDOBPKODPBQCPGQAPAODPBOHNPOiNGOPPIOYPCOINgMENCMBNROAPAOANKOANCMALBNDOBNBLAMAOAPCOCPDOFNAOANDOANBOBMBOBQARAQAMBPARAPANAMANAPAQCMAKAMAPARATASAQARAQARAQAPFOBPCJBNASATAOCPAQAOAPARBPAMCNARATBOAPAMAOAQATBPAOAKALAPCOANAOAQAPAQARASATCQARASATASBRBQAPAOCNAODNAOAQARAQBPBOBPAOANEOCNKOAPBOANHOCPEODNAOBPAOAPBODNAMANAOBNAMAKAJDKEJBIBJAKBLAMFLBMANCOAPAOIPAOANFMAOAPAOANBOANDOCPAOENAMALBMANAPAQASAXAbDXAVASAQCOANAMBNAOAPAQAOBQASBQAOANDOAPCOCPBOCPCODNAMCNBOGNAMALAMDNDMBNBOANDODPDOANBMANBOANEODNBOANHOBPBOBNCOBPEQBPDOAPGQAPCOBPDQCPIOANAOLNQOhNFOPPIOaPAOINhMENWOCNOLBNDOBNAOALBNAPBOEPDOENIOBMALANAOAPARBNALAOARAQAOAMANAOARBQALAKALAPARATASAQARCQAPEQAPBQAPBJAIAMAQASAPAOAPAQARAOAPAQASAPAQAOANAOAQATAQAPBNAMAQASATARAQALAJANAPBOBPBOAPAQAPARASBRBSATBSAQARAQAPAOCNAODNAOAPAQEOBPAOANCMANAOAPAOBNAOANHOAPBOBNCOBNEOAPEOFPBOBNBMANGLAKAJBKHJDKBMANAOANAMALDMANDOAPAOANAOAPCOBPBOANELBNAPBODNCOENDMALBMANAPATAUAWAbDWAVATAQAOCMALAMBNAPBOBPARASARAQAOANDOAPCODPAOEPBOCNAMBNBOHNAMALAMDNEMANGOANBOAPDOANEOANEOCNCOANHOBPBOBNCOBPEQBPDOBPEQBPCOAPEQCPHOBNBOJNROhNEOENAOKPHOkNjMDNVODNNLBNAOANBOCNAMALANAPAODPFOENIOBNALBNAOARBPAKANAQBOAMANAOASBQALAJAKAPASATASARCSARAPEQAOAPAQCKAHALAOARAPBQASARAPAOAQASAQBOANAPBQAPAQCLANAQASATAQAOALAMAPBQAOAQBPAQBOBRBQARBSCQARBPAOBNBOEPAOBPBQBPBOANDMBOAPAOANAOGNCOAPBODNBOANBMBNAOAPAQAPDOEPBOANBMCNCMCLAKILBKDLBMAOCMAKDLANAOBNBOBNBOAPDOAPBOCNAMALAKALANAPBODNCOBNGMALBNAQATAWBYBXBVAUASAQAPBOANALAMANAOAPDOAQASBRAPAOANCOAPBOBNCOLNEOHNAMALAMDNBOANAMBNJOAPCOANEOBNEOCNBOENCODPBOGPBQBPBQDPAOBPEQBPIQCPHOBNBOJNCOANNOiNCODNCOKPGOhNkMANBMDNVODNMMALAMANAOENBMBOFPBOBPAOAPAOCNAOBNDOANAPAOBLBNAOAQASAQAKALAOAQANAMBOASATAQALAIAKAOASBRAQARBSARAQAPENAPBQBMAJALANAPCQAUATARAOARBQBOANAPARAPCSAQANALAQARATAQBNAKAOBPARBQBSBPANBPAQARAQARCQARCPAOANBOAPBOBPBOCPCQAOANAMANBMBOHPCOANBOAPBOBPBOBNCMBNAOAPAQBPCOBPCOCNAMBLAMBNBMCLAKAJBKALGMALAKALAMBNAOCMALAKCLANAOAPAOANBOBNBOAPCOBPBOANBMBLAKAMAOAQAPAOCNDOBNGMBOARAUAWBVASARAWAXATAQDPAOANAMANAOAPDOAPAQASARAQAOANDODNAMBNBOCNBOFNGOENAMGNBOANAMBNJOAPBOBNEOBNBMANBOCNBOFNAOEPAOHPBQBPBQDPDQBPBQBPIQCPHOSNMOiNCOBNFOKPEOVNBOINqMCNUOENMMCNAOFMBOCNBOAPCOCPAOFNDOBPBOAMAKAMANAPARAPALBOAQANBMAOASATAQAMAIAJAOARBPAQAPARASARBQAPDMANAPCOAKAMAOBQCTAVASAPARBQBOBPAQARAOBSATAPAMANARASBQAPALAMAPAOARASAQARATASARAPANAOBQAPEQARBQAOANCPAQAPAOAPBODPBRAQANAMANBMBNAOANAOAPBOBPDOCPCOBPBOANFOAPAQBPEOAPCOCNAMALAMBNBMDLAKAJAKALAMANAMBLAMBNAMALAMANEMALBKALAMANAOAPAOBNBOANCOEPBOANCMBLBNAPBODNCOCNAOCNCOAPASAVAXAWAUARAOATAXAUAPCQAPBOAMBNAOFPAQARBPAOANDOBNBMCNEMANBOFNLMGNBOANAMANKODNEOCNAMBNBOGPBOJPAOEPCQBPBQDPDQEPKQBPDQCPBOFPBOJNMOWPDOLNGOKPDNAOUNCOHNlMCNCMCNUODNNMCNAOBPAOBNCOCNAOBPCOBPBOENBMANAOBPAQAPANAKAMANAOAQAPANALAOAPAOANAMAOASATARANAJBOARAQAPBOAPASCRAQCPALAMAODKANAOAPAQCSAVAREQAOBPBRAPBQAVARAPAMAPAQBRBMAKBPBRAQBTASARAQAPCQCOBNAOAQARBPANAMBPAQBPDODPARBOANHOAPBOBPAOAPCOAPAQAPBOCPBNCODPBQBPBQAPEOEMBNAOANAMALEKALAMANAOANAMCNAOBNAMANCMGNAOKNCOBPBOANAMBNCMANAOAPBOCNDOAPBOCNCOAQATAVAYBTAPANAPATASAOANAOAPAQAPAOANAMANCOBNBOAPAQCPAOANDOANAMBLAMBNDMBNEOCNLMGNDMANGOANCOCNBMANDOBNBMANBOBNAODPAOJPBOEPBQBPBQEPCQFPLQAPCQDPBOEPCOJNMOVPFOJNHONNBOTNEOBNAODNmMBNCMBNVOCNPMBNBOAPAOCNAOCNAOBPDOAPBOCPAOBNAMANAOBPAQBOALBNAOAPBNALANAPAOBMAOARASARAOAKBOARAQAPAOBPARBSBRASAQAPALBOANAOAMAJAMAOAQDSAVARAQARCQAPAOAPBQBPAQATASAPBNAPAOASARBLAIAKAQAPBQASBRAQAPCQARBPAMBNAOAQARAPANAMBOAPAQBPBQAPAOANBPARAQBPAOBNBOBNAOBPBOCPEQBPAOCPBOANAOAPCOBPCQAPAQDPAODPBOCPAOANALDMENCMBNAOCNAMENFOCNBOAPBODNAMANAOBPAOBNAMANAOEPAODNCOBPAQAPAOCNBOARAVAXAZAYASAQAPAOAPAOAMBNAOAPBOANDOCNCOAPDOANGMALBMBNDMBNEOCNLMGNCMANLOCNAMBNDOANEOBNBOLNAOBPBOBNAOBPBQAPCQDPDQFPOQEPCOCPDOJNMOVPFOJNHOMNCOTNIOBNnMBNCMBNVOANBOBNBMBNGOANBMBNAOGNAOANAOBPEOAPAOBPCOANCOBPAQBOANAMANAOAPAOANAMANAPBOAMAOARASAQAPAKALAOARAQAPANAMAOAQARBSCRAQAMANDKAIAKAOARAQDUARAOAQARCPBOAPAQBOAPAQASBPBNBQAUARAPAJAKAMAPBRASARAQAPCOAPARASAQANBMAOAPCNBMANAOAPAQDPBNBPASAQAPAQAPAOBNAOGPBOBPBQAPAQBPAOEPBOAPDOBPEQCPAOBPAQCPBOAPBOAMALCMBNAMDNAMBNAODNAMDNBODNAOBNCOAPBODNCODNCOAPBOGNBOCPCOBNCOAQATAVBTARAQAPAOAMCLAMANAPCNCOFNAOBPCOBNBOANBMBLBMBNDMCNFOANNMANAMCNCMANLOCNAMCNIOCNAOMNAOBPBOBNAOBPAQAPDQDPCQFPPQDPJOKNFOCNCOWPFOJNGOANBOKNDOSNRMANfMBNCMANYOCNBMBNJMANBODPAOANDODPGQAPAOANBODPBOANCOAPAOANAMANAOAPAOANAOAQARAQAOALAOAPARAPBMBOAPARCSBRAPANDMAJAIAKAOARAQAPAOARATARANAOAQARATARAQAOBQBPANAPBSAQAOALANAPATAVARAOALBOBRASARAPAOAPAOANAOARATARAOANBOENAMAOCPAQBRAQAPANAMAPASAQAPBQAPAOIPBOAPEQCPBODQAPDQAPAOBPCQAPAQCPBQDPEOANAMKNCOBNCMDNAOFNAOBNBOBPAOCPBNBOCNDOCPCOIPDOANDPARBSARAQAPCNAMALCMAOAPBOANBOCPCOHNCOANAMCLBMANDMDNIMANBOANEOANEMBNJMBNDOCNAMDNHOQNAOAPCODPGQCPDQFPOQCPLOKNEOdPGOINKOINEOSNPMCNfMBNbOCNBMBNOOCPANEOCPCOAPDQAPAOANAOCPCOCNAOAPAOANAMAOAPBOANAOAQARAPANALAOARASAQAPANAMANAPARAQBSBRAPAOBNBMAIAHAJAOARAQAPANARATASANCRATBQAOBQCMBOAQBOAMBOASAWAUAQARANBOAQARAQAPAOANAOANBRATBQAOANAOENCOCQARASARAPAOANAPASAQAPBQAPBOIPAOAPGQAPBODPAQAPDQAPAOBPEQBPCQCPDOBNAMFLCMBNAODNDMDNAOAPCOANBOBNAOEPAQARAQAOCNFOCPCOKPBOANBMANAOAPARBQAPCOANALDMAOAPBNDOAPAQBPAOFNBMANAOBNAMFNDMCNIMBNBOBNDOANLOBNBMDNBODNAMDNGOHNAODNCODPBOEPGQBPEQEPBOAPMQBPMOKNCOhPEOINNODNGORNPMBNAMANeMCNHOANFOCNAOANHOCNBMBNIOANDOCPBNBOFPAQAOAPDQAPBOAPEOFPANBMAOAQAPBMAOARBPAMAKAOASBQAPAOAMANAPARAQBRCPANAOAPAOAMAIAHAJAOAQBPANARATBOANAMARATAUARANBPBQAPAMAOAPBOAMBOAQAUAVAUASAPANBQARAQAPAOANAMAOAPAQASATASAQAOBPAOCNBODPARCQAPAOAPARBQBPCODPBOBPAOBPJODPAQAPBOAPCOCPBOAPAQBPAOBPAQBPEOANBMELAKALAMANBOAPAOANBMBNBMCNAOAPCOBNBOHPARBQAPAOANIOBPBOKPAOANBMCOAQARBQAPAOCNAMDNAPBOANDOAQCPBODNCMANAOBNAMANAMCNDMDNIMBNBOCNCOANCOANBMANDOCNBMDNBOCNAMENGOGNBOCNCODPCODPOQEPOQBPMOLNBOkPCOHNOOCNHOQNOMCNhMDNNOENHOCNBMANBMANFOCNAMANAOCPAOANBOEPGQBPCQCPAOBNAOAPCNAOAMANAQBPAMAOARBPALAJAOARASAQAPBOBQARAQDRAPANAPARAPANAIAHAJAOAQBOANARASATAQAOAMARASATAQAMANAPENAPAOBNCQARAUAVATAQAMANAPAQCPANBOAQARASCRAPEOANBOAPBOBRBQBPAOAPAQAPAQCPBODPBOBPAOCPAQBPBOCPCODPBOHPAOAPAQCPAOBPAQBOBPBOANBMALBMCLBMAOCPBOANAMANBOBNCOGNAOHPAQARBQAPAOANIOBPCOLNBMBNAPARASAQAPAOENBMBOAPBOANAOANBOAQARAQAPAODNCMBNAOBNDMBNDMCNEMANDMBNAODNFOBNBMANCODNDMBNBOCNBMANAMCNAMCNBODNDODNCODPBODPPQDPPQAPMOMNBOkPBOINOOBNJOPNNMDNhMDNMOGNGOBNFMANFOBNBMANAOLPCQAPFQDPAOBNAOAPAQAPANAOAMANAQBOALAOARBPALAKAOARBOAPCQARBQAPBQARAPAOAQASAQANAKAJAKAOAQAPANALAQARAUASAPAMARASAUARAMANAPDQCPBOBPAOAQBVAUAQANAMAOAPBRAQAOANAPAREQBRAQAPCNBOAPBOBQBPAQBPAQARAPBQARAQAPAOBPDOBPBOBPBQAPBOEPAOEPBOBNDOAPBOAPDOCPBOANAOAPBOANAMALCMBNCOAPAOAPBOANAMANAOAPCOPPCOAPAQBPBOANBOANGOBPCOBNBOGNDOAQARBPAOANAOAPBOBNAMANAOAPAODNBPARBQAPAODNCMBNAOBNJMBNBMFNCMBNAODNFOBNBMANBOENDMCNIMGNAOCNEODNDOIPDOAPKQDPcONNBOuNPOANKOPNMMDNLOBNVMBNMOGNWOBNCOBPAOIPCQDPCQARCPAODPAQAPANAOANAOAQBMAKANARBPALAMAOARAQAPAOBPBRBQAPBQBOBQATAQAOALAKAMAPARAPAMAJANAQAUBPALAPATBSAOANAPAOAPBRAQCPCQBPAQASAUAQANAMBOAPARAQANAOAQASAQARBQAPBRBQBPANBPAQAPAOANAPAQAPCOAPASAQAPBRBQAPBQBPAODPCOAPAQAPBOJNAODNDOBPGOENBOAPAOANAMBLCMANAOFPBOANBOAPAQBPCOGNBOEPBOBPCOGNAOBNDOAPBOBNBOKNAOAQARAQAPANBOAPBOBNCOCPAOANBOAPARAQAPBOCNDMBNAOBNAMANHMBNAMGNEODNAMANDOCNDOFNDMCNJMFNAOCNEOENCOIPDOAPKQDPbOONBOtNbOQNKMFNKOCNVMBNLOHNVODNBOJPBQFPBQBRCPAOBNAPDOBNAOAQAPAKAJANARAPANAKAOAPARAQAPAOANAOAPAQARAQAPBQBPBRASAQAOALBPAQASAQAMAIAKAPASAUAPANAOATARASAQAPAQAOAPBRBQARAQBPAQAPAOAQARAUARANAOAMANAPARAQAMALARATARCQAPCQARBPANBPAQBOANAOAPAOAPBOAPARBQAPAQARAQAPBQARAQAPAOEPCQAPBOLNAOCNCOCPDODNFOAPAOAMFOHPBOANBOAQBPDOGNCOCPCOANAOKPAOANDOAPBOINAOFPAQCOANBPCOANBMANBOAPCOANAOAPAQBPAODNGOANBMANDMBNEMALAMENEOBNCMANBOENDOENEMBNMMDNAOBNEOGNBOFPFOBPBQBPFQEPbO7NeOQNKMFNJOENiOHNWOCNBOFPAOBPBQGPAQARAQDOBNAPDOAPAOBRAPAKAJAMAQAOAMAKAOAPARAQAPBOBQDOAPAOAQBPASBPAOALAMAQASATAQAMAHAIAPARATAPAOBREQAPCRCSARAQAPBNAOAQARASBQANAOBQARAPANALAPATASARAQBPAOAPAQARBQAOANAOAQAPAOANBPDOBQARBPARAQCPAQARBPAOBPAODPAQAPCOENAOCPBOANAOIPCOENFOBNFOENCOAPBOANAOBQBPAOAPAOBNCODNCOCPAOANEOEPCQAPAOANAMANAOAPBOKPBOCPBQAPAOANAOAPBOANBMCNAOAPAQAPAOANAOAPAQAPBOANAOBNFOBNAMBNCMDNCMALBMDNEOBNAMANEOENDOENOOANEMBNAOCNEOEPAOBNAOEPKQEPCQDPHQAPSO7NSMBNJORNLMENIOINTMANKOGNAOBNUOHPAOEPCQDPBQASARAQAPAQAPBMAPAQAPAOBPAOBRAOAKAJAMAPANAMAKAOAPAQBPCOAPAQBPAOAPAOAPARAQARASAQAPALAOAQASATAPANAIBOAQASAOANAOBPAOARASBPBQASAQBTASARAPAOAMANAPAQDPAOBQCMANAPASCRAQAODRBQAPAOAPCOBNAOAPCOANAQARBQARBPAQCRBQAOHPAQAPCOBPAOEPCOIPEOANBOBNEOAPBOANBOGNDPCNCOAQAPAODNAMBNAODNDOBPAOCNAOFPCQBPAOAMBNAOAPBOBPAOGPDOBPDOANAOAPBOANAMDNAOAPCOANAOBPBOBNAOBNFOANBMBNAMFNCMALBMDNDOCNAMANEODNDOENOOBNEMBNAOBNIOAPBOHPJQGPAQDPIQAPTO5NSMCNIOTNKMDNIOJNSMCNIOJNVOCNAOCPBOEPBQDPBQATASAQAOAPCNAOAQBOANAPAOBQAOALBMAOANAMALAPAOCPBQDPAOANAOANAQBSBRAQAOALAOAQARATAQAPAJAIAOAQARAOANCLAOBSATAQAPAQASAQARATBSAQAOAMAOAQAPEOAPAQBPAOANAQARBSARBOANBOAQARAQAPCQAPAOANAOANAOAPAQAPANAPAQARAQASARAPBQDPAOENCPEOCPAOEPCODPBOBPEOBNGOCPBOANBOFNBMANAOAPBOANBOBPAODNAMALAMANIOBPAOEPDOBPAQCPANAMBNAPCOAPBOFPAQAPBOCPCOANBPBOANBMDNAOAPBOBNAOBPAOFNHMELCMBNBMBLAMENCOCNBMANEODNDOENLMANBOBNHOBNIOAPCOGPJQGPAQCPeO3NTMENHOTNKMDNIOENAODNTMANJOJNMMANGOANEOBPAOEPDQBPAOARASATAQAPAOAPEQAPBOAMAOAQAOAMBNAOANALAMAPAOCPBQBPAQAPAOANAOBQBTBQBNALAOAQARASAQAPAKAIANAQARAPAMAOANAJBNAPARAQAPAQATARASAVBTAQANAMAPARAOBPAOCPARAQAOANAOAQBPARASBPANBOAPAQBPBQAPBOANAOBNAPCOAPAQARBSARAQAPAQCODNAOCNBOAPDOCPCOCPBQAPAOCPBOBPBOAPCOANGOCPCOANBOBPAOBNCMANAOAPBOANBOCNBOANAMBLBMBNFOCPBOANAOAPAQBPBOBPAQCOAMALAMANAPFOEPBQBPAOCPCNBOAPAOBNCMBNBOAPBOANBOKNFMTNBODNHOCNEODNLMCNAOBNHOBNIOBPCOFPJQFPBQBPfOaNAObNSMFNHOTNKMCNIODNCODNfODNAOCNaOHPEQBPAQARASARAQBPAQDPAOAPBMAOCMBPAOAMAKANAQAOANAPAQAPAQAPDOANAOAPBQATAUAQBLBOARAQASARAOAMAJANAQCNAQANAIAGAJAOAPCRASARBVAWAUARANAMAQASAPAOBPANBPARAQAOAMANAQAPAOAPARATARAPAOBPEQBPAOANBOANBPBOBQBRASARAQDPAOINAOAPDODPBODPAQAPBOCPEOBPCOANDOFPCODPBOANFPCOANBOCNBOANAMALBMCNEODPBOANAOAPAQBPBOBPBQAPANAMBNAOAPEOFPBQBPAODPAOANBOCNDMANBOAPBOBNBODNAOANAOCNFMDNAMKNAMENAOCNIOCNEOBNNMCNKOANJOCPBOFPBOAPIQDPROAPQOZNBOaNSMGNIOTNKMANHOENCOENfOCNBODNEMBNSOGPFQBRBQEPBRASAPAOAPBNAOBNALANAPANAMALAOAPAOBPAQAPAQAOBQAOANALAMAQBSAUATAQAPALAKANASAQARASAOANAKANAQBRAPAQBJAGAHAMAQAPBSAPANARATAUAVARANBQASAQAOBPANAMAPARAQANBOAQBOBPASBQCPBOAPBQBPAOBNAPAOANAOAPAOBPAQCRAQAPBQAPAOANCOAPCODPBOFPAOBPFODPDOCPBOANDOFPCOEPAOANFOAPBOANBOCNDMALBMBNGOAPAOBPAOANBOAQCPAOCPBQAPANAMBNAOCPCOGPAQBPBODNDOBNAOANBMANBOAPBOANBODNDOCNDOANAMALAMANDMHNBMENAOBNFOBNBODNTMCNDOANCMANLOLPAOBPIQDPROAPQOZNBOCNBORNBOBNRMINHOUNROFNCOENfOBNCODNEMBNEMANHMBNBOAPAOEPCOAPCRCQCRBQANAQASARAOCNAOBLAKANAQANALBNAOCQARAPAQAOBPAOALAJALAQARAUAXAUAOANAKBNARAPARASAOANAJAMAPAQARDMAHBKAPAQBSARAMBQAUBRANAOARASAQAPCOANAPARAPAOBPAQBOANAOAQARDQAPAOAPBQAPBOCPBOBPAOBPAQBPAQARAPDOANCOAPEOAPBOCPAOCPAOBPDQAPBOANAOBPAQBPAOFNAOCPBOANAOBPCOEPAOANFOBPAOANBOCNDMALAMANAOBNEOAPBODNBOAQBPBOCPAQBPANAMANAODPBODNCOAPAQAPBOBNIOBNAMCNAPAQAPAOANAODNDOCNDOBNALBMANEMINBMCNAOANFOCNBODNTMENEMBNKOCNAOEPAOFPJQBPROBPQOZNHOMNYMKNHOTNQOHNBODNgOBNCOCNFMBNLOAMALBOBPBODQARAPAOANAOAPARCQAOBRASAQAOAPARBPBOANAOBKAJANAQAOAMALANBOAPARAPCODLAJAKAPARAVAYAVAPANAKBOARAPBRAOANAKALAOAPAQARATARAOAKAIALAOAQARATARAQAPBSAUARANAPAQBPENAQARAPANAOAQBPAOAMANAQBSBRAQAPAOAPBQAPCOBPBOAPBOBPERAQAOAPAOBNCOBPGOCPFOAPEQAPAOANBOBPAQBPAOBNBOANAOCPAQAPAOANAOAPCOCNAOBPAOANGOBNBOGNAMCOCNEOAQBOCNCOAPDOCPAQBPANBOGNGOAPDOANJOBNAMCOAPAQAPANBODNDOCNAMANBOBNALBMANEMBLBMENBMCNCMCNAODNBOENSMFNCMBNLOCNBOKPJQBPXOEPHOYNIOFNAOENYMBLDMFNLOPNPOONgOBNCOBNFMCNJOBNALBMAOBPAODPARAQAPANAMANAQARASAQAOANAQCPAQCPAQAOANBOALAKAOAPANAMANCOAPARAQAOAPAOCNALAKBOAPAVAYAWAPANAKALAPARAPCOANAKALANAPBRATBPANALBNAQASAUARAQARBSATAQANAPARAPANAOBPBOAQASAPAMANAQARAQANAMBQBRASARAQAOBPCOAPAOCQBPCOCPBOAPAQBPAOBNDOGPAQAPAOBPFOAPGOBNBOAPAQAPCOBNCOBPBQBPAODPBOBNBOCNGOCNBODPBOANAMBNAOCNBMBNAPAQAPAOCNCOAPCODPAQBPAOCPAODNIODNHMANBOANAMCNAPAQAPAOANBOCNEOBNBMANBOBNAMDNDMINBMBNDMBNBODNBODNUMENCMBNKODNBOMPNOAPQOHPGOXNSOBNYMBLEMFNMOONOOONdOANCOANLMENGOCMALAMAOHQARAPBLAMAQARASAQAPAOAQAPCQARAQAOAQBOBNALBOBNFOARBPAQAOAPAOANAKBMANAOATAXAVAQANAKAMAQBPBOBMAJBLAPAOASATBSAOANALANAPASAUASAQARBSATAQANAPASARAPAOBQAPANAPASAQANAMAOAQARAOAMBOAQBSARAPAOANAOAPAQANBOCPAQAPAQAPAOBNAOAPAOAPAQAPCOANAMBNAOAPAOEPDOBPNOCNAOAPDOCNDOAPBQBPAODPBOGNFOCNEOAPAQAPAOANDOBNBMCNAPBOANEOIPAQBPAOCPBOANAOANIOANKMANCMDNAPCNDOBNEOBNEOBNAMENCMLNEMBNAODNBODNGMANNMBLAMBNCMBNKOCNCOMPNOAPFOCPFOLPFOVNtMBLGMENMOONNOPNcOBNBOBNMMDNGOCMBNAOGPDNAMAPAQBPENBPARBOAQAPAQASAOAKALAOAPANAMAODPAQDPAOBNAKALAOANAPARAUATAQANAMANAQBRASAOBLAHAIAKAMAOARATAUBPBMCRASBRBQARASAQAOAPAQCPBQBOAPARAQAOANAOAPAQAOAMBNAOAQARBPAOAMAOAQBOAMAOCPCQAPBOANBOCQAPAOAPBOAMBNAOAPAOFPCOBPLQAPAOGPBODNDOAPDOEPBOFNFOCNBMANCPAQBPAOANCOCNBMCNAOBNFOFPAOBPAQAPBOCPBODNXMCNAOBPAOANDOBNEOBNEOANCMANBMANDMKNDMCNAOCNCODNEMCNOMALAMBNCMCNJOCNCOMPAOBPQODPDORPBOVNsMBLGMGNMOMNNOPNdOANBOCNMMENEOCNAMANAOJPBOAPDOAPAQAOANAMAOAQBRBQARAUAQALBPBNALAOBQAPBQBPAQAPCMALAOCPARBSAQANAMAOAQARATBPANAJAGAHAJAKAOARATAVBSAQBNAKALAQAOAQASARAQARAQAPAQDPBQAPANAOARAQAODPAOANDPBRAQAOANAOAPAQAOANAMANAOAPFOBNAOCPAOCPBNAMBOAPBOLPDQAPEQBPBOGPAODNCOAPBOHPBOENGOCNBMANBOAPAQBPAOANCODNAMBNAOBNHODPBOAPDOCPCOENWMBNBOCNFOBNDOANJMANGMFNAMDNDMCNAOCNBODNEMDNNMBLAMANDMCNKOANDORPIOAPDOFPBOSPCOEPBOMNsMBLHMGNMOLNNOQNTOBNKOCNOMCNEOCNAOGPAODPEOAMAPAQAPBNAOAPAQBRAPARATAQAOBPAQAOAMAOBPAQBPCRAPBMALAMAPAOAPAQARBQAMAKBNAQASAUBSAOALAGAIBHAMAQATAVAWAUARAQAPALAIAKANBQASAQARAQBPAQAPAQAPBQAPAOBQBPCOAPANFPAQBOANBPBOANAMBNAOCPBQAPAOAMBNAOBNBOAPBOANAMANAPBOMPBOAPAQBPDQBPAOBPCOCPBOGPAOEPBOBPBOFNEOENAMANBOAQBPAOBNBOBPBOANAMBNDMANBMANDOBPHOANBOAPAOCPBOANKOANDOANEMBNEOANVMBNGMENBMDNDMBNBOCNBODNEMENFOBNEMDNCMENNOKNAOHPGODPBObPAOEPCOLNsMCLHMHNLOKNNOQNUOCNJOBNLMANBMCNDOOPBOBQBPANALAOAPAOBPCNAPARBSAQAOCRAQANBQAPEOAPAQBOALAKAMAQCRBSAQAMAJAKAOAQASAUBTAQANAIBJAGAIAQARAUAWAVAUARASAMAICMANARCQAPBOBPAQAPAQBPBRAQDPBNAOBNDOAQAPBNAOCNBMANAODPAQAPAOANAMANAOBNAMANAOAPAOBNBOAPAOCPAOKPCQBPDQAPAOBPDOCPDODPBOANBOBPBOBPBOBPBODNCOENDPAQBPAOANCOAPCOANBMANCMFNCOBPGOANCODPBOBNHOANAOCNeOBNFMDNEMENBMDNHOBNAOENFMENFODNCMDNAMHNMOJNBOHPFOnPDOKNsMDLHMHNMODNTOQNUODNVMANCMCNDOHNBODPCOAPARAQAOALANAPAOAPBRAQAMANAQBRAQAOANAPASAQANAMAQBPCOBPAOCMAKALARASAQCSAQANAIAKAOAPARATAUBRAOALAIAJAHBMAQASAVCTASAPAJAHAGAIAMAPARASAQAODPAQEPARAQAPARBQBOENBPBQAPAOANAOCNDOANBOAQAPAOBNBOCMANAOBPBOBPAOEPAOCPAOFPCQCPCQAPAOBPFOCPCOCPBOANCOBPAOBPIOBNCOENCOAPDOBNAOBPAQAPAOANAMBNBMHNCOBPFOANFOAPBOBNBOANDOGNcOCNFMDNEMALBMBNBMDNHOANCOANAOANFMENFOCNAOANCMONJODNAOFNBOIPDOGPAOPNCONPDOKNrMELIMINKOCNUOQNTOENUMANDMBNDOCNAOBNAOIPCRAQAPALANAPAOAPBRAQAOAMAQAPARAPANAKANASBPANAPAQBPAOCPAOANAOANALAMARCQBSARAOAKAMAPAOARASBUASAPAOALAJAHBJAPBUBVCRAMAJAHAGAMAOAQASAQAOAMALANAPAQFRAPAOARASAQDOBQAOAMANAPAQBPAMANBOANAOCNCOAPBOBNBOCNBOCPDOANAOFPBOFPAQAPCQEPAOCPCQBPAOCPCOCPBOANBOFPIOANCOFNCOAPCOEPAQAPAOANAMCNAMINCODPCOBNDMANAOINBOHNEMANGOBNGOANFOANDOANDMCNDMBLBMBNBMCNIOANLMCNGODNAOANBMPNIOLNBOIPDOIPCOKNDONPCOKNrMFLIMJNgOQNLOANGOFNYMBNDOMNBOAPBQARAQAPANAPAQAPAOAPARASAPAOAPAOAQAPAOAKANAQARAPBQCPAOCPBOBLBNARBQAPBRAQANAMAOCQARBSBQAPANAKAHAIAJALAPARASAUAVAXATAOALAHAGAJAOBRBOALAKBNAQAPCQARASAPANAQARAQCRAPAOAQAPAMBQARBPANAMANAOGNBPCOBNBOBNAOFPBOANAOEPAQAPAOAPBOCPAQBPCQEPAOBPCQCPAOANBOAPBOENBOBNBOBPCQCPDOANCOCNAOANDOBPAOFPBOANBMANBMCNAMFNDODPBOANDMBNAOJNAOEPAOBNEMANGOCNEOCNDOANCOCNEMBNDMALCMANCMBNIOBNLMBNGODNBOANBMBNBMLNHOMNBOVPBOKNEObNqMGLIMJNgOQNJOCNFOHNSMANDMANEOLMBNAOAPARBPAOANAPCOAPARASAQAOAPAOAQAOBMANAOAPCQBPBOCPAOCLBOAQARAPBOAQAPAOANAOBPAQARAQCPBNAKAIBJAKANAPARATAVAXAVAPAOAJAHBMANAPARAQALBJALAPAOANAOAQASBRAPBRBQBSAQAOAQAPANAMAOARASAPAOANCOAPDOANBOBPAOBNBOBNAOGPAOANBOAPAOBPAQAPDOCPAQARAQAPCQBRAQAPBOBPCQBPAOANCOAPAOENBOBNCOAPDQCPCOBNCOBNFOLNFMCNAMFNFODNEMCNAODPCOGPCODNAMBNFODNDOCNIOCNKMALBMBNNOENIMBNHOCNBOANBMANCMKNBOBNEOMNBOENCONPBOINHOaNsMFLGMKNgORNHOFNBOJNRMBNIOFNAOBPBOAMALAMAOAPARBPANBPCOAQDPBQAPAOBNAODPARAPBODPAOBPAMALAOAQBPAOBPBOANAOCQARAQBPCMAKAIBJBMAPARATAUAXBRAOAMAJAHAJALANAQARAPALCNAOBNAOARCQBPAQCSARAQBPANBOARBQAOANCOAPEOANBODNAMANAOANBOAPAODPAOANBOAPAOBPAQAPEOBPBQCPCQDPBOBPCQBPAOANCOFNCOBNCPEQCPCOBNAMANAOBNFOCNBOCNJMANCMFNFODNEMCNAODPDOFPCODNAMBNFOAPBOANCODNIOCNAOANBMANFMDNDMCNCMBNCOENIMBNHOCNJMJNBOBNEOLNDOCNEOWNIOaNsMFLGMJNhORNHOFNAOKNRMANIOFNAOCPAOANALBOBRASAPANBPAQBPAQAPDQCOCPAOANAMAOARAQAPAOANAOBPAOCMBOAQBPANBPEOBQARAQBPBNALAKAIBJBKAPARATAUAWAYAUAOBJAIAHAIAKANAQARAOALAMBNBOAPARAQARCPBQBSBRAQAPANBOAQCOANBOAPEQAOGNAMANAOANBOAPAOCPBOANBODPAQAPAOAPCOBPBQDPCQDPBOBPEOANEOENCOAPANBOAPDQCPEOANHMANAODNBOBNBMBNLMDNHOBNFMBNAODPAQAPCOEPDODNAMBNDOCPBOHNHODNAOANBMANEMDNBOANBMCNBMCNCODNIMBNIOCNOMENAOCNEOHNBOBNDOBNHOTNKOZNtMVNhOSNFOSNQMBNIOIPAOANALBNAOARASAPANAOAPBQCPAOAPBQBPAOAPANAPBOAMAOAPARAQAOANAOBPAQAOAPALAMAPAQAPBNBOBPAQBOBQARCPBMAKAJAIAJAICOARASATAVAYAVARAOAMAJAHAGBMAOARAQAOANAOANBOAQARAQARAQARAQDRASBRAPAOANAPAQBOANAOANAOAQBPAOAPAQAPAOBPBOBNAMANAOANBOBNBOAPBODPAOBPCOAPBOCPMQAPAOCPAOBPBOANEOENCOBNBOAPLOANGMBNBOBNCOANBMDNKMDNCMANDOCNHOCPBQAPCOCPEODNGODPBODPAOCNHODNCMCNBMFNDMDNBMBNDODNIMBNHOCNPMENAOCNEOHNSOONOObNWMANTMUNiOSNEOUNVOANCOIPAOBMBNAOAQASAPANAOAPAQAPAQBOBPAOAQARAPAOAPANAPBOANAMAPAQARAOCPBQAPBLBQBPBOANAOANAOARAQAPAOBQASARAQAPANAKAIBJBIAHAMARBSAUAXAVASAOBLAIAGAFAIAOAPARBPAQAOANAOAPARASBQFRASBRAPAOBPAQBOANAOANAOAPAQBOBPBOBPBOAPAOANEOBNCOAQAPBOBPAOBPCOFPNQAPAOINEOENCOBNBODPJOBNAOBNBMBNGOANBMDNHOBNAMBNDMBNDODNFOBPAOAPFOBPFODNEOGPAOGNBOANFOCNDMKNDMCNIOCNTOCNOMFNAODNCOHNUOFNCODNPObNVMBNLOBNFMSNDMBNdOTNDORNCOANLMBNGOANCOHPBOBMBNAOAQARAQANAOAPAQAPAQBODQBPAOAPAOAQAPAOAPANAOAPAQAPAOAPBRAQBPANAMAPBQBOANBMAOASATARAQAPAQARBQAOANALAIBJBIAHAKARAQBSAWAVASAQANAOAKAHAFAHALAOARBSARAPANBOAQARATARAPBQARFQAPAOAPAQBOANAOANAOAQCPAOBPEOAPBOBNAMANAOBNCOAPAQAPDOBPCOGPBQBPAOAPEOAPCOJNDOFNCOANBOEPBOBPGODNBMANHOANBMCNCOHNFMCNDOENBOANBOAPBOAPFOAPBQBPBOENCOJPAOFNAOBNNMJNCMDNROBNLOBNQMENAODNCOCNBOCNVODNXObNVMBNKOCNGMRNDMBNdOTNBOSNDOBNJMCNFOBNAOIPBOBNBOBPARAQAMANAPARAQBPAOANBOAQARAPAOCQAPAOAPBOAPAQAPAOAPARBQBPBNAPCQAPANAMBOARATCRAQBPAOANAMBJAIEKAOAQAOARAVBSAQAPANBJAHBJANAPARATASAPAOAMANAPARATASAQAPBQASARAQBRAQAPAOAPAQBOANAOCQCPAOCPBQAOBPDOAMBNAOANCOAPDQAPAOBPCOHPBQBPAOEPDOLNCOBPBOCNAOBNAOCNBOFPBQAPCODNDOANEOBNBMBNDOGNGMCNDOCPAODNAOBPAOBPEOBPAQCPBOENAOFNAOLNAOBNHMBNDMJNBMENQOCNLOANMOANEMDNAODNCOBNCOCNLMBNjObNVMBNJODNHMMNAMCNDMBNdOTNAOVNAOCNHMCNGOLPAOEPBQBPAMBPARBPBOBNBPAQAPAOCQAPAOAQBPBQAPAOAPARCQAPAOBQAPAQARAPAOAMALAOARAQASAUATASARAPANBMBKAIEKAOAQANAQAVBSAQBOANALAIAHAIAKAPAQASBPBNBOAQASARAQAPBQARASARAPBQAPCQBOEPAQARAPANAOBPBQAPANBOAPAQAPANAMANFOAPCQBOBPAQAPAOHPBQBPAOFPCOFNAOANCODNBOAPBOANAOHNBOFPIOANCOBNBMANBOANCMANEOFNBMANCOANAMBNDOCPBODNAOEPEOBPAQCPAOFNAOBPBOBNAOBNAOENAOANAOCNHMCNCMFLBMJNLOCNAODNIODNLOBNDMDNBOCNJOBNFMBNCMCNjOcNUMBNIOFNHMENAMENBMBNEMANLOANQOuNCMANCMDNHOKPAOCPDQBPALAMAPARBPBOCNAPBOCPAQAPAOAPAQDPAOAPARCQBNAMAOAPBRAQAOAMALANAQBPASATAUBPAMAJBKAJAIAKAJAIAJALANAPANAPAUAVARAQBPAMANAJAIAHAIANAQARBOCNBPARBQAPAQBRCQAOAPAOAPBQAPAOBPAOANAOAQARAQANBOAPDNAMANAOAPBNHOCPBQAPAOAPBQAPAOGPBQCPAOANAODPBOGNDOAPBOBNBOAPAOANBOEPBOANAOGPHOBNBOCNBMANAOBNCMANAOBNBOENBMCNBOANBMANDONPFOBPAQBPBOIPBOBNAOBNAOENCOBNIMCNCMCNAMBLBMJNCOANGODNAOCNIOENKOBNEMDNWMHNiOeNdOGNOMANAMBNCMANROBNOOuNDMANAMFNHOJPBOBPBQDOALBPASARAOBNBOANAPBOCPAQAPAOAPCQBPAMAOARBSARAQAOALAMANAPASARAPANALANAPBOAQARATAVARANAJAGAHAGAHAKBIAKALANAPANAOATAUAQAPAQBOANAMAJAIAJAMAQBRAPAOEQBPBQBRAQARAQAPAOCPAQAPAOAPBOANAOAPARAQANBOBPBOANAMBNAOAPAOCNEOCPBQAPBOBPCOCPAOBPAQEPAOFPAOEPAOBNCOBPCOANBOCMANAOBPEOANAOGPBOBPDOANCOBNBMBNAOBNEOBNAOENBMDNBOANGONPFOAPBQBPCOIPAODNBOENCOBNIMCNCMBNCMALAMBNAMHNCOANGOCNCOBNIOHNGOCNDMENWMHNhOfNKOBNPOHNVMANQOCNNOuNFMGNHOIPCOAPBQBRAQAOALBNAQASAPAOANBOBQAPAOANBOAQAPAOAPAOBPAQBNAMARBSBPBLAKAMAOASATAQANAMANAPAOBPAOAPATASAOANAIAGAFBIAKBLBNAPAOAPARATAPAOAPBOBNALAJAKANAQBPAODPAOBPCQAPAQCPBOANAOAPAQAOCPANBOAPARAPANAOANAOBPAOANAMALANCOCNAMBNCOBPEOBPBQAPAOEPAQFPAOKPBOBNBOBPDOBNAOBNAMANAOBPEOCPAODPBOCPDOANCOBNAMCNAOBNDOINAMDNCOANFONPJQBPCORPAOBNAODNIMBNIMDNAMGNDOANFODNJOBNAOINNMFNVMGNhOfNLOANPOINVMANQOCNNOHNCOiNFMHNGOIPCOBPBQARBPANAKALAQARAQAOANBOAPAQAPAOANAMAOAQAPAODPAQBOAMAPARBTAQAOANAKBNAQATARANAMANAPAOAPBNBPBOANBIAFAEAGAJALAMBOAPCQARAOGNAKALAOAQAPBOCPAQAPAOCPDQAPAOCNAOAPAQAOCPAOAMAOAQARAPANAOANBOAPAOBMBNDOBNAMBNCOBPAQAPDOBPDODPBQAPAQDPCOANAOFPCOBNAOCPDOENBOBPFOBPCOAPCOCPDOBNEMDNAOANDOINAMCNKODNBODPAODPBQBPFQCPCOQPAOINRMKNLOENIOFPBODNAODNIMFNLMANKMENBMANeOfNLOANOOJNVMANQOCNaOgNFMHNGOHPDOAPBQARBQAPAMALAOAQBPAOANAOAPDOALAOAQAPAODPAQBPAOBPARASARAOBMAKANAQASARAOANBOBPAQAOANAPAOANBOBIAFBIAKAMAOAPBQBRAQAOCNBPCMBOAPCOCPARAPAOCPCOAPBOANCOAQAPAOENAOAQARAOAMAOANAMANAOCNAMANEOBMBNBOCPFOCPCOBNBOAPDQDPCOANBOAPBOBPCOIPBOFPDQBPAOCPCOAPCOCPCOCNAMANCMDNEOJNAMBNLODNBODPBOCPBQBPFQDPBOPPBOINIMANHMINNOGNGOFPBOINIMGNAMCNFMBNKMINcOfNbOKNVMANvOeNGMINEOHPGQDPAOAMANAPAQBOCPBOAPBOAMAPDOBPAQBPCOARCPAOANALANAQARAPAOANBOCRAQAOBNAKAMAOBMAIAHBIAKAOARAQARCQANAOBNBPAQBNBOAPAOAPBOCSAQAOBPCOCPAOANBMAOAPAOANAOBPBNAOAPAQAOAMANBMANKOBMCNAOAPAOBPBOAPHOBNBODPEQBPBOANBOAPBOBPBOOPCQBPAQBPBOBPAQAPFOBPCOCNBMBNAMENDOAPBOGNBMBNCOCNFOIPCOCPBQBPFQDPDONPAOGNAOBNHMBNHMDNSOBNAODNFOGPBOINIMKNDMDNKMJNbOfNaOLN/NHOdNFMINFOHPGQCPAQAOANAPBQAPAOFQAPANBPBQAOBPARBQAPARAPARCPBOAMAPARAQAOBNBOCPAQAPAOANAKAJAKALAMANALAKAJBMASEQAOBNBOAQBRAOAPAQAPAOAPCOBRBPAODNBOBNCMAOAPAOANBOAPBNAOAPBNAMANAMBNIOANAOBMCNAOAPBOBPAOCPGOANCOEPDQAPCNBOAPFOINAOEPBQGPBOAPIOBPCOCNAMFNGOAPBOFNBMCNBODNFOJPBOBPJQEPEOBPBOPNLMBNIMCNFOBNNODNFOFPBOJNIMMNBMDNDMBNEMLNYOgNZOMNwMANWOcNFMHNFOJPGQAPCOAPBRAQAPAOCNAOAQBPAMANAQBPAOAPARBQBRBQARAQBPBMAPARAQAOANCOAPFNAMAKAJAIAJANAOBNALAMARATBSARAQAOBNBOAQBRAPAQARAQAPEOARBQBPAOBNAMAOBNCMANAOBNBOAPBOBPAOAMBNAMBNCMBNDOANAOBMCNAOAPBOGPBQAPDOANBOBNAODPGOCPEOINBOEPAQBRAQEPLOBPBODNBMANAMBNDOANCOAPBOFNBMCNBODNEOGNAODPAOBPIQEPFOAPCODPAOJNLMDNIMBNFOBNNODNAOBNCOFPBOCPAOFNIMCNAMFNAMHNDMANGMKNXOhNYOMNwMBNWObNFMINEOJPCOAPGOAPAQARBPCOCPARAQANAMAOAQBPAQARBQARASARCPAQBPANAOARAQBOANBPDOAMAOBMANAKAIBKANAPDRBSBRAQAOAPAOBPAQAPAQAPARASARAQDPAOAQCRAQAOBNALANAOANCMANAOANDPBOAPBOAMANHMCNBOANBOANAMCOKPAQAPAQAPBOANBOBNAODPHOBPFOBNAOAPCOANCODPAQEPBQBPIOAPAODPAODNJOBNBOINBMCNBOGNBOOPIQEPEOBPCOCPBOKNKMDNEMBNBMBNFOBNKOBNAOPPBOCPAOGNAOBNEMBNDMCNBMHNMMKNUOjNXOLNLOANlMBNWOaNGMHNGOIPHQAPAOAPARASBPEOAPAQBPAMBQDSARAQARATASBQDPAOANAOAPAQBNAOANAPCNAMBNCOAKAIAJAKANAOAQBRAQARCQAPDQARAPBOAQASBRBQARAQAPARBQARAQAPBNALAMANDMANAOANAODPAOAQAPAOANGOBNAMCNAOANFMANAOJPCQAPCOANAOBNAOEPAQAPBOBPCOAPCOAPBOCPDOANBOBPAOAPAQEPAOAPAQBPHOONCOANBOCNBOINBMDNBOANBOCNBONPIQEPFOBPBODPBOKNJMENDMBNCMBNFOANLOBNAOBNAOMPAODPAOKNDMBNEMANCMENBMANNMJNSOlNWOKNMOBNlMBNWOZNGMHNHOHPJOBQASATARAPCQAPCRAQAOALANAPAQARASARAQBRASATAQBPAQAPBOANAPBRAQAPBNAPBNAMBNBOCMAKCMAQARASAQBRAQCPAQBRBPAOBPARBQARDQARBQARAQAPCMBOANAMCNAOANAOFQAPAOANAOBNDOAPAOANAMBNAOANCMANDOENAODPBQCPCOIPAQAPBOCPFOBPBOCPDODPDQDPBOAPAQCPBOCPBOONCOANBOAPAOANBOHNCMCNFORPJQDPGOBPBODPBOLNJMDNIMBNKOANGOBNAOTPBOLNBMCNEMANCMDNCMBNMMJNROmNVOKNMOCNlMANWOZNFMANAMGNIOIPDOAPDOAPARATASAQAPAOAQBPAOAQARAQANALAOAPAQASARAQBRASATARAPAQARAPCMALAOAQARASAQAOAMAOANAMBNAMANAOBPANAKAJAKAOARASAQAPAQGRASAQAOBPAQBPARAQARBQARDQAPCNAOBNAMCNAOHQAPAOANAPAOANDOAPAOBNAMANAOANCMANBOHNAOCPBQCPAOAPBOIPAQAPAOBNAOAPEOCPBOCPDOBPCQAPAQBPDOBPAQBPBOEPAOLPBOBNDOAPBOANBOHNCMCNFORPJQDPGOAPAOFPBOLNAOANHMDNUOCNEOCNAOTPBOBPAOINBMCNEMANBMDNDMBNPMGNMOANCOnNUOLNMODN8OYNFMINJOJPIRBSBPCQBPBRBQAMALAOAQARBQDTASAOAQBRAQAPANAKANAOARAUATAQANAMCNBMANAOBPBNAKBNAQARAPBQAPAQERASAQAPAOAPAQAPAOAQCRBSBRBQAPCOAPAOBMALAMANAOBPAOEPAOCPAOBNAMANAOAPAOBNCOANCMANBOCNAOFNAOBPAQCPAOBPBOHPDOANAOBPEOBPCOCPAOBPFQDPAOBPAOBPAQAPBOBNCORNDOAPBOJNMOQPKQDPHOFPBOONHMCNLMBNHOENCODNAORPFOINCMBNDMGNXMENNOANBOoNTOLNMOFN7OXNGMINJOJPHQBSBQBPAOAQAPBRASAPAOALAMAPARAQBPCSARAPAOAPASBQAPAMBOAPATAUARAPAMALAMANAOAMANAOAPBOBNAMAOAPAQAPAOAQAPBQDRASAQAPBQARAOANAOAPAQAPAQARASAQDPAOBPAOBMALAMANAOBPAOFNBOAPBOANAMBNAODNJOANCOENBOAPBQBPBOAPDOFPAOAPCODPDOCPCOBPBOBPFQCPBOBPFOCNCOLNAOGNBOINBOANNOOPMQDPGOGPAOPNWMBNHOLNAOCPBOFPCODPFOHNEMANDMGNXMDNNOsNSOLNNOFN7OWNHMINJOIPEOBPAQCRBQBNAPCQARAQAPAMALAPAQBPBOAPARCMAQASATAQAPANBPBRATASAQAPALAKANAOANCPBNBODPAOBPAOBPAQBRASBQAPBRAQANALAMANAPCQCPAQBOANAOAPBOANAMBOCPAOENDOAPAOANCOGNCOANBOANFOENBOAPBQAPDQCPCOBPCOAPBOFPCOCPBOCPBOAPLOAPGOCNDOJNBORNPOOPNQEPFOXNVMCNGOQPBOEPGOBPEOHNJMCNbMCNNOtNBOBNNPBOKNMOGN6OWNIMHNKOHPFOBPAQCRASAQAOCPAQARAQAPBLANAQAPFQARANAMARAUARAPAOBQCRBQBOALBOANCOAPAOANAOBPAOAPAOANAODPAQARATBPBQASAQAMAKALANAPAOBPAQAPAOAPBOCPBOANCOCPAOANAOBNEOCNCOAPAOBNBOBNBOFNDOFNAOBPFQEPBOBPDOHPBOANBOFPVODNCOKNCORNNOOPOQEPCOXNTOBNCMBNFOSPBOEPGOCPCOINJMBNMOBNAOANLMCNMOuNBOCNLPCOKNMOGN6OWNIMGNKOHPDOEPAQAPAQASARAQAOBQEOBNAQAPGRAOALARATASAPBOAQCRBQAPAQAMALAMANBOAPBNBOAPDOANAOANBOANAOARATASAQAOARASARANALBNAPCOAPBOAPAOCPBOCNCOAPAOBNBOANCOANAOCNBOBPAODNAOFNAODNCOHPEQGPBOBPDOBPBOCPBOBNBOFPIOBPHQBPAODNCOGNBOBNBOKNAOGNGOANEOMPRQDPCODPBORNTOCNCMBNFOINAOIPAOFPFOEPAOINKMBNLOBNBOBNAOCNGMBNMOzNCOBNGPDOKNKOJN5OVNIMHNKOGPDODNAOAQAPAQASBPBNAPARAPAOAPBOCPCQBPBRAQALAMAQASAQAPAOAPAQBRAQDOALAMANBOAPBNBPEOANAOANEPASBPAOAQASARAOANBPAOBPBOCPAOANAOAPBODNBOAPAOCNAOANCOANAOBNCOGNCODNBODNBOJPDQDPDOCPCOBPCOCPBOANCOFPFOAPAODPBQAPDQBPAODNCOBNAODNBOBNBOKNBOFNFOBNDOMPSQDPCOCPEOPNTOCNCMANFOJNAOQPEOIPBODNXOCNBOFNGMANMOdNAOANAOTNCOCNEODPAOKNJOKN4OUNIMINLOGPCOCNCOAPBRASAQAPAOBQBPAOAPCOBPBQBPAQARAQAMAKAPAQARAPCRAQARBQBRAPAMBNBOAPBNAOAPEOANAOANCOCQARAPAOAQASARAPBQAPDOCNAQAOANAOAPBODNBOAPAOAPAOCNAOBNBOBNCOINAODNCOAPBOLPDQDPDOHPDOBPBOFPBOCPEODNAOBPFQBPBODNBOCNAOCNBOKNAODNAOGNEOCNBOOPSQDPDOBPDOQNTOBNKOcPCOIPCOCNXOCNBOGNSOdNFODNAONNBODNDOQNIOLN3OUNJMHNMOBNBOBPAQAPAOBPAOANCOAPAQASARAPAQAPBRAQAPCQBOCQBPARBSARAKBPASAPBOAPAQARASARAQBPAOANCOAPBOAPFOANCMBOAPAOAPDQDRAQEOAPAOANAPANBOBPBOCNBPAOCPBOANAOBNAOAPBNIOFPAOANCOBPBOCNAOGPCQFPAOAPBOHPCOCPBODPDOCPDOENAOBPIONNBOXNEOSPVQAPKOQNDOCNMOBNDMANFOcPCOIPBOENVODNBOGNROXNEOANPOPNCOQNIOLNwOBNEOVNJMGNNOANCOAPCOBPBOANAMANAOAQASARAQAPCRBQAPBRAQAPAOBPCRBSARALAJAPARBPAOANAQAPASBRAQAPAOHPAQAPBOBNEMAOAQBPAQAPDQARASARBQBRAPBOANAOANAPAQAPAOAPCOANAOAPAOANAOAPCOEPBOANDOBNCOHNCOBPBOJPDQEPAOENDODPBOCPBOBPFODPBODPAODPHOONAOYNCOANAOOPkORNCOENKOCNDMANEOYPAODPCOBNAOFPBOGNTOLNSOXNVOgNLOLNwOaNLMFNNOANCOBPCOBPBNCPBQARAQAPAQAOARCQAPAQARAQAPCOBSARAQASAQAKALARASAQAOANAOAPARASBRAPAOAPCODQBPBOBNAMANAOANAMAPARAQCPDQARASBRAQBPDNAOBQBPAOCPAOBPBNAMAOAPEOANAOENAMANAOCNBODNAOCNCOBPBOJPFQCPAODPAOANDODPAODPBOBPFODPBOCPBOCPHObNAONNAORPjOaNEODNBOBNEMANEOYPAODPBOCNAOFPAOHNTOLNSOWNZOcNMOKNwOaNMMENSOAPDOAPBOANAOAPAQAPAQCPBRCQAPAQARBQBPAOBRBQARAPAKBRATARAPANBOAQARASBQAPDOANAOANAPDOBNAMANAOANAMAPARAQAPARAPAOAPBSDRAQAOAQAPBOANAOAPARBQAOAPAOAPBOAQAPANBOBPEOFMBNAOAPAOANBOCNBODNDOAPBOGPAOBPGQAPBOANAOBPAOANDOHPBOCPFODPAOCPCOBPCQBPCObNBONNAOGPBOHPjOdNAOFNNOdPAODNBOONUOKNSOVNaOcNMOKNwOZNPMBNSOAPEOAPAOBPAQBPCQBPAQGSCQAPANARBPAQARAPAKAPASARAQANAMBQCSBPBOAPAOANAOANAOAPDOANAMANAOANBQASAQAPAQAOCPASATBSARAPAOAQAPAOANAMAOAPARBQAPBOBPBQAOANBOCPEODNAMBNBOGNAMANAODNDOFPAOBPCOAPJOGNDOGPBOFPEOEPDOBPBQBPDOaNCODNCONPDOAPAOBPlOkNNOjNBOONUOKNSOVNZOcNOOKNvOYNkOBPEOCPAQARAQAOBPAQAPBQDOAPARASATASAQANARBPAOASAPAKAMARATAQANAMBQAOAPARASBQAPBNBPCOAPCOANAMANAOANBQASAQAOAPAOBPAQASATBRBPAOAQAPAOANAMAOAPAQCPBOBPBQAOHPEOBNAMANCOFNBMANBOCNEOAPAOCPBOBPAQAPKORPBOFPCOAPCOAPGOAPCQBPCOaNDOCNCONPqOBPBOkNKO3NUOJNTOVNYOeNNOLNtOYNlOBPBOAPAOCPAQCPAOAPBOAPCQBNAMAQASATASARAQAPAQAPAOASARANAKAPATARANAMANAPAOBPARASBQAPANAMAPAQBPDOANCOBNAQASAQAPBOBQBRATBSARAPAOAPBOANAMAOBPAQBPBOBPCOHPBOBPBOANFOBPBOANBMBNBODNDOAPAOBPAQAPAOAPAQCPGOAPCOMNAOFNAODPBOBPJOBPBQCPDOXNEODNCOMPmOAPAOEPBOkNAOENCObPBObNUOJNTOUNHOCNNOfNJOPNtOXNlOBPDODPAQAPBOBPANBPBRAQAOAMAQARASCQAPAQAPAOARATAPAJAOATASAPALAMAPANAOAQCTASAPANAMAOAQARAQBPBNDOCPARAQAPAQAPDQATBSBQAOAPAOBNBOBPBQAOCPDOBPBOBNBPBOBPBOANFOBPBOANGOENBODPAQAPDRAQDPEOAPCOONAOCNBOBPDOCPIOAPCQCPDOWNEOENCOMPlO0NAOKPAORPAOcNUOJNSOVNGOENLOgNJOONWMANWOVNnOAPDOEPFMBOAPARBQAMANAQARBQAPAQAPBOAQAUAQAJALARATAQAMALAOANAPBQBRATARAOANBQCPAQAOANCOAPAOANAOAPAQBPAODQASDQAOAPAOBNAOEPAODPAOEPBOANBOAPAOENBOFPBOANIOHPBQCPAQBRAQDPBQAPEOCPDOINCOANBOAPEOANAOAPIOAPBQCPFOGPAONNDOFNBONPkO/OAPCOuNVOINSOWNEOGNJOhNIOPNUMDNUOVNnOBPCOEPFLBOAPARASARAOANAQARBPAQBPBOAPATARALAKAQATAQAOALAMAOAQCOAQASBPAOBPAQAPBQAOAMBNAOAQAPAOBPAQAPBODPARAQARCPBONNBOCPBOBNAOFNBOENAOAPAODNAOBNEOGPDQDRAQHPDODPDOINCODPAOBPAOBNAOAPIOAPBQCPFOGPAOONBOFNCOMPIQAPbO/PFOsNWOHNSOWNEOINHOhNIOPNSMFNROANAOVNIMFNZOAPCODPDQBPAMALANAOARATASAQANAPAQBPAQAPCOAPARBNAKAPATARAPAMALAOARASAQAPBQCOAPBQAPAOAPBMBNAOAPARAPAOAPAQAPBOBNBPAQEPCOBPBOCNBOAPAOANCOBPBOFNAOCNAOENBOCNDODNDOGPDQCRAQBPAQHPAOBNAOBPDOINBOJNBOAPKQDPEOgNAOOPGQBPaO+PIOLNAOeNWOHNSOWNDOJNGOPNAORNHOSNQMENROXNIMFNVOANCOAPCODPCOAQARAQANALAMAOAPATCOAPAQAPBQARAPBOANAPAQANAJAOATASAQAMAKAMAQATARAPCQAPDQAPAOBPANAMBOAPAQAPCQAPAOCNBOAQCPBOAPAQAPAOAPBOBNAMANAOAPAOANCOCPAOBPAOCNBOHNBOCNDOENDOFPEQEPCQFPBOBNAOAPDOGPAOBNAOGNAOCNAOCPJQDPEOCPBObNBOANAOLPFQDPOOEPBOBPAOcNBOfPJOEPAOENBOeNWOHNSOcNAOGNDONNAOCNBOSNEOUNPMFNROVNJMGNYOBPCOANAOAPAQBPBRAQAOAMBPBSAUATAPBRAPBQASAPBOANAPBOAJAOASBQANALAMAPASBQAPBOBPBQBPEOANBPCQDPAOBNBOBPAQAPAOANAOAPDQAPAOANAMANAOAPAOANDOEPAOCNDOAPCOBNBOCNDOFNDOEPFQDPDQCRBQAPBODPIOHPAOCNDOEPJQCPFOBPEOXNFOLPGQCPOOlNCOfPIOLNAOfNWOKNHOBNFOCNAOgNDOMNCOBNBOSNCOTNKMCNDMFNNOANDOUNJMHNXOBPBOBNAOAPAQBPBQCOBPBRATASAQBRAPAOAQARAQBOAPCOAJAMARASAPAOALAMAOAQCRAPAOAKANAOAQBPCQBPANAOAQBPAQDPCOANAOCPCNAOBPBQCPANBOBPAOBNAOGPBOCNCOAPCOBNAODNEONPFQDPBOAPDQDPGOBPEOHPBOCNDOEPJQAPHOBPFOWNFOLPHQCPMOmNBOOPAOQPIOLNAOfNWOKNGOCNEODNAOgNDOLNHOePBOHNKMFNAMHNLOCNCOPNNMJNROANCOFNAOBQCPAQDPBOAQASBQBRAQANAQARAPARAQAPBQANAIAKAQASAPAOANCOAPAQARBOAKBMAOAQARAPAOAQCOBRAQAPAQAPAQCPCOBNBOCNBOBPAQCPAOANAOAPBOJPBODNBOAPDOANAODNHOJPGQDPBOBPDQCPGOCPEOMNDOFPCOAPNOBPFOWNEOMPWO/OKPCOCPCOHNAOjNWOMNEOCNBOBNAOCNBOgNCOLNHOdPEOFNKMRNIODNBOPNOMJNNODNBOGNAOBPDQCRBQAOAPARBQBRAQAOAPAQAPAQBPAQASAOAJBQARAQAPAOBNAOBPBSAQAMAJAKAOBRAQAOAPBQAPBQARAPAQAPBQEPAOANAOCNAMAOCPAQCPAOBPBODPAOPPAOAPAOFNHODNAODPHQEPAOBPFQBPBQCPBOCPCOONCOGPBOBPNOBPFOBPBOSNEOMPVO/OLPBODPCOHNAOiNYOLNEOKNBOgNCOKNIOcPFOENIMUNHOVNPMLNKOMNAOBPDQBPAQASARAPBQERBQANAOAPAQAPAQAUASAMAJANAQARAPENBPARAQANALAKAMAPAQBPAOAPBQDPAQAPAQBPAQBPCOENAODPDOBPCOCPCOVNFOANBOCNBODPJQCPBOAPKQCPAOVNBOMPLOCPFOAPCOSNDONPRO/OPPBODPCOWPAOTNaOKNCOuNBOKNNOXPGOENHMVNHOHNCOINSMMNIOLNAOBPEQAPBRBPCQESARANAMAQBPBUBPALANAQARAMANAPAQBOAMAOAQBNBMBOAQAPAOCQBRAQBPAQAPAQBPCNBPAOAPBOIPGOCPDOAPCOGPAOINFOBNAOCNBOEPCQAPAOBPEQAPNQBPBOHNAOMNAORPDOGPKOSNBOGNBOFPQO/OPPBOEPBOsNaO8NAOKNOOWPHOENHMVNGOHNEOGNVMKNHOLNAOCPCQBPBQBPAQAPAQESARAOAMAQARAQAPATAUASAQAPAQBKBQASBOAMAOAQAPANAOBNAOAQAOANAOBPAQARBPBQAPAQARAQCNAMAOAPBOCPAOCNAOEPCOBPCOCPDOQNIOCNCOEPEOCPCQBPNQAPBOVNBORPCOLPGObNBOGPPO/OPPBOEPBOsNVOANEO/OGMANOOVPIOENHMVNGOBNBOCNFOGNWMINIOKNBOBPAQAPAQARAQDPAQGSAQAPANAQARAOANAQATASAQBSAQAJBNARATAPANBQBOBPAOAPAQAOANBOAPAQARBPAOBQARDQANAMANAPAODPCOHPBOBPCODPDOONJOBNDOBNBOCPCOFPAQBPEQBPIOBNAOTNAOCNBONPCOLPHOaNBOGPNOMNAO/OCPAOHPAOsNUOBNEO/OFMCNMOWPHOENIMVNFOBNPOBNXMHNJOJNBOCPCRASARAQAPAOAQCRAQCSARAQAOARBNALAQBRAQARAUARAJAIAKAOARAQAOANAPAQAOBPCQAOANCOAQCPAOANAOARBSBQAPANAODPCQBODNCOEPCODPDOLNAOBNKOANDOBNCOCPBOFPBQBPBOAPBQBPIOBNBOMPAOENAOBNCONPCOLPIOhPNOJNIO1PAOQPAOrNVOANFO/OEMENLOVPHOFNIMYNBOBNqMGNJOPPAOARASBRAPAOAQBRBPBQASBQDNALANAQAPBQAUATANAIAJALAOAPBOAPBOBPBQBPANAMANAOAQARAQBPAOBPARAQASARAPDOCPAQBRAPCOANCOEPCODPCOBPBOINAOANROANEOJPAQCPAOBPLOBNDODPBOEPCOFNDONPCOLPJOfPNOHNMO/OFPCOpNdO/ODMFNKOWPHOENJMYNBOANrMGNJOOPAOARATASARAPAOAQBRBNBPASBQCRAQALAMAPAQAPAOASATAOALAJAKAMAOAPBRAQAOCPAQAPBOANCPARAQBPAQAPAOAPAQARBQAPCOBNAOAQBRAQAPBOBNBOFPBOEPBOCPBOINZOIPBQBPBOCPCOAPFOCNEOCPBOEPCOFNDONPBOMPJOfPCOAPBOBPBOBPBOGNPOBNBO/PCOpNdO/OCMGNKOVPFOHNJMXNuMHNJOJPAOBNBOASATASARAPBQBRBNBPAQASARAQASATAQAOAMAOAPAOANAPASAQAOAMBLAKALAPASARAOANAOBQBNAOCMAOAQCPARBPAOAPAQEPAOBMANAQBRAQAPAQAPAOBNAOFPBOEPBOCPBOJNDOANFOANCOBNHOKPDOHPBOFNFOBPBOEPCOFNEOMPBOMPKOfPBOBPAOONUO/PBOpNdO/OCMFNGOBNDOVPEOINJMXNuMHNJOIPBOAMANAOARATASBQBRAQARBNBOAPARAQBSATASAQANAPAQAOAMAOAPBOBMBKAIAMARATAQAOANAOAQBNAMAOAPANAOAPAQARAPAQARASAPBQAPCRBQAPAMANAPAQARAQCPAOIPBOFPAODPAOJNDOBNDOANEOBNGOMPDOPNDOJPCOAPBOCNGOIPCONPKOfPBOBPAOONUOWPBOmPBOpNdO3NBOHMFNHOBNDOUPFOHNJMXNvMGNLOHPAOAMBOARATBSAQBRDNCPAQBRBUATAQDRANBOANAOBNAOANAIAJAPATASAOANAMAQAPAOALAMAOCPAQARAPBQARBQBOAPBQARBQAOANAOAQCPAQAPCOFPDOIPAOGPAOCNEOBNIOCNFOHPDOAPDOFNAOKNCOJPFOCNGOIPCOMPPOePAOONVOCNAORPDOAPBO/OONcO3NEOEMFNIOANEOUPFOHNJMQNAMFNvMGNLOHNAMBOARASCQAPARBSARAOAMBPAQCRATAUARAPAQARBQAOBNAOCQAPALAIALAQATAPAOAMAPBOANALBNAPBQARAPBQARAQARBPAOBQARASARAPANAOAPAQBPEOAPAOCPEOIPAOCPBOBPAODNEOANHOANAOCNFOGPFOAPCOFNAOKNBODPBOAPAOCPEOCNGOJPBONPQOdPAONNWOBNBORPGOJNBO/OCNcO2NJMFNOOVPEOJNHMQNCMDNwMFNLOEPBOANALAMAPARDQAPARBSARAPAMALAPAQCPARATASAPAQARATAQBOERASAQAJBPARBPANAOAPBOAMAKALAPBQARAPAOAPAQAPAQARAQAOBQBRASAPAOBPBQAPOOIPAOBPFOENDOBNGOBNAOBNGOFPFOAPCOGNAOKNAOCPFOCPDODNGOJPAOMPSObPBOKNaOANBORPHOJNAODPBO9NbOvNCODNJMFNPOVPEOJNGMRNEMBNwMFNLODPBOANALAMAPARBQBPAOAQARCQAMAKAOAQASARAOAQASBQAPARATASAPBOAPAOBPATASANAJAMAPARAQAOAPAOAQAPAOALAKANAPAQASAPAOAPAQAPBQAPAQAPBQBRAQBOAPSOKPFOENDOCNEOCNJOFPGOCPAOFNBONPGOCPDODNGOWPWOYPBOJNeOQPHOJNBODPBOHPAOzNbOsNTMGNPOVPEOJNGMQNfOBNVMGNFOANDODPAQAPANALBOAQASARAQAOBQBRAQBNAKALAOASARAQAOARASAQAPBRASARAOBPAOAPBSAUARALBPAQBPAQAPBQAPAOALAMAPAQASAQAOBPAOAPAQAPAQBPBQBRAQAPEQAPAOAPMOJPFODPAOANAOENEODNIOFPAOBPCOLNBONPGOCPCOENEOXPZOiNeOQPHOINBOEPAOHPBOCPCOsNBOBNXOsNUMGNPORPBOCPCOJNHMONJMANVOENQMJNEOANAOANCOCPAQAPAOAMBOAQASARAQAOANAPAQDOALAKAOARASARAOAQARASAQAOARAQARAPFQAUARAOAMAPDQDPAOANALANAQARBQAPAOAMAOAQAPARCPCQCPUOIPGOKNEOENBMANEOYNDOBPAOKPEOCPCODNEOXPNQAPMOEPDOSNjORPHOHNCONPBOCPCOsNBOBNXOrNFOANOMGNPORPBOCPCOINJMMNKMBNSOHNOMJNGOBNCOBPAQAPAOAMALAOAQASARAQBNAOAQARAQCMAKANAQASARAPAOARASAQBOAPAQAPGSBRAOAQAPCQDPAOBNAMAPARCQBMBPBRASARAPAOAPAQCPVOHPFOAPBOINEOFNGOYNEOBPAOLPCOEPAOENDOYPMQBPMODPGOQNkOPPIOGNDOMPCONNAOnNXOqNFOANPMGNPORPBOCPBOJNJMKNMMCNPOKNNMINGOCNCOBPBOANAMANAQASBRAQAOBQARBQARAOALAMAQARASAQANAPASBQAPAOAPCQAPAQAPBQASAQAOAPBOBPAQCPBOANBPARAQARCNAMAOAPAQASARAQAOBQAPYOHPEOBPBOHNBOANBOCNAOAPAOANFOPNBOHNEOLPBOAPCOKNCOZPMQBPMOCPHOPNlOPPHOGNEOJPFOMNCOmNXOqNWMGNPOQPCOBPCOJNJMJNOMBNPOKNMMINGODNBOBPBOBMANAPARASARAQAPAOAQARBSARAQAOANAPARASAQAOBSBRAQAOAPBQDPBQARBQAOAQAPAOAPBQAPAOCNBOAQAPARASARAPANBPAQASBQAPANAPIOAPROGPAOAPBOBPCOBPAODNBOANBOHNEOQNBOHNEOKPCOONCOZPMQBPXOPNlOOPIOGNEOIPGOMNCOlNYOpNXMFNQOQPDOAPBOKNIMJNPMANROJNMMHNGOENBOENBPAQARBQBOAQCSBQBPBRCQAOBRASAQAOBPAQDPBQBRAQAOAQAPAOAPBQAPBMANCOAPBQATASAQAOANAOAPASBQAPANAOAPHOBPROMPEOENAOBNAOHNDOGNCOINBOGNEOLPBOPNCOZPMQAPYOONmOGNAOGPFOKNDOIPFOMNDOkNZOpNXMENQORPFOLNIMINYMANLOHNLMINGOGPAOBPAOBPBQARAPBOAPAQCRBQBRFPBQBPANAPAQARAPANAPAQCRAQAPAOAQAOBPBQAPANALAMAOBPBQASBPBNAOAQARASARAPANAOAPHOCPROMPEOGNAOGNFOFNDOINBOHNDOLPBOPNCOBNBOVPMQAPTOAPDOONmONPFOLNCOJPEONNCOLNBOWNbOoNXMDNQOSPEOMNHMJNMOANLMBNJOHNLMGNHOGPAOEPBQBPBOCPAQCPAQARASARAQARBSAPAQBPAOBPARAQAOAMAQARAQBRBOAPBOAPBQBPAMALAOCPAQBRAQBNBQARCPAOBPHOEPROIPAOCPCOONFOFNDOJNBODNAOCNCOLPBOQNCOBNBOVPMQAPaOLNmOOPFOKNCOCNAOGPEONNCOGNGOVNcOnNZMCNPOSPFOMNIMBNAMENMOBNWOHNMMENJOEPCODPBQBPAOCNBOAPDQARBQARASCQBPAQAOAPBQAOANAOAQBPAQARAPAOAPEQBOALAOAPBOAPAQDNAMAPARBQAPBOBPGOKPEQAPGOHPAODPAOPNFOFNKOCNCODNAOCNBOMPAORNBOCNBOVPMQAPbOJNnONPFOKNCOCNAOGPGONNAOGNHOVNcOmNaMBNPOSPGOMNFMANEMDNBMANKOBNWOGNNMENIOEPCOBNBPBQARAQAOAPBNCOAPGQARASCQAPAQBOAQAPBOANAPAQDRAOAPDOAPAQBNBPGQAOAMAOAQARAQAPKOLPEQAPGOLPAOBPAOFPAOGNIOBNAOANKOBNCOCNBOCNBORPAOINBOBNBOCNBOCNAORPoOKNmONPCOAPBOFNCOCNCOJPIOTNHOJPAOLNFOBNUOmNrOMPCOBPHONNRMANKOBNVOGNNMBNAMCNIODPDOANBOAQBRAQAPBQAOEPDOANAOAQARASARBQARAQARAQAPBOAPAOAQARAQBRAPANAPAQBPCQAOBPBRAQAPEMANAQCPAOAPIOLPNOUPBOGNKOBNJOCNCOCNCOANBORPCOGNCOGNBOBNBORPoOJNmOaNBOCNEOHPJOUNGOIPCOTNSOmNsOKPEOAPIONNRMANJOCNVOGNMMBNBMBNJOCPEOANAOAQBRBQAPAQBOAPBQAPBQBPANAMANARDQBRAQARAQAPAOAPAOAQASARAPAQBMAPARBPDOBPAQARBPDOANBPAQBPAOBPHONPMOUPBOFNDOANFOCNJOBNCODNFOGPAOJPBOGNDOBNAODNEOSPnOJNmObNBOCNDOIPJOUNFOJPDOSNSOmNsOKPOOMNdOBNWOFNNMANCMBNKOAPBQBPBOBPARBQFPBRBQDRANBOARCQCRAQCPBOAPARATAQBPALAMAQARAQAPDNAOAQARBQAOAPAODPBQAPAOBPEOAPCONPLOIPBOKPBOFNCOBNEODNJOBNCODNFOGPAOKPAOFNEOBNBOBNEOVPjOLNjOdNBODNCOIPLOBPAOQNFOJPFOQNSOlNtOJPPOMNZOFNWOFNMMANPOBPAQCPCQARAQCRBQBPBRCQBRCPAOAQARBPCRAQDPBOAPASARAQAPALBPAQEPAOBPAQARAPBNAOEPCOBPDOTPDOBPFOHPBOMPAOGNHOENJOBNCODNEOHPAORNEOANIOWPiOLNkOjNBOJPOOQNEOKPGOPNTOkNsOKPEOAPFOBPBODPAOHNYOGNWOFNdOBPAQBPCQERASARAQBPAQARASARAQBRCQBSBPANAPAQDRBPAOAPARASAQAPAMALAOAQFOBPBRAQAPAMANAOFPAODPAOVPAODPCOAPBOIPBOMPAOGNFOGNCOANFOBNBOGNCOGPBOQNFOANHOYPhOLNZOANJOMNAORNAOBNBOJPPOQNEOKPHOONVOiNsOJPDOCPFOBPBODPAOHNXOHNWOFNbODPEQESATBRAQAPAQBSBQAPARESBRANBQDRBQAPAOAPASARAPANALAOAPAQEOCPAQAPBMBODNAOiPAOCPAOKPAOLPBOGNEOGNCOCNIOGNCOGPBOQNNOZPhOKNUOBNCOBNCOlNCOANBOIPPOVNAOJPJOONLOANBOANEOhNsOKPDOCPFOCPBOMNUOENBOCNVOGNZOIPBQBPAQARATAUATASARAQBRASARAPAQARAQBRASATASAPANAPAQAPAQARBQBNAPARASAPAOALANAPCQCOAPAOBPBOAMALANAOAPAOANCO/PAOFNEOCNCOBNCOCNIOFNCOHPBOAPBONNNOaPgOKNUOBNCOqNEOIPPOWNAOIPKOPNJOENDOhNcOBNOOKPCODPFOCPDOKNROGNCOBNXOFNYOCNAOFPAOAPBQAPARATBSCRASCQCRAQARASDOBRAQBRASAQBNAPAQASAQAOALAMAPBOAPAQAPANAOCPBOAMALAMAOCNBOANAO/OFNFOBNDOBNCOBNJOENDOHPAOBPBONNNOENAOUPgOKNTOCNAOrNEOJPNOEPAOdPJOPNIOFNDOXNBOGNZOGNMORPGOCPDOKNOOINDOBNHOBNNOENYOANDOFNCOAPAQCRDSATASCRDSDQAOAQCRATARAPANAOAQASARAPANAMAPCOAPBNAMAOENALAMANAOENAOcNBOjPAOCNAOANCOBNFOANBOCNKOCNDOHPBORNOOCNCOGNCOKPeOLNTOvNEOJPNOlPHOQNGODNBOANDOWNFOCNZOINCOBNFORPBOAPDOCPEOKNOOINCOCNHOBNNOENXOBNDOGNBOAQBPAQBRAQBRBSATASARASBTASARBSAOBRCSBPANAOAQARAQBOAMAPAQBOAPBOAMANBODMBNBODNBObNBOuNXOBNEOHPBORNUOFNEOIPHOBPUOMNSOwNDOLPLOnPHOPNFODNHOVNjONNFORPAOCPBOCPGOKNMOINDOENEOCNNOCNYOANEOFPAOCQBPBQARAQBRAQBTBSBTAUATASARASAQANAQARAQASATAQAOANAQARAQBPANAPAQARAPDMANBOBNAOAMBNDOCNAObNCORPBOaNXOBNEOGPCORNVOENEOIPHODPROHNBODNSOsNHOLPLOoPGOGPAOINEODNJOTNXOANJOONEObPGOLNHOMNDOBNAOBNEODNoOANBOANCOBPFRASAQAPBRAQAPAOBPARASBRATAUBTASCNAPAQBSATASAQANAQEPAOAPAQAPDNAMANAOBNBMBNEODNDOYNAOHPAOIPBObNBOBNaOGPBORNXOANBOANEOIPAOBPDOEPROHNAOENROrNHONPKOpPGOFPEOGNAOGNJOHNAOJNYOANJOKNAOANGOaPHOFPAOFNFOONDODNDOFNmOBNFOAPAQAPCQARASARAQAPAQCOANBQBSARASATAUBSATBOBPAQARASCPEQBPBQAOAPAQAPANALAOAPAOANBMBNEODNEOgPAOJPBObNAODNZOGPBORNROANMONPCODPSONNQOfPAOLNHOMPLORNAOCNBOSPFOEPFONNLOCNEOJNjOJNIOhPAONNFOPNCOENCOFNmOCNDOBPAQDRBQGNBQBRBSATBUATCQAPBOAPARATASARAQAPAOAPCQBPAOBQAPANAKANAPBNEOANFOBNEORNAOMPBOJPAOhNZOaNROANMOVPCOBPMOQNMOfPBOKNIOLPLOMNAODNCOANCOENBOLPFOEPFOONSOJNjOJNEO0NBOBNAORNBONNmOCNCOBPDQASARAQGPAOAQCRASEUATARAQAPBNARASCRAQANBOBPAQAPAOANAPAQAOAKALANAPAOANDOANMOLNBODNAOMPAOBPAOPNBOZNaOZNfOBNAOXPMOTNHOtNJOLPLOLNCOBNIOCNCOMPEOEPFOONSOINSOENMOKNCO1NAOUNCOMNiOBNBODNBOBPDQARCQFPAOAQDRETBRAQBPAMAQAREOAMAOCPBOANAOAQAPAKBNAPBNSOMNAOCNAOPPAOPNDOYNaOZNkOUPNOTNDOANBONNAOdNLOKPLOMNNOCNCOMPDOFPBOTNROINROFNMO/ODNAORNBOANCOMNhOINAOBPCOAPAQARBQBRBQCOAQARBQBPARAQARCQDNAQDRBPALAOEPAOBQAOAMAKAMAOAPAOBNAOBNAMANMOJNAOCNAOANAOQPAOKPBOBNEOYNbOYNkOUPNOTNDOPNDOaNLOLPKONNOOANDOMPDOFPAOWNPOINQOHNLO/OCNBOPNGONNeONPHRAQBRBQBPARASARBQAOAQBRAQCPBQAOAQBPAOAPASARAMANAOGQAPAOALANAOAPAOBNBOANBMBNMOHNAOENAODNBOXPBOANGOCNAOSNdOXNaOBNCOANEOSPQORNDOPNEOZNLOLPIOPNTOMPDOcNQOINPOKNFOANBO/ODNBOONFOPNdOOPAQAPCOANAOAQAPARASARAQBRATASARBPAOAPAQARAQBPAQAPBRBPAOAPARAQAMBOAPBOANBPAQAPAOAMBNAOCNBOANCMANMOGNCODNAOCNEOSNAOCPAOBNCOANGOSNdOXNaOBNCOANEOSPQOSNBOPNFOYNMOMPGOPNUOOPAOdNROHNPOKNEO/OHNBOMNGOQNcOJPAOBNAOAPAQAPBQAOANBOAPBRASAQBSATASARASAQAPCQARAQCPBQARAQAOBRAPAMALAPBQAPAOAMAPAQBOANAMANAOCNTOHNBOHNEORNBOFNLOSNGMBNVOVNaODNAOBNEOTPPOSNBONNHOYNMOjNaOIPAOdNSOGNPOJNFOtNAOYNCOLNCOBNBOQNbOKPBOBPDQAPAOANBPBQARAQAPASERBPAOAPAQCRBQBRAQAPAOARBNALANAPARBPAMAPAQARAPAOAMANAOCNUOHNBOGNFOJPAOENDOENLOSNGMDNUOKNEOENbOGNEOTPPOCPCObNIOXNNOjNbOmNSOFNQOINGOtNAOYNCOKNDOVNZOLPJOANAOAQAPDQARDQASAQAPAOBQBSBRAQCPAOARASAPAKAMAPARBQANAOAPARAQAOANCOBNUOANAOHNBOANAOCNGOIPBOCNFOCNNOSNFMFNYOBNJOCNbOGNFOTPVOYNLOXNOOhNcOmNVOCNPOINHOrNDOXNCOKNCOXNWOLPJQAPAOBQBPCQARASARAQAPARBQAPANAPAQASATARAQDOAQASAQALBOAQARAQANAOAPAQARAPAOANBODNQOBNBOANBOENEOANIONNFOCNOOGNAOINEMHNkOCNaOGNHORPYODPDONNNOVNQOgNdOlNoOHNHOrNEOYNBOKNCOXNXOLPAQARAQAPDQBPCQAPCRASATAQAOANARCQANBPASATAQAPARBQAOARATAQAMALAPBRAQAOANAPBQBPANDOBNPODNAOANBOFNQOKNHOBNFMBNGOFNDOFNEMINBMCNfOCNZOHNHORPgONNNOVNQOfNeOlNoOGNIOrNEOYNCOKNAOKPBOSNMOCNAOFNCODQARAQAPBOAQARCQAOANBPBSATARAOAMAOARBQAOANAOARATAQAOARATARANARAUARANALAOAPARAQAPAOCPAQAPAOANDOANOOONROKNGOCNEMDNFOFNDOFNDMQNdODNJOENAOBNAOANEOGNJOPPiONNMOUNDMFNHOfNeOlNhMANEOHNHOrNFOYNCOTPEOUNIOIPAOBNBMANAOBPAQBPBOAPAQARASAQAOAMBOAPASAUATAPALANARBQBNAMAPASAQAOAQATARAOAQATASAPALANAPARAQAPBOAMAOAPCOANROQNOOANCOINHOBNEMDNFOENGOBNGMPNHMANVOENHOLNDOGNJOPPlOKNLOVNDMFNHOcNiOkNgMAOBNCOJNFOpNAOANHOXNCOSPGOTNIOIPCOANBOAPAQBPBQAPCRASARAOAMALANAPARAUBQAMBQAPAQARANALAPASAQAOAPATASAPBSBPALAMAOAQAPDLAMAPCOBNNOUNSOINOMDNFODNQMPNHMBNUOENGONNCOENMOOPmOJNKOVNFMDNHODNAOXNPMHNLOkNfMAORNDOoNKOXNCOANCOCNAOIPKOSNGOFPFODPAQAPHRBPANALANAPARATAUAQAPAOAPCRAPALAOARAQAOAPARASAQAPARASAPAMALAOAQAPAOAPBMALANAPBOCNKOXNSOINOMDNGOBNQMQNGMENTOENEOONBOFNMONPoOINJOWNFMDNHODNAOHNBONNOMJNLOjNPMCNLMANAORNCOpNKOANBOQNBOANDOANCOBNCOHPMOAPCOMNGOEPCODPAOCPDQAPDQCOANAOBSATBQARAQBPBQARAMANAQBPBQARAQAPAQASAQAOALAOAPAOBPBMALBOAPBOBNJOZNPOANBOINLMHNYMQNCMINSOFNAOTNAOENOOKPrOHNIOWNFMENIOBNCOANDOBNBOMNOMRNEOkNHMBNBMFNNO9NGOBNCOANBOPNLOBNBOIPROMNFODPDOCPBOCPCQAPAQAPISAUATAQARCQDNBQCPAQARAPAOAQDNAOAPBOAPBOALBNAOAPAOANJOKPAOBPBOLNSOINKMKNTMTNBMJNSOeNROIPhQCPHOHNIOWNFMENDMANDOANIOANBOMNOMTNDOMPBOUNHMLNMOGNCOzNGOBNCONNAODNJODNBOIPROMNGOBPDOBPBOFPAQAPAQBPBOCQBRATAUATAPAOAQARCQBOBQESAPAOAPCQAPEQBNALCNAPBNJOJPGONNPOCNAOFNKMLNRMUNBMMNPOdNTOGPSQBPMQEPHOFNIOWNGMENVOKNPMUNEOKPBOVNGMMNMOGNCO3NCOANDOHNAODNBODNIOENBOHPTOLNFODPFOENAOAPCQBPBODRATAUASAQAMANAPARCQAPAOAPAQAPBQATAPAOBPCQBPCQBOAMAKBNAOAPAOANIOKPGONNQOANBODNMMMNPMUNBMNNOOFNBOPNBOENTOGPSQBPLQFPHOENIOXNDMANBMENVOKNOMVNDOjNGMMNMOFNDO3NHOGNCOHNCOBNEODNBOIPTOLNEOEPBQAPBOCPAOANAOAPAOAPBQAPDOBQASATARAOALAMAOAQARBQAPBOAPANBPASAQAPAOAPCQDPAQBPANALAKAMANAOBNJOJPHONNTOBNOMMNOMVNEMKNOOFNBOONCODNUOGPSQBPJQHPHOENHOWNEMBNBMDNWODNBOENOMVNDOiNHMNNLOFNCO4NDOANCOGNCOHNBOCNFOBNCOHPVOKNDOFPBQAPBOCNAMAODPCQDPAQARBQAMBNAPBQARAQANBPBNBOARAQAPCOBPAQCPAQBPAOAMALBNBOBNIOGPLONNTOANOMNNNMSNAMCNEMKNMOHNBOONCODNTOGPSQCPJQHPHOENDOZNFMANdOENBODNNMVNEOiNGMONLOGNBOENAOkNCOKNCOCNAOGNDOLNKOIPWOJNCOGPGNAMANAOFPAQARBQCPBLAMAOAPCQAPAMANAQAPBOAPARAPDOCQARAPAQCOCMALAMANLOHPMONNcMBNCMONCMANJMRNBMCNFMJNLOINAOHPBOENCOFNROGPTQCPJQIPFOFNCOaNiOGNBODNNMVNEOiNGMONIOANBONNAOeNAODNEOJNCOKNCOCNCOGNJOJPWOJNAOCNAOEPDQAPANEOCNAOAPARASAQBPAQAOALAMAQAPDMALAOAQBOBQASAPAOAPAQAPANBQBPBQBOCNAMDNJOHPNONNbMCNCMTNHMRNCMBNFMKNLOQPBOFNBOGNQOHPSQBPMQHPFOFNCOZNjOGNBOCNOMUNFOhNHMONC';for(i=0;i<s.length;i+=2){var v=L[s.charAt(i)]*3,r=L[s.charAt(i+1)]+1;while(r--){d[p]=P[v];d[p+1]=P[v+1];d[p+2]=P[v+2];d[p+3]=255;p+=4;}}
x.putImageData(im,0,0);})();</script>
<svg width="1000" height="1000" viewBox="0 0 1000 1000">
<defs><clipPath id="mapclip"><rect x="159.5" y="288.5" width="680.0" height="422.0"/></clipPath></defs>

<g clip-path="url(#mapclip)"><path d="M521.5 318.0 526.5 316.8 529.0 323.0 524.0 325.5 520.2 324.2ZM567.2 359.2 570.4 358.4 572.0 356.8 571.6 363.6 568.0 364.8 566.8 361.6ZM621.6 338.0 627.2 337.2 625.6 342.0 622.4 342.0ZM628.8 372.4 632.0 372.4 632.0 376.4 628.8 376.4ZM675.2 374.0 680.0 373.2 680.0 378.8 676.8 377.2ZM659.0 361.8 672.8 361.1 675.2 369.2 669.0 370.5 659.0 368.0ZM770.2 356.8 774.0 356.8 775.2 369.2 776.5 380.5 772.8 378.0 771.5 369.2ZM822.5 353.0 835.0 346.8 838.8 346.8 830.0 358.0 820.0 363.0ZM770.6 358.0 773.8 357.4 775.0 369.2 776.2 379.2 772.5 373.0ZM810.0 401.8 817.5 400.5 815.0 405.5ZM175.2 461.1 178.4 461.8 177.8 465.5 179.6 469.2 177.8 471.1 175.9 468.0ZM185.9 531.8 189.0 531.1 195.2 534.2 194.6 536.1 187.1 534.0ZM310.9 438.0 314.6 439.9 317.1 445.8 310.9 447.4ZM668.8 418.1 673.8 418.8 673.8 423.1 669.4 423.8ZM757.5 460.0 760.6 460.0 762.5 470.0 758.8 471.2ZM610.0 380.0 615.0 379.5 615.5 383.0 611.0 390.0 607.0 393.0 606.5 391.0ZM613.0 374.0 622.0 371.5 620.0 376.0 614.0 376.5ZM629.0 372.0 632.0 372.0 632.0 377.0 629.0 377.0ZM193.4 546.1 196.5 546.8 196.5 548.6 194.0 548.6ZM207.8 546.1 211.5 549.2 211.5 551.1 209.0 550.5ZM205.2 553.0 208.4 554.2 209.6 558.0 206.5 558.0ZM601.5 633.0 609.0 633.0 607.8 638.0 602.8 638.0ZM731.5 636.8 735.2 638.0 739.0 644.2 737.8 646.8ZM706.5 654.2 711.5 655.5 711.5 663.0 707.8 660.5ZM731.5 636.0 736.5 639.8 739.0 646.0 735.2 643.5ZM706.5 654.8 711.5 656.0 711.5 661.0 709.0 661.0ZM716.5 671.0 720.2 671.0 721.5 678.5 719.0 678.5ZM214.0 289.8 223.6 289.2 225.4 295.2 224.2 304.8 221.2 310.8 219.4 316.2 212.8 319.2 210.4 313.8 215.8 308.4 218.2 301.8 218.8 295.8 215.8 294.0ZM198.0 305.0 201.0 304.0 202.0 310.0 199.0 312.0ZM198.0 318.0 201.0 317.0 201.0 323.0 198.0 324.0Z" fill="#004000" stroke="#004000" stroke-width="1" shape-rendering="crispEdges"/><path d="M202.1 289.2 200.2 291.8 198.0 294.2 199.0 303.0 199.6 313.0 199.0 318.0 198.4 324.2 196.5 328.0M202.1 289.2 206.5 295.5 211.5 299.2 217.8 300.5M226.5 289.9 246.5 295.5 265.2 300.5 282.1 304.2M196.5 328.0 202.8 330.5 207.1 333.0 208.4 340.5 212.8 344.2 221.5 344.9 234.0 346.8 246.5 347.4 259.0 349.9 271.5 353.0 276.5 355.5 277.8 359.2M282.1 304.2 279.0 319.2 275.9 338.0 273.4 353.0 276.5 355.5M277.8 359.2 271.5 368.0 265.2 374.2 266.5 380.5 264.6 388.0 262.8 398.0 260.2 413.0M196.5 328.0 195.2 335.5 191.5 346.8 187.8 358.0 182.8 368.0 177.8 374.2 174.6 380.5 172.8 391.8 173.4 395.5M173.4 394.9 196.5 401.1 221.5 408.0 236.5 413.0M173.4 395.5 171.5 405.5 169.0 413.0M222.8 408.0 221.5 413.0M284.0 304.2 309.0 309.9 346.5 316.8 384.0 321.8 409.0 323.0M292.8 306.1 292.1 313.0 289.6 320.5 292.1 329.2 294.0 335.5 299.0 343.0 304.0 348.0 300.9 355.5 299.0 364.2 302.8 366.8 306.5 365.5 309.0 376.8 312.8 380.5 314.0 387.4 317.8 386.1 330.2 386.8 332.8 384.2 334.0 388.0 336.5 381.1M336.5 381.1 359.0 384.2 384.0 387.4 409.0 389.9M336.5 381.1 335.2 389.2 334.0 400.5 332.1 413.0M409.0 324.2 421.5 324.9 452.8 326.8 484.0 327.8 517.8 328.0M519.0 316.8 526.5 313.6 530.9 319.2 532.8 325.5 527.8 328.0 521.5 328.6 517.8 326.8 519.0 316.8ZM519.0 328.0 525.2 331.1 534.0 334.2M477.1 289.2 479.0 294.2 480.9 303.0 480.9 308.0 488.4 308.0 489.6 305.5 484.0 295.5 480.9 289.2ZM499.0 289.2 498.4 304.9 506.5 303.6 507.8 295.5 507.8 289.2ZM421.5 324.9 420.9 344.2 419.0 375.5 417.1 388.0 415.9 413.0M419.0 375.5 455.2 377.4 504.0 377.4M497.8 328.6 497.8 341.8 501.5 354.2 502.1 363.0 505.2 375.5 504.0 379.2 500.9 383.0 505.2 388.0 506.5 413.0M409.0 389.9 417.1 389.9M534.0 334.2 537.8 329.2 541.5 331.1 547.8 334.2 552.8 337.4 559.0 341.8 566.5 338.0 571.5 339.2 580.2 340.5M536.5 329.2 541.5 331.1 546.5 334.2M582.4 340.8 585.6 334.4 592.0 328.0 596.0 323.2 602.4 324.0 616.0 324.8 620.0 334.4M586.4 341.6 594.4 336.0 589.6 340.8 586.4 343.2ZM583.2 339.2 576.0 344.0 568.0 348.8 560.0 356.8 553.6 363.6M553.6 363.6 567.2 359.2 572.0 356.8 572.0 363.2 576.0 364.8 584.8 359.2 596.0 349.6 603.2 348.0 597.6 350.4 595.2 359.2 600.8 356.8 607.2 362.4 616.8 361.6 620.0 360.8M553.6 363.6 552.4 374.4 547.2 377.6 548.0 393.6 552.8 400.0M575.2 364.8 589.6 370.4 601.6 374.4 605.6 377.6 607.2 384.0 604.8 395.2M600.0 324.4 615.2 324.4 618.4 330.8 623.2 337.2 632.0 335.6 632.8 341.2 637.6 346.0 636.8 350.8 640.0 352.4 640.8 358.0 644.0 361.2 648.0 362.8M644.0 362.0 664.0 362.0 676.0 362.8M644.8 365.2 656.0 364.4 665.6 365.2 670.4 367.6 675.2 366.8M675.2 362.0 680.0 362.8M600.0 356.4 606.4 358.8 608.0 362.0 616.0 362.8 624.0 358.0 634.4 355.6 635.2 359.6 639.2 361.2 644.0 361.2M612.0 376.4 624.0 369.2 630.4 366.8 636.0 367.6 642.4 369.2 649.6 374.0 656.0 377.2 657.6 382.0 660.0 390.0M625.6 390.0 627.2 382.8 632.0 380.4 634.4 378.0M659.0 363.0 671.5 361.8 684.0 361.8 691.5 370.5 696.5 376.8 699.0 379.2 695.2 383.0 687.8 381.8 680.2 375.5 675.2 374.2M675.2 374.2 682.8 380.5 681.5 388.0 679.0 395.5 680.2 404.2 676.5 413.0M659.0 398.0 664.0 395.5 669.0 400.5 671.5 408.0 674.0 413.0M702.8 401.8 706.5 395.5 712.8 390.5 724.0 385.5 732.8 384.2 734.0 380.5 741.5 376.8 746.5 370.5 752.8 361.8 771.5 356.8 784.0 354.9M702.8 401.8 711.5 403.0 724.0 398.0 734.0 395.5 744.0 388.0 741.5 381.8 734.0 381.8M711.5 403.0 714.0 408.0 712.8 413.0M696.5 413.0 711.5 406.8M775.2 380.5 780.2 391.8 782.8 413.0M797.5 289.2 795.0 299.2 790.0 313.0 786.2 323.0 793.8 315.5 800.0 301.8 805.6 289.2ZM805.0 306.8 810.0 309.2 815.0 304.2 822.5 308.0 827.5 325.5 828.8 329.2 835.0 330.5 838.8 336.8 837.5 343.0M837.5 345.5 830.0 350.5 822.5 358.0 815.0 365.5 811.2 373.0 808.8 380.5M805.0 306.8 801.2 313.0 800.0 328.0 800.0 336.8 797.5 344.2 792.5 348.0M740.0 378.0 747.5 368.0 752.5 361.8 771.2 358.0 791.2 353.0 792.5 348.0M776.2 379.2 780.0 388.0 781.2 394.2 782.5 413.0M791.2 353.0 792.5 360.5 787.5 365.5 788.8 390.5M795.0 348.0 798.8 358.0 803.8 370.5 808.8 380.5M781.2 393.0 805.0 388.0 808.8 383.0 810.0 391.8 815.0 398.0 821.2 396.8M807.5 400.5 815.0 398.0 820.0 394.2 823.8 398.0 821.2 404.2 815.0 406.8 807.5 406.8M782.5 405.5 802.5 400.5 807.5 398.0M802.5 400.5 803.8 413.0M740.0 378.0 741.2 388.0 743.8 390.5M169.0 413.0 164.0 419.2 166.5 425.5 165.2 444.2 169.0 450.5 171.5 459.2 175.2 463.0 174.0 473.0 177.8 480.5 176.5 488.0 179.0 494.2 184.0 503.0 185.2 513.0 186.5 523.0 195.2 528.0 201.5 533.0 206.5 538.0M221.5 413.0 217.8 425.5 214.0 440.5 210.2 454.2 217.8 463.0 229.0 479.2 244.0 500.5 256.5 519.2 265.2 533.0 266.5 538.0M294.0 424.2 289.0 453.0 284.0 480.5 279.0 504.2 274.0 510.5 274.0 515.5 266.5 515.5 265.2 533.0M279.0 504.2 294.0 505.5M284.0 421.8 329.0 429.9 330.9 413.0M329.0 429.9 327.1 445.5 351.5 449.2 371.5 451.8 409.0 456.1M351.5 449.2 346.5 488.0 342.8 514.2 340.2 538.0M284.0 504.2 342.8 514.2 371.5 516.8 409.0 520.5M304.0 431.8 309.0 430.5 314.0 438.0 317.1 445.5 310.2 448.0 306.5 440.5ZM415.2 413.0 414.0 438.0 412.8 455.5M415.2 423.6 452.8 425.5 481.5 426.1 486.5 429.2 496.5 428.6 504.0 433.0 509.0 440.5 512.8 453.0 515.2 466.8 521.5 475.5 525.2 478.0 524.0 481.8 529.0 488.0 530.2 523.0 531.5 538.0M505.2 413.0 504.0 418.0 505.2 425.5 504.0 431.8M505.2 418.0 534.0 418.0M516.5 464.9 534.0 464.2M436.5 474.2 462.8 474.2 520.2 474.9M409.0 455.5 436.5 456.8 436.5 474.2 434.0 521.8M421.5 520.5 434.0 522.4 461.5 523.0 530.2 523.6M421.5 520.5 420.2 538.0M421.5 529.9 460.2 530.5 460.2 538.0M534.0 418.0 567.8 416.1M566.5 413.0 569.0 418.0 570.2 426.8 577.8 433.0 581.5 438.0 581.5 445.5 572.8 449.2 571.5 455.5 569.0 463.0 567.8 466.8 569.0 475.5 577.8 484.2 584.0 490.5 585.2 498.0 587.8 503.0 596.5 510.5 599.0 516.8 601.5 521.8 601.5 526.8 596.5 528.0 594.0 533.0 590.2 538.0M576.5 431.8 609.0 429.2M607.8 413.0 609.0 425.5 611.5 434.2 615.2 440.5M625.2 413.0 629.0 423.0 627.8 431.8 624.0 438.0 615.2 441.1M615.2 441.1 616.5 469.2 619.0 488.0 614.0 503.0 611.5 513.0 609.0 515.5M621.5 439.9 646.5 437.4 659.0 436.8M647.8 437.4 651.5 463.0 654.0 480.5M534.0 464.2 566.5 463.0M534.0 530.5 589.0 529.2M601.5 526.8 616.5 523.0 659.0 519.2M658.8 390.0 656.2 396.2 653.8 398.8 653.8 403.8 657.5 402.5 662.5 396.2 667.5 397.5 671.2 406.2 672.5 415.0 670.0 418.8 672.5 422.5 667.5 426.2 663.8 433.8M678.8 390.0 680.0 405.0 673.8 412.5 671.9 416.2M672.5 426.2 687.5 415.0 696.2 413.8 701.2 412.5 713.8 407.5 715.0 408.8M663.8 434.4 670.0 437.5 675.0 438.8 683.8 433.8 690.0 428.8 698.8 423.8 705.0 421.2 711.2 413.8 715.0 408.8M715.0 408.8 712.5 403.8 705.0 401.2 703.8 398.8 710.0 393.8 715.0 390.0M705.0 401.2 715.0 397.5 730.0 396.2 742.5 390.0M705.0 422.5 758.8 412.5 765.0 416.2M640.0 437.5 663.8 434.4M698.8 425.0 702.5 448.8 705.0 461.2M705.0 461.2 727.5 456.2 762.5 450.0M702.5 448.8 701.2 463.8 695.0 470.0 688.8 476.2 686.2 485.0 683.8 487.5 680.0 482.5 668.8 483.1 658.8 478.8 652.5 480.0M647.5 437.5 650.0 452.5 652.5 478.8M683.8 487.5 692.5 500.0 697.5 503.8 710.0 497.5 717.5 485.0 721.2 475.0 727.5 470.0 732.5 462.5 732.5 458.8 720.0 461.2 718.8 467.5M732.5 458.8 740.0 460.0 748.8 467.5 750.0 475.0 758.8 480.0 765.0 485.0M683.8 515.0 691.2 502.5M690.0 515.0 765.0 502.5M781.2 390.0 782.5 402.5 783.8 415.0 782.5 422.5M781.2 392.5 797.5 390.0M782.5 405.0 805.0 400.0 807.5 402.5M807.5 395.0 815.0 397.5 820.0 393.8 825.0 397.5 826.2 406.2 820.0 403.8 815.0 407.5 807.5 406.2M780.0 427.5 792.5 418.8 807.5 410.0 808.8 413.8 793.8 422.5 781.2 431.2ZM782.5 422.5 778.8 431.2 782.5 436.2 781.2 446.2 777.5 455.0M740.0 416.2 758.8 411.9 765.0 417.5 781.2 422.5M767.5 421.2 766.2 432.5 773.8 440.0 765.0 447.5 762.5 452.5M740.0 455.0 762.5 451.2M762.5 451.2 768.8 453.8 776.2 457.5 776.2 467.5 773.8 477.5 771.2 490.0M756.2 455.0 763.8 451.2 765.0 460.0 768.8 471.2 770.0 480.0 768.8 490.0 766.2 495.0M756.2 455.0 758.8 465.0 755.0 471.2 761.2 477.5 762.5 487.5 766.2 495.0M763.8 451.2 761.2 460.0 763.8 470.0 767.5 477.5 770.0 487.5M740.0 460.0 747.5 466.2 748.8 475.0 755.0 480.0 760.0 487.5 765.0 496.2M765.0 496.2 772.5 500.0 780.0 515.0M740.0 506.2 771.2 500.0M765.0 502.5 770.0 506.2 771.2 515.0M772.5 501.2 777.5 508.8 778.8 515.0M610.0 392.0 609.0 402.0 607.0 416.0 609.0 429.0M626.0 383.0 624.0 392.0 622.0 401.0 624.0 410.0 629.0 420.0M626.0 383.0 633.0 384.0 636.0 377.0 637.0 370.0 632.0 367.0 623.0 371.0 614.0 374.0 610.0 380.0M658.0 383.0 657.0 392.0 654.0 400.0 655.0 404.0 660.0 402.0M206.5 538.0 211.5 543.0 221.5 553.0 224.0 568.0 229.0 585.5 230.2 595.5 234.0 608.0 235.2 616.8 244.0 625.5 249.0 635.5 254.0 641.8 252.8 649.2 245.2 650.5 239.0 648.0 245.2 658.0 246.5 663.0M225.2 568.0 260.2 569.9 256.5 573.0 284.0 589.2M266.5 538.0 269.0 546.8 262.8 553.0 260.2 560.5 260.2 569.2M254.0 585.5 251.5 590.5 250.2 611.8 254.0 619.2 259.0 628.0 266.5 640.5 270.2 653.0 276.5 663.0M254.0 585.5 261.5 590.5 266.5 591.8 274.0 599.2 276.5 619.2 284.0 638.0M245.2 657.2 245.2 661.0 255.2 671.0 260.2 671.0 265.2 677.2 272.8 683.5 273.4 692.2 271.5 699.8 267.8 704.8 275.2 709.8M269.0 644.8 270.2 654.8 276.5 663.5 284.0 678.5M275.2 611.0 276.5 621.0 284.0 639.8M339.6 538.0 336.5 563.0 331.5 605.5M284.0 590.5 305.2 603.0 331.5 606.1 342.8 606.1 344.0 599.9 366.5 600.5 409.0 602.4M366.5 601.1 376.5 613.0 387.8 623.0 390.2 635.5 394.0 643.0 409.0 651.8M284.0 639.2 292.8 655.5 301.5 658.0 301.5 663.0M284.0 638.8 291.5 651.2 295.2 656.2 301.5 658.1 300.2 666.2 309.0 676.2 312.8 681.2 317.1 686.2 314.0 691.2 315.2 697.5 321.5 702.5 330.2 710.0M284.0 677.5 287.8 687.5 290.2 700.0 292.8 710.0M419.0 538.0 417.8 569.2 415.2 602.4 409.0 602.4M459.0 538.0 459.0 562.4 464.0 564.9 470.2 566.8 474.0 569.9 484.0 571.8 489.0 575.5 496.5 575.5 504.0 573.0 509.0 576.8 516.5 574.2 526.5 574.2 532.8 576.8M532.8 538.0 532.8 576.8M409.0 650.5 416.5 641.8 424.0 638.0 435.2 640.5 440.2 645.5 446.5 654.2 450.2 663.0M504.0 660.5 515.2 658.0 524.0 650.5 529.0 644.2 534.0 640.5M409.0 651.2 414.0 648.8 417.8 640.0 424.0 638.1 435.2 640.0 440.2 645.0 446.5 652.5 450.2 661.2 456.5 671.2 461.5 677.5 464.0 687.5 467.8 696.2 474.0 700.0 484.0 703.8 494.0 707.5 496.5 708.8M496.5 708.8 495.2 697.5 492.8 687.5 491.5 680.0 496.5 672.5 502.8 666.2 509.0 661.2 519.0 657.5 527.8 648.8 532.8 642.5M495.9 708.8 493.4 697.5 491.5 687.5 490.2 680.0 496.5 671.2 504.0 662.5 514.0 658.8 526.5 646.2 532.8 641.2M534.0 578.6 539.0 578.6 539.6 604.2 546.5 615.5 547.8 625.5 545.2 640.5 541.5 644.2 534.0 645.5M540.2 588.0 580.2 586.8M595.2 538.0 591.5 550.5 586.5 558.0 581.5 569.2 577.8 576.8 579.0 588.0 581.5 596.8 584.0 598.0 577.8 608.0 575.2 614.2 575.2 619.2 601.5 618.0 602.8 625.5 605.2 630.5M590.2 552.4 617.8 551.1 652.8 548.0 659.0 546.8M617.8 551.1 617.8 588.0 620.2 613.0 621.5 625.5M652.8 548.0 659.0 569.2M534.0 645.5 546.5 641.8 551.5 635.5 559.0 639.2 571.5 640.5 581.5 645.5 589.0 649.2 596.5 645.5 604.0 641.8 609.0 646.8 614.0 648.0 609.0 638.0 615.2 636.8 614.0 628.0 621.5 626.8 629.0 624.2 634.0 623.0 640.2 623.0 659.0 624.2M559.0 638.6 566.5 639.9 571.5 641.8 576.5 644.2ZM591.5 629.2 599.0 628.0 604.0 631.8 609.0 630.5 612.8 633.0 609.0 639.2 604.0 641.8 599.0 636.8 591.5 633.0ZM631.5 623.6 646.5 623.0 659.0 624.0M630.2 618.0 659.0 611.8M626.5 620.5 629.0 625.5M659.0 545.5 684.0 544.2 700.2 538.0M681.5 545.5 690.2 553.0 697.8 560.5 709.0 569.2 714.0 575.5 719.0 584.2 721.5 585.5M715.2 538.0 729.0 538.0 747.8 549.2M759.0 538.0 755.2 548.0 746.5 550.5 740.2 560.5 734.0 569.2 725.2 576.8 721.5 585.5 717.8 594.2 716.5 604.2 717.8 608.0M659.0 611.8 671.5 614.2 709.0 613.0 710.2 606.8 717.8 607.4M717.8 608.0 721.5 619.2 729.0 631.8 735.2 641.8 739.0 648.0 746.5 663.0M659.0 570.5 665.2 590.5 665.2 600.5 667.8 610.5 671.5 614.2M659.0 624.2 665.2 631.8 674.0 629.2 680.2 624.2 687.8 625.5 696.5 633.0 704.0 638.0 706.5 646.8 706.5 654.2 709.0 658.0 711.5 663.0M719.0 611.0 724.0 623.5 731.5 634.8 737.8 643.5 744.0 654.8 750.2 666.0 751.5 678.5 750.2 692.2 746.5 698.5 740.2 697.2M706.5 641.0 706.5 652.2 709.0 658.5 711.5 663.5 716.5 671.0 720.2 677.2 727.8 686.0 734.0 689.8 739.0 697.2 746.5 697.2M746.5 697.2 739.0 703.5 731.5 708.5M734.0 664.8 739.0 663.5 741.5 668.5 739.0 672.2 734.0 669.8ZM764.0 666.0 771.5 668.5 779.0 663.5 784.0 663.5M779.0 659.8 784.0 658.5M781.5 688.5 780.2 698.5 784.0 701.0M740.0 504.2 769.5 502.1 775.9 506.3 782.2 516.9 780.1 527.4 769.5 531.6 756.9 540.1 748.4 548.5 740.0 552.7M763.2 504.2 771.6 506.3 773.8 516.9 769.5 525.3 763.2 523.2M765.3 512.7 775.9 512.7 778.0 521.1 771.6 529.5M771.6 504.2 780.1 512.7 779.0 525.3M740.0 563.3 748.4 548.5M765.3 666.7 775.9 664.6 782.2 660.3 792.7 664.6 794.9 675.1M801.2 677.2 811.7 683.5 813.8 689.9M820.2 687.8 828.6 696.2M782.2 689.9 780.1 698.3 790.6 706.8 794.9 711.0M786.4 689.9 792.7 702.5 797.0 711.0M790.6 687.8 797.0 687.8M640.0 521.9 677.5 516.9 715.0 511.2 765.0 501.9M698.8 512.5 697.5 518.8 687.5 526.2 681.2 532.5 671.2 538.8 668.8 545.0M640.0 548.8 668.8 545.6 682.5 542.5M682.5 542.5 692.5 537.5 711.2 536.2 715.0 539.4 730.0 538.1 747.5 550.0M682.5 545.0 688.8 551.2 697.5 560.0 702.5 565.0 712.5 573.8M651.9 547.5 660.0 575.0M677.5 516.2 691.2 501.2 697.5 502.5 706.2 500.0M534.0 531.2 589.0 529.4 590.2 533.8 586.5 536.9 592.8 536.2M594.0 506.2 596.5 511.2 597.8 517.5 601.5 518.8 601.5 526.2 596.5 528.8 595.2 533.8 594.0 538.8 591.5 545.0 589.0 552.5 586.5 560.0M601.5 526.2 615.2 525.0 616.5 522.5 659.0 519.4M589.0 552.5 616.5 550.6 652.8 547.5 659.0 546.2M236.5 413.0 260.0 417.5 284.0 421.8M409.0 520.5 421.5 520.5M597.0 516.4 602.6 515.6 609.0 517.2 610.6 514.8 613.0 509.2 614.6 505.2 619.4 502.0 626.6 502.0 631.4 499.6 635.4 496.4 639.4 498.8 642.6 494.0 646.6 490.0 649.0 486.0 652.2 484.4 654.6 478.8 659.4 480.4 663.4 483.6M551.5 398.0 559.0 405.5 565.2 410.5 566.5 413.0M199.0 291.6 202.6 295.8 206.8 299.4 213.4 301.8 216.4 303.0M203.2 289.2 209.8 295.8 216.4 295.8" fill="none" stroke="#004000" stroke-width="2" stroke-linejoin="round" stroke-linecap="round" shape-rendering="crispEdges"/></g>
<g stroke="#000" stroke-width="1" fill="none" shape-rendering="crispEdges">
<rect x="159.5" y="288.5" width="680.0" height="422.0"/>
<path d="M174.5 710.5v-6M174.5 288.5v6M189.5 710.5v-11M189.5 288.5v11M203.5 710.5v-6M203.5 288.5v6M218.5 710.5v-11M218.5 288.5v11M233.5 710.5v-6M233.5 288.5v6M247.5 710.5v-11M247.5 288.5v11M262.5 710.5v-6M262.5 288.5v6M277.5 710.5v-11M277.5 288.5v11M291.5 710.5v-6M291.5 288.5v6M306.5 710.5v-11M306.5 288.5v11M320.5 710.5v-6M320.5 288.5v6M335.5 710.5v-11M335.5 288.5v11M350.5 710.5v-6M350.5 288.5v6M364.5 710.5v-11M364.5 288.5v11M379.5 710.5v-6M379.5 288.5v6M394.5 710.5v-11M394.5 288.5v11M408.5 710.5v-6M408.5 288.5v6M423.5 710.5v-11M423.5 288.5v11M438.5 710.5v-6M438.5 288.5v6M452.5 710.5v-11M452.5 288.5v11M467.5 710.5v-6M467.5 288.5v6M482.5 710.5v-11M482.5 288.5v11M496.5 710.5v-6M496.5 288.5v6M511.5 710.5v-11M511.5 288.5v11M526.5 710.5v-6M526.5 288.5v6M540.5 710.5v-11M540.5 288.5v11M555.5 710.5v-6M555.5 288.5v6M570.5 710.5v-11M570.5 288.5v11M584.5 710.5v-6M584.5 288.5v6M599.5 710.5v-11M599.5 288.5v11M614.5 710.5v-6M614.5 288.5v6M628.5 710.5v-11M628.5 288.5v11M643.5 710.5v-6M643.5 288.5v6M657.5 710.5v-11M657.5 288.5v11M672.5 710.5v-6M672.5 288.5v6M687.5 710.5v-11M687.5 288.5v11M701.5 710.5v-6M701.5 288.5v6M716.5 710.5v-11M716.5 288.5v11M731.5 710.5v-6M731.5 288.5v6M745.5 710.5v-11M745.5 288.5v11M760.5 710.5v-6M760.5 288.5v6M775.5 710.5v-11M775.5 288.5v11M789.5 710.5v-6M789.5 288.5v6M804.5 710.5v-11M804.5 288.5v11M819.5 710.5v-6M819.5 288.5v6M833.5 710.5v-11M833.5 288.5v11M159.5 695.5h6M839.5 695.5h-6M159.5 681.5h11M839.5 681.5h-11M159.5 666.5h6M839.5 666.5h-6M159.5 651.5h11M839.5 651.5h-11M159.5 637.5h6M839.5 637.5h-6M159.5 622.5h11M839.5 622.5h-11M159.5 607.5h6M839.5 607.5h-6M159.5 593.5h11M839.5 593.5h-11M159.5 578.5h6M839.5 578.5h-6M159.5 563.5h11M839.5 563.5h-11M159.5 549.5h6M839.5 549.5h-6M159.5 534.5h11M839.5 534.5h-11M159.5 520.5h6M839.5 520.5h-6M159.5 505.5h11M839.5 505.5h-11M159.5 490.5h6M839.5 490.5h-6M159.5 476.5h11M839.5 476.5h-11M159.5 461.5h6M839.5 461.5h-6M159.5 446.5h11M839.5 446.5h-11M159.5 432.5h6M839.5 432.5h-6M159.5 417.5h11M839.5 417.5h-11M159.5 402.5h6M839.5 402.5h-6M159.5 388.5h11M839.5 388.5h-11M159.5 373.5h6M839.5 373.5h-6M159.5 358.5h11M839.5 358.5h-11M159.5 344.5h6M839.5 344.5h-6M159.5 329.5h11M839.5 329.5h-11M159.5 314.5h6M839.5 314.5h-6M159.5 300.5h11M839.5 300.5h-11"/>
</g>
<rect x="859.5" y="301.5" width="27.0" height="14.0" fill="#00007f" stroke="#000" stroke-width="1" shape-rendering="crispEdges"/>
<rect x="859.5" y="315.5" width="27.0" height="14.0" fill="#0000c0" stroke="#000" stroke-width="1" shape-rendering="crispEdges"/>
<rect x="859.5" y="329.5" width="27.0" height="14.0" fill="#0000f8" stroke="#000" stroke-width="1" shape-rendering="crispEdges"/>
<rect x="859.5" y="343.5" width="27.0" height="14.0" fill="#0028f8" stroke="#000" stroke-width="1" shape-rendering="crispEdges"/>
<rect x="859.5" y="357.5" width="27.0" height="14.0" fill="#0050f8" stroke="#000" stroke-width="1" shape-rendering="crispEdges"/>
<rect x="859.5" y="371.5" width="27.0" height="14.0" fill="#0a80f8" stroke="#000" stroke-width="1" shape-rendering="crispEdges"/>
<rect x="859.5" y="385.5" width="27.0" height="15.0" fill="#0ab0f8" stroke="#000" stroke-width="1" shape-rendering="crispEdges"/>
<rect x="859.5" y="400.5" width="27.0" height="14.0" fill="#00e0f8" stroke="#000" stroke-width="1" shape-rendering="crispEdges"/>
<rect x="859.5" y="414.5" width="27.0" height="14.0" fill="#28f8e0" stroke="#000" stroke-width="1" shape-rendering="crispEdges"/>
<rect x="859.5" y="428.5" width="27.0" height="14.0" fill="#64f8c8" stroke="#000" stroke-width="1" shape-rendering="crispEdges"/>
<rect x="859.5" y="442.5" width="27.0" height="14.0" fill="#a0f8c8" stroke="#000" stroke-width="1" shape-rendering="crispEdges"/>
<rect x="859.5" y="456.5" width="27.0" height="14.0" fill="#c8f8d8" stroke="#000" stroke-width="1" shape-rendering="crispEdges"/>
<rect x="859.5" y="470.5" width="27.0" height="14.0" fill="#e8fff0" stroke="#000" stroke-width="1" shape-rendering="crispEdges"/>
<rect x="859.5" y="484.5" width="27.0" height="15.0" fill="#f0ffe0" stroke="#000" stroke-width="1" shape-rendering="crispEdges"/>
<rect x="859.5" y="499.5" width="27.0" height="14.0" fill="#d8fcc8" stroke="#000" stroke-width="1" shape-rendering="crispEdges"/>
<rect x="859.5" y="513.5" width="27.0" height="14.0" fill="#c8fca0" stroke="#000" stroke-width="1" shape-rendering="crispEdges"/>
<rect x="859.5" y="527.5" width="27.0" height="14.0" fill="#c8fa68" stroke="#000" stroke-width="1" shape-rendering="crispEdges"/>
<rect x="859.5" y="541.5" width="27.0" height="14.0" fill="#e8fc28" stroke="#000" stroke-width="1" shape-rendering="crispEdges"/>
<rect x="859.5" y="555.5" width="27.0" height="14.0" fill="#ffe000" stroke="#000" stroke-width="1" shape-rendering="crispEdges"/>
<rect x="859.5" y="569.5" width="27.0" height="14.0" fill="#ffa810" stroke="#000" stroke-width="1" shape-rendering="crispEdges"/>
<rect x="859.5" y="583.5" width="27.0" height="15.0" fill="#ff8008" stroke="#000" stroke-width="1" shape-rendering="crispEdges"/>
<rect x="859.5" y="598.5" width="27.0" height="14.0" fill="#ff6000" stroke="#000" stroke-width="1" shape-rendering="crispEdges"/>
<rect x="859.5" y="612.5" width="27.0" height="14.0" fill="#ff3800" stroke="#000" stroke-width="1" shape-rendering="crispEdges"/>
<rect x="859.5" y="626.5" width="27.0" height="14.0" fill="#ff0000" stroke="#000" stroke-width="1" shape-rendering="crispEdges"/>
<rect x="859.5" y="640.5" width="27.0" height="14.0" fill="#d40000" stroke="#000" stroke-width="1" shape-rendering="crispEdges"/>
<rect x="859.5" y="654.5" width="27.0" height="14.0" fill="#a80000" stroke="#000" stroke-width="1" shape-rendering="crispEdges"/>
<rect x="859.5" y="668.5" width="27.0" height="14.0" fill="#780000" stroke="#000" stroke-width="1" shape-rendering="crispEdges"/>
<rect x="859.5" y="682.5" width="27.0" height="15.0" fill="#480000" stroke="#000" stroke-width="1" shape-rendering="crispEdges"/>
<path d="M158.50 140.00 158.50 159.50M171.58 140.00 171.58 159.50M158.50 149.56 171.58 149.56M176.81 140.00 180.63 159.50 185.86 140.00 191.09 159.50 194.91 140.00M200.14 140.00 213.21 140.00M206.68 140.00 206.68 159.50M228.50 140.00 218.45 153.26 232.12 153.26M228.50 140.00 228.50 159.50M237.35 151.50 255.46 151.50M272.76 140.00 260.69 140.00 260.69 159.50 272.76 159.50M260.69 149.56 270.34 149.56M290.66 140.00 277.99 140.00 277.99 159.50M277.99 149.56 287.64 149.56M295.29 160.47 314.60 160.47M332.62 143.48 331.17 141.71 329.41 140.53 327.49 140.02 325.54 140.22 323.70 141.12 322.10 142.66 320.87 144.71 320.09 147.14 319.83 149.75 320.09 152.36 320.87 154.79 322.10 156.84 323.70 158.38 325.54 159.28 327.49 159.48 329.41 158.97 331.17 157.79 332.62 156.02M338.34 159.50 338.34 140.00 351.41 159.50 351.41 140.00M368.74 142.87 367.86 141.76 366.64 140.87 365.18 140.27 363.58 140.01 361.95 140.10 360.40 140.54 359.06 141.29 358.00 142.30 357.32 143.50 357.05 144.81 357.21 146.13 357.80 147.36 358.77 148.43 360.05 149.25 361.56 149.77 363.18 149.94 363.18 149.56 364.90 149.73 366.51 150.25 367.88 151.07 368.91 152.14 369.54 153.37 369.71 154.69 369.42 156.00 368.69 157.20 367.57 158.21 366.13 158.96 364.49 159.40 362.75 159.49 361.04 159.23 359.49 158.63 358.19 157.74 357.25 156.63M392.45 159.50 399.69 140.00 406.93 159.50M395.06 152.48 404.32 152.48M412.16 159.50 412.16 140.00 420.01 140.00 420.01 140.00 421.36 140.17 422.62 140.65 423.70 141.43 424.53 142.44 425.06 143.61 425.24 144.88 425.06 146.14 424.53 147.31 423.70 148.32 422.62 149.10 421.36 149.58 420.01 149.75 412.16 149.75M419.40 149.75 425.44 159.50M430.67 140.00 434.49 159.50 439.72 140.00 444.95 159.50 448.77 140.00M478.44 137.35 476.47 138.74 474.76 140.48 473.37 142.52 472.34 144.79 471.71 147.23 471.50 149.75 471.71 152.27 472.34 154.71 473.37 156.98 474.76 159.02 476.47 160.76 478.44 162.15M483.77 144.49 487.59 142.15 491.42 140.00 491.42 159.50M496.65 144.49 500.47 142.15 504.29 140.00 504.29 159.50M521.39 141.95 519.18 140.19 516.16 140.00 514.44 140.31 512.84 141.20 511.46 142.63 510.41 144.49 509.75 146.65 509.52 148.97 509.52 153.06 509.52 153.06 509.71 151.53 510.28 150.07 511.19 148.80 512.39 147.77 513.80 147.05 515.36 146.68 516.96 146.68 518.51 147.05 519.93 147.77 521.13 148.80 522.04 150.07 522.60 151.53 522.80 153.06 522.60 154.60 522.04 156.06 521.13 157.33 519.93 158.36 518.51 159.08 516.96 159.45 515.36 159.45 513.80 159.08 512.39 158.36 511.19 157.33 510.28 156.06 509.71 154.60 509.52 153.06M528.03 148.19 528.25 146.07 528.92 144.09 529.97 142.40 531.35 141.10 532.95 140.28 534.67 140.00 536.38 140.28 537.98 141.10 539.36 142.40 540.41 144.09 541.08 146.07 541.30 148.19 540.10 153.65 540.10 153.65 539.83 155.46 539.06 157.09 537.86 158.38 536.34 159.21 534.67 159.50 532.99 159.21 531.47 158.38 530.27 157.09 529.50 155.46 529.23 153.65 528.03 148.19M546.53 145.26 558.60 159.50M558.60 145.26 546.53 159.50M563.83 140.00 577.11 140.00 567.66 159.50M582.57 145.34 582.90 143.92 583.61 142.62 584.66 141.51 585.97 140.68 587.47 140.16 589.06 140.00 590.64 140.20 592.13 140.75 593.41 141.61 594.43 142.74 595.10 144.06 595.40 145.49 595.30 146.94 594.81 148.32 582.34 159.50 596.02 159.50M601.25 148.19 601.47 146.07 602.14 144.09 603.19 142.40 604.57 141.10 606.17 140.28 607.89 140.00 609.60 140.28 611.21 141.10 612.58 142.40 613.64 144.09 614.30 146.07 614.53 148.19 613.32 153.65 613.32 153.65 613.05 155.46 612.28 157.09 611.08 158.38 609.57 159.21 607.89 159.50 606.21 159.21 604.69 158.38 603.49 157.09 602.72 155.46 602.46 153.65 601.25 148.19M619.76 145.26 631.82 159.50M631.82 145.26 619.76 159.50M649.53 140.00 639.07 140.00 637.86 148.58 638.80 148.68 640.52 147.49 642.55 146.89 644.68 146.93 646.68 147.61 648.36 148.86 649.54 150.55 650.09 152.51 649.97 154.53 649.19 156.42 647.81 157.97 646.00 159.03 643.93 159.49 641.81 159.29 639.86 158.47 638.29 157.10 637.25 155.33M655.56 148.19 655.79 146.07 656.45 144.09 657.51 142.40 658.88 141.10 660.48 140.28 662.20 140.00 663.92 140.28 665.52 141.10 666.89 142.40 667.95 144.09 668.61 146.07 668.84 148.19 667.63 153.65 667.63 153.65 667.36 155.46 666.59 157.09 665.39 158.38 663.88 159.21 662.20 159.50 660.52 159.21 659.01 158.38 657.81 157.09 657.03 155.46 656.77 153.65 655.56 148.19M675.88 157.94 675.88 159.69 674.47 162.62M712.89 152.38 712.68 154.22 712.06 155.94 711.06 157.42 709.77 158.55 708.27 159.26 706.66 159.50 705.04 159.26 703.54 158.55 702.25 157.42 701.25 155.94 700.63 154.22 700.42 152.38 700.63 150.54 701.25 148.82 702.25 147.35 703.54 146.22 705.04 145.51 706.66 145.26 708.27 145.51 709.77 146.22 711.06 147.35 712.06 148.82 712.68 150.54 712.89 152.38M712.89 140.00 712.89 159.50M718.12 145.26 730.19 159.50M730.19 145.26 718.12 159.50M735.42 147.41 748.70 147.41M735.42 152.09 748.70 152.09M763.99 140.00 753.93 153.26 767.61 153.26M763.99 140.00 763.99 159.50M790.34 140.00 790.34 159.50M801.60 145.26 790.34 154.82M794.56 152.09 801.60 159.50M806.83 145.26 806.83 159.50M806.83 148.97 806.83 149.16 807.04 147.96 807.64 146.87 808.57 146.01 809.75 145.46 811.06 145.26 812.36 145.46 813.54 146.01 814.47 146.87 815.07 147.96 815.28 149.16 815.28 159.50M815.28 149.16 815.28 149.16 815.49 147.96 816.09 146.87 817.02 146.01 818.20 145.46 819.51 145.26 820.81 145.46 821.99 146.01 822.92 146.87 823.52 147.96 823.73 149.16 823.73 159.50M829.06 137.35 831.03 138.74 832.74 140.48 834.13 142.52 835.16 144.79 835.79 147.23 836.00 149.75 835.79 152.27 835.16 154.71 834.13 156.98 832.74 159.02 831.03 160.76 829.06 162.15M76.64 181.40 66.37 181.40 65.19 189.85 66.11 189.95 67.80 188.78 69.79 188.18 71.88 188.22 73.85 188.89 75.49 190.12 76.65 191.78 77.19 193.71 77.07 195.71 76.30 197.57 74.96 199.10 73.17 200.14 71.14 200.59 69.06 200.40 67.16 199.59 65.61 198.24 64.60 196.49M82.56 187.54 83.54 187.54 83.54 188.70 82.56 188.70 82.56 187.54M82.56 199.45 83.54 199.45 83.54 200.60 82.56 200.60 82.56 199.45M95.38 189.46 95.61 187.38 96.26 185.43 97.29 183.76 98.64 182.48 100.21 181.67 101.90 181.40 103.58 181.67 105.15 182.48 106.50 183.76 107.54 185.43 108.19 187.38 108.41 189.46 107.23 194.84 107.23 194.84 106.96 196.62 106.21 198.23 105.03 199.50 103.54 200.32 101.90 200.60 100.25 200.32 98.76 199.50 97.59 198.23 96.83 196.62 96.57 194.84 95.38 189.46M113.54 189.46 113.76 187.38 114.41 185.43 115.45 183.76 116.80 182.48 118.37 181.67 120.05 181.40 121.74 181.67 123.31 182.48 124.66 183.76 125.69 185.43 126.34 187.38 126.57 189.46 125.38 194.84 125.38 194.84 125.12 196.62 124.36 198.23 123.19 199.50 121.70 200.32 120.05 200.60 118.41 200.32 116.92 199.50 115.74 198.23 114.99 196.62 114.72 194.84 113.54 189.46M148.87 181.40 148.87 200.60M148.87 191.00 148.87 192.34 149.07 190.85 149.66 189.46 150.60 188.27 151.83 187.36 153.25 186.78 154.79 186.58 156.32 186.78 157.75 187.36 158.97 188.27 159.91 189.46 160.51 190.85 160.71 192.34 160.71 200.60M183.01 181.40 186.76 200.60 191.89 181.40 197.02 200.60 200.77 181.40M205.90 200.60 205.90 181.40 213.60 181.40 213.60 181.40 214.93 181.56 216.16 182.04 217.23 182.81 218.04 183.80 218.55 184.96 218.73 186.20 218.55 187.44 218.04 188.60 217.23 189.59 216.16 190.36 214.93 190.84 213.60 191.00 205.90 191.00M213.01 191.00 218.93 200.60M236.49 181.40 224.06 181.40 224.06 200.60M224.06 190.81 233.53 190.81M241.03 202.90 251.88 179.10M257.02 200.60 264.12 181.40 271.23 200.60M259.58 193.69 268.66 193.69M276.36 200.60 276.36 181.40 284.05 181.40 284.05 181.40 285.38 181.56 286.62 182.04 287.68 182.81 288.50 183.80 289.01 184.96 289.18 186.20 289.01 187.44 288.50 188.60 287.68 189.59 286.62 190.36 285.38 190.84 284.05 191.00 276.36 191.00M283.46 191.00 289.38 200.60M294.51 181.40 298.26 200.60 303.39 181.40 308.52 200.60 312.27 181.40M347.01 181.40 334.58 181.40 334.58 200.60M334.58 190.81 344.05 190.81M363.78 193.59 363.57 195.41 362.96 197.10 361.99 198.55 360.72 199.66 359.25 200.36 357.67 200.60 356.08 200.36 354.61 199.66 353.34 198.55 352.37 197.10 351.76 195.41 351.55 193.59 351.76 191.78 352.37 190.09 353.34 188.64 354.61 187.52 356.08 186.82 357.67 186.58 359.25 186.82 360.72 187.52 361.99 188.64 362.96 190.09 363.57 191.78 363.78 193.59M368.91 186.58 368.91 200.60M368.91 191.77 370.10 188.89 372.27 187.06 374.84 186.58 377.20 186.78 378.78 187.54M383.91 193.59 396.15 193.59 396.15 193.59 395.95 191.83 395.38 190.18 394.46 188.76 393.26 187.64 391.85 186.90 390.32 186.59 388.78 186.73 387.31 187.31 386.02 188.30 384.99 189.62 384.28 191.20 383.94 192.93 383.99 194.70 384.43 196.40 385.22 197.92 386.33 199.17 387.67 200.06 389.16 200.53 390.71 200.56 392.21 200.14 393.58 199.30 394.72 198.10M412.43 189.09 411.31 187.92 409.96 187.09 408.47 186.65 406.94 186.62 405.44 187.01 404.06 187.78 402.90 188.90 402.02 190.30 401.47 191.90 401.28 193.59 401.47 195.29 402.02 196.88 402.90 198.28 404.06 199.40 405.44 200.18 406.94 200.56 408.47 200.53 409.96 200.09 411.31 199.26 412.43 198.10M430.29 193.59 430.08 195.41 429.47 197.10 428.50 198.55 427.23 199.66 425.76 200.36 424.17 200.60 422.59 200.36 421.11 199.66 419.85 198.55 418.87 197.10 418.26 195.41 418.06 193.59 418.26 191.78 418.87 190.09 419.85 188.64 421.11 187.52 422.59 186.82 424.17 186.58 425.76 186.82 427.23 187.52 428.50 188.64 429.47 190.09 430.08 191.78 430.29 193.59M430.29 186.58 430.29 200.60M446.63 188.92 445.60 187.81 444.01 187.01 442.08 186.61 440.05 186.68 438.18 187.20 436.74 188.10 435.89 189.27 435.76 190.55 436.35 191.78 437.60 192.79 439.34 193.46 441.34 193.69 441.34 193.50 443.45 193.73 445.28 194.39 446.59 195.41 447.22 196.64 447.08 197.92 446.19 199.09 444.67 199.99 442.71 200.50 440.57 200.57 438.53 200.17 436.86 199.37 435.78 198.26M454.76 181.40 454.76 198.10 455.55 199.83 457.33 200.60 459.50 200.22M452.39 186.58 459.10 186.58M481.80 186.58 487.72 200.60 493.64 186.58M511.01 193.59 510.80 195.41 510.19 197.10 509.22 198.55 507.95 199.66 506.47 200.36 504.89 200.60 503.31 200.36 501.83 199.66 500.56 198.55 499.59 197.10 498.98 195.41 498.77 193.59 498.98 191.78 499.59 190.09 500.56 188.64 501.83 187.52 503.31 186.82 504.89 186.58 506.47 186.82 507.95 187.52 509.22 188.64 510.19 190.09 510.80 191.78 511.01 193.59M511.01 186.58 511.01 200.60M516.14 181.40 516.14 200.60M522.85 186.58 522.85 200.60M522.85 181.78 522.85 183.13M541.79 193.59 541.59 195.41 540.98 197.10 540.00 198.55 538.74 199.66 537.26 200.36 535.68 200.60 534.09 200.36 532.62 199.66 531.35 198.55 530.38 197.10 529.77 195.41 529.56 193.59 529.77 191.78 530.38 190.09 531.35 188.64 532.62 187.52 534.09 186.82 535.68 186.58 537.26 186.82 538.74 187.52 540.00 188.64 540.98 190.09 541.59 191.78 541.79 193.59M541.79 181.40 541.79 200.60M564.10 189.46 564.32 187.38 564.97 185.43 566.00 183.76 567.35 182.48 568.92 181.67 570.61 181.40 572.29 181.67 573.86 182.48 575.21 183.76 576.25 185.43 576.90 187.38 577.12 189.46 575.94 194.84 575.94 194.84 575.68 196.62 574.92 198.23 573.74 199.50 572.25 200.32 570.61 200.60 568.96 200.32 567.48 199.50 566.30 198.23 565.54 196.62 565.28 194.84 564.10 189.46M594.49 181.40 584.23 181.40 583.04 189.85 583.96 189.95 585.66 188.78 587.65 188.18 589.73 188.22 591.70 188.89 593.34 190.12 594.50 191.78 595.05 193.71 594.93 195.71 594.15 197.57 592.81 199.10 591.03 200.14 588.99 200.59 586.92 200.40 585.01 199.59 583.47 198.24 582.45 196.49M600.41 189.46 600.63 187.38 601.28 185.43 602.32 183.76 603.66 182.48 605.24 181.67 606.92 181.40 608.61 181.67 610.18 182.48 611.53 183.76 612.56 185.43 613.21 187.38 613.43 189.46 612.25 194.84 612.25 194.84 611.99 196.62 611.23 198.23 610.05 199.50 608.57 200.32 606.92 200.60 605.27 200.32 603.79 199.50 602.61 198.23 601.85 196.62 601.59 194.84 600.41 189.46M618.56 189.46 618.79 187.38 619.44 185.43 620.47 183.76 621.82 182.48 623.39 181.67 625.08 181.40 626.76 181.67 628.33 182.48 629.68 183.76 630.72 185.43 631.37 187.38 631.59 189.46 630.41 194.84 630.41 194.84 630.15 196.62 629.39 198.23 628.21 199.50 626.72 200.32 625.08 200.60 623.43 200.32 621.95 199.50 620.77 198.23 620.01 196.62 619.75 194.84 618.56 189.46M636.72 181.40 650.14 181.40 636.72 200.60 650.14 200.60M672.44 200.60 672.44 181.40 680.83 197.34 689.22 181.40 689.22 200.60M706.58 193.59 706.38 195.41 705.76 197.10 704.79 198.55 703.53 199.66 702.05 200.36 700.47 200.60 698.88 200.36 697.41 199.66 696.14 198.55 695.17 197.10 694.56 195.41 694.35 193.59 694.56 191.78 695.17 190.09 696.14 188.64 697.41 187.52 698.88 186.82 700.47 186.58 702.05 186.82 703.53 187.52 704.79 188.64 705.76 190.09 706.38 191.78 706.58 193.59M711.72 186.58 711.72 200.60M711.72 191.00 711.72 192.34 711.92 190.85 712.51 189.46 713.45 188.27 714.68 187.36 716.10 186.78 717.64 186.58 719.17 186.78 720.60 187.36 721.82 188.27 722.76 189.46 723.35 190.85 723.56 192.34 723.56 200.60M746.08 186.66 746.41 185.26 747.11 183.97 748.13 182.89 749.42 182.07 750.89 181.56 752.45 181.40 754.00 181.60 755.46 182.14 756.72 182.99 757.72 184.10 758.38 185.39 758.67 186.80 758.57 188.23 758.09 189.59 745.86 200.60 759.28 200.60M765.16 184.56 766.05 183.25 767.39 182.23 769.05 181.60 770.87 181.40 772.68 181.67 774.30 182.37 775.57 183.45 776.38 184.79 776.64 186.26 776.34 187.73 775.49 189.05 774.18 190.10 772.54 190.77 770.72 191.00 768.75 191.00M769.54 191.00 770.53 191.00 772.52 191.23 774.33 191.90 775.77 192.95 776.70 194.27 777.04 195.74 776.75 197.21 775.86 198.55 774.46 199.63 772.68 200.33 770.69 200.60 768.68 200.40 766.86 199.77 765.38 198.75 764.41 197.44M809.60 181.40 809.60 195.61 809.60 195.61 809.43 196.90 808.94 198.10 808.16 199.14 807.14 199.93 805.95 200.43 804.67 200.60 803.39 200.43 802.20 199.93 801.18 199.14 800.40 198.10 799.90 196.90 799.73 195.61 799.73 194.65M826.97 193.59 826.76 195.41 826.15 197.10 825.18 198.55 823.91 199.66 822.43 200.36 820.85 200.60 819.27 200.36 817.79 199.66 816.52 198.55 815.55 197.10 814.94 195.41 814.73 193.59 814.94 191.78 815.55 190.09 816.52 188.64 817.79 187.52 819.27 186.82 820.85 186.58 822.43 186.82 823.91 187.52 825.18 188.64 826.15 190.09 826.76 191.78 826.97 193.59M826.97 186.58 826.97 200.60M832.10 186.58 832.10 200.60M832.10 191.00 832.10 192.34 832.30 190.85 832.89 189.46 833.83 188.27 835.06 187.36 836.49 186.78 838.02 186.58 839.55 186.78 840.98 187.36 842.21 188.27 843.15 189.46 843.74 190.85 843.94 192.34 843.94 200.60M866.46 186.66 866.79 185.26 867.49 183.97 868.52 182.89 869.80 182.07 871.27 181.56 872.83 181.40 874.39 181.60 875.84 182.14 877.11 182.99 878.10 184.10 878.77 185.39 879.06 186.80 878.96 188.23 878.48 189.59 866.24 200.60 879.66 200.60M884.79 189.46 885.02 187.38 885.67 185.43 886.70 183.76 888.05 182.48 889.62 181.67 891.31 181.40 892.99 181.67 894.56 182.48 895.91 183.76 896.95 185.43 897.60 187.38 897.82 189.46 896.63 194.84 896.63 194.84 896.37 196.62 895.62 198.23 894.44 199.50 892.95 200.32 891.31 200.60 889.66 200.32 888.17 199.50 886.99 198.23 886.24 196.62 885.98 194.84 884.79 189.46M902.95 185.82 906.70 183.51 910.45 181.40 910.45 200.60M915.80 186.66 916.13 185.26 916.83 183.97 917.86 182.89 919.14 182.07 920.61 181.56 922.17 181.40 923.73 181.60 925.18 182.14 926.45 182.99 927.44 184.10 928.10 185.39 928.40 186.80 928.30 188.23 927.82 189.59 915.58 200.60 929.00 200.60M438.40 248.00 438.40 236.60 443.24 236.60 443.24 236.60 444.11 236.70 444.92 237.00 445.61 237.47 446.15 238.08 446.48 238.80 446.60 239.56 446.48 240.33 446.15 241.05 445.61 241.66 444.92 242.13 444.11 242.43 443.24 242.53 438.40 242.53M449.82 240.93 458.02 240.93M449.82 243.67 458.02 243.67M468.95 236.60 462.49 236.60 461.75 241.62 462.33 241.68 463.39 240.98 464.64 240.63 465.96 240.65 467.19 241.05 468.23 241.78 468.96 242.77 469.30 243.91 469.22 245.10 468.74 246.20 467.89 247.11 466.77 247.73 465.49 247.99 464.18 247.88 462.98 247.40 462.01 246.60 461.37 245.56M472.67 241.39 472.81 240.15 473.22 238.99 473.87 238.00 474.72 237.24 475.71 236.76 476.77 236.60 477.83 236.76 478.82 237.24 479.67 238.00 480.32 238.99 480.73 240.15 480.87 241.39 480.13 244.58 480.13 244.58 479.96 245.64 479.48 246.59 478.74 247.35 477.81 247.83 476.77 248.00 475.74 247.83 474.80 247.35 474.06 246.59 473.58 245.64 473.42 244.58 472.67 241.39M484.10 241.39 484.24 240.15 484.65 238.99 485.30 238.00 486.15 237.24 487.14 236.76 488.20 236.60 489.26 236.76 490.25 237.24 491.09 238.00 491.75 238.99 492.16 240.15 492.29 241.39 491.55 244.58 491.55 244.58 491.39 245.64 490.91 246.59 490.17 247.35 489.23 247.83 488.20 248.00 487.16 247.83 486.23 247.35 485.48 246.59 485.01 245.64 484.84 244.58 484.10 241.39M495.52 247.32 496.14 247.32 496.14 248.00 495.52 248.00 495.52 247.32M500.37 241.39 500.51 240.15 500.92 238.99 501.57 238.00 502.42 237.24 503.40 236.76 504.46 236.60 505.53 236.76 506.51 237.24 507.36 238.00 508.01 238.99 508.42 240.15 508.56 241.39 507.82 244.58 507.82 244.58 507.65 245.64 507.18 246.59 506.44 247.35 505.50 247.83 504.46 248.00 503.43 247.83 502.49 247.35 501.75 246.59 501.28 245.64 501.11 244.58 500.37 241.39M511.79 241.39 511.93 240.15 512.34 238.99 512.99 238.00 513.84 237.24 514.83 236.76 515.89 236.60 516.95 236.76 517.94 237.24 518.79 238.00 519.44 238.99 519.85 240.15 519.99 241.39 519.24 244.58 519.24 244.58 519.08 245.64 518.60 246.59 517.86 247.35 516.93 247.83 515.89 248.00 514.85 247.83 513.92 247.35 513.18 246.59 512.70 245.64 512.54 244.58 511.79 241.39M534.02 248.00 534.02 236.60 539.30 246.06 544.58 236.60 544.58 248.00M547.80 236.60 547.80 248.00M547.80 236.60 552.65 236.60 552.65 236.60 553.42 236.69 554.14 236.97 554.75 237.40 555.23 237.97 555.53 238.63 555.63 239.34 555.53 240.04 555.23 240.70 554.75 241.27 554.14 241.71 553.42 241.98 552.65 242.07 547.80 242.07M552.65 242.07 552.77 242.07 553.61 242.17 554.39 242.47 555.05 242.94 555.57 243.55 555.89 244.27 556.00 245.04 555.89 245.80 555.57 246.52 555.05 247.13 554.39 247.60 553.61 247.90 552.77 248.00 547.80 248.00M258.00 271.92 258.14 270.72 258.54 269.61 259.19 268.65 260.03 267.92 261.01 267.46 262.05 267.30 263.10 267.46 264.08 267.92 264.92 268.65 265.57 269.61 265.97 270.72 266.11 271.92 265.37 275.00 265.37 275.00 265.21 276.02 264.74 276.94 264.00 277.67 263.08 278.14 262.05 278.30 261.03 278.14 260.10 277.67 259.37 276.94 258.90 276.02 258.74 275.00 258.00 271.92M276.92 267.30 270.53 267.30 269.79 272.14 270.37 272.20 271.42 271.53 272.66 271.19 273.96 271.21 275.19 271.59 276.21 272.30 276.93 273.25 277.27 274.36 277.19 275.50 276.71 276.56 275.88 277.44 274.77 278.04 273.50 278.29 272.21 278.18 271.02 277.72 270.06 276.95 269.43 275.95M280.61 270.82 281.22 270.82 281.22 271.48 280.61 271.48 280.61 270.82M280.61 277.64 281.22 277.64 281.22 278.30 280.61 278.30 280.61 277.64M288.59 271.92 288.73 270.72 289.14 269.61 289.78 268.65 290.62 267.92 291.60 267.46 292.65 267.30 293.70 267.46 294.68 267.92 295.51 268.65 296.16 269.61 296.56 270.72 296.70 271.92 295.97 275.00 295.97 275.00 295.80 276.02 295.33 276.94 294.60 277.67 293.67 278.14 292.65 278.30 291.62 278.14 290.70 277.67 289.96 276.94 289.49 276.02 289.33 275.00 288.59 271.92M299.90 271.92 300.03 270.72 300.44 269.61 301.08 268.65 301.92 267.92 302.90 267.46 303.95 267.30 305.00 267.46 305.98 267.92 306.82 268.65 307.46 269.61 307.87 270.72 308.01 271.92 307.27 275.00 307.27 275.00 307.11 276.02 306.64 276.94 305.90 277.67 304.98 278.14 303.95 278.30 302.93 278.14 302.00 277.67 301.27 276.94 300.80 276.02 300.63 275.00 299.90 271.92M311.20 267.30 319.56 267.30 311.20 278.30 319.56 278.30M333.44 278.30 333.44 267.30 338.66 276.43 343.88 267.30 343.88 278.30M354.69 274.29 354.56 275.32 354.18 276.29 353.58 277.12 352.79 277.76 351.87 278.16 350.89 278.30 349.90 278.16 348.98 277.76 348.19 277.12 347.59 276.29 347.21 275.32 347.08 274.29 347.21 273.25 347.59 272.28 348.19 271.45 348.98 270.81 349.90 270.41 350.89 270.27 351.87 270.41 352.79 270.81 353.58 271.45 354.18 272.28 354.56 273.25 354.69 274.29M357.89 270.27 357.89 278.30M357.89 272.80 357.89 273.57 358.01 272.72 358.38 271.92 358.97 271.24 359.73 270.71 360.62 270.38 361.57 270.27 362.53 270.38 363.42 270.71 364.18 271.24 364.77 271.92 365.13 272.72 365.26 273.57 365.26 278.30M379.28 270.31 379.49 269.51 379.92 268.78 380.56 268.15 381.36 267.68 382.28 267.39 383.25 267.30 384.22 267.41 385.12 267.72 385.91 268.21 386.53 268.84 386.94 269.59 387.12 270.39 387.06 271.21 386.76 271.99 379.14 278.30 387.50 278.30M391.16 269.11 391.71 268.36 392.55 267.78 393.58 267.41 394.72 267.30 395.84 267.45 396.85 267.86 397.64 268.47 398.15 269.24 398.31 270.08 398.12 270.93 397.59 271.68 396.78 272.28 395.76 272.67 394.63 272.80 393.40 272.80M393.89 272.80 394.50 272.80 395.75 272.93 396.87 273.32 397.76 273.92 398.35 274.67 398.56 275.52 398.38 276.36 397.82 277.13 396.95 277.74 395.84 278.15 394.60 278.30 393.36 278.19 392.22 277.82 391.30 277.24 390.69 276.49M418.83 267.30 418.83 275.44 418.83 275.44 418.72 276.18 418.42 276.87 417.93 277.46 417.29 277.92 416.55 278.20 415.76 278.30 414.96 278.20 414.22 277.92 413.59 277.46 413.10 276.87 412.79 276.18 412.69 275.44 412.69 274.89M429.64 274.29 429.51 275.32 429.13 276.29 428.53 277.12 427.74 277.76 426.82 278.16 425.83 278.30 424.85 278.16 423.93 277.76 423.14 277.12 422.53 276.29 422.15 275.32 422.02 274.29 422.15 273.25 422.53 272.28 423.14 271.45 423.93 270.81 424.85 270.41 425.83 270.27 426.82 270.41 427.74 270.81 428.53 271.45 429.13 272.28 429.51 273.25 429.64 274.29M429.64 270.27 429.64 278.30M432.84 270.27 432.84 278.30M432.84 272.80 432.84 273.57 432.96 272.72 433.33 271.92 433.92 271.24 434.68 270.71 435.57 270.38 436.52 270.27 437.48 270.38 438.36 270.71 439.13 271.24 439.71 271.92 440.08 272.72 440.21 273.57 440.21 278.30M454.23 270.31 454.43 269.51 454.87 268.78 455.51 268.15 456.31 267.68 457.22 267.39 458.19 267.30 459.16 267.41 460.07 267.72 460.86 268.21 461.48 268.84 461.89 269.59 462.07 270.39 462.01 271.21 461.71 271.99 454.09 278.30 462.45 278.30M465.64 271.92 465.78 270.72 466.18 269.61 466.83 268.65 467.67 267.92 468.65 267.46 469.70 267.30 470.74 267.46 471.72 267.92 472.56 268.65 473.21 269.61 473.61 270.72 473.75 271.92 473.01 275.00 473.01 275.00 472.85 276.02 472.38 276.94 471.65 277.67 470.72 278.14 469.70 278.30 468.67 278.14 467.75 277.67 467.01 276.94 466.54 276.02 466.38 275.00 465.64 271.92M476.94 269.83 479.28 268.51 481.61 267.30 481.61 278.30M484.95 270.31 485.15 269.51 485.59 268.78 486.22 268.15 487.02 267.68 487.94 267.39 488.91 267.30 489.88 267.41 490.79 267.72 491.57 268.21 492.19 268.84 492.60 269.59 492.79 270.39 492.73 271.21 492.43 271.99 484.81 278.30 493.16 278.30M539.11 267.30 547.10 267.30M543.11 267.30 543.11 278.30M550.29 271.48 558.40 271.48M550.29 274.12 558.40 274.12M561.60 269.83 563.93 268.51 566.27 267.30 566.27 278.30M577.08 270.00 576.90 270.83 576.40 271.58 575.61 272.18 574.62 272.56 573.52 272.69 572.41 272.56 571.42 272.18 570.63 271.58 570.13 270.83 569.95 270.00 570.13 269.16 570.63 268.41 571.42 267.81 572.41 267.43 573.52 267.30 574.62 267.43 575.61 267.81 576.40 268.41 576.90 269.16 577.08 270.00M577.57 275.50 577.37 276.36 576.80 277.14 575.90 277.76 574.77 278.16 573.52 278.30 572.26 278.16 571.13 277.76 570.24 277.14 569.66 276.36 569.46 275.50 569.66 274.63 570.24 273.85 571.13 273.23 572.26 272.83 573.52 272.69 574.77 272.83 575.90 273.23 576.80 273.85 577.37 274.63 577.57 275.50M580.76 271.92 580.90 270.72 581.31 269.61 581.95 268.65 582.79 267.92 583.77 267.46 584.82 267.30 585.87 267.46 586.85 267.92 587.69 268.65 588.33 269.61 588.74 270.72 588.87 271.92 588.14 275.00 588.14 275.00 587.97 276.02 587.50 276.94 586.77 277.67 585.84 278.14 584.82 278.30 583.79 278.14 582.87 277.67 582.14 276.94 581.66 276.02 581.50 275.00 580.76 271.92M592.07 271.92 592.21 270.72 592.61 269.61 593.26 268.65 594.10 267.92 595.07 267.46 596.12 267.30 597.17 267.46 598.15 267.92 598.99 268.65 599.63 269.61 600.04 270.72 600.18 271.92 599.44 275.00 599.44 275.00 599.28 276.02 598.81 276.94 598.07 277.67 597.15 278.14 596.12 278.30 595.10 278.14 594.17 277.67 593.44 276.94 592.97 276.02 592.81 275.00 592.07 271.92M603.37 271.92 603.51 270.72 603.91 269.61 604.56 268.65 605.40 267.92 606.38 267.46 607.43 267.30 608.48 267.46 609.45 267.92 610.29 268.65 610.94 269.61 611.34 270.72 611.48 271.92 610.74 275.00 610.74 275.00 610.58 276.02 610.11 276.94 609.38 277.67 608.45 278.14 607.43 278.30 606.40 278.14 605.48 277.67 604.74 276.94 604.27 276.02 604.11 275.00 603.37 271.92M614.68 277.64 615.29 277.64 615.29 278.30 614.68 278.30 614.68 277.64M619.47 271.92 619.60 270.72 620.01 269.61 620.65 268.65 621.49 267.92 622.47 267.46 623.52 267.30 624.57 267.46 625.55 267.92 626.39 268.65 627.03 269.61 627.44 270.72 627.58 271.92 626.84 275.00 626.84 275.00 626.68 276.02 626.21 276.94 625.47 277.67 624.55 278.14 623.52 278.30 622.50 278.14 621.57 277.67 620.84 276.94 620.37 276.02 620.20 275.00 619.47 271.92M648.44 271.61 647.79 270.97 646.81 270.51 645.60 270.29 644.34 270.32 643.18 270.62 642.28 271.14 641.75 271.81 641.67 272.54 642.04 273.24 642.82 273.83 643.90 274.21 645.15 274.34 645.15 274.23 646.46 274.36 647.60 274.74 648.41 275.33 648.81 276.03 648.72 276.76 648.16 277.43 647.22 277.95 646.00 278.25 644.66 278.28 643.40 278.06 642.36 277.60 641.68 276.96M666.95 265.81 665.75 266.59 664.70 267.57 663.86 268.72 663.23 270.00 662.84 271.38 662.72 272.80 662.84 274.22 663.23 275.60 663.86 276.88 664.70 278.03 665.75 279.01 666.95 279.79M677.83 267.30 671.44 267.30 670.70 272.14 671.27 272.20 672.33 271.53 673.57 271.19 674.87 271.21 676.09 271.59 677.12 272.30 677.83 273.25 678.17 274.36 678.10 275.50 677.62 276.56 676.78 277.44 675.67 278.04 674.41 278.29 673.11 278.18 671.93 277.72 670.97 276.95 670.33 275.95M681.51 270.82 682.13 270.82 682.13 271.48 681.51 271.48 681.51 270.82M681.51 277.64 682.13 277.64 682.13 278.30 681.51 278.30 681.51 277.64M689.50 271.92 689.64 270.72 690.04 269.61 690.69 268.65 691.53 267.92 692.50 267.46 693.55 267.30 694.60 267.46 695.58 267.92 696.42 268.65 697.07 269.61 697.47 270.72 697.61 271.92 696.87 275.00 696.87 275.00 696.71 276.02 696.24 276.94 695.50 277.67 694.58 278.14 693.55 278.30 692.53 278.14 691.60 277.67 690.87 276.94 690.40 276.02 690.24 275.00 689.50 271.92M700.80 271.92 700.94 270.72 701.35 269.61 701.99 268.65 702.83 267.92 703.81 267.46 704.86 267.30 705.91 267.46 706.88 267.92 707.72 268.65 708.37 269.61 708.77 270.72 708.91 271.92 708.17 275.00 708.17 275.00 708.01 276.02 707.54 276.94 706.81 277.67 705.88 278.14 704.86 278.30 703.83 278.14 702.91 277.67 702.17 276.94 701.70 276.02 701.54 275.00 700.80 271.92M712.11 270.82 712.72 270.82 712.72 271.48 712.11 271.48 712.11 270.82M712.11 277.64 712.72 277.64 712.72 278.30 712.11 278.30 712.11 277.64M720.09 271.92 720.23 270.72 720.64 269.61 721.28 268.65 722.12 267.92 723.10 267.46 724.15 267.30 725.20 267.46 726.17 267.92 727.01 268.65 727.66 269.61 728.06 270.72 728.20 271.92 727.46 275.00 727.46 275.00 727.30 276.02 726.83 276.94 726.10 277.67 725.17 278.14 724.15 278.30 723.12 278.14 722.20 277.67 721.46 276.94 720.99 276.02 720.83 275.00 720.09 271.92M731.40 271.92 731.53 270.72 731.94 269.61 732.58 268.65 733.42 267.92 734.40 267.46 735.45 267.30 736.50 267.46 737.48 267.92 738.32 268.65 738.96 269.61 739.37 270.72 739.51 271.92 738.77 275.00 738.77 275.00 738.61 276.02 738.13 276.94 737.40 277.67 736.48 278.14 735.45 278.30 734.43 278.14 733.50 277.67 732.77 276.94 732.30 276.02 732.13 275.00 731.40 271.92M742.76 265.81 743.97 266.59 745.01 267.57 745.86 268.72 746.49 270.00 746.87 271.38 747.00 272.80 746.87 274.22 746.49 275.60 745.86 276.88 745.01 278.03 743.97 279.01 742.76 279.79M125.30 797.38 127.76 805.70 130.46 797.38 133.16 805.70 135.61 797.38M153.72 792.75 152.51 793.56 151.47 794.58 150.62 795.77 150.00 797.10 149.61 798.53 149.48 800.00 149.61 801.47 150.00 802.90 150.62 804.23 151.47 805.42 152.51 806.44 153.72 807.25M156.97 797.38 156.97 805.70M156.97 799.54 156.97 799.66 157.10 798.95 157.47 798.32 158.04 797.81 158.75 797.49 159.55 797.38 160.35 797.49 161.07 797.81 161.64 798.32 162.00 798.95 162.13 799.66 162.13 805.70M162.13 799.66 162.13 799.66 162.26 798.95 162.62 798.32 163.19 797.81 163.91 797.49 164.71 797.38 165.50 797.49 166.22 797.81 166.79 798.32 167.16 798.95 167.29 799.66 167.29 805.70M170.48 807.07 177.23 792.93M187.39 798.77 186.75 798.11 185.76 797.63 184.56 797.40 183.30 797.43 182.14 797.74 181.24 798.28 180.71 798.97 180.63 799.73 181.00 800.46 181.78 801.06 182.86 801.46 184.10 801.60 184.10 801.48 185.41 801.62 186.55 802.02 187.37 802.62 187.76 803.35 187.67 804.11 187.12 804.80 186.17 805.34 184.95 805.64 183.62 805.68 182.36 805.45 181.32 804.97 180.64 804.31M192.08 804.79 192.08 805.81 191.22 807.52M214.44 795.98 213.91 795.33 213.16 794.81 212.27 794.46 211.30 794.31 210.30 794.36 209.36 794.61 208.54 795.05 207.89 795.65 207.47 796.35 207.31 797.11 207.41 797.88 207.77 798.61 208.36 799.23 209.14 799.71 210.06 800.01 211.05 800.11 211.05 799.89 212.10 799.99 213.08 800.29 213.92 800.77 214.55 801.39 214.93 802.12 215.04 802.89 214.86 803.65 214.42 804.35 213.73 804.95 212.85 805.39 211.85 805.64 210.79 805.69 209.75 805.54 208.80 805.19 208.01 804.67 207.43 804.02M218.23 794.30 218.23 805.70M218.23 800.00 218.23 800.80 218.36 799.91 218.73 799.09 219.31 798.38 220.07 797.84 220.96 797.49 221.92 797.38 222.87 797.49 223.76 797.84 224.52 798.38 225.10 799.09 225.47 799.91 225.60 800.80 225.60 805.70M236.40 801.54 236.27 802.62 235.89 803.62 235.29 804.48 234.50 805.14 233.58 805.56 232.60 805.70 231.61 805.56 230.69 805.14 229.90 804.48 229.30 803.62 228.92 802.62 228.79 801.54 228.92 800.46 229.30 799.46 229.90 798.60 230.69 797.94 231.61 797.52 232.60 797.38 233.58 797.52 234.50 797.94 235.29 798.60 235.89 799.46 236.27 800.46 236.40 801.54M236.40 797.38 236.40 805.70M247.20 801.54 247.08 802.62 246.70 803.62 246.09 804.48 245.30 805.14 244.38 805.56 243.40 805.70 242.41 805.56 241.50 805.14 240.71 804.48 240.10 803.62 239.72 802.62 239.59 801.54 239.72 800.46 240.10 799.46 240.71 798.60 241.50 797.94 242.41 797.52 243.40 797.38 244.38 797.52 245.30 797.94 246.09 798.60 246.70 799.46 247.08 800.46 247.20 801.54M247.20 794.30 247.20 805.70M250.40 801.54 258.01 801.54 258.01 801.54 257.89 800.49 257.53 799.52 256.96 798.67 256.21 798.00 255.33 797.57 254.38 797.38 253.42 797.47 252.51 797.81 251.71 798.39 251.07 799.18 250.63 800.12 250.41 801.14 250.44 802.20 250.72 803.21 251.21 804.11 251.90 804.85 252.73 805.38 253.66 805.66 254.62 805.67 255.56 805.43 256.41 804.93 257.12 804.21M268.81 801.54 268.68 802.62 268.30 803.62 267.70 804.48 266.91 805.14 265.99 805.56 265.01 805.70 264.02 805.56 263.10 805.14 262.31 804.48 261.71 803.62 261.33 802.62 261.20 801.54 261.33 800.46 261.71 799.46 262.31 798.60 263.10 797.94 264.02 797.52 265.01 797.38 265.99 797.52 266.91 797.94 267.70 798.60 268.30 799.46 268.68 800.46 268.81 801.54M268.81 794.30 268.81 805.70M272.07 792.75 273.27 793.56 274.31 794.58 275.16 795.77 275.79 797.10 276.17 798.53 276.30 800.00 276.17 801.47 275.79 802.90 275.16 804.23 274.31 805.42 273.27 806.44 272.07 807.25M682.60 805.60 682.60 793.60 687.87 803.56 693.13 793.60 693.13 805.60M696.36 796.84 696.36 805.60M696.36 793.84 696.36 794.68M700.57 796.84 700.57 805.60M700.57 799.60 700.57 800.44 700.70 799.51 701.07 798.64 701.66 797.89 702.43 797.32 703.32 796.96 704.29 796.84 705.25 796.96 706.15 797.32 706.92 797.89 707.51 798.64 707.88 799.51 708.00 800.44 708.00 805.60M711.23 798.16 719.41 798.16M711.23 801.04 719.41 801.04M722.63 800.68 733.78 800.68M737.14 796.89 737.35 796.01 737.79 795.21 738.43 794.53 739.24 794.02 740.16 793.70 741.14 793.60 742.12 793.72 743.03 794.06 743.82 794.59 744.45 795.28 744.87 796.10 745.05 796.98 744.99 797.87 744.69 798.72 737.00 805.60 745.43 805.60M748.65 804.88 749.27 804.88 749.27 805.60 748.65 805.60 748.65 804.88M754.35 804.40 755.71 805.48 757.57 805.60 758.63 805.41 759.62 804.86 760.47 803.98 761.12 802.84 761.52 801.51 761.66 800.08 761.66 797.56 761.66 797.56 761.54 798.51 761.19 799.40 760.63 800.19 759.90 800.82 759.02 801.26 758.07 801.49 757.08 801.49 756.12 801.26 755.25 800.82 754.51 800.19 753.95 799.40 753.60 798.51 753.48 797.56 753.60 796.61 753.95 795.72 754.51 794.93 755.25 794.30 756.12 793.86 757.08 793.63 758.07 793.63 759.02 793.86 759.90 794.30 760.63 794.93 761.19 795.72 761.54 796.61 761.66 797.56M764.88 793.60 773.06 793.60 767.24 805.60M787.07 805.60 787.07 793.60 792.33 803.56 797.60 793.60 797.60 805.60M808.51 801.22 808.37 802.35 807.99 803.41 807.38 804.32 806.59 805.01 805.66 805.45 804.66 805.60 803.67 805.45 802.74 805.01 801.95 804.32 801.34 803.41 800.95 802.35 800.82 801.22 800.95 800.09 801.34 799.03 801.95 798.12 802.74 797.43 803.67 796.99 804.66 796.84 805.66 796.99 806.59 797.43 807.38 798.12 807.99 799.03 808.37 800.09 808.51 801.22M808.51 796.84 808.51 805.60M811.73 796.84 819.16 805.60M819.16 796.84 811.73 805.60M822.39 798.16 830.56 798.16M822.39 801.04 830.56 801.04M841.47 796.54 841.29 797.45 840.78 798.27 839.99 798.92 838.99 799.34 837.88 799.48 836.77 799.34 835.76 798.92 834.97 798.27 834.46 797.45 834.28 796.54 834.46 795.63 834.97 794.81 835.76 794.16 836.77 793.74 837.88 793.60 838.99 793.74 839.99 794.16 840.78 794.81 841.29 795.63 841.47 796.54M841.97 802.54 841.76 803.49 841.18 804.34 840.28 805.02 839.14 805.45 837.88 805.60 836.61 805.45 835.47 805.02 834.57 804.34 833.99 803.49 833.79 802.54 833.99 801.59 834.57 800.74 835.47 800.06 836.61 799.63 837.88 799.48 839.14 799.63 840.28 800.06 841.18 800.74 841.76 801.59 841.97 802.54M845.19 804.88 845.81 804.88 845.81 805.60 845.19 805.60 845.19 804.88M850.02 793.60 858.20 793.60 852.37 805.60M869.10 793.60 862.66 793.60 861.92 798.88 862.49 798.94 863.56 798.21 864.81 797.84 866.12 797.86 867.35 798.28 868.39 799.05 869.11 800.09 869.45 801.30 869.38 802.54 868.89 803.71 868.05 804.66 866.93 805.31 865.65 805.59 864.35 805.47 863.15 804.97 862.18 804.12 861.54 803.03M191.31 899.35 190.58 898.46 189.70 897.86 188.74 897.61 187.76 897.71 186.84 898.16 186.04 898.94 185.42 899.97 185.03 901.19 184.90 902.50 185.03 903.81 185.42 905.03 186.04 906.06 186.84 906.84 187.76 907.29 188.74 907.39 189.70 907.14 190.58 906.54 191.31 905.65M194.17 907.40 197.80 897.60 201.43 907.40M195.48 903.87 200.12 903.87M204.05 907.40 204.05 897.60 207.98 897.60 207.98 897.60 208.69 897.69 209.34 897.94 209.91 898.35 210.34 898.87 210.61 899.49 210.70 900.15 210.61 900.81 210.34 901.42 209.91 901.95 209.34 902.35 208.69 902.61 207.98 902.70 204.05 902.70M219.38 899.04 218.94 898.48 218.33 898.04 217.60 897.74 216.80 897.61 215.98 897.65 215.21 897.87 214.53 898.25 214.01 898.76 213.66 899.36 213.53 900.02 213.61 900.68 213.90 901.30 214.39 901.84 215.03 902.25 215.79 902.51 216.60 902.60 216.60 902.40 217.46 902.49 218.27 902.75 218.95 903.16 219.47 903.70 219.78 904.32 219.87 904.98 219.73 905.64 219.36 906.24 218.80 906.75 218.08 907.13 217.25 907.35 216.38 907.39 215.53 907.26 214.75 906.96 214.10 906.52 213.63 905.96M222.49 908.58 228.04 896.42M237.92 902.50 237.82 903.59 237.56 904.63 237.12 905.56 236.55 906.33 235.86 906.91 235.09 907.28 234.29 907.40 233.48 907.28 232.71 906.91 232.02 906.33 231.45 905.56 231.02 904.63 230.75 903.59 230.66 902.50 230.75 901.41 231.02 900.37 231.45 899.44 232.02 898.67 232.71 898.09 233.48 897.72 234.29 897.60 235.09 897.72 235.86 898.09 236.55 898.67 237.12 899.44 237.56 900.37 237.82 901.41 237.92 902.50M240.54 897.60 240.54 904.36 240.54 904.36 240.62 905.04 240.87 905.68 241.26 906.26 241.79 906.74 242.42 907.10 243.12 907.32 243.86 907.40 244.60 907.32 245.30 907.10 245.94 906.74 246.46 906.26 246.86 905.68 247.10 905.04 247.19 904.36 247.19 897.60M264.62 897.60 258.58 897.60 258.58 907.40 264.62 907.40M258.58 902.40 263.42 902.40M267.25 900.25 273.29 907.40M273.29 900.25 267.25 907.40M282.16 903.82 282.06 904.75 281.74 905.61 281.25 906.35 280.60 906.92 279.85 907.28 279.04 907.40 278.23 907.28 277.48 906.92 276.83 906.35 276.33 905.61 276.02 904.75 275.91 903.82 276.02 902.90 276.33 902.03 276.83 901.29 277.48 900.73 278.23 900.37 279.04 900.25 279.85 900.37 280.60 900.73 281.25 901.29 281.74 902.03 282.06 902.90 282.16 903.82M275.91 900.25 275.91 910.63M284.78 903.82 291.03 903.82 291.03 903.82 290.93 902.92 290.64 902.08 290.17 901.35 289.55 900.78 288.83 900.41 288.06 900.25 287.27 900.32 286.52 900.62 285.86 901.12 285.33 901.79 284.97 902.60 284.80 903.48 284.82 904.39 285.04 905.26 285.45 906.03 286.01 906.67 286.70 907.12 287.46 907.36 288.25 907.38 289.02 907.16 289.72 906.74 290.30 906.12M293.65 900.25 293.65 907.40M293.65 902.89 294.26 901.42 295.37 900.49 296.68 900.25 297.89 900.34 298.69 900.74M301.31 900.25 301.31 907.40M301.31 897.80 301.31 898.48M304.74 900.25 304.74 907.40M304.74 902.11 304.74 902.21 304.84 901.60 305.14 901.05 305.61 900.62 306.20 900.34 306.86 900.25 307.51 900.34 308.10 900.62 308.57 901.05 308.87 901.60 308.97 902.21 308.97 907.40M308.97 902.21 308.97 902.21 309.08 901.60 309.38 901.05 309.84 900.62 310.43 900.34 311.09 900.25 311.74 900.34 312.33 900.62 312.80 901.05 313.10 901.60 313.21 902.21 313.21 907.40M315.83 903.82 322.07 903.82 322.07 903.82 321.97 902.92 321.68 902.08 321.21 901.35 320.60 900.78 319.88 900.41 319.10 900.25 318.31 900.32 317.56 900.62 316.90 901.12 316.38 901.79 316.01 902.60 315.84 903.48 315.86 904.39 316.09 905.26 316.49 906.03 317.06 906.67 317.74 907.12 318.51 907.36 319.30 907.38 320.07 907.16 320.76 906.74 321.34 906.12M324.70 900.25 324.70 907.40M324.70 902.50 324.70 903.19 324.80 902.43 325.10 901.72 325.58 901.11 326.21 900.64 326.94 900.35 327.72 900.25 328.50 900.35 329.23 900.64 329.86 901.11 330.34 901.72 330.64 902.43 330.74 903.19 330.74 907.40M334.57 897.60 334.57 906.13 334.98 907.01 335.88 907.40 336.99 907.20M333.36 900.25 336.79 900.25M345.86 903.82 345.75 904.75 345.44 905.61 344.95 906.35 344.30 906.92 343.55 907.28 342.74 907.40 341.93 907.28 341.17 906.92 340.53 906.35 340.03 905.61 339.72 904.75 339.61 903.82 339.72 902.90 340.03 902.03 340.53 901.29 341.17 900.73 341.93 900.37 342.74 900.25 343.55 900.37 344.30 900.73 344.95 901.29 345.44 902.03 345.75 902.90 345.86 903.82M345.86 900.25 345.86 907.40M348.48 897.60 348.48 907.40M367.03 897.60 360.68 897.60 360.68 907.40M360.68 902.40 365.51 902.40M375.59 903.82 375.49 904.75 375.18 905.61 374.68 906.35 374.03 906.92 373.28 907.28 372.47 907.40 371.66 907.28 370.91 906.92 370.26 906.35 369.76 905.61 369.45 904.75 369.34 903.82 369.45 902.90 369.76 902.03 370.26 901.29 370.91 900.73 371.66 900.37 372.47 900.25 373.28 900.37 374.03 900.73 374.68 901.29 375.18 902.03 375.49 902.90 375.59 903.82M378.21 900.25 378.21 907.40M378.21 902.89 378.82 901.42 379.93 900.49 381.24 900.25 382.45 900.34 383.25 900.74M385.87 903.82 392.12 903.82 392.12 903.82 392.02 902.92 391.73 902.08 391.26 901.35 390.65 900.78 389.93 900.41 389.15 900.25 388.36 900.32 387.61 900.62 386.95 901.12 386.43 901.79 386.06 902.60 385.89 903.48 385.91 904.39 386.14 905.26 386.54 906.03 387.11 906.67 387.79 907.12 388.55 907.36 389.35 907.38 390.11 907.16 390.81 906.74 391.39 906.12M400.44 901.52 399.86 900.93 399.18 900.51 398.42 900.28 397.63 900.27 396.87 900.46 396.17 900.86 395.57 901.43 395.12 902.14 394.84 902.96 394.74 903.82 394.84 904.69 395.12 905.50 395.57 906.22 396.17 906.79 396.87 907.18 397.63 907.38 398.42 907.37 399.18 907.14 399.86 906.72 400.44 906.12M409.56 903.82 409.45 904.75 409.14 905.61 408.64 906.35 408.00 906.92 407.24 907.28 406.44 907.40 405.63 907.28 404.87 906.92 404.23 906.35 403.73 905.61 403.42 904.75 403.31 903.82 403.42 902.90 403.73 902.03 404.23 901.29 404.87 900.73 405.63 900.37 406.44 900.25 407.24 900.37 408.00 900.73 408.64 901.29 409.14 902.03 409.45 902.90 409.56 903.82M409.56 900.25 409.56 907.40M417.90 901.44 417.38 900.87 416.57 900.46 415.58 900.26 414.54 900.29 413.59 900.56 412.85 901.02 412.42 901.62 412.35 902.27 412.66 902.90 413.29 903.41 414.18 903.75 415.20 903.87 415.20 903.77 416.28 903.89 417.21 904.23 417.89 904.75 418.21 905.38 418.14 906.03 417.68 906.63 416.90 907.09 415.90 907.35 414.81 907.38 413.77 907.18 412.92 906.77 412.36 906.21M422.06 897.60 422.06 906.13 422.46 907.01 423.37 907.40 424.48 907.20M420.85 900.25 424.28 900.25M432.82 901.44 432.29 900.87 431.48 900.46 430.50 900.26 429.46 900.29 428.51 900.56 427.77 901.02 427.34 901.62 427.27 902.27 427.57 902.90 428.21 903.41 429.10 903.75 430.12 903.87 430.12 903.77 431.20 903.89 432.13 904.23 432.80 904.75 433.12 905.38 433.05 906.03 432.60 906.63 431.82 907.09 430.82 907.35 429.73 907.38 428.69 907.18 427.83 906.77 427.28 906.21M453.30 897.60 453.30 907.40M459.85 897.60 459.85 907.40M453.30 902.40 459.85 902.40M462.47 897.60 464.39 907.40 467.01 897.60 469.63 907.40 471.55 897.60M474.17 897.60 480.72 897.60M477.44 897.60 477.44 907.40M488.38 897.60 483.34 904.26 490.19 904.26M488.38 897.60 488.38 907.40M492.81 903.38 501.88 903.38M510.55 897.60 504.50 897.60 504.50 907.40 510.55 907.40M504.50 902.40 509.34 902.40M519.52 897.60 513.17 897.60 513.17 907.40M513.17 902.40 518.01 902.40M521.84 907.89 531.52 907.89M540.54 899.35 539.82 898.46 538.94 897.86 537.98 897.61 537.00 897.71 536.07 898.16 535.27 898.94 534.66 899.97 534.27 901.19 534.14 902.50 534.27 903.81 534.66 905.03 535.27 906.06 536.07 906.84 537.00 907.29 537.98 907.39 538.94 907.14 539.82 906.54 540.54 905.65M543.41 907.40 543.41 897.60 549.96 907.40 549.96 897.60M558.64 899.04 558.20 898.48 557.59 898.04 556.86 897.74 556.06 897.61 555.24 897.65 554.47 897.87 553.79 898.25 553.26 898.76 552.92 899.36 552.78 900.02 552.87 900.68 553.16 901.30 553.65 901.84 554.29 902.25 555.04 902.51 555.86 902.60 555.86 902.40 556.72 902.49 557.52 902.75 558.21 903.16 558.73 903.70 559.04 904.32 559.13 904.98 558.99 905.64 558.62 906.24 558.06 906.75 557.34 907.13 556.51 907.35 555.64 907.39 554.79 907.26 554.01 906.96 553.36 906.52 552.89 905.96M570.52 907.40 574.15 897.60 577.78 907.40M571.83 903.87 576.47 903.87M580.40 907.40 580.40 897.60 584.33 897.60 584.33 897.60 585.01 897.68 585.64 897.93 586.18 898.32 586.60 898.83 586.86 899.42 586.95 900.05 586.86 900.68 586.60 901.27 586.18 901.78 585.64 902.17 585.01 902.42 584.33 902.50 580.40 902.50M584.03 902.50 587.05 907.40M589.67 897.60 591.59 907.40 594.21 897.60 596.83 907.40 598.74 897.60M602.27 906.62 602.27 907.50 601.56 908.97M614.57 899.85 616.48 898.68 618.40 897.60 618.40 907.40M621.02 899.85 622.93 898.68 624.85 897.60 624.85 907.40M633.41 898.58 632.30 897.70 630.79 897.60 629.93 897.75 629.13 898.20 628.44 898.92 627.91 899.85 627.58 900.94 627.47 902.11 627.47 904.17 627.47 904.17 627.56 903.39 627.85 902.66 628.30 902.02 628.90 901.50 629.61 901.14 630.39 900.96 631.19 900.96 631.97 901.14 632.68 901.50 633.28 902.02 633.74 902.66 634.02 903.39 634.12 904.17 634.02 904.94 633.74 905.67 633.28 906.31 632.68 906.83 631.97 907.19 631.19 907.38 630.39 907.38 629.61 907.19 628.90 906.83 628.30 906.31 627.85 905.67 627.56 904.94 627.47 904.17M636.74 901.72 636.85 900.65 637.19 899.66 637.71 898.81 638.40 898.15 639.20 897.74 640.07 897.60 640.93 897.74 641.73 898.15 642.42 898.81 642.95 899.66 643.28 900.65 643.39 901.72 642.79 904.46 642.79 904.46 642.65 905.37 642.27 906.19 641.67 906.84 640.91 907.26 640.07 907.40 639.22 907.26 638.47 906.84 637.86 906.19 637.48 905.37 637.34 904.46 636.74 901.72M646.01 900.25 652.06 907.40M652.06 900.25 646.01 907.40M654.68 897.60 661.33 897.60 656.59 907.40M664.07 900.28 664.23 899.57 664.59 898.91 665.11 898.36 665.77 897.94 666.52 897.68 667.32 897.60 668.11 897.70 668.86 897.98 669.50 898.41 670.01 898.98 670.35 899.64 670.50 900.36 670.45 901.09 670.20 901.78 663.95 907.40 670.81 907.40M673.43 901.72 673.54 900.65 673.87 899.66 674.40 898.81 675.09 898.15 675.89 897.74 676.75 897.60 677.61 897.74 678.42 898.15 679.10 898.81 679.63 899.66 679.97 900.65 680.08 901.72 679.47 904.46 679.47 904.46 679.34 905.37 678.95 906.19 678.35 906.84 677.59 907.26 676.75 907.40 675.91 907.26 675.15 906.84 674.55 906.19 674.16 905.37 674.03 904.46 673.43 901.72M682.70 900.25 688.75 907.40M688.75 900.25 682.70 907.40M697.62 897.60 692.38 897.60 691.77 901.91 692.24 901.96 693.11 901.37 694.12 901.06 695.19 901.08 696.19 901.42 697.03 902.05 697.62 902.90 697.90 903.89 697.84 904.90 697.45 905.85 696.76 906.63 695.85 907.16 694.81 907.39 693.75 907.30 692.78 906.88 691.99 906.19 691.47 905.30M700.64 901.72 700.75 900.65 701.09 899.66 701.61 898.81 702.30 898.15 703.11 897.74 703.97 897.60 704.83 897.74 705.63 898.15 706.32 898.81 706.85 899.66 707.18 900.65 707.29 901.72 706.69 904.46 706.69 904.46 706.55 905.37 706.17 906.19 705.57 906.84 704.81 907.26 703.97 907.40 703.13 907.26 702.37 906.84 701.76 906.19 701.38 905.37 701.24 904.46 700.64 901.72M710.82 906.62 710.82 907.50 710.11 908.97M729.36 903.82 729.26 904.75 728.95 905.61 728.45 906.35 727.80 906.92 727.05 907.28 726.24 907.40 725.43 907.28 724.68 906.92 724.03 906.35 723.53 905.61 723.22 904.75 723.12 903.82 723.22 902.90 723.53 902.03 724.03 901.29 724.68 900.73 725.43 900.37 726.24 900.25 727.05 900.37 727.80 900.73 728.45 901.29 728.95 902.03 729.26 902.90 729.36 903.82M729.36 897.60 729.36 907.40M731.99 900.25 738.03 907.40M738.03 900.25 731.99 907.40M740.65 901.32 747.31 901.32M740.65 903.68 747.31 903.68M754.97 897.60 749.93 904.26 756.78 904.26M754.97 897.60 754.97 907.40M768.17 897.60 768.17 907.40M773.81 900.25 768.17 905.05M770.29 903.68 773.81 907.40M776.43 900.25 776.43 907.40M776.43 902.11 776.43 902.21 776.54 901.60 776.84 901.05 777.31 900.62 777.90 900.34 778.55 900.25 779.20 900.34 779.79 900.62 780.26 901.05 780.56 901.60 780.67 902.21 780.67 907.40M780.67 902.21 780.67 902.21 780.77 901.60 781.07 901.05 781.54 900.62 782.13 900.34 782.78 900.25 783.44 900.34 784.03 900.62 784.50 901.05 784.80 901.60 784.90 902.21 784.90 907.40M157.06 720.51 157.14 719.70 157.39 718.95 157.77 718.31 158.28 717.82 158.87 717.51 159.50 717.40 160.13 717.51 160.72 717.82 161.23 718.31 161.61 718.95 161.86 719.70 161.94 720.51 161.50 722.58 161.50 722.58 161.40 723.27 161.12 723.88 160.67 724.38 160.12 724.69 159.50 724.80 158.88 724.69 158.33 724.38 157.88 723.88 157.60 723.27 157.50 722.58 157.06 720.51M179.56 719.43 179.69 718.89 179.95 718.39 180.33 717.97 180.82 717.66 181.37 717.46 181.95 717.40 182.54 717.48 183.08 717.68 183.55 718.01 183.93 718.44 184.18 718.94 184.29 719.48 184.25 720.03 184.07 720.56 179.48 724.80 184.51 724.80M186.44 720.51 186.52 719.70 186.76 718.95 187.15 718.31 187.66 717.82 188.25 717.51 188.88 717.40 189.51 717.51 190.10 717.82 190.61 718.31 190.99 718.95 191.24 719.70 191.32 720.51 190.88 722.58 190.88 722.58 190.78 723.27 190.49 723.88 190.05 724.38 189.50 724.69 188.88 724.80 188.26 724.69 187.70 724.38 187.26 723.88 186.98 723.27 186.88 722.58 186.44 720.51M193.24 720.51 193.33 719.70 193.57 718.95 193.96 718.31 194.47 717.82 195.05 717.51 195.69 717.40 196.32 717.51 196.91 717.82 197.41 718.31 197.80 718.95 198.05 719.70 198.13 720.51 197.68 722.58 197.68 722.58 197.59 723.27 197.30 723.88 196.86 724.38 196.30 724.69 195.69 724.80 195.07 724.69 194.51 724.38 194.07 723.88 193.79 723.27 193.69 722.58 193.24 720.51M212.48 717.40 208.78 722.43 213.82 722.43M212.48 717.40 212.48 724.80M215.74 720.51 215.82 719.70 216.07 718.95 216.46 718.31 216.96 717.82 217.55 717.51 218.18 717.40 218.81 717.51 219.40 717.82 219.91 718.31 220.30 718.95 220.54 719.70 220.62 720.51 220.18 722.58 220.18 722.58 220.08 723.27 219.80 723.88 219.36 724.38 218.80 724.69 218.18 724.80 217.57 724.69 217.01 724.38 216.57 723.88 216.28 723.27 216.18 722.58 215.74 720.51M222.55 720.51 222.63 719.70 222.88 718.95 223.26 718.31 223.77 717.82 224.36 717.51 224.99 717.40 225.62 717.51 226.21 717.82 226.72 718.31 227.11 718.95 227.35 719.70 227.43 720.51 226.99 722.58 226.99 722.58 226.89 723.27 226.61 723.88 226.17 724.38 225.61 724.69 224.99 724.80 224.37 724.69 223.82 724.38 223.37 723.88 223.09 723.27 222.99 722.58 222.55 720.51M242.53 718.14 241.72 717.47 240.61 717.40 239.97 717.52 239.38 717.86 238.88 718.40 238.49 719.10 238.25 719.92 238.16 720.80 238.16 722.36 238.16 722.36 238.23 721.77 238.44 721.22 238.78 720.74 239.22 720.35 239.74 720.07 240.31 719.93 240.90 719.93 241.47 720.07 241.99 720.35 242.43 720.74 242.77 721.22 242.98 721.77 243.05 722.36 242.98 722.94 242.77 723.49 242.43 723.98 241.99 724.37 241.47 724.64 240.90 724.78 240.31 724.78 239.74 724.64 239.22 724.37 238.78 723.98 238.44 723.49 238.23 722.94 238.16 722.36M244.97 720.51 245.05 719.70 245.30 718.95 245.69 718.31 246.19 717.82 246.78 717.51 247.41 717.40 248.05 717.51 248.63 717.82 249.14 718.31 249.53 718.95 249.77 719.70 249.86 720.51 249.41 722.58 249.41 722.58 249.31 723.27 249.03 723.88 248.59 724.38 248.03 724.69 247.41 724.80 246.80 724.69 246.24 724.38 245.80 723.88 245.51 723.27 245.42 722.58 244.97 720.51M251.78 720.51 251.86 719.70 252.11 718.95 252.49 718.31 253.00 717.82 253.59 717.51 254.22 717.40 254.85 717.51 255.44 717.82 255.95 718.31 256.34 718.95 256.58 719.70 256.66 720.51 256.22 722.58 256.22 722.58 256.12 723.27 255.84 723.88 255.40 724.38 254.84 724.69 254.22 724.80 253.60 724.69 253.05 724.38 252.60 723.88 252.32 723.27 252.22 722.58 251.78 720.51M272.06 719.21 271.95 719.77 271.65 720.28 271.17 720.68 270.57 720.94 269.91 721.03 269.25 720.94 268.65 720.68 268.17 720.28 267.87 719.77 267.76 719.21 267.87 718.65 268.17 718.15 268.65 717.75 269.25 717.49 269.91 717.40 270.57 717.49 271.17 717.75 271.65 718.15 271.95 718.65 272.06 719.21M272.35 722.91 272.23 723.50 271.89 724.02 271.34 724.44 270.66 724.71 269.91 724.80 269.15 724.71 268.47 724.44 267.93 724.02 267.59 723.50 267.47 722.91 267.59 722.33 267.93 721.80 268.47 721.39 269.15 721.12 269.91 721.03 270.66 721.12 271.34 721.39 271.89 721.80 272.23 722.33 272.35 722.91M274.28 720.51 274.36 719.70 274.60 718.95 274.99 718.31 275.50 717.82 276.09 717.51 276.72 717.40 277.35 717.51 277.94 717.82 278.44 718.31 278.83 718.95 279.08 719.70 279.16 720.51 278.72 722.58 278.72 722.58 278.62 723.27 278.33 723.88 277.89 724.38 277.34 724.69 276.72 724.80 276.10 724.69 275.54 724.38 275.10 723.88 274.82 723.27 274.72 722.58 274.28 720.51M281.08 720.51 281.17 719.70 281.41 718.95 281.80 718.31 282.30 717.82 282.89 717.51 283.53 717.40 284.16 717.51 284.75 717.82 285.25 718.31 285.64 718.95 285.88 719.70 285.97 720.51 285.52 722.58 285.52 722.58 285.43 723.27 285.14 723.88 284.70 724.38 284.14 724.69 283.53 724.80 282.91 724.69 282.35 724.38 281.91 723.88 281.63 723.27 281.53 722.58 281.08 720.51M294.40 719.10 295.81 718.21 297.22 717.40 297.22 724.80M299.14 720.51 299.22 719.70 299.47 718.95 299.86 718.31 300.36 717.82 300.95 717.51 301.58 717.40 302.21 717.51 302.80 717.82 303.31 718.31 303.70 718.95 303.94 719.70 304.02 720.51 303.58 722.58 303.58 722.58 303.48 723.27 303.20 723.88 302.76 724.38 302.20 724.69 301.58 724.80 300.96 724.69 300.41 724.38 299.97 723.88 299.68 723.27 299.58 722.58 299.14 720.51M305.95 720.51 306.03 719.70 306.28 718.95 306.66 718.31 307.17 717.82 307.76 717.51 308.39 717.40 309.02 717.51 309.61 717.82 310.12 718.31 310.50 718.95 310.75 719.70 310.83 720.51 310.39 722.58 310.39 722.58 310.29 723.27 310.01 723.88 309.56 724.38 309.01 724.69 308.39 724.80 307.77 724.69 307.22 724.38 306.77 723.88 306.49 723.27 306.39 722.58 305.95 720.51M312.76 720.51 312.84 719.70 313.08 718.95 313.47 718.31 313.98 717.82 314.57 717.51 315.20 717.40 315.83 717.51 316.42 717.82 316.92 718.31 317.31 718.95 317.56 719.70 317.64 720.51 317.20 722.58 317.20 722.58 317.10 723.27 316.81 723.88 316.37 724.38 315.82 724.69 315.20 724.80 314.58 724.69 314.02 724.38 313.58 723.88 313.30 723.27 313.20 722.58 312.76 720.51M323.63 719.10 325.04 718.21 326.45 717.40 326.45 724.80M328.45 719.43 328.58 718.89 328.84 718.39 329.22 717.97 329.71 717.66 330.26 717.46 330.84 717.40 331.43 717.48 331.97 717.68 332.44 718.01 332.82 718.44 333.07 718.94 333.18 719.48 333.14 720.03 332.96 720.56 328.37 724.80 333.40 724.80M335.33 720.51 335.41 719.70 335.65 718.95 336.04 718.31 336.55 717.82 337.14 717.51 337.77 717.40 338.40 717.51 338.99 717.82 339.50 718.31 339.88 718.95 340.13 719.70 340.21 720.51 339.77 722.58 339.77 722.58 339.67 723.27 339.38 723.88 338.94 724.38 338.39 724.69 337.77 724.80 337.15 724.69 336.59 724.38 336.15 723.88 335.87 723.27 335.77 722.58 335.33 720.51M342.13 720.51 342.22 719.70 342.46 718.95 342.85 718.31 343.36 717.82 343.94 717.51 344.58 717.40 345.21 717.51 345.80 717.82 346.30 718.31 346.69 718.95 346.94 719.70 347.02 720.51 346.57 722.58 346.57 722.58 346.48 723.27 346.19 723.88 345.75 724.38 345.19 724.69 344.58 724.80 343.96 724.69 343.40 724.38 342.96 723.88 342.68 723.27 342.58 722.58 342.13 720.51M352.94 719.10 354.34 718.21 355.75 717.40 355.75 724.80M361.37 717.40 357.67 722.43 362.71 722.43M361.37 717.40 361.37 724.80M364.63 720.51 364.71 719.70 364.96 718.95 365.35 718.31 365.85 717.82 366.44 717.51 367.07 717.40 367.70 717.51 368.29 717.82 368.80 718.31 369.19 718.95 369.43 719.70 369.51 720.51 369.07 722.58 369.07 722.58 368.97 723.27 368.69 723.88 368.25 724.38 367.69 724.69 367.07 724.80 366.46 724.69 365.90 724.38 365.46 723.88 365.17 723.27 365.07 722.58 364.63 720.51M371.44 720.51 371.52 719.70 371.77 718.95 372.15 718.31 372.66 717.82 373.25 717.51 373.88 717.40 374.51 717.51 375.10 717.82 375.61 718.31 376.00 718.95 376.24 719.70 376.32 720.51 375.88 722.58 375.88 722.58 375.78 723.27 375.50 723.88 375.06 724.38 374.50 724.69 373.88 724.80 373.26 724.69 372.71 724.38 372.26 723.88 371.98 723.27 371.88 722.58 371.44 720.51M382.32 719.10 383.72 718.21 385.13 717.40 385.13 724.80M391.42 718.14 390.61 717.47 389.50 717.40 388.86 717.52 388.27 717.86 387.77 718.40 387.38 719.10 387.14 719.92 387.05 720.80 387.05 722.36 387.05 722.36 387.12 721.77 387.33 721.22 387.67 720.74 388.11 720.35 388.63 720.07 389.20 719.93 389.79 719.93 390.36 720.07 390.88 720.35 391.32 720.74 391.66 721.22 391.87 721.77 391.94 722.36 391.87 722.94 391.66 723.49 391.32 723.98 390.88 724.37 390.36 724.64 389.79 724.78 389.20 724.78 388.63 724.64 388.11 724.37 387.67 723.98 387.33 723.49 387.12 722.94 387.05 722.36M393.86 720.51 393.94 719.70 394.19 718.95 394.58 718.31 395.08 717.82 395.67 717.51 396.30 717.40 396.94 717.51 397.52 717.82 398.03 718.31 398.42 718.95 398.66 719.70 398.75 720.51 398.30 722.58 398.30 722.58 398.20 723.27 397.92 723.88 397.48 724.38 396.92 724.69 396.30 724.80 395.69 724.69 395.13 724.38 394.69 723.88 394.40 723.27 394.31 722.58 393.86 720.51M400.67 720.51 400.75 719.70 401.00 718.95 401.38 718.31 401.89 717.82 402.48 717.51 403.11 717.40 403.74 717.51 404.33 717.82 404.84 718.31 405.23 718.95 405.47 719.70 405.55 720.51 405.11 722.58 405.11 722.58 405.01 723.27 404.73 723.88 404.29 724.38 403.73 724.69 403.11 724.80 402.49 724.69 401.94 724.38 401.49 723.88 401.21 723.27 401.11 722.58 400.67 720.51M411.62 719.10 413.03 718.21 414.43 717.40 414.43 724.80M420.95 719.21 420.84 719.77 420.54 720.28 420.06 720.68 419.46 720.94 418.80 721.03 418.14 720.94 417.54 720.68 417.06 720.28 416.76 719.77 416.65 719.21 416.76 718.65 417.06 718.15 417.54 717.75 418.14 717.49 418.80 717.40 419.46 717.49 420.06 717.75 420.54 718.15 420.84 718.65 420.95 719.21M421.24 722.91 421.12 723.50 420.78 724.02 420.23 724.44 419.55 724.71 418.80 724.80 418.04 724.71 417.36 724.44 416.82 724.02 416.48 723.50 416.36 722.91 416.48 722.33 416.82 721.80 417.36 721.39 418.04 721.12 418.80 721.03 419.55 721.12 420.23 721.39 420.78 721.80 421.12 722.33 421.24 722.91M423.17 720.51 423.25 719.70 423.49 718.95 423.88 718.31 424.39 717.82 424.98 717.51 425.61 717.40 426.24 717.51 426.83 717.82 427.33 718.31 427.72 718.95 427.97 719.70 428.05 720.51 427.61 722.58 427.61 722.58 427.51 723.27 427.22 723.88 426.78 724.38 426.23 724.69 425.61 724.80 424.99 724.69 424.43 724.38 423.99 723.88 423.71 723.27 423.61 722.58 423.17 720.51M429.97 720.51 430.06 719.70 430.30 718.95 430.69 718.31 431.19 717.82 431.78 717.51 432.42 717.40 433.05 717.51 433.64 717.82 434.14 718.31 434.53 718.95 434.77 719.70 434.86 720.51 434.41 722.58 434.41 722.58 434.32 723.27 434.03 723.88 433.59 724.38 433.03 724.69 432.42 724.80 431.80 724.69 431.24 724.38 430.80 723.88 430.52 723.27 430.42 722.58 429.97 720.51M439.90 719.43 440.02 718.89 440.28 718.39 440.67 717.97 441.15 717.66 441.70 717.46 442.29 717.40 442.87 717.48 443.42 717.68 443.89 718.01 444.26 718.44 444.51 718.94 444.62 719.48 444.58 720.03 444.40 720.56 439.82 724.80 444.85 724.80M446.77 720.51 446.86 719.70 447.10 718.95 447.49 718.31 447.99 717.82 448.58 717.51 449.21 717.40 449.85 717.51 450.44 717.82 450.94 718.31 451.33 718.95 451.57 719.70 451.66 720.51 451.21 722.58 451.21 722.58 451.11 723.27 450.83 723.88 450.39 724.38 449.83 724.69 449.21 724.80 448.60 724.69 448.04 724.38 447.60 723.88 447.31 723.27 447.22 722.58 446.77 720.51M453.58 720.51 453.66 719.70 453.91 718.95 454.30 718.31 454.80 717.82 455.39 717.51 456.02 717.40 456.65 717.51 457.24 717.82 457.75 718.31 458.14 718.95 458.38 719.70 458.46 720.51 458.02 722.58 458.02 722.58 457.92 723.27 457.64 723.88 457.20 724.38 456.64 724.69 456.02 724.80 455.40 724.69 454.85 724.38 454.41 723.88 454.12 723.27 454.02 722.58 453.58 720.51M460.39 720.51 460.47 719.70 460.72 718.95 461.10 718.31 461.61 717.82 462.20 717.51 462.83 717.40 463.46 717.51 464.05 717.82 464.56 718.31 464.94 718.95 465.19 719.70 465.27 720.51 464.83 722.58 464.83 722.58 464.73 723.27 464.45 723.88 464.00 724.38 463.45 724.69 462.83 724.80 462.21 724.69 461.66 724.38 461.21 723.88 460.93 723.27 460.83 722.58 460.39 720.51M469.13 719.43 469.25 718.89 469.52 718.39 469.90 717.97 470.38 717.66 470.93 717.46 471.52 717.40 472.10 717.48 472.65 717.68 473.12 718.01 473.49 718.44 473.74 718.94 473.85 719.48 473.82 720.03 473.63 720.56 469.05 724.80 474.08 724.80M476.09 719.43 476.21 718.89 476.47 718.39 476.86 717.97 477.34 717.66 477.89 717.46 478.47 717.40 479.06 717.48 479.60 717.68 480.08 718.01 480.45 718.44 480.70 718.94 480.81 719.48 480.77 720.03 480.59 720.56 476.00 724.80 481.03 724.80M482.96 720.51 483.04 719.70 483.29 718.95 483.67 718.31 484.18 717.82 484.77 717.51 485.40 717.40 486.03 717.51 486.62 717.82 487.13 718.31 487.52 718.95 487.76 719.70 487.84 720.51 487.40 722.58 487.40 722.58 487.30 723.27 487.02 723.88 486.57 724.38 486.02 724.69 485.40 724.80 484.78 724.69 484.23 724.38 483.78 723.88 483.50 723.27 483.40 722.58 482.96 720.51M489.77 720.51 489.85 719.70 490.09 718.95 490.48 718.31 490.99 717.82 491.58 717.51 492.21 717.40 492.84 717.51 493.43 717.82 493.94 718.31 494.32 718.95 494.57 719.70 494.65 720.51 494.21 722.58 494.21 722.58 494.11 723.27 493.82 723.88 493.38 724.38 492.83 724.69 492.21 724.80 491.59 724.69 491.03 724.38 490.59 723.88 490.31 723.27 490.21 722.58 489.77 720.51M498.43 719.43 498.56 718.89 498.82 718.39 499.20 717.97 499.69 717.66 500.24 717.46 500.82 717.40 501.41 717.48 501.95 717.68 502.42 718.01 502.80 718.44 503.05 718.94 503.16 719.48 503.12 720.03 502.94 720.56 498.35 724.80 503.38 724.80M509.01 717.40 505.31 722.43 510.34 722.43M509.01 717.40 509.01 724.80M512.26 720.51 512.35 719.70 512.59 718.95 512.98 718.31 513.48 717.82 514.07 717.51 514.70 717.40 515.34 717.51 515.93 717.82 516.43 718.31 516.82 718.95 517.06 719.70 517.15 720.51 516.70 722.58 516.70 722.58 516.61 723.27 516.32 723.88 515.88 724.38 515.32 724.69 514.70 724.80 514.09 724.69 513.53 724.38 513.09 723.88 512.80 723.27 512.71 722.58 512.26 720.51M519.07 720.51 519.15 719.70 519.40 718.95 519.79 718.31 520.29 717.82 520.88 717.51 521.51 717.40 522.14 717.51 522.73 717.82 523.24 718.31 523.63 718.95 523.87 719.70 523.95 720.51 523.51 722.58 523.51 722.58 523.41 723.27 523.13 723.88 522.69 724.38 522.13 724.69 521.51 724.80 520.90 724.69 520.34 724.38 519.90 723.88 519.61 723.27 519.51 722.58 519.07 720.51M527.81 719.43 527.94 718.89 528.20 718.39 528.58 717.97 529.06 717.66 529.62 717.46 530.20 717.40 530.78 717.48 531.33 717.68 531.80 718.01 532.18 718.44 532.43 718.94 532.53 719.48 532.50 720.03 532.32 720.56 527.73 724.80 532.76 724.80M539.05 718.14 538.24 717.47 537.13 717.40 536.50 717.52 535.91 717.86 535.40 718.40 535.01 719.10 534.77 719.92 534.69 720.80 534.69 722.36 534.69 722.36 534.76 721.77 534.96 721.22 535.30 720.74 535.74 720.35 536.26 720.07 536.83 719.93 537.42 719.93 537.99 720.07 538.51 720.35 538.96 720.74 539.29 721.22 539.50 721.77 539.57 722.36 539.50 722.94 539.29 723.49 538.96 723.98 538.51 724.37 537.99 724.64 537.42 724.78 536.83 724.78 536.26 724.64 535.74 724.37 535.30 723.98 534.96 723.49 534.76 722.94 534.69 722.36M541.49 720.51 541.58 719.70 541.82 718.95 542.21 718.31 542.71 717.82 543.30 717.51 543.94 717.40 544.57 717.51 545.16 717.82 545.66 718.31 546.05 718.95 546.29 719.70 546.38 720.51 545.93 722.58 545.93 722.58 545.84 723.27 545.55 723.88 545.11 724.38 544.55 724.69 543.94 724.80 543.32 724.69 542.76 724.38 542.32 723.88 542.03 723.27 541.94 722.58 541.49 720.51M548.30 720.51 548.38 719.70 548.63 718.95 549.02 718.31 549.52 717.82 550.11 717.51 550.74 717.40 551.38 717.51 551.96 717.82 552.47 718.31 552.86 718.95 553.10 719.70 553.19 720.51 552.74 722.58 552.74 722.58 552.64 723.27 552.36 723.88 551.92 724.38 551.36 724.69 550.74 724.80 550.13 724.69 549.57 724.38 549.13 723.88 548.84 723.27 548.75 722.58 548.30 720.51M557.12 719.43 557.24 718.89 557.50 718.39 557.89 717.97 558.37 717.66 558.92 717.46 559.51 717.40 560.09 717.48 560.63 717.68 561.11 718.01 561.48 718.44 561.73 718.94 561.84 719.48 561.80 720.03 561.62 720.56 557.03 724.80 562.07 724.80M568.58 719.21 568.47 719.77 568.17 720.28 567.69 720.68 567.09 720.94 566.43 721.03 565.77 720.94 565.17 720.68 564.70 720.28 564.39 719.77 564.29 719.21 564.39 718.65 564.70 718.15 565.17 717.75 565.77 717.49 566.43 717.40 567.09 717.49 567.69 717.75 568.17 718.15 568.47 718.65 568.58 719.21M568.87 722.91 568.75 723.50 568.41 724.02 567.87 724.44 567.19 724.71 566.43 724.80 565.68 724.71 565.00 724.44 564.46 724.02 564.11 723.50 563.99 722.91 564.11 722.33 564.46 721.80 565.00 721.39 565.68 721.12 566.43 721.03 567.19 721.12 567.87 721.39 568.41 721.80 568.75 722.33 568.87 722.91M570.80 720.51 570.88 719.70 571.12 718.95 571.51 718.31 572.02 717.82 572.61 717.51 573.24 717.40 573.87 717.51 574.46 717.82 574.97 718.31 575.35 718.95 575.60 719.70 575.68 720.51 575.24 722.58 575.24 722.58 575.14 723.27 574.86 723.88 574.41 724.38 573.86 724.69 573.24 724.80 572.62 724.69 572.07 724.38 571.62 723.88 571.34 723.27 571.24 722.58 570.80 720.51M577.61 720.51 577.69 719.70 577.93 718.95 578.32 718.31 578.83 717.82 579.42 717.51 580.05 717.40 580.68 717.51 581.27 717.82 581.77 718.31 582.16 718.95 582.41 719.70 582.49 720.51 582.05 722.58 582.05 722.58 581.95 723.27 581.66 723.88 581.22 724.38 580.67 724.69 580.05 724.80 579.43 724.69 578.87 724.38 578.43 723.88 578.15 723.27 578.05 722.58 577.61 720.51M586.69 718.62 587.03 718.11 587.53 717.72 588.15 717.48 588.84 717.40 589.51 717.50 590.12 717.78 590.60 718.19 590.90 718.70 591.00 719.27 590.88 719.84 590.57 720.35 590.08 720.75 589.46 721.01 588.78 721.10 588.04 721.10M588.34 721.10 588.71 721.10 589.45 721.19 590.13 721.45 590.67 721.85 591.02 722.36 591.15 722.93 591.04 723.50 590.71 724.01 590.18 724.42 589.51 724.70 588.77 724.80 588.02 724.72 587.33 724.48 586.78 724.09 586.41 723.58M593.22 720.51 593.30 719.70 593.55 718.95 593.94 718.31 594.44 717.82 595.03 717.51 595.66 717.40 596.29 717.51 596.88 717.82 597.39 718.31 597.78 718.95 598.02 719.70 598.10 720.51 597.66 722.58 597.66 722.58 597.56 723.27 597.28 723.88 596.84 724.38 596.28 724.69 595.66 724.80 595.04 724.69 594.49 724.38 594.05 723.88 593.76 723.27 593.66 722.58 593.22 720.51M600.03 720.51 600.11 719.70 600.36 718.95 600.74 718.31 601.25 717.82 601.84 717.51 602.47 717.40 603.10 717.51 603.69 717.82 604.20 718.31 604.58 718.95 604.83 719.70 604.91 720.51 604.47 722.58 604.47 722.58 604.37 723.27 604.09 723.88 603.64 724.38 603.09 724.69 602.47 724.80 601.85 724.69 601.30 724.38 600.85 723.88 600.57 723.27 600.47 722.58 600.03 720.51M606.84 720.51 606.92 719.70 607.16 718.95 607.55 718.31 608.06 717.82 608.65 717.51 609.28 717.40 609.91 717.51 610.50 717.82 611.00 718.31 611.39 718.95 611.64 719.70 611.72 720.51 611.28 722.58 611.28 722.58 611.18 723.27 610.89 723.88 610.45 724.38 609.90 724.69 609.28 724.80 608.66 724.69 608.10 724.38 607.66 723.88 607.38 723.27 607.28 722.58 606.84 720.51M615.92 718.62 616.26 718.11 616.76 717.72 617.38 717.48 618.07 717.40 618.74 717.50 619.35 717.78 619.83 718.19 620.13 718.70 620.23 719.27 620.11 719.84 619.80 720.35 619.31 720.75 618.69 721.01 618.01 721.10 617.27 721.10M617.57 721.10 617.94 721.10 618.69 721.19 619.36 721.45 619.90 721.85 620.25 722.36 620.38 722.93 620.27 723.50 619.94 724.01 619.41 724.42 618.74 724.70 618.00 724.80 617.25 724.72 616.56 724.48 616.01 724.09 615.64 723.58M622.53 719.43 622.66 718.89 622.92 718.39 623.30 717.97 623.79 717.66 624.34 717.46 624.92 717.40 625.51 717.48 626.05 717.68 626.52 718.01 626.90 718.44 627.15 718.94 627.26 719.48 627.22 720.03 627.04 720.56 622.45 724.80 627.48 724.80M629.41 720.51 629.49 719.70 629.73 718.95 630.12 718.31 630.63 717.82 631.22 717.51 631.85 717.40 632.48 717.51 633.07 717.82 633.58 718.31 633.96 718.95 634.21 719.70 634.29 720.51 633.85 722.58 633.85 722.58 633.75 723.27 633.46 723.88 633.02 724.38 632.47 724.69 631.85 724.80 631.23 724.69 630.67 724.38 630.23 723.88 629.95 723.27 629.85 722.58 629.41 720.51M636.21 720.51 636.30 719.70 636.54 718.95 636.93 718.31 637.44 717.82 638.02 717.51 638.66 717.40 639.29 717.51 639.88 717.82 640.38 718.31 640.77 718.95 641.02 719.70 641.10 720.51 640.65 722.58 640.65 722.58 640.56 723.27 640.27 723.88 639.83 724.38 639.27 724.69 638.66 724.80 638.04 724.69 637.48 724.38 637.04 723.88 636.76 723.27 636.66 722.58 636.21 720.51M645.23 718.62 645.56 718.11 646.06 717.72 646.69 717.48 647.37 717.40 648.05 717.50 648.66 717.78 649.13 718.19 649.44 718.70 649.53 719.27 649.42 719.84 649.10 720.35 648.61 720.75 648.00 721.01 647.31 721.10 646.57 721.10M646.87 721.10 647.24 721.10 647.99 721.19 648.67 721.45 649.21 721.85 649.56 722.36 649.68 722.93 649.57 723.50 649.24 724.01 648.72 724.42 648.05 724.70 647.30 724.80 646.55 724.72 645.87 724.48 645.31 724.09 644.95 723.58M655.45 717.40 651.75 722.43 656.79 722.43M655.45 717.40 655.45 724.80M658.71 720.51 658.79 719.70 659.04 718.95 659.43 718.31 659.93 717.82 660.52 717.51 661.15 717.40 661.78 717.51 662.37 717.82 662.88 718.31 663.27 718.95 663.51 719.70 663.59 720.51 663.15 722.58 663.15 722.58 663.05 723.27 662.77 723.88 662.33 724.38 661.77 724.69 661.15 724.80 660.54 724.69 659.98 724.38 659.54 723.88 659.25 723.27 659.15 722.58 658.71 720.51M665.52 720.51 665.60 719.70 665.85 718.95 666.23 718.31 666.74 717.82 667.33 717.51 667.96 717.40 668.59 717.51 669.18 717.82 669.69 718.31 670.08 718.95 670.32 719.70 670.40 720.51 669.96 722.58 669.96 722.58 669.86 723.27 669.58 723.88 669.14 724.38 668.58 724.69 667.96 724.80 667.34 724.69 666.79 724.38 666.34 723.88 666.06 723.27 665.96 722.58 665.52 720.51M674.61 718.62 674.94 718.11 675.44 717.72 676.07 717.48 676.75 717.40 677.43 717.50 678.03 717.78 678.51 718.19 678.81 718.70 678.91 719.27 678.80 719.84 678.48 720.35 677.99 720.75 677.37 721.01 676.69 721.10 675.95 721.10M676.25 721.10 676.62 721.10 677.37 721.19 678.04 721.45 678.58 721.85 678.93 722.36 679.06 722.93 678.95 723.50 678.62 724.01 678.09 724.42 677.43 724.70 676.68 724.80 675.93 724.72 675.24 724.48 674.69 724.09 674.32 723.58M685.50 718.14 684.69 717.47 683.58 717.40 682.94 717.52 682.35 717.86 681.85 718.40 681.46 719.10 681.22 719.92 681.13 720.80 681.13 722.36 681.13 722.36 681.20 721.77 681.41 721.22 681.75 720.74 682.19 720.35 682.71 720.07 683.28 719.93 683.87 719.93 684.44 720.07 684.96 720.35 685.40 720.74 685.74 721.22 685.95 721.77 686.02 722.36 685.95 722.94 685.74 723.49 685.40 723.98 684.96 724.37 684.44 724.64 683.87 724.78 683.28 724.78 682.71 724.64 682.19 724.37 681.75 723.98 681.41 723.49 681.20 722.94 681.13 722.36M687.94 720.51 688.02 719.70 688.27 718.95 688.66 718.31 689.16 717.82 689.75 717.51 690.38 717.40 691.02 717.51 691.60 717.82 692.11 718.31 692.50 718.95 692.74 719.70 692.83 720.51 692.38 722.58 692.38 722.58 692.28 723.27 692.00 723.88 691.56 724.38 691.00 724.69 690.38 724.80 689.77 724.69 689.21 724.38 688.77 723.88 688.48 723.27 688.39 722.58 687.94 720.51M694.75 720.51 694.83 719.70 695.08 718.95 695.46 718.31 695.97 717.82 696.56 717.51 697.19 717.40 697.82 717.51 698.41 717.82 698.92 718.31 699.31 718.95 699.55 719.70 699.63 720.51 699.19 722.58 699.19 722.58 699.09 723.27 698.81 723.88 698.37 724.38 697.81 724.69 697.19 724.80 696.57 724.69 696.02 724.38 695.57 723.88 695.29 723.27 695.19 722.58 694.75 720.51M703.91 718.62 704.24 718.11 704.75 717.72 705.37 717.48 706.05 717.40 706.73 717.50 707.34 717.78 707.82 718.19 708.12 718.70 708.22 719.27 708.10 719.84 707.78 720.35 707.29 720.75 706.68 721.01 706.00 721.10 705.26 721.10M705.55 721.10 705.92 721.10 706.67 721.19 707.35 721.45 707.89 721.85 708.24 722.36 708.37 722.93 708.26 723.50 707.92 724.01 707.40 724.42 706.73 724.70 705.98 724.80 705.23 724.72 704.55 724.48 704.00 724.09 703.63 723.58M715.03 719.21 714.92 719.77 714.62 720.28 714.14 720.68 713.54 720.94 712.88 721.03 712.22 720.94 711.62 720.68 711.14 720.28 710.84 719.77 710.73 719.21 710.84 718.65 711.14 718.15 711.62 717.75 712.22 717.49 712.88 717.40 713.54 717.49 714.14 717.75 714.62 718.15 714.92 718.65 715.03 719.21M715.32 722.91 715.20 723.50 714.86 724.02 714.31 724.44 713.63 724.71 712.88 724.80 712.12 724.71 711.44 724.44 710.90 724.02 710.56 723.50 710.44 722.91 710.56 722.33 710.90 721.80 711.44 721.39 712.12 721.12 712.88 721.03 713.63 721.12 714.31 721.39 714.86 721.80 715.20 722.33 715.32 722.91M717.25 720.51 717.33 719.70 717.57 718.95 717.96 718.31 718.47 717.82 719.06 717.51 719.69 717.40 720.32 717.51 720.91 717.82 721.41 718.31 721.80 718.95 722.05 719.70 722.13 720.51 721.69 722.58 721.69 722.58 721.59 723.27 721.30 723.88 720.86 724.38 720.31 724.69 719.69 724.80 719.07 724.69 718.51 724.38 718.07 723.88 717.79 723.27 717.69 722.58 717.25 720.51M724.05 720.51 724.14 719.70 724.38 718.95 724.77 718.31 725.27 717.82 725.86 717.51 726.50 717.40 727.13 717.51 727.72 717.82 728.22 718.31 728.61 718.95 728.85 719.70 728.94 720.51 728.49 722.58 728.49 722.58 728.40 723.27 728.11 723.88 727.67 724.38 727.11 724.69 726.50 724.80 725.88 724.69 725.32 724.38 724.88 723.88 724.60 723.27 724.50 722.58 724.05 720.51M736.56 717.40 732.86 722.43 737.89 722.43M736.56 717.40 736.56 724.80M739.82 720.51 739.90 719.70 740.14 718.95 740.53 718.31 741.04 717.82 741.63 717.51 742.26 717.40 742.89 717.51 743.48 717.82 743.98 718.31 744.37 718.95 744.62 719.70 744.70 720.51 744.26 722.58 744.26 722.58 744.16 723.27 743.87 723.88 743.43 724.38 742.88 724.69 742.26 724.80 741.64 724.69 741.08 724.38 740.64 723.88 740.36 723.27 740.26 722.58 739.82 720.51M746.62 720.51 746.71 719.70 746.95 718.95 747.34 718.31 747.85 717.82 748.43 717.51 749.07 717.40 749.70 717.51 750.29 717.82 750.79 718.31 751.18 718.95 751.42 719.70 751.51 720.51 751.06 722.58 751.06 722.58 750.97 723.27 750.68 723.88 750.24 724.38 749.68 724.69 749.07 724.80 748.45 724.69 747.89 724.38 747.45 723.88 747.17 723.27 747.07 722.58 746.62 720.51M753.43 720.51 753.52 719.70 753.76 718.95 754.15 718.31 754.65 717.82 755.24 717.51 755.87 717.40 756.51 717.51 757.10 717.82 757.60 718.31 757.99 718.95 758.23 719.70 758.32 720.51 757.87 722.58 757.87 722.58 757.77 723.27 757.49 723.88 757.05 724.38 756.49 724.69 755.87 724.80 755.26 724.69 754.70 724.38 754.26 723.88 753.97 723.27 753.88 722.58 753.43 720.51M765.79 717.40 762.09 722.43 767.12 722.43M765.79 717.40 765.79 724.80M769.13 719.43 769.25 718.89 769.52 718.39 769.90 717.97 770.38 717.66 770.93 717.46 771.52 717.40 772.10 717.48 772.65 717.68 773.12 718.01 773.49 718.44 773.74 718.94 773.85 719.48 773.82 720.03 773.63 720.56 769.05 724.80 774.08 724.80M776.00 720.51 776.09 719.70 776.33 718.95 776.72 718.31 777.22 717.82 777.81 717.51 778.44 717.40 779.08 717.51 779.67 717.82 780.17 718.31 780.56 718.95 780.80 719.70 780.89 720.51 780.44 722.58 780.44 722.58 780.34 723.27 780.06 723.88 779.62 724.38 779.06 724.69 778.44 724.80 777.83 724.69 777.27 724.38 776.83 723.88 776.54 723.27 776.45 722.58 776.00 720.51M782.81 720.51 782.89 719.70 783.14 718.95 783.53 718.31 784.03 717.82 784.62 717.51 785.25 717.40 785.88 717.51 786.47 717.82 786.98 718.31 787.37 718.95 787.61 719.70 787.69 720.51 787.25 722.58 787.25 722.58 787.15 723.27 786.87 723.88 786.43 724.38 785.87 724.69 785.25 724.80 784.63 724.69 784.08 724.38 783.64 723.88 783.35 723.27 783.25 722.58 782.81 720.51M795.09 717.40 791.39 722.43 796.43 722.43M795.09 717.40 795.09 724.80M802.05 717.40 798.35 722.43 803.38 722.43M802.05 717.40 802.05 724.80M805.31 720.51 805.39 719.70 805.63 718.95 806.02 718.31 806.53 717.82 807.12 717.51 807.75 717.40 808.38 717.51 808.97 717.82 809.48 718.31 809.86 718.95 810.11 719.70 810.19 720.51 809.75 722.58 809.75 722.58 809.65 723.27 809.37 723.88 808.92 724.38 808.37 724.69 807.75 724.80 807.13 724.69 806.57 724.38 806.13 723.88 805.85 723.27 805.75 722.58 805.31 720.51M812.11 720.51 812.20 719.70 812.44 718.95 812.83 718.31 813.34 717.82 813.92 717.51 814.56 717.40 815.19 717.51 815.78 717.82 816.28 718.31 816.67 718.95 816.92 719.70 817.00 720.51 816.55 722.58 816.55 722.58 816.46 723.27 816.17 723.88 815.73 724.38 815.17 724.69 814.56 724.80 813.94 724.69 813.38 724.38 812.94 723.88 812.66 723.27 812.56 722.58 812.11 720.51M824.47 717.40 820.77 722.43 825.81 722.43M824.47 717.40 824.47 724.80M832.10 718.14 831.28 717.47 830.17 717.40 829.54 717.52 828.95 717.86 828.44 718.40 828.06 719.10 827.81 719.92 827.73 720.80 827.73 722.36 827.73 722.36 827.80 721.77 828.01 721.22 828.34 720.74 828.78 720.35 829.31 720.07 829.88 719.93 830.47 719.93 831.04 720.07 831.56 720.35 832.00 720.74 832.33 721.22 832.54 721.77 832.61 722.36 832.54 722.94 832.33 723.49 832.00 723.98 831.56 724.37 831.04 724.64 830.47 724.78 829.88 724.78 829.31 724.64 828.78 724.37 828.34 723.98 828.01 723.49 827.80 722.94 827.73 722.36M834.54 720.51 834.62 719.70 834.86 718.95 835.25 718.31 835.76 717.82 836.35 717.51 836.98 717.40 837.61 717.51 838.20 717.82 838.71 718.31 839.09 718.95 839.34 719.70 839.42 720.51 838.98 722.58 838.98 722.58 838.88 723.27 838.60 723.88 838.15 724.38 837.60 724.69 836.98 724.80 836.36 724.69 835.80 724.38 835.36 723.88 835.08 723.27 834.98 722.58 834.54 720.51M841.35 720.51 841.43 719.70 841.67 718.95 842.06 718.31 842.57 717.82 843.16 717.51 843.79 717.40 844.42 717.51 845.01 717.82 845.51 718.31 845.90 718.95 846.15 719.70 846.23 720.51 845.79 722.58 845.79 722.58 845.69 723.27 845.40 723.88 844.96 724.38 844.40 724.69 843.79 724.80 843.17 724.69 842.61 724.38 842.17 723.88 841.89 723.27 841.79 722.58 841.35 720.51M146.98 709.97 147.06 709.17 147.30 708.43 147.69 707.80 148.19 707.31 148.77 707.00 149.39 706.90 150.01 707.00 150.60 707.31 151.09 707.80 151.48 708.43 151.72 709.17 151.80 709.97 151.36 712.01 151.36 712.01 151.27 712.69 150.99 713.30 150.55 713.78 150.00 714.09 149.39 714.20 148.78 714.09 148.23 713.78 147.80 713.30 147.52 712.69 147.42 712.01 146.98 709.97M133.49 679.90 133.61 679.37 133.87 678.88 134.25 678.47 134.72 678.15 135.26 677.96 135.84 677.90 136.42 677.97 136.96 678.18 137.42 678.50 137.79 678.92 138.04 679.42 138.14 679.95 138.11 680.50 137.93 681.02 133.40 685.20 138.37 685.20M140.27 680.97 140.35 680.17 140.59 679.43 140.97 678.80 141.47 678.31 142.05 678.00 142.67 677.90 143.30 678.00 143.88 678.31 144.38 678.80 144.76 679.43 145.00 680.17 145.08 680.97 144.65 683.01 144.65 683.01 144.55 683.69 144.27 684.30 143.83 684.78 143.28 685.09 142.67 685.20 142.07 685.09 141.52 684.78 141.08 684.30 140.80 683.69 140.70 683.01 140.27 680.97M146.98 680.97 147.06 680.17 147.30 679.43 147.69 678.80 148.19 678.31 148.77 678.00 149.39 677.90 150.01 678.00 150.60 678.31 151.09 678.80 151.48 679.43 151.72 680.17 151.80 680.97 151.36 683.01 151.36 683.01 151.27 683.69 150.99 684.30 150.55 684.78 150.00 685.09 149.39 685.20 148.78 685.09 148.23 684.78 147.80 684.30 147.52 683.69 147.42 683.01 146.98 680.97M137.05 647.90 133.40 652.86 138.37 652.86M137.05 647.90 137.05 655.20M140.27 650.97 140.35 650.17 140.59 649.43 140.97 648.80 141.47 648.31 142.05 648.00 142.67 647.90 143.30 648.00 143.88 648.31 144.38 648.80 144.76 649.43 145.00 650.17 145.08 650.97 144.65 653.01 144.65 653.01 144.55 653.69 144.27 654.30 143.83 654.78 143.28 655.09 142.67 655.20 142.07 655.09 141.52 654.78 141.08 654.30 140.80 653.69 140.70 653.01 140.27 650.97M146.98 650.97 147.06 650.17 147.30 649.43 147.69 648.80 148.19 648.31 148.77 648.00 149.39 647.90 150.01 648.00 150.60 648.31 151.09 648.80 151.48 649.43 151.72 650.17 151.80 650.97 151.36 653.01 151.36 653.01 151.27 653.69 150.99 654.30 150.55 654.78 150.00 655.09 149.39 655.20 148.78 655.09 148.23 654.78 147.80 654.30 147.52 653.69 147.42 653.01 146.98 650.97M137.86 619.63 137.05 618.97 135.96 618.90 135.34 619.01 134.75 619.35 134.26 619.88 133.87 620.58 133.63 621.39 133.55 622.26 133.55 623.79 133.55 623.79 133.62 623.21 133.83 622.67 134.16 622.19 134.59 621.81 135.10 621.54 135.67 621.40 136.25 621.40 136.81 621.54 137.33 621.81 137.76 622.19 138.09 622.67 138.30 623.21 138.37 623.79 138.30 624.37 138.09 624.91 137.76 625.39 137.33 625.77 136.81 626.04 136.25 626.18 135.67 626.18 135.10 626.04 134.59 625.77 134.16 625.39 133.83 624.91 133.62 624.37 133.55 623.79M140.27 621.97 140.35 621.17 140.59 620.43 140.97 619.80 141.47 619.31 142.05 619.00 142.68 618.90 143.30 619.00 143.88 619.31 144.38 619.80 144.76 620.43 145.00 621.17 145.08 621.97 144.65 624.01 144.65 624.01 144.55 624.69 144.27 625.30 143.83 625.78 143.28 626.09 142.68 626.20 142.07 626.09 141.52 625.78 141.08 625.30 140.80 624.69 140.70 624.01 140.27 621.97M146.98 621.97 147.06 621.17 147.30 620.43 147.69 619.80 148.19 619.31 148.77 619.00 149.39 618.90 150.01 619.00 150.60 619.31 151.09 619.80 151.48 620.43 151.72 621.17 151.80 621.97 151.36 624.01 151.36 624.01 151.27 624.69 150.99 625.30 150.55 625.78 150.00 626.09 149.39 626.20 148.78 626.09 148.23 625.78 147.80 625.30 147.52 624.69 147.42 624.01 146.98 621.97M138.08 591.69 137.97 592.24 137.67 592.74 137.20 593.14 136.61 593.39 135.96 593.48 135.30 593.39 134.71 593.14 134.25 592.74 133.95 592.24 133.84 591.69 133.95 591.14 134.25 590.64 134.71 590.24 135.30 589.99 135.96 589.90 136.61 589.99 137.20 590.24 137.67 590.64 137.97 591.14 138.08 591.69M138.37 595.34 138.25 595.91 137.91 596.43 137.37 596.84 136.70 597.11 135.96 597.20 135.21 597.11 134.54 596.84 134.01 596.43 133.67 595.91 133.55 595.34 133.67 594.76 134.01 594.24 134.54 593.83 135.21 593.57 135.96 593.48 136.70 593.57 137.37 593.83 137.91 594.24 138.25 594.76 138.37 595.34M140.27 592.97 140.35 592.17 140.59 591.43 140.97 590.80 141.47 590.31 142.05 590.00 142.68 589.90 143.30 590.00 143.88 590.31 144.38 590.80 144.76 591.43 145.00 592.17 145.08 592.97 144.65 595.01 144.65 595.01 144.55 595.69 144.27 596.30 143.83 596.78 143.28 597.09 142.68 597.20 142.07 597.09 141.52 596.78 141.08 596.30 140.80 595.69 140.70 595.01 140.27 592.97M146.98 592.97 147.06 592.17 147.30 591.43 147.69 590.80 148.19 590.31 148.77 590.00 149.39 589.90 150.01 590.00 150.60 590.31 151.09 590.80 151.48 591.43 151.72 592.17 151.80 592.97 151.36 595.01 151.36 595.01 151.27 595.69 150.99 596.30 150.55 596.78 150.00 597.09 149.39 597.20 148.78 597.09 148.23 596.78 147.80 596.30 147.52 595.69 147.42 595.01 146.98 592.97M128.88 561.58 130.27 560.70 131.65 559.90 131.65 567.20M133.55 562.97 133.63 562.17 133.87 561.43 134.26 560.80 134.75 560.31 135.34 560.00 135.96 559.90 136.58 560.00 137.16 560.31 137.66 560.80 138.05 561.43 138.29 562.17 138.37 562.97 137.93 565.01 137.93 565.01 137.83 565.69 137.55 566.30 137.12 566.78 136.57 567.09 135.96 567.20 135.35 567.09 134.80 566.78 134.36 566.30 134.08 565.69 133.99 565.01 133.55 562.97M140.27 562.97 140.35 562.17 140.59 561.43 140.97 560.80 141.47 560.31 142.05 560.00 142.68 559.90 143.30 560.00 143.88 560.31 144.38 560.80 144.76 561.43 145.00 562.17 145.08 562.97 144.65 565.01 144.65 565.01 144.55 565.69 144.27 566.30 143.83 566.78 143.28 567.09 142.68 567.20 142.07 567.09 141.52 566.78 141.08 566.30 140.80 565.69 140.70 565.01 140.27 562.97M146.98 562.97 147.06 562.17 147.30 561.43 147.69 560.80 148.19 560.31 148.77 560.00 149.39 559.90 150.01 560.00 150.60 560.31 151.09 560.80 151.48 561.43 151.72 562.17 151.80 562.97 151.36 565.01 151.36 565.01 151.27 565.69 150.99 566.30 150.55 566.78 150.00 567.09 149.39 567.20 148.78 567.09 148.23 566.78 147.80 566.30 147.52 565.69 147.42 565.01 146.98 562.97M128.73 532.58 130.12 531.70 131.51 530.90 131.51 538.20M133.49 532.90 133.61 532.37 133.87 531.88 134.25 531.47 134.72 531.15 135.26 530.96 135.84 530.90 136.42 530.97 136.96 531.18 137.42 531.50 137.79 531.92 138.04 532.42 138.14 532.95 138.11 533.50 137.93 534.02 133.40 538.20 138.37 538.20M140.27 533.97 140.35 533.17 140.59 532.43 140.97 531.80 141.47 531.31 142.05 531.00 142.68 530.90 143.30 531.00 143.88 531.31 144.38 531.80 144.76 532.43 145.00 533.17 145.08 533.97 144.65 536.01 144.65 536.01 144.55 536.69 144.27 537.30 143.83 537.78 143.28 538.09 142.68 538.20 142.07 538.09 141.52 537.78 141.08 537.30 140.80 536.69 140.70 536.01 140.27 533.97M146.98 533.97 147.06 533.17 147.30 532.43 147.69 531.80 148.19 531.31 148.77 531.00 149.39 530.90 150.01 531.00 150.60 531.31 151.09 531.80 151.48 532.43 151.72 533.17 151.80 533.97 151.36 536.01 151.36 536.01 151.27 536.69 150.99 537.30 150.55 537.78 150.00 538.09 149.39 538.20 148.78 538.09 148.23 537.78 147.80 537.30 147.52 536.69 147.42 536.01 146.98 533.97M128.73 503.58 130.12 502.70 131.51 501.90 131.51 509.20M137.05 501.90 133.40 506.86 138.37 506.86M137.05 501.90 137.05 509.20M140.27 504.97 140.35 504.17 140.59 503.43 140.97 502.80 141.47 502.31 142.05 502.00 142.68 501.90 143.30 502.00 143.88 502.31 144.38 502.80 144.76 503.43 145.00 504.17 145.08 504.97 144.65 507.01 144.65 507.01 144.55 507.69 144.27 508.30 143.83 508.78 143.28 509.09 142.68 509.20 142.07 509.09 141.52 508.78 141.08 508.30 140.80 507.69 140.70 507.01 140.27 504.97M146.98 504.97 147.06 504.17 147.30 503.43 147.69 502.80 148.19 502.31 148.77 502.00 149.39 501.90 150.01 502.00 150.60 502.31 151.09 502.80 151.48 503.43 151.72 504.17 151.80 504.97 151.36 507.01 151.36 507.01 151.27 507.69 150.99 508.30 150.55 508.78 150.00 509.09 149.39 509.20 148.78 509.09 148.23 508.78 147.80 508.30 147.52 507.69 147.42 507.01 146.98 504.97M128.88 474.58 130.27 473.70 131.65 472.90 131.65 480.20M137.86 473.63 137.05 472.97 135.96 472.90 135.34 473.01 134.75 473.35 134.26 473.88 133.87 474.58 133.63 475.39 133.55 476.26 133.55 477.79 133.55 477.79 133.62 477.21 133.83 476.67 134.16 476.19 134.59 475.81 135.10 475.54 135.67 475.40 136.25 475.40 136.81 475.54 137.33 475.81 137.76 476.19 138.09 476.67 138.30 477.21 138.37 477.79 138.30 478.37 138.09 478.91 137.76 479.39 137.33 479.77 136.81 480.04 136.25 480.18 135.67 480.18 135.10 480.04 134.59 479.77 134.16 479.39 133.83 478.91 133.62 478.37 133.55 477.79M140.27 475.97 140.35 475.17 140.59 474.43 140.97 473.80 141.47 473.31 142.05 473.00 142.68 472.90 143.30 473.00 143.88 473.31 144.38 473.80 144.76 474.43 145.00 475.17 145.08 475.97 144.65 478.01 144.65 478.01 144.55 478.69 144.27 479.30 143.83 479.78 143.28 480.09 142.68 480.20 142.07 480.09 141.52 479.78 141.08 479.30 140.80 478.69 140.70 478.01 140.27 475.97M146.98 475.97 147.06 475.17 147.30 474.43 147.69 473.80 148.19 473.31 148.77 473.00 149.39 472.90 150.01 473.00 150.60 473.31 151.09 473.80 151.48 474.43 151.72 475.17 151.80 475.97 151.36 478.01 151.36 478.01 151.27 478.69 150.99 479.30 150.55 479.78 150.00 480.09 149.39 480.20 148.78 480.09 148.23 479.78 147.80 479.30 147.52 478.69 147.42 478.01 146.98 475.97M128.88 444.58 130.27 443.70 131.65 442.90 131.65 450.20M138.08 444.69 137.97 445.24 137.67 445.74 137.20 446.14 136.61 446.39 135.96 446.48 135.30 446.39 134.71 446.14 134.25 445.74 133.95 445.24 133.84 444.69 133.95 444.14 134.25 443.64 134.71 443.24 135.30 442.99 135.96 442.90 136.61 442.99 137.20 443.24 137.67 443.64 137.97 444.14 138.08 444.69M138.37 448.34 138.25 448.91 137.91 449.43 137.37 449.84 136.70 450.11 135.96 450.20 135.21 450.11 134.54 449.84 134.01 449.43 133.67 448.91 133.55 448.34 133.67 447.76 134.01 447.24 134.54 446.83 135.21 446.57 135.96 446.48 136.70 446.57 137.37 446.83 137.91 447.24 138.25 447.76 138.37 448.34M140.27 445.97 140.35 445.17 140.59 444.43 140.97 443.80 141.47 443.31 142.05 443.00 142.68 442.90 143.30 443.00 143.88 443.31 144.38 443.80 144.76 444.43 145.00 445.17 145.08 445.97 144.65 448.01 144.65 448.01 144.55 448.69 144.27 449.30 143.83 449.78 143.28 450.09 142.68 450.20 142.07 450.09 141.52 449.78 141.08 449.30 140.80 448.69 140.70 448.01 140.27 445.97M146.98 445.97 147.06 445.17 147.30 444.43 147.69 443.80 148.19 443.31 148.77 443.00 149.39 442.90 150.01 443.00 150.60 443.31 151.09 443.80 151.48 444.43 151.72 445.17 151.80 445.97 151.36 448.01 151.36 448.01 151.27 448.69 150.99 449.30 150.55 449.78 150.00 450.09 149.39 450.20 148.78 450.09 148.23 449.78 147.80 449.30 147.52 448.69 147.42 448.01 146.98 445.97M126.77 415.90 126.89 415.37 127.15 414.88 127.53 414.47 128.01 414.15 128.55 413.96 129.13 413.90 129.70 413.97 130.24 414.18 130.71 414.50 131.07 414.92 131.32 415.42 131.43 415.95 131.39 416.50 131.21 417.02 126.69 421.20 131.65 421.20M133.55 416.97 133.63 416.17 133.87 415.43 134.26 414.80 134.75 414.31 135.34 414.00 135.96 413.90 136.58 414.00 137.16 414.31 137.66 414.80 138.05 415.43 138.29 416.17 138.37 416.97 137.93 419.01 137.93 419.01 137.83 419.69 137.55 420.30 137.12 420.78 136.57 421.09 135.96 421.20 135.35 421.09 134.80 420.78 134.36 420.30 134.08 419.69 133.99 419.01 133.55 416.97M140.27 416.97 140.35 416.17 140.59 415.43 140.97 414.80 141.47 414.31 142.05 414.00 142.68 413.90 143.30 414.00 143.88 414.31 144.38 414.80 144.76 415.43 145.00 416.17 145.08 416.97 144.65 419.01 144.65 419.01 144.55 419.69 144.27 420.30 143.83 420.78 143.28 421.09 142.68 421.20 142.07 421.09 141.52 420.78 141.08 420.30 140.80 419.69 140.70 419.01 140.27 416.97M146.98 416.97 147.06 416.17 147.30 415.43 147.69 414.80 148.19 414.31 148.77 414.00 149.39 413.90 150.01 414.00 150.60 414.31 151.09 414.80 151.48 415.43 151.72 416.17 151.80 416.97 151.36 419.01 151.36 419.01 151.27 419.69 150.99 420.30 150.55 420.78 150.00 421.09 149.39 421.20 148.78 421.09 148.23 420.78 147.80 420.30 147.52 419.69 147.42 419.01 146.98 416.97M126.62 386.90 126.75 386.37 127.00 385.88 127.38 385.47 127.86 385.15 128.40 384.96 128.98 384.90 129.56 384.97 130.09 385.18 130.56 385.50 130.93 385.92 131.17 386.42 131.28 386.95 131.25 387.50 131.07 388.02 126.54 392.20 131.51 392.20M133.49 386.90 133.61 386.37 133.87 385.88 134.25 385.47 134.72 385.15 135.26 384.96 135.84 384.90 136.42 384.97 136.96 385.18 137.42 385.50 137.79 385.92 138.04 386.42 138.14 386.95 138.11 387.50 137.93 388.02 133.40 392.20 138.37 392.20M140.27 387.97 140.35 387.17 140.59 386.43 140.97 385.80 141.47 385.31 142.05 385.00 142.68 384.90 143.30 385.00 143.88 385.31 144.38 385.80 144.76 386.43 145.00 387.17 145.08 387.97 144.65 390.01 144.65 390.01 144.55 390.69 144.27 391.30 143.83 391.78 143.28 392.09 142.68 392.20 142.07 392.09 141.52 391.78 141.08 391.30 140.80 390.69 140.70 390.01 140.27 387.97M146.98 387.97 147.06 387.17 147.30 386.43 147.69 385.80 148.19 385.31 148.77 385.00 149.39 384.90 150.01 385.00 150.60 385.31 151.09 385.80 151.48 386.43 151.72 387.17 151.80 387.97 151.36 390.01 151.36 390.01 151.27 390.69 150.99 391.30 150.55 391.78 150.00 392.09 149.39 392.20 148.78 392.09 148.23 391.78 147.80 391.30 147.52 390.69 147.42 390.01 146.98 387.97M126.62 356.90 126.75 356.37 127.00 355.88 127.38 355.47 127.86 355.15 128.40 354.96 128.98 354.90 129.56 354.97 130.09 355.18 130.56 355.50 130.93 355.92 131.17 356.42 131.28 356.95 131.25 357.50 131.07 358.02 126.54 362.20 131.51 362.20M137.05 354.90 133.40 359.86 138.37 359.86M137.05 354.90 137.05 362.20M140.27 357.97 140.35 357.17 140.59 356.43 140.97 355.80 141.47 355.31 142.05 355.00 142.68 354.90 143.30 355.00 143.88 355.31 144.38 355.80 144.76 356.43 145.00 357.17 145.08 357.97 144.65 360.01 144.65 360.01 144.55 360.69 144.27 361.30 143.83 361.78 143.28 362.09 142.68 362.20 142.07 362.09 141.52 361.78 141.08 361.30 140.80 360.69 140.70 360.01 140.27 357.97M146.98 357.97 147.06 357.17 147.30 356.43 147.69 355.80 148.19 355.31 148.77 355.00 149.39 354.90 150.01 355.00 150.60 355.31 151.09 355.80 151.48 356.43 151.72 357.17 151.80 357.97 151.36 360.01 151.36 360.01 151.27 360.69 150.99 361.30 150.55 361.78 150.00 362.09 149.39 362.20 148.78 362.09 148.23 361.78 147.80 361.30 147.52 360.69 147.42 360.01 146.98 357.97M126.77 327.90 126.89 327.37 127.15 326.88 127.53 326.47 128.01 326.15 128.55 325.96 129.13 325.90 129.70 325.97 130.24 326.18 130.71 326.50 131.07 326.92 131.32 327.42 131.43 327.95 131.39 328.50 131.21 329.02 126.69 333.20 131.65 333.20M137.86 326.63 137.05 325.97 135.96 325.90 135.34 326.01 134.75 326.35 134.26 326.88 133.87 327.58 133.63 328.39 133.55 329.26 133.55 330.79 133.55 330.79 133.62 330.21 133.83 329.67 134.16 329.19 134.59 328.81 135.10 328.54 135.67 328.40 136.25 328.40 136.81 328.54 137.33 328.81 137.76 329.19 138.09 329.67 138.30 330.21 138.37 330.79 138.30 331.37 138.09 331.91 137.76 332.39 137.33 332.77 136.81 333.04 136.25 333.18 135.67 333.18 135.10 333.04 134.59 332.77 134.16 332.39 133.83 331.91 133.62 331.37 133.55 330.79M140.27 328.97 140.35 328.17 140.59 327.43 140.97 326.80 141.47 326.31 142.05 326.00 142.68 325.90 143.30 326.00 143.88 326.31 144.38 326.80 144.76 327.43 145.00 328.17 145.08 328.97 144.65 331.01 144.65 331.01 144.55 331.69 144.27 332.30 143.83 332.78 143.28 333.09 142.68 333.20 142.07 333.09 141.52 332.78 141.08 332.30 140.80 331.69 140.70 331.01 140.27 328.97M146.98 328.97 147.06 328.17 147.30 327.43 147.69 326.80 148.19 326.31 148.77 326.00 149.39 325.90 150.01 326.00 150.60 326.31 151.09 326.80 151.48 327.43 151.72 328.17 151.80 328.97 151.36 331.01 151.36 331.01 151.27 331.69 150.99 332.30 150.55 332.78 150.00 333.09 149.39 333.20 148.78 333.09 148.23 332.78 147.80 332.30 147.52 331.69 147.42 331.01 146.98 328.97M126.77 298.90 126.89 298.37 127.15 297.88 127.53 297.47 128.01 297.15 128.55 296.96 129.13 296.90 129.70 296.97 130.24 297.18 130.71 297.50 131.07 297.92 131.32 298.42 131.43 298.95 131.39 299.50 131.21 300.02 126.69 304.20 131.65 304.20M138.08 298.69 137.97 299.24 137.67 299.74 137.20 300.14 136.61 300.39 135.96 300.48 135.30 300.39 134.71 300.14 134.25 299.74 133.95 299.24 133.84 298.69 133.95 298.14 134.25 297.64 134.71 297.24 135.30 296.99 135.96 296.90 136.61 296.99 137.20 297.24 137.67 297.64 137.97 298.14 138.08 298.69M138.37 302.34 138.25 302.91 137.91 303.43 137.37 303.84 136.70 304.11 135.96 304.20 135.21 304.11 134.54 303.84 134.01 303.43 133.67 302.91 133.55 302.34 133.67 301.76 134.01 301.24 134.54 300.83 135.21 300.57 135.96 300.48 136.70 300.57 137.37 300.83 137.91 301.24 138.25 301.76 138.37 302.34M140.27 299.97 140.35 299.17 140.59 298.43 140.97 297.80 141.47 297.31 142.05 297.00 142.68 296.90 143.30 297.00 143.88 297.31 144.38 297.80 144.76 298.43 145.00 299.17 145.08 299.97 144.65 302.01 144.65 302.01 144.55 302.69 144.27 303.30 143.83 303.78 143.28 304.09 142.68 304.20 142.07 304.09 141.52 303.78 141.08 303.30 140.80 302.69 140.70 302.01 140.27 299.97M146.98 299.97 147.06 299.17 147.30 298.43 147.69 297.80 148.19 297.31 148.77 297.00 149.39 296.90 150.01 297.00 150.60 297.31 151.09 297.80 151.48 298.43 151.72 299.17 151.80 299.97 151.36 302.01 151.36 302.01 151.27 302.69 150.99 303.30 150.55 303.78 150.00 304.09 149.39 304.20 148.78 304.09 148.23 303.78 147.80 303.30 147.52 302.69 147.42 302.01 146.98 299.97M493.13 756.28 492.39 756.81 491.74 757.48 491.21 758.27 490.82 759.14 490.58 760.08 490.50 761.05 490.58 762.02 490.82 762.96 491.21 763.83 491.74 764.62 492.39 765.29 493.13 765.82M495.16 757.30 495.16 764.80M499.44 759.32 495.16 763.00M496.76 761.95 499.44 764.80M501.42 759.32 501.42 764.80M501.42 760.75 501.42 760.82 501.50 760.36 501.73 759.94 502.08 759.61 502.53 759.40 503.03 759.32 503.52 759.40 503.97 759.61 504.33 759.94 504.55 760.36 504.63 760.82 504.63 764.80M504.63 760.82 504.63 760.82 504.71 760.36 504.94 759.94 505.29 759.61 505.74 759.40 506.24 759.32 506.73 759.40 507.18 759.61 507.53 759.94 507.76 760.36 507.84 760.82 507.84 764.80M509.87 756.28 510.61 756.81 511.26 757.48 511.79 758.27 512.18 759.14 512.42 760.08 512.50 761.05 512.42 762.02 512.18 762.96 511.79 763.83 511.26 764.62 510.61 765.29 509.87 765.82M892.12 299.51 892.31 298.71 892.70 297.98 893.27 297.35 893.99 296.88 894.80 296.59 895.67 296.50 896.54 296.61 897.35 296.92 898.06 297.41 898.61 298.04 898.98 298.79 899.14 299.59 899.09 300.41 898.82 301.19 892.00 307.50 899.48 307.50M902.34 301.12 902.46 299.92 902.83 298.81 903.40 297.85 904.15 297.12 905.03 296.66 905.97 296.50 906.91 296.66 907.78 297.12 908.54 297.85 909.11 298.81 909.48 299.92 909.60 301.12 908.94 304.20 908.94 304.20 908.79 305.22 908.37 306.14 907.72 306.87 906.89 307.34 905.97 307.50 905.05 307.34 904.22 306.87 903.57 306.14 903.15 305.22 903.00 304.20 902.34 301.12M912.46 306.84 913.01 306.84 913.01 307.50 912.46 307.50 912.46 306.84M892.00 324.79 899.26 324.79 894.09 335.79M902.12 335.13 902.67 335.13 902.67 335.79 902.12 335.79 902.12 335.13M892.12 356.08 892.31 355.28 892.70 354.55 893.27 353.93 893.99 353.45 894.80 353.16 895.67 353.07 896.54 353.18 897.35 353.49 898.06 353.98 898.61 354.62 898.98 355.36 899.14 356.17 899.09 356.99 898.82 357.77 892.00 364.07 899.48 364.07M902.34 363.41 902.89 363.41 902.89 364.07 902.34 364.07 902.34 363.41M892.00 385.98 892.12 384.78 892.49 383.67 893.06 382.71 893.82 381.98 894.69 381.52 895.63 381.36 896.57 381.52 897.45 381.98 898.20 382.71 898.77 383.67 899.14 384.78 899.26 385.98 898.60 389.06 898.60 389.06 898.45 390.08 898.03 391.00 897.38 391.73 896.55 392.20 895.63 392.36 894.71 392.20 893.88 391.73 893.23 391.00 892.81 390.08 892.66 389.06 892.00 385.98M902.12 391.70 902.67 391.70 902.67 392.36 902.12 392.36 902.12 391.70M913.23 384.05 913.07 384.89 912.62 385.64 911.92 386.23 911.03 386.62 910.04 386.75 909.05 386.62 908.16 386.23 907.46 385.64 907.01 384.89 906.85 384.05 907.01 383.22 907.46 382.47 908.16 381.87 909.05 381.49 910.04 381.36 911.03 381.49 911.92 381.87 912.62 382.47 913.07 383.22 913.23 384.05M913.67 389.55 913.49 390.42 912.98 391.20 912.17 391.82 911.16 392.22 910.04 392.36 908.92 392.22 907.91 391.82 907.10 391.20 906.59 390.42 906.41 389.55 906.59 388.69 907.10 387.90 907.91 387.28 908.92 386.89 910.04 386.75 911.16 386.89 912.17 387.28 912.98 387.90 913.49 388.69 913.67 389.55M892.00 414.26 892.12 413.07 892.49 411.95 893.06 411.00 893.82 410.26 894.69 409.80 895.63 409.64 896.57 409.80 897.45 410.26 898.20 411.00 898.77 411.95 899.14 413.07 899.26 414.26 898.60 417.34 898.60 417.34 898.45 418.36 898.03 419.28 897.38 420.01 896.55 420.48 895.63 420.64 894.71 420.48 893.88 420.01 893.23 419.28 892.81 418.36 892.66 417.34 892.00 414.26M902.12 419.98 902.67 419.98 902.67 420.64 902.12 420.64 902.12 419.98M911.91 409.64 906.41 417.12 913.89 417.12M911.91 409.64 911.91 420.64M892.00 442.55 892.12 441.35 892.49 440.24 893.06 439.28 893.82 438.55 894.69 438.09 895.63 437.93 896.57 438.09 897.45 438.55 898.20 439.28 898.77 440.24 899.14 441.35 899.26 442.55 898.60 445.63 898.60 445.63 898.45 446.65 898.03 447.57 897.38 448.30 896.55 448.77 895.63 448.93 894.71 448.77 893.88 448.30 893.23 447.57 892.81 446.65 892.66 445.63 892.00 442.55M902.12 448.27 902.67 448.27 902.67 448.93 902.12 448.93 902.12 448.27M906.53 440.94 906.72 440.14 907.11 439.41 907.68 438.78 908.40 438.31 909.21 438.02 910.08 437.93 910.95 438.04 911.76 438.35 912.47 438.84 913.02 439.47 913.39 440.22 913.55 441.02 913.50 441.84 913.23 442.62 906.41 448.93 913.89 448.93M892.00 470.84 892.12 469.64 892.49 468.53 893.06 467.57 893.82 466.83 894.69 466.37 895.63 466.22 896.57 466.37 897.45 466.83 898.20 467.57 898.77 468.53 899.14 469.64 899.26 470.84 898.60 473.92 898.60 473.92 898.45 474.94 898.03 475.86 897.38 476.59 896.55 477.05 895.63 477.22 894.71 477.05 893.88 476.59 893.23 475.86 892.81 474.94 892.66 473.92 892.00 470.84M902.12 476.56 902.67 476.56 902.67 477.22 902.12 477.22 902.12 476.56M906.41 468.75 908.50 467.43 910.59 466.22 910.59 477.22M892.00 499.12 892.12 497.93 892.49 496.81 893.06 495.86 893.82 495.12 894.69 494.66 895.63 494.50 896.57 494.66 897.45 495.12 898.20 495.86 898.77 496.81 899.14 497.93 899.26 499.12 898.60 502.20 898.60 502.20 898.45 503.22 898.03 504.14 897.38 504.87 896.55 505.34 895.63 505.50 894.71 505.34 893.88 504.87 893.23 504.14 892.81 503.22 892.66 502.20 892.00 499.12M902.12 504.84 902.67 504.84 902.67 505.50 902.12 505.50 902.12 504.84M906.41 499.12 906.53 497.93 906.90 496.81 907.47 495.86 908.23 495.12 909.10 494.66 910.04 494.50 910.98 494.66 911.86 495.12 912.61 495.86 913.18 496.81 913.55 497.93 913.67 499.12 913.01 502.20 913.01 502.20 912.86 503.22 912.44 504.14 911.79 504.87 910.96 505.34 910.04 505.50 909.12 505.34 908.29 504.87 907.64 504.14 907.22 503.22 907.07 502.20 906.41 499.12M892.00 529.28 901.90 529.28M904.76 527.41 904.88 526.21 905.25 525.10 905.82 524.14 906.58 523.41 907.45 522.95 908.39 522.79 909.33 522.95 910.21 523.41 910.96 524.14 911.53 525.10 911.90 526.21 912.02 527.41 911.36 530.49 911.36 530.49 911.21 531.51 910.79 532.43 910.14 533.16 909.31 533.63 908.39 533.79 907.47 533.63 906.64 533.16 905.99 532.43 905.57 531.51 905.42 530.49 904.76 527.41M914.88 533.13 915.43 533.13 915.43 533.79 914.88 533.79 914.88 533.13M919.17 525.32 921.26 524.00 923.35 522.79 923.35 533.79M892.00 557.56 901.90 557.56M904.76 555.69 904.88 554.50 905.25 553.38 905.82 552.43 906.58 551.69 907.45 551.23 908.39 551.07 909.33 551.23 910.21 551.69 910.96 552.43 911.53 553.38 911.90 554.50 912.02 555.69 911.36 558.77 911.36 558.77 911.21 559.79 910.79 560.71 910.14 561.44 909.31 561.91 908.39 562.07 907.47 561.91 906.64 561.44 905.99 560.71 905.57 559.79 905.42 558.77 904.76 555.69M914.88 561.41 915.43 561.41 915.43 562.07 914.88 562.07 914.88 561.41M919.29 554.09 919.48 553.28 919.87 552.55 920.44 551.93 921.16 551.46 921.97 551.17 922.84 551.07 923.71 551.19 924.52 551.50 925.23 551.98 925.78 552.62 926.15 553.36 926.31 554.17 926.26 554.99 925.99 555.77 919.17 562.07 926.65 562.07M892.00 585.85 901.90 585.85M904.76 583.98 904.88 582.78 905.25 581.67 905.82 580.71 906.58 579.98 907.45 579.52 908.39 579.36 909.33 579.52 910.21 579.98 910.96 580.71 911.53 581.67 911.90 582.78 912.02 583.98 911.36 587.06 911.36 587.06 911.21 588.08 910.79 589.00 910.14 589.73 909.31 590.20 908.39 590.36 907.47 590.20 906.64 589.73 905.99 589.00 905.57 588.08 905.42 587.06 904.76 583.98M914.88 589.70 915.43 589.70 915.43 590.36 914.88 590.36 914.88 589.70M924.67 579.36 919.17 586.84 926.65 586.84M924.67 579.36 924.67 590.36M892.00 614.14 901.90 614.14M904.76 612.27 904.88 611.07 905.25 609.96 905.82 609.00 906.58 608.26 907.45 607.80 908.39 607.65 909.33 607.80 910.21 608.26 910.96 609.00 911.53 609.96 911.90 611.07 912.02 612.27 911.36 615.35 911.36 615.35 911.21 616.37 910.79 617.29 910.14 618.02 909.31 618.48 908.39 618.65 907.47 618.48 906.64 618.02 905.99 617.29 905.57 616.37 905.42 615.35 904.76 612.27M914.88 617.99 915.43 617.99 915.43 618.65 914.88 618.65 914.88 617.99M925.99 610.34 925.83 611.17 925.38 611.93 924.68 612.52 923.79 612.90 922.80 613.04 921.81 612.90 920.92 612.52 920.22 611.93 919.77 611.17 919.61 610.34 919.77 609.51 920.22 608.76 920.92 608.16 921.81 607.78 922.80 607.65 923.79 607.78 924.68 608.16 925.38 608.76 925.83 609.51 925.99 610.34M926.43 615.84 926.25 616.71 925.74 617.49 924.93 618.11 923.92 618.51 922.80 618.65 921.68 618.51 920.67 618.11 919.86 617.49 919.35 616.71 919.17 615.84 919.35 614.97 919.86 614.19 920.67 613.57 921.68 613.17 922.80 613.04 923.92 613.17 924.93 613.57 925.74 614.19 926.25 614.97 926.43 615.84M892.00 642.42 901.90 642.42M904.88 638.94 905.07 638.14 905.46 637.41 906.03 636.79 906.75 636.31 907.56 636.02 908.43 635.93 909.30 636.04 910.11 636.35 910.82 636.84 911.37 637.48 911.74 638.22 911.90 639.03 911.85 639.85 911.58 640.63 904.76 646.93 912.24 646.93M915.10 646.27 915.65 646.27 915.65 646.93 915.10 646.93 915.10 646.27M892.00 670.71 901.90 670.71M904.76 664.22 912.02 664.22 906.85 675.22M914.88 674.56 915.43 674.56 915.43 675.22 914.88 675.22 914.88 674.56M892.00 698.99 901.90 698.99M904.88 695.52 905.07 694.71 905.46 693.98 906.03 693.36 906.75 692.89 907.56 692.60 908.43 692.50 909.30 692.62 910.11 692.93 910.82 693.41 911.37 694.05 911.74 694.79 911.90 695.60 911.85 696.42 911.58 697.20 904.76 703.50 912.24 703.50M915.10 697.12 915.22 695.93 915.59 694.81 916.16 693.86 916.91 693.12 917.79 692.66 918.73 692.50 919.67 692.66 920.54 693.12 921.30 693.86 921.87 694.81 922.24 695.93 922.36 697.12 921.70 700.20 921.70 700.20 921.55 701.22 921.13 702.14 920.48 702.87 919.65 703.34 918.73 703.50 917.81 703.34 916.98 702.87 916.33 702.14 915.91 701.22 915.76 700.20 915.10 697.12M925.22 702.84 925.77 702.84 925.77 703.50 925.22 703.50 925.22 702.84" fill="none" stroke="#000" stroke-width="1" stroke-linejoin="round" stroke-linecap="round" shape-rendering="crispEdges"/><g transform="translate(92.1,497.2) rotate(-90)"><path d="M-9.47 -9.09 -10.32 -8.52 -11.05 -7.80 -11.65 -6.97 -12.09 -6.03 -12.36 -5.03 -12.45 -4.00 -12.36 -2.97 -12.09 -1.97 -11.65 -1.03 -11.05 -0.20 -10.32 0.52 -9.47 1.09M-7.18 -8.00 -7.18 0.00M-2.33 -5.84 -7.18 -1.92M-5.36 -3.04 -2.33 0.00M-0.09 -5.84 -0.09 0.00M-0.09 -4.32 -0.09 -4.24 0.00 -4.73 0.26 -5.18 0.66 -5.53 1.17 -5.76 1.73 -5.84 2.29 -5.76 2.80 -5.53 3.20 -5.18 3.46 -4.73 3.54 -4.24 3.54 0.00M3.54 -4.24 3.54 -4.24 3.63 -4.73 3.89 -5.18 4.29 -5.53 4.80 -5.76 5.36 -5.84 5.92 -5.76 6.43 -5.53 6.83 -5.18 7.09 -4.73 7.18 -4.24 7.18 0.00M9.47 -9.09 10.32 -8.52 11.05 -7.80 11.65 -6.97 12.09 -6.03 12.36 -5.03 12.45 -4.00 12.36 -2.97 12.09 -1.97 11.65 -1.03 11.05 -0.20 10.32 0.52 9.47 1.09" fill="none" stroke="#000" stroke-width="1" stroke-linejoin="round" stroke-linecap="round" shape-rendering="crispEdges"/></g>
</svg>
</body></html>
